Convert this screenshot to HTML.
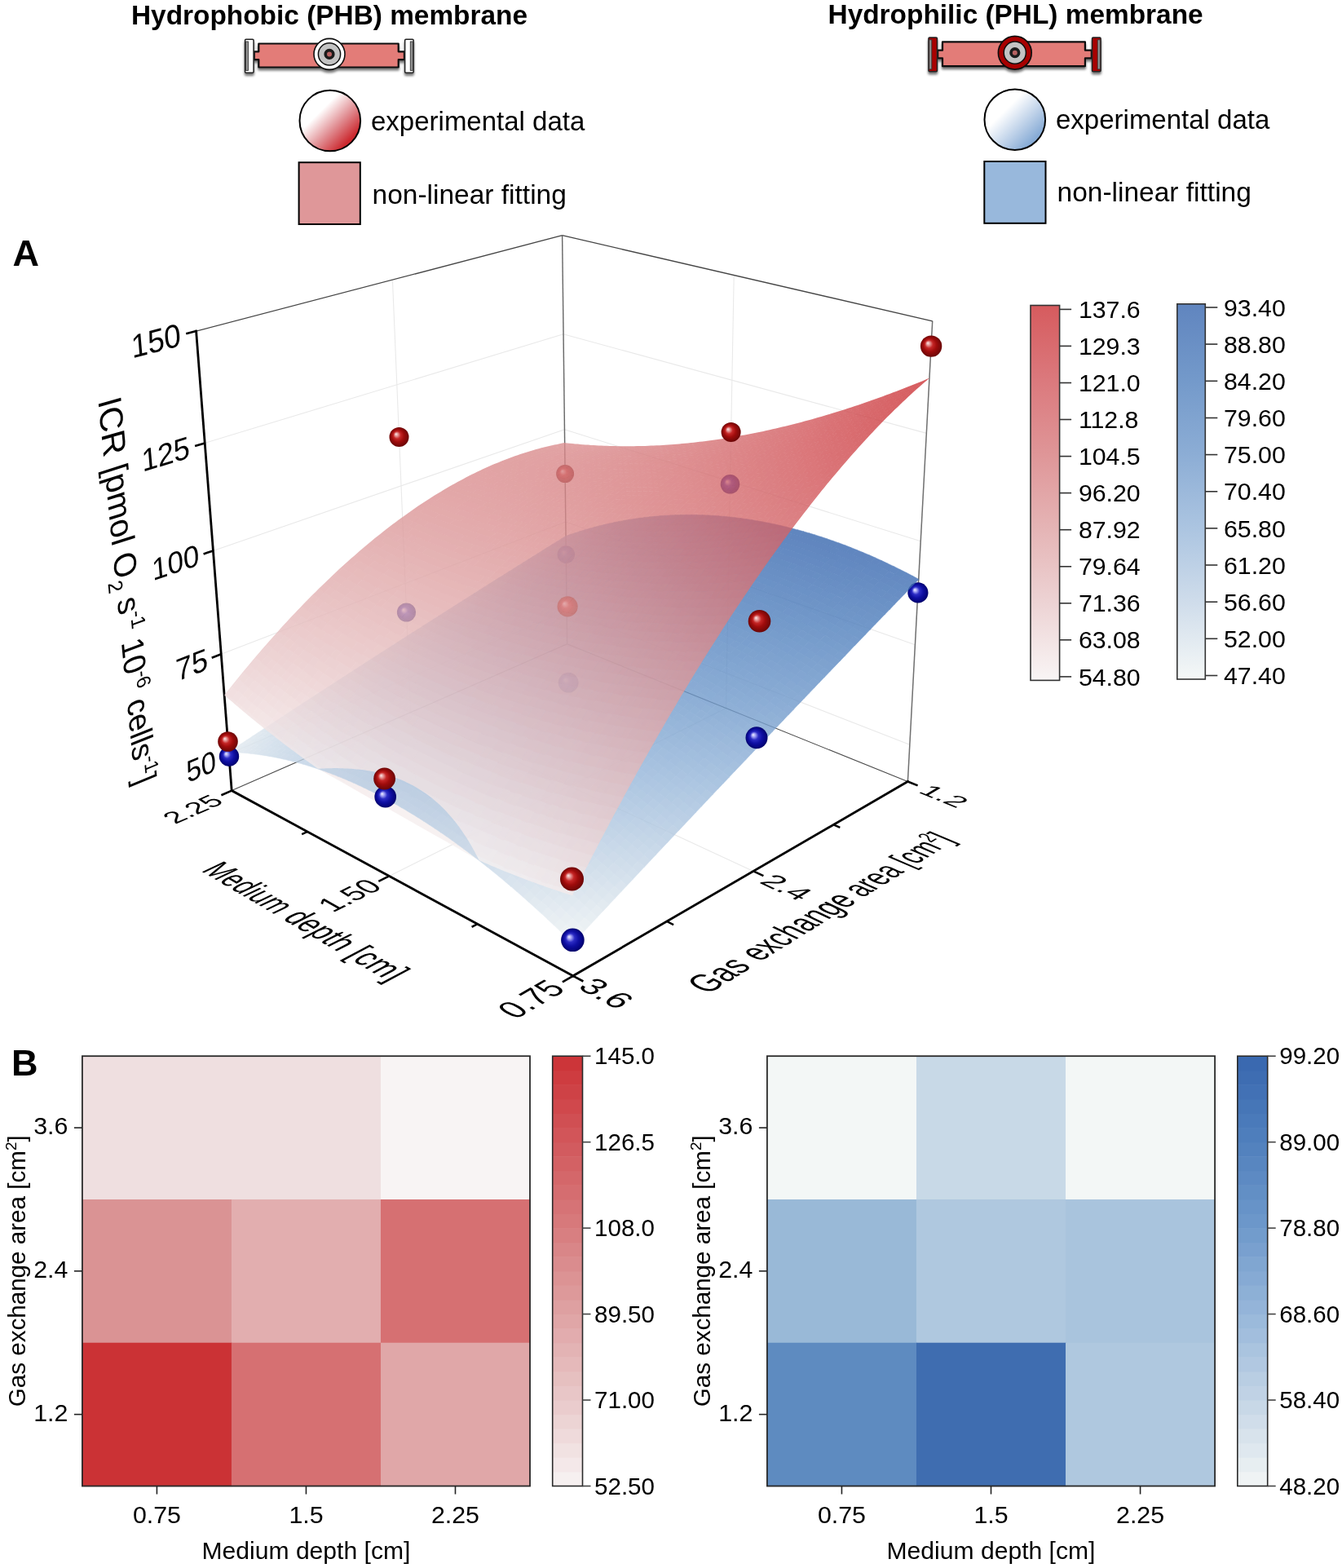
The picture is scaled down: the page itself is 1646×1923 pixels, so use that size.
<!DOCTYPE html>
<html><head><meta charset="utf-8"><title>ICR response surfaces</title>
<style>html,body{margin:0;padding:0;background:#fff;width:1646px;height:1923px;overflow:hidden} body{position:relative}</style>
</head><body>
<svg width="1646" height="1923" viewBox="0 0 1646 1923" style="position:absolute;left:0;top:0">
<defs>
<filter id="shadow" x="-10%" y="-20%" width="120%" height="160%"><feGaussianBlur in="SourceAlpha" stdDeviation="1.6"/><feOffset dx="0" dy="3" result="b"/><feComponentTransfer><feFuncA type="linear" slope="0.55"/></feComponentTransfer><feMerge><feMergeNode/><feMergeNode in="SourceGraphic"/></feMerge></filter>
<linearGradient id="lgR" x1="0.2" y1="0.2" x2="0.85" y2="0.85"><stop offset="0.22" stop-color="#ffffff"/><stop offset="0.6" stop-color="#e18f94"/><stop offset="0.95" stop-color="#cc2a30"/></linearGradient>
<linearGradient id="lgB" x1="0.2" y1="0.2" x2="0.85" y2="0.85"><stop offset="0.22" stop-color="#ffffff"/><stop offset="0.6" stop-color="#c2d4ea"/><stop offset="0.95" stop-color="#88acd6"/></linearGradient>
<radialGradient id="sphR" cx="0.5" cy="0.5" r="0.52" fx="0.34" fy="0.35"><stop offset="0" stop-color="#fbeaea"/><stop offset="0.16" stop-color="#e69696"/><stop offset="0.36" stop-color="#c42626"/><stop offset="0.6" stop-color="#a00c0c"/><stop offset="0.85" stop-color="#7c0808"/><stop offset="1" stop-color="#660606"/></radialGradient>
<radialGradient id="sphB" cx="0.5" cy="0.5" r="0.52" fx="0.34" fy="0.36"><stop offset="0" stop-color="#f0f0ff"/><stop offset="0.16" stop-color="#a0a0f4"/><stop offset="0.36" stop-color="#2c2cc4"/><stop offset="0.6" stop-color="#1010a4"/><stop offset="0.85" stop-color="#050582"/><stop offset="1" stop-color="#030362"/></radialGradient>
<linearGradient id="cbR" x1="0" y1="0" x2="0" y2="1"><stop offset="0.00" stop-color="#d65b5e"/><stop offset="0.20" stop-color="#db797d"/><stop offset="0.40" stop-color="#df9698"/><stop offset="0.60" stop-color="#e5b5b6"/><stop offset="0.80" stop-color="#edd4d5"/><stop offset="1.00" stop-color="#f9f5f5"/></linearGradient>
<linearGradient id="cbB" x1="0" y1="0" x2="0" y2="1"><stop offset="0.00" stop-color="#6085bf"/><stop offset="0.20" stop-color="#7399ca"/><stop offset="0.40" stop-color="#8cadd5"/><stop offset="0.60" stop-color="#acc5e1"/><stop offset="0.80" stop-color="#d0ddeb"/><stop offset="1.00" stop-color="#f5f8f7"/></linearGradient>
</defs>
<rect width="1646" height="1923" fill="#fff"/>
<text x="404" y="30" text-anchor="middle" font-weight="bold" font-size="33.4" style="font-family:'Liberation Sans',Arial,sans-serif">Hydrophobic (PHB) membrane</text>
<text x="1245.6" y="28.8" text-anchor="middle" font-weight="bold" font-size="33.4" style="font-family:'Liberation Sans',Arial,sans-serif">Hydrophilic (PHL) membrane</text>
<g filter="url(#shadow)">
<path d="M317.3,53.5 H488.7 V63.3 H495.9 V73.2 H488.7 V82.5 H317.3 V73.2 H311.8 V63.3 H317.3 Z" fill="#e37b78" stroke="#111" stroke-width="2.2" stroke-linejoin="round"/>
<rect x="300.55" y="48.25" width="10.5" height="40.900000000000006" rx="1.2" fill="#ffffff" stroke="#222" stroke-width="1.5"/>
<rect x="496.65" y="48.25" width="10.5" height="40.900000000000006" rx="1.2" fill="#ffffff" stroke="#222" stroke-width="1.5"/>
<rect x="301.40000000000003" y="51.0" width="3.0" height="35.400000000000006" fill="#959595" stroke="#333" stroke-width="0.9"/>
<rect x="503.29999999999995" y="51.0" width="3.0" height="35.400000000000006" fill="#959595" stroke="#333" stroke-width="0.9"/>
<circle cx="404" cy="66.4" r="19.0" fill="#ffffff" stroke="#111" stroke-width="1.6"/>
<circle cx="404" cy="66.4" r="13.6" fill="#c3c3c3" stroke="#111" stroke-width="1.5"/>
<circle cx="404" cy="66.4" r="4.8" fill="#b86262" stroke="#1a1a1a" stroke-width="3.6"/>
</g>
<g filter="url(#shadow)">
<path d="M1156.0,51.300000000000004 H1330.9 V61.7 H1338.8 V71.4 H1330.9 V81.2 H1156.0 V71.4 H1150.2 V61.7 H1156.0 Z" fill="#e37b78" stroke="#111" stroke-width="2.2" stroke-linejoin="round"/>
<rect x="1138.95" y="46.05" width="10.5" height="41.60000000000001" rx="1.2" fill="#a80000" stroke="#222" stroke-width="1.5"/>
<rect x="1339.55" y="46.05" width="10.5" height="41.60000000000001" rx="1.2" fill="#a80000" stroke="#222" stroke-width="1.5"/>
<rect x="1139.8" y="48.8" width="3.0" height="36.10000000000001" fill="#959595" stroke="#333" stroke-width="0.9"/>
<rect x="1346.2" y="48.8" width="3.0" height="36.10000000000001" fill="#959595" stroke="#333" stroke-width="0.9"/>
<circle cx="1244.8" cy="64.7" r="20.4" fill="#a80000" stroke="#111" stroke-width="1.7"/>
<circle cx="1244.8" cy="64.7" r="13.6" fill="#c3c3c3" stroke="#111" stroke-width="1.5"/>
<circle cx="1244.8" cy="64.7" r="4.8" fill="#b86262" stroke="#1a1a1a" stroke-width="3.6"/>
</g>
<circle cx="404.8" cy="148" r="37.3" fill="url(#lgR)" stroke="#000" stroke-width="2"/>
<rect x="366.6" y="199.2" width="75.2" height="75.8" fill="#df9799" stroke="#000" stroke-width="2"/>
<text x="455" y="160.3" font-size="33" style="font-family:'Liberation Sans',Arial,sans-serif">experimental data</text>
<text x="456.5" y="249.5" font-size="33.5" style="font-family:'Liberation Sans',Arial,sans-serif">non-linear fitting</text>
<circle cx="1244.8" cy="146.7" r="37.3" fill="url(#lgB)" stroke="#000" stroke-width="2"/>
<rect x="1207.3" y="198.0" width="75.2" height="75.8" fill="#98b8dc" stroke="#000" stroke-width="2"/>
<text x="1295" y="157.6" font-size="33" style="font-family:'Liberation Sans',Arial,sans-serif">experimental data</text>
<text x="1296.5" y="247" font-size="33.5" style="font-family:'Liberation Sans',Arial,sans-serif">non-linear fitting</text>
<text x="15.5" y="326" font-weight="bold" font-size="45" style="font-family:'Liberation Sans',Arial,sans-serif">A</text>
<line x1="280.7" y1="924.4" x2="695.1" y2="749.2" stroke="#e9e9e9" stroke-width="1.1" />
<line x1="695.1" y1="749.2" x2="1115.8" y2="913.2" stroke="#e9e9e9" stroke-width="1.1" />
<line x1="271.2" y1="802.3" x2="693.8" y2="639.9" stroke="#e9e9e9" stroke-width="1.1" />
<line x1="693.8" y1="639.9" x2="1122.4" y2="790.8" stroke="#e9e9e9" stroke-width="1.1" />
<line x1="261.4" y1="675.4" x2="692.4" y2="526.8" stroke="#e9e9e9" stroke-width="1.1" />
<line x1="692.4" y1="526.8" x2="1129.2" y2="663.7" stroke="#e9e9e9" stroke-width="1.1" />
<line x1="251.2" y1="543.4" x2="691.0" y2="409.8" stroke="#e9e9e9" stroke-width="1.1" />
<line x1="691.0" y1="409.8" x2="1136.4" y2="531.4" stroke="#e9e9e9" stroke-width="1.1" />
<line x1="503.7" y1="873.7" x2="481.4" y2="343.1" stroke="#e9e9e9" stroke-width="1.1" />
<line x1="890.5" y1="868.5" x2="900.2" y2="337.4" stroke="#e9e9e9" stroke-width="1.1" />
<line x1="477.3" y1="1074.4" x2="890.5" y2="868.5" stroke="#e9e9e9" stroke-width="1.1" />
<line x1="924.0" y1="1068.4" x2="503.7" y2="873.7" stroke="#e9e9e9" stroke-width="1.1" />
<line x1="284.2" y1="969.6" x2="695.6" y2="789.8" stroke="#4a4a4a" stroke-width="1.1" />
<line x1="695.6" y1="789.8" x2="1113.4" y2="958.5" stroke="#4a4a4a" stroke-width="1.1" />
<line x1="695.6" y1="789.8" x2="689.6" y2="288.7" stroke="#6a6a6a" stroke-width="1.45" />
<line x1="1113.4" y1="958.5" x2="1143.7" y2="393.8" stroke="#707070" stroke-width="1.5" />
<line x1="240.6" y1="406.1" x2="689.6" y2="288.7" stroke="#454545" stroke-width="1.35" />
<line x1="689.6" y1="288.7" x2="1143.7" y2="393.8" stroke="#454545" stroke-width="1.35" />
<line x1="284.2" y1="969.6" x2="240.6" y2="406.1" stroke="#000" stroke-width="2.8" stroke-linecap="square"/>
<line x1="284.2" y1="969.6" x2="702.9" y2="1196.8" stroke="#000" stroke-width="2.8" stroke-linecap="square"/>
<line x1="702.9" y1="1196.8" x2="1113.4" y2="958.5" stroke="#000" stroke-width="2.8" stroke-linecap="square"/>
<line x1="280.7" y1="924.4" x2="269.4" y2="929.2" stroke="#000" stroke-width="2.6" />
<line x1="271.2" y1="802.3" x2="259.7" y2="806.7" stroke="#000" stroke-width="2.6" />
<line x1="261.4" y1="675.4" x2="249.6" y2="679.4" stroke="#000" stroke-width="2.6" />
<line x1="251.2" y1="543.4" x2="239.1" y2="547.1" stroke="#000" stroke-width="2.6" />
<line x1="240.6" y1="406.1" x2="228.2" y2="409.3" stroke="#000" stroke-width="2.6" />
<line x1="284.2" y1="969.6" x2="271.4" y2="975.2" stroke="#000" stroke-width="2.6" />
<line x1="477.3" y1="1074.4" x2="464.3" y2="1080.8" stroke="#000" stroke-width="2.6" />
<line x1="702.9" y1="1196.8" x2="689.9" y2="1204.3" stroke="#000" stroke-width="2.6" />
<line x1="377.1" y1="1020.0" x2="370.2" y2="1023.2" stroke="#000" stroke-width="2.4" />
<line x1="585.6" y1="1133.1" x2="578.6" y2="1136.9" stroke="#000" stroke-width="2.4" />
<line x1="702.9" y1="1196.8" x2="715.4" y2="1203.5" stroke="#000" stroke-width="2.6" />
<line x1="924.0" y1="1068.4" x2="936.4" y2="1074.1" stroke="#000" stroke-width="2.6" />
<line x1="1113.4" y1="958.5" x2="1125.6" y2="963.4" stroke="#000" stroke-width="2.6" />
<line x1="817.9" y1="1130.0" x2="826.1" y2="1134.1" stroke="#000" stroke-width="2.4" />
<line x1="1022.3" y1="1011.4" x2="1030.3" y2="1014.9" stroke="#000" stroke-width="2.4" />
<defs><g id="rm" stroke-width="0.5"><path fill=#cc3236 stroke=#cc3236 d="M1151.3 456.9l-9.1 3.7l-6.1 5.4l9 -3.7z"/><path fill=#cc3337 stroke=#cc3337 d="M1145.1 462.1l-9 3.6l-6.2 5.5l9.1 -3.5z"/><path fill=#cc3438 stroke=#cc3438 d="M1139 467.4l-9.1 3.6l-6.2 5.7l9 -3.4zM1142.7 460.6l-9 3.6l-6.2 5.3l9 -3.5z"/><path fill=#cd3539 stroke=#cd3539 d="M1132.8 473l-9.1 3.4l-6.2 5.9l9 -3.4z"/><path fill=#cd373b stroke=#cd373b d="M1126.5 478.6l-9 3.4l-6.3 6l9 -3.2zM1127.9 469.2l-8.9 3.4l-6.2 5.4l9 -3.3z"/><path fill=#cd383c stroke=#cd383c d="M1120.2 484.4l-9 3.3l-6.3 6.2l9 -3.2zM1124.1 476.4l-8.9 3.3l-6.3 5.8l9 -3.2z"/><path fill=#cd3a3e stroke=#cd3a3e d="M1113.9 490.4l-9 3.2l-6.3 6.3l8.9 -3zM1111.6 487.7l-8.9 3.2l-6.3 6.1l8.9 -3zM1115.6 479.8l-8.9 3.2l-6.3 5.7l8.9 -3.1zM1119.4 472.6l-8.8 3.4l-6.2 5.3l8.9 -3.2z"/><path fill=#cd3b3f stroke=#cd3b3f d="M1107.6 496.5l-9 3.1l-6.4 6.5l8.9 -2.9zM1109.3 485.3l-8.8 3.1l-6.3 5.9l8.8 -3zM1113.3 477.8l-8.9 3.2l-6.2 5.5l8.8 -3.1zM1117.1 471.1l-8.8 3.3l-6.1 5.1l8.8 -3.2z"/><path fill=#ce3d41 stroke=#ce3d41 d="M1101.2 502.8l-8.9 3l-6.5 6.7l8.9 -2.9zM1099 499.7l-8.9 3l-6.4 6.4l8.8 -2.9zM1103.1 491l-8.9 3l-6.3 6.1l8.8 -3zM1100.8 488.5l-8.8 3l-6.3 5.9l8.8 -3zM1104.8 481l-8.8 3.2l-6.2 5.4l8.8 -3.1zM1108.7 474.4l-8.8 3.2l-6.1 5.1l8.8 -3.2z"/><path fill=#ce3e42 stroke=#ce3e42 d="M1094.8 509.3l-8.9 2.9l-6.5 6.8l8.9 -2.8zM1096.8 496.8l-8.9 2.9l-6.3 6.3l8.8 -2.9zM1098.6 486.3l-8.7 3l-6.3 5.6l8.8 -3zM1102.6 479.2l-8.8 3.2l-6.1 5.2l8.7 -3.1z"/><path fill=#ce4044 stroke=#ce4044 d="M1088.4 515.9l-8.9 2.8l-6.6 7l8.9 -2.7zM1090.5 502.7l-8.9 2.9l-6.4 6.4l8.8 -2.8zM1088.3 499.8l-8.8 2.9l-6.4 6.1l8.8 -2.8zM1092.4 491.6l-8.7 3l-6.3 5.7l8.7 -2.9zM1094.3 482.4l-8.7 3.1l-6.2 5.1l8.7 -3z"/><path fill=#cf4246 stroke=#cf4246 d="M1081.9 522.6l-8.9 2.7l-6.6 7.2l8.9 -2.6zM1079.8 518.7l-8.8 2.8l-6.6 6.9l8.8 -2.6zM1079.9 502.8l-8.7 2.8l-6.4 6l8.7 -2.7z"/><path fill=#cf4448 stroke=#cf4448 d="M1075.4 529.5l-8.9 2.6l-6.6 7.4l8.9 -2.6zM1073.3 525.4l-8.8 2.6l-6.6 7.1l8.8 -2.5zM1071.3 521.6l-8.8 2.6l-6.5 6.8l8.7 -2.5zM1073.6 508.6l-8.7 2.7l-6.5 6.2l8.7 -2.6zM1071.5 505.6l-8.6 2.7l-6.4 6l8.6 -2.6zM1075.7 497.6l-8.6 2.8l-6.3 5.5l8.6 -2.7zM1079.8 490.3l-8.6 2.9l-6.2 5.2l8.6 -2.8zM1083.9 483.9l-8.6 2.9l-6.2 4.8l8.6 -2.8z"/><path fill=#cf464a stroke=#cf464a d="M1068.9 536.6l-8.9 2.5l-6.6 7.5l8.8 -2.4zM1066.8 532.2l-8.8 2.6l-6.6 7.2l8.8 -2.4zM1064.8 528.1l-8.7 2.6l-6.6 7l8.7 -2.5zM1062.8 524.3l-8.7 2.5l-6.5 6.8l8.7 -2.5zM1065.2 511.4l-8.6 2.6l-6.5 6.1l8.7 -2.5zM1067.5 500.4l-8.6 2.7l-6.3 5.5l8.6 -2.6zM1071.6 493.2l-8.5 2.8l-6.3 5.2l8.6 -2.7zM1075.7 486.9l-8.6 2.8l-6.1 4.8l8.5 -2.8z"/><path fill=#cf484c stroke=#cf484c d="M1062.3 543.8l-8.8 2.4l-6.7 7.7l8.8 -2.4zM1060.3 539.2l-8.8 2.5l-6.6 7.4l8.8 -2.4zM1058.4 534.9l-8.8 2.4l-6.6 7.2l8.7 -2.4zM1056.4 530.8l-8.7 2.4l-6.6 7l8.7 -2.4zM1056.9 514.1l-8.6 2.5l-6.4 6.1l8.6 -2.5zM1059.2 503.2l-8.5 2.6l-6.3 5.5l8.6 -2.6zM1063.4 496.1l-8.5 2.7l-6.2 5l8.5 -2.6zM1067.6 489.8l-8.5 2.7l-6.1 4.7l8.4 -2.7z"/><path fill=#d04a4e stroke=#d04a4e d="M1055.7 551.2l-8.8 2.3l-6.7 7.9l8.8 -2.3zM1053.8 546.3l-8.8 2.4l-6.7 7.6l8.8 -2.3zM1051.8 541.8l-8.7 2.3l-6.6 7.4l8.7 -2.3zM1049.9 537.4l-8.7 2.4l-6.6 7.1l8.7 -2.3zM1048 533.3l-8.6 2.4l-6.6 6.8l8.6 -2.3zM1046.1 529.5l-8.6 2.3l-6.5 6.6l8.6 -2.3zM1048.7 516.7l-8.6 2.4l-6.4 6l8.6 -2.3zM1051.1 505.9l-8.5 2.5l-6.3 5.4l8.5 -2.5zM1055.3 498.8l-8.4 2.7l-6.2 4.9l8.4 -2.5zM1059.5 492.6l-8.4 2.7l-6.2 4.6l8.5 -2.6z"/><path fill=#d04c50 stroke=#d04c50 d="M1049.1 558.7l-8.8 2.3l-6.8 8l8.8 -2.2zM1047.2 553.6l-8.8 2.3l-6.7 7.7l8.8 -2.1zM1045.3 548.8l-8.7 2.3l-6.7 7.5l8.7 -2.2zM1043.4 544.2l-8.7 2.3l-6.6 7.3l8.7 -2.2zM1041.5 539.9l-8.6 2.3l-6.6 7l8.6 -2.2zM1039.7 535.8l-8.6 2.3l-6.6 6.7l8.6 -2.2zM1037.8 531.9l-8.5 2.3l-6.5 6.5l8.5 -2.2zM1040.5 519.2l-8.5 2.4l-6.4 5.9l8.5 -2.3zM1043 508.5l-8.4 2.4l-6.3 5.3l8.4 -2.3zM1047.3 501.5l-8.4 2.5l-6.2 4.9l8.4 -2.4zM1051.5 495.3l-8.4 2.6l-6.1 4.6l8.4 -2.6z"/><path fill=#d04e52 stroke=#d04e52 d="M1042.5 566.4l-8.8 2.2l-6.8 8.1l8.8 -2.1zM1040.6 561.1l-8.8 2.2l-6.7 7.9l8.7 -2.1zM1035 546.6l-8.6 2.2l-6.6 7.2l8.6 -2.1zM1033.2 542.3l-8.6 2.2l-6.5 6.9l8.5 -2.1zM1031.4 538.2l-8.5 2.2l-6.6 6.7l8.5 -2.2zM1029.6 534.3l-8.5 2.2l-6.5 6.5l8.5 -2.2zM1032.3 521.7l-8.4 2.3l-6.4 5.8l8.4 -2.2zM1035 511l-8.4 2.4l-6.3 5.2l8.4 -2.3zM1039.3 504.1l-8.4 2.5l-6.2 4.8l8.4 -2.4zM1043.5 498l-8.3 2.5l-6.1 4.5l8.3 -2.5z"/><path fill=#d15054 stroke=#d15054 d="M1035.8 574.3l-8.8 2.1l-6.8 8.3l8.7 -2zM1034 568.7l-8.8 2.1l-6.8 8l8.8 -2zM1025 544.6l-8.6 2.1l-6.6 6.8l8.6 -2zM1023.2 540.5l-8.5 2.1l-6.5 6.6l8.4 -2zM1021.4 536.6l-8.4 2.1l-6.5 6.4l8.4 -2zM1024.3 524.1l-8.4 2.2l-6.4 5.7l8.4 -2.1zM1022.5 521.1l-8.3 2.2l-6.4 5.5l8.3 -2.1zM1027 513.5l-8.4 2.3l-6.2 5.1l8.3 -2.2zM1031.3 506.6l-8.3 2.4l-6.2 4.7l8.3 -2.2zM1035.6 500.6l-8.3 2.4l-6.1 4.4l8.3 -2.4z"/><path fill=#d15256 stroke=#d15256 d="M1029.1 582.3l-8.8 2l-6.8 8.4l8.7 -1.9zM1027.3 576.5l-8.7 2l-6.9 8.2l8.8 -1.9zM1016.7 546.8l-8.4 2l-6.6 6.8l8.5 -2zM1015 542.7l-8.4 2l-6.5 6.6l8.4 -2zM1013.3 538.8l-8.4 2.1l-6.5 6.3l8.4 -2zM1011.6 535.2l-8.3 2l-6.5 6.1l8.3 -2zM1016.2 526.4l-8.3 2.1l-6.4 5.7l8.3 -2.1zM1014.5 523.4l-8.3 2.1l-6.3 5.5l8.3 -2.1zM1019 515.8l-8.2 2.2l-6.3 5.1l8.2 -2.1zM1023.4 509.1l-8.2 2.2l-6.2 4.7l8.2 -2.2zM1027.7 503.1l-8.2 2.3l-6.1 4.3l8.2 -2.3z"/><path fill=#d15458 stroke=#d15458 d="M1022.4 590.5l-8.8 1.9l-6.9 8.6l8.7 -1.8zM1020.6 584.4l-8.7 1.9l-6.9 8.4l8.7 -1.9zM1018.8 578.6l-8.6 1.9l-6.8 8.1l8.6 -1.8zM1006.9 544.9l-8.3 1.9l-6.6 6.4l8.4 -1.8zM1005.3 541l-8.4 1.9l-6.5 6.2l8.3 -1.8zM1003.6 537.3l-8.3 2l-6.5 6l8.3 -1.9zM1008.3 528.6l-8.3 2l-6.4 5.6l8.3 -1.9zM1006.6 525.6l-8.2 2.1l-6.4 5.3l8.2 -1.9zM1011.1 518.1l-8.2 2.1l-6.3 5l8.2 -2zM1015.6 511.4l-8.2 2.2l-6.2 4.6l8.2 -2.1zM1019.9 505.5l-8.1 2.2l-6.1 4.3l8.1 -2.2z"/><path fill=#d2575b stroke=#d2575b d="M1015.6 598.8l-8.8 1.8l-6.9 8.8l8.8 -1.7zM1003.8 588.4l-8.6 1.7l-6.8 8.2l8.5 -1.7zM1002.1 582.6l-8.5 1.7l-6.8 8l8.5 -1.7zM1000.5 577l-8.5 1.8l-6.8 7.7l8.5 -1.7zM998.9 571.7l-8.5 1.8l-6.7 7.5l8.4 -1.7zM997.2 566.7l-8.4 1.8l-6.7 7.2l8.4 -1.7zM995.6 561.9l-8.3 1.8l-6.7 7l8.4 -1.7zM994 557.3l-8.3 1.8l-6.6 6.8l8.3 -1.7zM992.4 553l-8.3 1.8l-6.5 6.5l8.3 -1.7zM990.9 548.9l-8.3 1.8l-6.5 6.3l8.2 -1.7zM994 536l-8.2 1.9l-6.4 5.6l8.2 -1.7zM992.5 532.8l-8.2 1.9l-6.4 5.4l8.2 -1.8zM997.1 525l-8.1 2l-6.4 5l8.2 -1.8zM1001.6 518l-8.1 2l-6.2 4.7l8.1 -1.9zM1006.1 511.8l-8.1 2.1l-6.1 4.3l8.1 -2z"/><path fill=#d2595d stroke=#d2595d d="M1008.8 607.3l-8.7 1.7l-7 9l8.7 -1.7zM995.5 590.2l-8.6 1.7l-6.8 8.1l8.5 -1.6zM993.9 584.4l-8.5 1.7l-6.8 7.9l8.5 -1.6zM992.3 578.9l-8.5 1.7l-6.7 7.6l8.4 -1.6zM986 559.2l-8.3 1.7l-6.6 6.7l8.3 -1.6zM984.4 554.9l-8.2 1.7l-6.6 6.5l8.3 -1.7zM982.9 550.8l-8.2 1.7l-6.5 6.2l8.2 -1.6zM981.4 547l-8.2 1.7l-6.5 5.9l8.2 -1.6zM984.6 534.8l-8.1 1.8l-6.4 5.4l8.1 -1.8zM989.3 527.1l-8.1 1.9l-6.3 5l8.1 -1.8zM987.7 524.5l-8 1.9l-6.3 4.8l8.1 -1.8zM998.4 514l-8 2l-6.2 4.3l8 -2zM992.3 518l-8 2l-6.2 4.4l8 -1.9z"/><path fill=#d25b5f stroke=#d25b5f d="M1002 615.9l-8.7 1.7l-7 9.1l8.7 -1.5zM988.8 598l-8.6 1.6l-6.8 8.3l8.5 -1.5zM987.2 592l-8.5 1.6l-6.8 8l8.5 -1.5zM973.5 548.8l-8.1 1.6l-6.5 5.9l8.1 -1.5zM972 545.2l-8 1.6l-6.5 5.7l8.1 -1.6zM976.8 536.7l-8 1.7l-6.4 5.3l8.1 -1.6zM975.4 533.7l-8.1 1.8l-6.3 5l8 -1.6zM980.1 526.5l-8 1.8l-6.3 4.7l8 -1.7zM984.7 520.1l-8 1.8l-6.2 4.4l8 -1.8z"/><path fill=#d35e61 stroke=#d35e61 d="M995.1 624.8l-8.7 1.5l-7 9.3l8.7 -1.5zM969.4 589.6l-8.4 1.5l-6.7 7.6l8.3 -1.4zM967.9 584.1l-8.3 1.5l-6.7 7.3l8.3 -1.4zM960.8 560.2l-8.1 1.5l-6.6 6.1l8.1 -1.4zM959.3 556.1l-8 1.5l-6.5 5.9l8 -1.4zM966.2 532.8l-7.9 1.6l-6.3 4.8l7.9 -1.5zM970.9 526.1l-7.9 1.7l-6.2 4.4l7.9 -1.6z"/><path fill=#d36063 stroke=#d36063 d="M988.3 633.7l-8.7 1.5l-7.1 9.4l8.7 -1.3zM962.7 596.9l-8.3 1.4l-6.8 7.7l8.3 -1.2zM950.2 553.8l-7.9 1.5l-6.5 5.6l7.9 -1.3zM953.8 542l-7.9 1.5l-6.4 5.1l7.9 -1.5zM968 522l-7.8 1.7l-6.2 4l7.9 -1.6z"/><path fill=#d36266 stroke=#d36266 d="M981.4 642.9l-8.7 1.3l-7.1 9.6l8.7 -1.2zM970 629.5l-8.5 1.3l-7 9l8.5 -1.2zM945.4 594.1l-8.2 1.2l-6.8 7.3l8.2 -1.1zM944 588.6l-8.1 1.2l-6.7 7.1l8.1 -1.1zM937.5 564.8l-7.9 1.2l-6.6 6l7.9 -1.2zM936.2 560.7l-7.9 1.3l-6.5 5.7l7.9 -1.2zM940 548.4l-7.9 1.3l-6.4 5.1l7.8 -1.2zM943.6 537.9l-7.8 1.4l-6.3 4.6l7.8 -1.4zM948.4 531.4l-7.8 1.4l-6.2 4.2l7.8 -1.4zM959.2 522.1l-7.8 1.6l-6.1 3.7l7.8 -1.5z"/><path fill=#d46568 stroke=#d46568 d="M974.4 652.2l-8.6 1.3l-7.1 9.7l8.6 -1.1zM963.1 638.2l-8.5 1.2l-7 9.2l8.5 -1.2zM952.1 625.2l-8.4 1.2l-6.9 8.6l8.4 -1.1zM941.4 613.3l-8.3 1.1l-6.9 8l8.3 -1zM940 607.1l-8.2 1.1l-6.8 7.8l8.2 -1.1zM928.3 591.2l-8 1.1l-6.7 6.9l8 -1zM927.1 586l-8 1.1l-6.7 6.7l8 -1zM925.9 581l-8 1.1l-6.6 6.5l7.9 -1zM924.7 576.3l-8 1.1l-6.6 6.2l7.9 -1zM923.4 571.8l-7.8 1.1l-6.6 6l7.9 -1zM922.2 567.5l-7.8 1.1l-6.6 5.8l7.9 -1.1zM926.2 554.6l-7.8 1.2l-6.5 5.2l7.8 -1.1zM924.9 551.2l-7.7 1.2l-6.4 5l7.7 -1.1zM929.9 543.7l-7.7 1.2l-6.3 4.7l7.7 -1.2zM934.9 536.9l-7.8 1.3l-6.2 4.3l7.7 -1.3zM939.7 530.8l-7.7 1.4l-6.2 4l7.7 -1.4z"/><path fill=#d4676b stroke=#d4676b d="M967.5 661.7l-8.7 1.1l-7.1 10l8.6 -1.1zM924.2 609.5l-8.1 1l-6.8 7.6l8.1 -.9zM931.1 530.4l-7.6 1.3l-6.2 3.7l7.7 -1.3z"/><path fill=#d46a6d stroke=#d46a6d d="M960.5 671.3l-8.6 1.1l-7.2 10.1l8.6 -1zM939.8 649.4l-8.4 1l-7 9.1l8.4 -.8zM929.2 635.8l-8.3 .9l-7 8.6l8.3 -.9zM918.7 623.2l-8.1 .9l-6.9 8l8.2 -.8zM907.4 605.7l-7.9 .9l-6.8 7.1l8 -.7zM906.3 600.1l-7.9 .8l-6.8 6.9l8 -.7zM898.6 566.9l-7.7 .9l-6.5 5.4l7.7 -.8zM897.5 563.1l-7.6 .9l-6.5 5.1l7.7 -.8zM901.6 551.8l-7.5 1l-6.4 4.6l7.6 -1zM906.7 544.9l-7.5 1l-6.3 4.2l7.5 -.9z"/><path fill=#d56d6f stroke=#d56d6f d="M953.5 681.1l-8.6 1l-7.2 10.2l8.6 -.9zM913.2 637.8l-8.2 .8l-6.9 8.4l8.1 -.7zM903 625.2l-8 .7l-6.9 7.8l8.1 -.7zM892.1 607.6l-7.9 .7l-6.8 7l7.9 -.6zM882.9 565.1l-7.6 .8l-6.5 5l7.6 -.7zM892.3 547.2l-7.5 .9l-6.3 4.1l7.5 -.9z"/><path fill=#d56f72 stroke=#d56f72 d="M946.5 691.1l-8.6 .8l-7.3 10.4l8.6 -.7zM916.7 660.2l-8.3 .7l-7 9.1l8.3 -.6zM897.4 639.5l-8 .7l-7 8.2l8.1 -.6zM887.5 626.8l-7.9 .6l-6.9 7.6l8 -.5zM876.9 609.2l-7.8 .5l-6.8 6.9l7.8 -.5zM875.9 603.6l-7.7 .5l-6.8 6.6l7.8 -.5zM869.3 570.7l-7.5 .6l-6.5 5l7.5 -.5zM868.4 566.9l-7.5 .6l-6.5 4.8l7.5 -.5zM872.8 555.9l-7.4 .7l-6.4 4.3l7.4 -.7zM878 549.3l-7.4 .7l-6.3 4l7.4 -.7zM895.3 537l-7.5 1l-6.1 3.3l7.4 -.9zM889.2 540.1l-7.4 .9l-6.2 3.5l7.4 -.8z"/><path fill=#d67275 stroke=#d67275 d="M939.4 701.2l-8.6 .8l-7.2 10.5l8.6 -.6zM929.8 692.9l-8.5 .8l-7.2 10.2l8.5 -.6zM920.3 685l-8.4 .6l-7.1 9.9l8.4 -.6zM891.7 654.8l-8.1 .6l-7 8.5l8.1 -.4zM873.2 634.8l-7.9 .4l-6.9 7.7l7.9 -.4zM863.7 622.4l-7.8 .4l-6.8 7.1l7.8 -.3zM862.8 616.3l-7.7 .4l-6.8 6.9l7.7 -.3zM852.8 600.1l-7.6 .4l-6.7 6.1l7.6 -.3zM851.9 595l-7.5 .4l-6.7 5.9l7.5 -.3zM851.1 590.1l-7.5 .4l-6.7 5.7l7.5 -.3zM850.2 585.4l-7.4 .4l-6.6 5.5l7.4 -.3zM849.4 581l-7.4 .4l-6.6 5.3l7.4 -.4zM848.6 576.8l-7.4 .4l-6.6 5l7.4 -.3zM853.2 564.8l-7.3 .5l-6.5 4.4l7.4 -.4zM852.4 561.4l-7.3 .5l-6.4 4.3l7.3 -.4zM857.7 554.6l-7.3 .6l-6.3 3.9l7.3 -.5zM869.1 545.3l-7.3 .7l-6.2 3.4l7.2 -.6z"/><path fill=#d67577 stroke=#d67577 d="M932.3 711.5l-8.6 .6l-7.2 10.8l8.5 -.6zM922.8 702.9l-8.5 .6l-7.3 10.4l8.5 -.6zM913.3 694.5l-8.4 .6l-7.1 10l8.3 -.5zM904.1 686.4l-8.3 .6l-7.2 9.6l8.3 -.4zM876.1 656.1l-8 .4l-7 8.4l8 -.3zM867.4 649.2l-7.9 .4l-7 8l7.9 -.2zM857.9 635.8l-7.8 .3l-6.8 7.5l7.8 -.2zM848.7 623.4l-7.7 .3l-6.8 6.9l7.7 -.2zM838.9 606.4l-7.5 .2l-6.7 6.2l7.5 -.1zM838.2 601.1l-7.5 .2l-6.7 6l7.5 -.2zM834.4 577.8l-7.4 .3l-6.5 4.9l7.3 -.2zM833.6 573.9l-7.3 .2l-6.5 4.7l7.3 -.2zM838.4 562.7l-7.3 .3l-6.4 4.2l7.2 -.3zM843.8 556l-7.3 .4l-6.3 3.8l7.2 -.4zM855.2 546.9l-7.2 .6l-6.3 3.3l7.2 -.5zM849.1 550l-7.2 .5l-6.3 3.5l7.2 -.4z"/><path fill=#d6787a stroke=#d6787a d="M925.2 721.9l-8.5 .6l-7.3 10.9l8.5 -.5zM915.7 713l-8.5 .5l-7.2 10.5l8.4 -.4zM906.3 704.3l-8.4 .4l-7.2 10.2l8.4 -.4zM897.1 695.8l-8.3 .5l-7.2 9.8l8.3 -.3zM888 687.6l-8.2 .4l-7.1 9.5l8.2 -.3zM879 679.7l-8.1 .4l-7.1 9.1l8.1 -.2zM870.2 672l-8 .3l-7.1 8.8l8.1 -.2zM861.5 664.6l-7.9 .2l-7 8.5l7.9 -.1zM843.7 643.4l-7.7 .1l-6.9 7.6l7.7 -.1zM835.4 636.9l-7.6 .1l-6.9 7.3l7.7 -.1zM834.7 630.4l-7.6 .1l-6.9 7l7.6 0zM826.6 624.4l-7.6 .1l-6.8 6.7l7.6 0zM825.9 618.4l-7.6 .1l-6.7 6.4l7.5 .1zM817.2 607.3l-7.4 0l-6.7 6l7.4 .1zM816.6 602l-7.4 .1l-6.7 5.7l7.4 0zM815.9 597l-7.3 0l-6.7 5.5l7.4 .1zM815.2 592.1l-7.3 .1l-6.6 5.3l7.3 0zM814.6 587.5l-7.3 .1l-6.6 5.1l7.3 0zM813.9 583.1l-7.2 .1l-6.6 4.9l7.3 0zM813.3 579l-7.2 0l-6.6 4.7l7.3 0zM812.7 575l-7.2 .1l-6.5 4.4l7.2 0zM818.3 567.4l-7.2 .1l-6.4 4.2l7.1 -.1zM823.8 560.5l-7.1 .3l-6.4 3.7l7.1 -.1zM817.6 564.1l-7.1 .1l-6.4 3.9l7.1 -.1zM829.3 554.4l-7.2 .3l-6.3 3.4l7.1 -.2zM823.1 557.6l-7.1 .2l-6.3 3.6l7.1 -.2zM852.7 541.1l-7.1 .5l-6.2 2.8l7.2 -.5zM846.7 543.6l-7.1 .5l-6.2 2.8l7.1 -.4zM840.7 546.2l-7.1 .4l-6.2 3l7.1 -.3z"/><path fill=#d77b7d stroke=#d77b7d d="M918.1 732.5l-8.6 .5l-7.3 11.1l8.6 -.4zM882.1 705.8l-8.3 .3l-7.2 9.9l8.3 -.2zM873.1 697.2l-8.1 .3l-7.2 9.5l8.1 -.1zM864.3 688.9l-8.1 .2l-7.1 9.2l8.1 -.1zM855.6 680.9l-8 .1l-7.1 8.9l8 -.1zM847 673l-7.9 .1l-7 8.6l7.9 0zM837.8 657.9l-7.8 .1l-6.9 8l7.7 0zM829.5 650.9l-7.7 0l-6.9 7.6l7.7 .1zM821.4 644l-7.6 0l-6.9 7.3l7.6 .1zM813.3 637.4l-7.5 -.1l-6.8 7l7.5 .2zM812.7 631l-7.5 -.1l-6.8 6.7l7.5 .2zM804.8 624.8l-7.4 -.1l-6.8 6.4l7.4 .2zM804.2 618.8l-7.4 -.1l-6.8 6.3l7.4 .2zM796.5 613.1l-7.3 -.1l-6.8 5.9l7.3 .3zM795.9 607.7l-7.3 -.2l-6.7 5.7l7.3 .3zM795.3 602.4l-7.2 -.1l-6.7 5.5l7.3 .2zM794.8 597.4l-7.2 -.2l-6.7 5.3l7.2 .3zM794.2 592.6l-7.2 -.1l-6.6 5l7.2 .2zM793.7 588l-7.2 -.1l-6.6 4.9l7.2 .2zM793.1 583.7l-7.1 -.2l-6.6 4.7l7.2 .2zM792.6 579.5l-7.1 -.1l-6.6 4.4l7.1 .2zM792 575.6l-7 -.1l-6.5 4.2l7 .2zM797.7 568.2l-7 0l-6.4 3.9l7 .1zM791.5 571.9l-7 -.1l-6.5 4l7 .2zM803.4 561.6l-7.1 0l-6.3 3.6l7 0zM797.2 564.9l-7 0l-6.4 3.7l7 .1zM821.1 550l-7 .2l-6.3 3l7 -.1zM815 552.7l-7 .2l-6.3 3.1l7 -.1zM808.9 555.6l-7 .1l-6.3 3.3l7 -.1zM802.8 558.6l-7 .1l-6.4 3.4l7 0zM832.4 543.1l-7 .4l-6.1 2.5l7 -.3zM826.5 545.4l-7.1 .3l-6.1 2.7l7 -.3z"/><path fill=#d77e80 stroke=#d77e80 d="M910.9 743.3l-8.5 .4l-7.4 11.2l8.6 -.3zM884.1 724.6l-8.3 .2l-7.2 10.4l8.2 -.1zM875 715.4l-8.2 .2l-7.2 10l8.2 0zM866.1 706.5l-8.1 .1l-7.2 9.7l8.2 0zM857.3 697.8l-8 .1l-7.1 9.4l8 0zM848.7 689.4l-8 .1l-7 9l7.9 .1zM840.2 681.3l-7.9 0l-7 8.7l7.8 .1zM831.8 673.4l-7.8 -.1l-7 8.4l7.8 .1zM823.5 665.7l-7.7 -.1l-7 8l7.7 .2zM815.4 658.3l-7.7 -.2l-6.9 7.7l7.6 .3zM807.3 651.1l-7.5 -.2l-6.9 7.4l7.5 .2zM799.4 644.1l-7.5 -.3l-6.9 7.1l7.5 .3zM798.8 637.4l-7.4 -.2l-6.9 6.8l7.5 .3zM791.1 630.9l-7.4 -.3l-6.8 6.6l7.3 .3zM783.4 624.6l-7.3 -.3l-6.8 6.2l7.3 .4zM782.9 618.7l-7.3 -.3l-6.7 6l7.2 .4zM774.9 607.5l-7.2 -.4l-6.7 5.5l7.2 .4zM774.5 602.2l-7.2 -.3l-6.7 5.3l7.2 .4zM774 597.3l-7.1 -.4l-6.7 5.1l7.1 .4zM773.5 592.5l-7.1 -.3l-6.6 4.8l7.1 .4zM773.1 588l-7.1 -.4l-6.6 4.7l7.1 .4zM772.6 583.6l-7 -.3l-6.5 4.5l7 .3zM772.2 579.5l-7 -.3l-6.5 4.2l7 .4zM771.7 575.6l-6.9 -.3l-6.5 4l6.9 .4zM777.5 568.5l-6.9 -.3l-6.4 3.7l6.9 .3zM771.3 571.9l-6.9 -.3l-6.5 3.9l6.9 .3zM789.4 559l-6.9 0l-6.4 3.2l7 .1zM783.3 562l-7 -.1l-6.3 3.4l6.9 .2zM777.1 565.2l-6.9 -.2l-6.4 3.5l6.9 .2zM819.1 544.1l-6.9 .3l-6.2 2.4l7 -.2zM813.1 546.3l-6.9 .2l-6.2 2.5l6.9 -.1zM807.1 548.6l-6.9 .2l-6.2 2.6l6.9 0zM801.1 551.1l-6.9 0l-6.3 2.8l6.9 0zM795 553.6l-6.9 0l-6.3 3l6.9 0zM788.9 556.3l-6.9 0l-6.3 3l6.9 .1z"/><path fill=#d88183 stroke=#d88183 d="M903.7 754.2l-8.5 .3l-7.3 11.4l8.5 -.1zM877 734.7l-8.3 .1l-7.2 10.6l8.2 0zM868 725.2l-8.2 .1l-7.2 10.2l8.2 0zM859.1 715.9l-8.1 .1l-7.2 9.8l8.1 .1zM834.1 698.2l-7.9 -.1l-7.1 9.1l7.9 .2zM825.7 689.7l-7.8 -.2l-7.1 8.8l7.8 .2zM817.4 681.4l-7.7 -.2l-7.1 8.4l7.8 .3zM809.3 673.4l-7.7 -.3l-7 8.1l7.6 .4zM801.2 665.6l-7.6 -.3l-6.9 7.8l7.5 .3zM793.3 658l-7.5 -.3l-6.9 7.4l7.5 .5zM785.5 650.7l-7.4 -.4l-6.9 7.1l7.4 .5zM777.8 643.6l-7.4 -.5l-6.8 6.9l7.3 .5zM777.3 637l-7.3 -.5l-6.9 6.6l7.4 .5zM769.8 630.3l-7.3 -.4l-6.8 6.3l7.3 .5zM762.3 623.9l-7.2 -.5l-6.7 6l7.2 .6zM761.9 618.1l-7.1 -.6l-6.8 5.8l7.2 .6zM754.6 612.1l-7.1 -.6l-6.7 5.5l7.1 .6zM754.3 606.7l-7.1 -.5l-6.7 5.2l7.1 .6zM753.9 601.5l-7 -.5l-6.7 5.1l7 .6zM746.8 596.2l-7 -.5l-6.6 4.7l6.9 .7zM746.4 591.5l-6.9 -.5l-6.6 4.5l6.9 .7zM746.1 587l-6.9 -.5l-6.6 4.3l6.9 .7zM752.1 579l-6.9 -.5l-6.5 4l6.9 .6zM745.8 582.7l-6.9 -.5l-6.5 4.1l6.8 .7zM751.8 575.1l-6.9 -.5l-6.5 3.8l6.9 .6zM745.5 578.7l-6.9 -.6l-6.5 4l6.8 .6zM757.6 568.2l-6.8 -.4l-6.4 3.5l6.8 .4zM751.4 571.4l-6.8 -.4l-6.5 3.6l6.8 .5zM763.4 562l-6.8 -.3l-6.4 3.1l6.9 .4zM757.3 564.9l-6.8 -.4l-6.4 3.3l6.8 .5zM799.4 545.2l-6.8 .1l-6.2 2.2l6.8 0zM793.4 547.3l-6.8 -.1l-6.2 2.4l6.8 .1zM787.4 549.4l-6.8 -.1l-6.3 2.5l6.8 .1zM781.3 551.6l-6.8 -.1l-6.2 2.6l6.8 .2zM775.3 554l-6.8 -.2l-6.3 2.7l6.8 .3zM769.2 556.5l-6.8 -.3l-6.3 2.9l6.7 .3z"/><path fill=#d98486 stroke=#d98486 d="M896.5 765.4l-8.5 .1l-7.4 11.6l8.5 -.1zM869.9 745l-8.3 0l-7.2 10.8l8.2 0zM861 735.1l-8.2 0l-7.3 10.4l8.2 .1zM835.6 716.2l-7.9 -.2l-7.2 9.6l8 .2zM827.2 707l-7.9 -.2l-7.2 9.3l7.9 .3zM818.8 698.2l-7.8 -.3l-7.1 8.9l7.8 .4zM795 681l-7.6 -.4l-7 8.1l7.6 .5zM787.1 672.8l-7.5 -.4l-7 7.8l7.5 .5zM779.3 664.9l-7.5 -.5l-6.9 7.5l7.5 .6zM771.6 657.2l-7.4 -.5l-6.9 7.2l7.4 .6zM764 649.8l-7.3 -.6l-6.9 6.9l7.3 .6zM756.6 642.5l-7.3 -.6l-6.8 6.6l7.2 .7zM749.2 635.5l-7.2 -.7l-6.8 6.3l7.2 .8zM741.9 628.7l-7.1 -.7l-6.8 6l7.1 .8zM741.6 622.7l-7.1 -.7l-6.7 5.7l7 .8zM734.5 616.3l-7 -.7l-6.8 5.4l7 .9zM734.2 610.8l-7 -.8l-6.7 5.3l7 .8zM727.2 604.9l-6.9 -.8l-6.7 4.9l6.9 .9zM727 599.7l-6.9 -.7l-6.7 4.7l6.9 .9zM726.7 594.9l-6.8 -.8l-6.7 4.5l6.9 .9zM719.9 589.6l-6.8 -.8l-6.6 4.3l6.8 .9zM726 581.5l-6.8 -.7l-6.5 3.9l6.8 .8zM719.7 585.2l-6.8 -.8l-6.6 4l6.8 .9zM725.8 577.4l-6.8 -.7l-6.5 3.8l6.8 .8zM731.8 570.4l-6.7 -.6l-6.5 3.4l6.7 .7zM725.6 573.6l-6.8 -.7l-6.5 3.5l6.8 .8zM737.8 564.2l-6.7 -.6l-6.5 3.1l6.7 .6zM731.6 567l-6.7 -.6l-6.5 3.2l6.7 .7zM725.3 570l-6.6 -.7l-6.5 3.3l6.7 .8zM779.9 545.8l-6.7 -.1l-6.1 2l6.7 .2zM774 547.6l-6.8 -.1l-6.2 2.1l6.8 .3zM767.9 549.6l-6.7 -.3l-6.2 2.3l6.7 .3zM761.9 551.6l-6.7 -.3l-6.3 2.4l6.7 .4zM755.8 553.8l-6.6 -.3l-6.4 2.5l6.7 .4zM749.8 556.1l-6.7 -.4l-6.4 2.6l6.7 .6zM743.6 558.6l-6.6 -.5l-6.4 2.7l6.7 .6zM737.5 561.1l-6.7 -.6l-6.4 2.9l6.7 .7z"/><path fill=#d98889 stroke=#d98889 d="M889.3 776.6l-8.5 .1l-7.4 11.7l8.5 .1zM862.8 755.4l-8.3 0l-7.3 10.9l8.3 .1zM837.2 735.2l-8 -.2l-7.2 10l8 .4zM812.6 715.8l-7.9 -.4l-7.1 9.3l7.8 .5zM780.9 688.5l-7.6 -.6l-7 8.3l7.5 .6zM750.7 663.1l-7.4 -.7l-6.9 7.2l7.3 .8zM743.2 655.3l-7.2 -.8l-6.9 6.9l7.2 .8zM735.9 647.7l-7.1 -.9l-6.9 6.6l7.2 .9zM714.7 626.1l-7 -.9l-6.8 5.7l7 1zM707.8 619.4l-7 -1l-6.7 5.4l6.9 1zM701 612.9l-6.9 -1.1l-6.7 5.1l6.8 1.1zM694.1 601.3l-6.7 -1.1l-6.7 4.6l6.8 1.1zM687.4 586l-6.6 -1.1l-6.6 3.9l6.6 1.2zM687.4 581.6l-6.6 -1.1l-6.6 3.7l6.6 1.2zM693.5 570.5l-6.5 -1l-6.5 3.2l6.5 1.1zM742.5 549.1l-6.6 -.5l-6.2 2l6.5 .6zM736.4 550.9l-6.5 -.6l-6.3 2.2l6.6 .6zM705.9 561.7l-6.6 -.8l-6.4 2.7l6.5 1zM699.7 564.3l-6.6 -1l-6.4 2.9l6.5 1z"/><path fill=#da8b8d stroke=#da8b8d d="M882.1 788.1l-8.5 -.1l-7.5 11.9l8.5 .2zM864.7 776.9l-8.4 -.1l-7.4 11.4l8.4 .3zM838.8 755.3l-8.1 -.2l-7.3 10.5l8.1 .4zM813.9 734.7l-7.9 -.5l-7.2 9.8l7.9 .6zM798 724.5l-7.8 -.5l-7.1 9.3l7.8 .6zM789.9 714.9l-7.7 -.6l-7.1 9l7.7 .7zM774.5 705.1l-7.6 -.7l-7.1 8.6l7.6 .7zM751.8 686.4l-7.4 -.8l-7 7.9l7.4 .9zM744.3 677.8l-7.4 -.9l-6.9 7.6l7.3 .9zM729.8 668.6l-7.2 -.9l-6.9 7.1l7.2 1.1zM722.6 660.4l-7.2 -1l-6.9 6.9l7.2 1zM708.6 651.5l-7 -1l-6.9 6.4l7 1.2zM701.7 643.7l-7 -1.1l-6.9 6.2l7 1.2zM694.8 636.2l-7 -1.2l-6.8 5.9l6.9 1.2zM681.4 627.8l-6.9 -1.3l-6.8 5.5l6.9 1.3zM674.8 620.6l-6.8 -1.3l-6.8 5.2l6.8 1.4zM668.2 613.6l-6.7 -1.3l-6.8 4.9l6.8 1.4zM661.8 606.8l-6.7 -1.3l-6.7 4.6l6.7 1.5zM655.4 600.3l-6.6 -1.4l-6.7 4.3l6.6 1.5zM655.5 595.1l-6.6 -1.4l-6.7 4.2l6.6 1.5zM649.2 593.9l-6.6 -1.4l-6.7 4l6.6 1.6zM649.3 589l-6.5 -1.5l-6.7 3.9l6.5 1.6zM649.4 584.3l-6.5 -1.5l-6.7 3.7l6.5 1.5zM643 587.8l-6.5 -1.6l-6.7 3.9l6.5 1.5zM643.1 583.1l-6.4 -1.5l-6.7 3.6l6.5 1.5zM643.3 578.6l-6.5 -1.5l-6.6 3.4l6.4 1.6zM723.5 546.2l-6.4 -.7l-6.3 1.7l6.5 .7zM649.7 571.4l-6.4 -1.4l-6.6 3.1l6.4 1.5zM643.4 574.3l-6.4 -1.5l-6.6 3.3l6.4 1.5zM705.3 548.7l-6.4 -.9l-6.3 1.9l6.4 .9zM699.2 550.3l-6.4 -.9l-6.3 1.9l6.4 1zM649.8 567.5l-6.4 -1.4l-6.5 2.9l6.4 1.5zM643.5 570.2l-6.4 -1.4l-6.5 3l6.4 1.5zM687 551.3l-6.4 -1l-6.4 2l6.4 1.1zM680.9 553.1l-6.4 -1.1l-6.4 2.1l6.4 1.2zM674.7 555l-6.3 -1.1l-6.5 2.2l6.4 1.2zM668.6 557l-6.4 -1.2l-6.4 2.4l6.3 1.3zM662.4 559.2l-6.4 -1.3l-6.4 2.5l6.3 1.3zM656.2 561.5l-6.4 -1.4l-6.5 2.6l6.4 1.4zM649.9 563.8l-6.3 -1.3l-6.5 2.7l6.3 1.4zM643.7 566.4l-6.4 -1.5l-6.5 2.8l6.3 1.6z"/><path fill=#db8e90 stroke=#db8e90 d="M874.8 799.7l-8.5 -.2l-7.4 12.1l8.4 .2zM831.7 765.6l-8.1 -.3l-7.3 10.7l8.1 .5zM791.1 733.6l-7.8 -.7l-7.2 9.6l7.8 .7zM775.5 723.1l-7.6 -.7l-7.2 9.1l7.7 .8zM752.6 703.3l-7.5 -.9l-7.1 8.4l7.5 .9zM737.8 693.3l-7.3 -1l-7.1 8l7.4 1zM716.1 674.6l-7.2 -1.1l-6.9 7.3l7.1 1.1zM702.1 665.1l-7.1 -1.2l-6.9 6.8l7.1 1.3zM688.4 655.7l-7 -1.3l-6.9 6.4l6.9 1.4zM674.9 646.4l-6.9 -1.4l-6.9 6l6.9 1.5zM668.2 638.4l-6.8 -1.4l-6.9 5.7l6.8 1.5zM655.1 629.4l-6.7 -1.5l-6.9 5.4l6.8 1.5zM642.3 620.4l-6.7 -1.6l-6.8 5.1l6.6 1.7zM636 613.1l-6.6 -1.7l-6.8 4.8l6.6 1.7zM629.6 611.6l-6.5 -1.7l-6.8 4.7l6.5 1.8zM623.5 604.4l-6.5 -1.7l-6.8 4.4l6.5 1.8zM617.2 602.9l-6.5 -1.8l-6.7 4.3l6.5 1.9zM611.2 595.8l-6.4 -1.8l-6.7 4.1l6.4 1.9zM605 594.2l-6.4 -1.9l-6.7 4l6.4 2zM599.2 587.4l-6.4 -2l-6.7 3.8l6.4 1.9zM593.1 585.7l-6.4 -2l-6.7 3.6l6.3 2.1zM699 544.1l-6.4 -.9l-6.2 1.5l6.3 .9zM593.4 580.7l-6.3 -2l-6.7 3.5l6.3 2zM587 583.9l-6.3 -2l-6.7 3.6l6.3 2.1zM686.9 544.6l-6.3 -1l-6.3 1.5l6.3 1.1zM587.3 579l-6.2 -2l-6.7 3.3l6.2 2.1z"/><path fill=#dc9293 stroke=#dc9293 d="M867.5 811.4l-8.5 -.2l-7.4 12.2l8.4 .3zM761.1 731.2l-7.6 -.9l-7.1 9.2l7.6 1zM746.1 720.4l-7.5 -1l-7.1 8.7l7.4 1.1zM731.3 709.7l-7.4 -1.1l-7.1 8.3l7.4 1.2zM716.8 699.1l-7.3 -1.2l-7 8l7.3 1.2zM702.6 688.7l-7.2 -1.3l-7 7.5l7.2 1.4zM654.9 656.8l-6.9 -1.6l-6.9 6.2l6.9 1.7zM597.4 621.9l-6.6 -2l-6.8 4.9l6.5 2.1z"/><path fill=#dc9697 stroke=#dc9697 d="M860.2 823.3l-8.5 -.3l-7.5 12.4l8.5 .4zM843 810.8l-8.3 -.4l-7.5 11.9l8.3 .5zM826.1 798.4l-8.2 -.5l-7.4 11.4l8.2 .7zM809.6 786.3l-8.1 -.7l-7.3 11l8 .7zM793.4 774.3l-7.9 -.8l-7.3 10.6l7.9 .8zM777.6 762.4l-7.8 -.8l-7.3 10.1l7.8 .9zM762 750.8l-7.6 -1l-7.2 9.7l7.6 1zM724.7 726.9l-7.4 -1.1l-7.1 8.7l7.4 1.2zM710.2 715.6l-7.3 -1.2l-7.1 8.3l7.3 1.3zM695.9 704.5l-7.2 -1.4l-7 7.9l7.2 1.5zM689 703.3l-7.2 -1.4l-7 7.8l7.1 1.5zM675.1 692.2l-7.1 -1.5l-7 7.4l7.1 1.6zM654.8 679.8l-7 -1.6l-7 6.9l7 1.7zM634.9 667.3l-6.8 -1.7l-7 6.4l6.8 1.9zM628.3 665.7l-6.8 -1.8l-6.9 6.4l6.7 1.9zM609 653l-6.7 -1.9l-6.9 5.9l6.7 2zM602.6 651.2l-6.7 -2l-6.9 5.8l6.6 2.2zM596.2 649.4l-6.6 -2.1l-7 5.8l6.6 2.1zM571.2 634.3l-6.4 -2.3l-6.9 5.3l6.4 2.3zM565 632.2l-6.4 -2.3l-6.9 5.2l6.4 2.4zM558.8 630.1l-6.4 -2.4l-6.9 5.1l6.4 2.5zM552.6 627.9l-6.4 -2.4l-6.9 5l6.4 2.5zM546.5 625.7l-6.4 -2.5l-6.9 5l6.3 2.5zM540.3 623.4l-6.3 -2.5l-6.9 4.9l6.3 2.6zM534.2 621.1l-6.3 -2.6l-6.9 4.8l6.3 2.7z"/><path fill=#dd999a stroke=#dd999a d="M852.8 835.4l-8.4 -.4l-7.5 12.5l8.4 .6zM835.7 822.4l-8.3 -.5l-7.5 12l8.3 .7zM818.9 809.6l-8.2 -.7l-7.4 11.6l8.1 .8zM802.4 796.9l-8 -.7l-7.4 11.2l8 .8zM786.3 784.5l-7.9 -.8l-7.3 10.6l7.8 1zM770.5 772.2l-7.8 -.9l-7.3 10.2l7.8 1.1zM747.6 759.2l-7.6 -1l-7.3 9.7l7.6 1.1zM732.5 747.2l-7.5 -1.2l-7.2 9.3l7.5 1.3zM717.8 735.4l-7.4 -1.3l-7.2 8.8l7.4 1.4zM710.6 734.2l-7.4 -1.3l-7.1 8.8l7.3 1.4zM696.2 722.4l-7.2 -1.4l-7.1 8.4l7.2 1.5zM675.2 709.5l-7.1 -1.6l-7.1 7.9l7.1 1.6zM654.7 696.4l-7 -1.7l-7 7.4l6.9 1.8zM647.9 694.9l-6.9 -1.8l-7.1 7.3l7 1.9zM628 681.6l-6.8 -1.9l-7 6.9l6.8 1.9zM621.4 679.9l-6.8 -1.9l-7 6.7l6.8 2zM602 666.4l-6.6 -2l-7 6.2l6.7 2.2zM595.6 664.5l-6.7 -2.1l-6.9 6.2l6.6 2.2zM589.2 662.6l-6.7 -2.2l-6.9 6.1l6.6 2.3zM582.8 660.6l-6.6 -2.3l-7 6.1l6.6 2.3zM576.4 658.5l-6.6 -2.3l-6.9 6l6.5 2.4zM526.4 640.3l-6.3 -2.7l-7 5.3l6.4 2.8zM520.3 637.8l-6.3 -2.8l-7 5.3l6.3 2.8zM514.2 635.2l-6.3 -2.8l-7 5.2l6.3 2.9zM508.1 632.6l-6.3 -2.8l-6.9 5.1l6.3 2.9zM502.1 630l-6.3 -2.9l-7 5l6.3 3z"/><path fill=#de9d9e stroke=#de9d9e d="M845.5 847.7l-8.4 -.6l-7.6 12.8l8.4 .6zM828.4 834.2l-8.3 -.7l-7.5 12.3l8.3 .7zM787.4 807.1l-7.9 -.9l-7.4 11.2l7.9 1zM771.5 794.1l-7.9 -1l-7.3 10.7l7.8 1.1zM748.4 780.3l-7.7 -1.1l-7.3 10.2l7.7 1.2zM733.2 767.6l-7.6 -1.2l-7.2 9.7l7.5 1.4zM711 753.9l-7.4 -1.4l-7.2 9.3l7.4 1.4zM689.5 740.1l-7.3 -1.5l-7.2 8.7l7.3 1.6zM668.4 726.3l-7.2 -1.7l-7.1 8.3l7.2 1.7zM661.5 724.8l-7.1 -1.7l-7.2 8.1l7.1 1.8zM641 710.8l-6.9 -1.9l-7.1 7.7l6.9 1.9zM634.3 709.1l-7 -1.9l-7 7.5l6.9 2zM614.4 694.9l-6.8 -2.1l-7 7.1l6.8 2.2zM607.8 693l-6.7 -2.1l-7.1 7l6.8 2.2zM601.3 691.1l-6.8 -2.2l-7 7l6.7 2.2zM594.7 689.1l-6.7 -2.2l-7 6.8l6.7 2.3zM506.2 656l-6.3 -2.9l-7 5.7l6.3 3zM500.1 653.3l-6.3 -3l-7 5.7l6.3 3zM494 650.5l-6.3 -3l-7 5.6l6.3 3.1zM487.9 647.7l-6.2 -3.1l-7.1 5.6l6.3 3.1z"/><path fill=#dfa1a2 stroke=#dfa1a2 d="M838.1 860.1l-8.4 -.6l-7.6 12.8l8.4 .8zM813 845.5l-8.2 -.8l-7.5 12.2l8.2 1zM796.4 831.6l-8 -.9l-7.5 11.8l8.1 1zM772.5 817.1l-7.9 -1.1l-7.4 11.3l7.9 1.1zM756.7 803.6l-7.8 -1.2l-7.3 10.8l7.8 1.3zM733.8 789.1l-7.6 -1.3l-7.3 10.3l7.6 1.4zM711.5 774.6l-7.5 -1.4l-7.2 9.7l7.4 1.6zM689.7 760.1l-7.3 -1.5l-7.2 9.2l7.3 1.6zM668.5 745.6l-7.2 -1.7l-7.2 8.7l7.2 1.8zM661.5 744l-7.2 -1.8l-7.1 8.7l7.1 1.8zM634.1 727.5l-7 -1.9l-7.2 8l7 2.1zM627.3 725.7l-7 -2l-7.1 8l7 2.1zM594.2 706.7l-6.8 -2.3l-7.1 7.3l6.8 2.4zM587.6 704.6l-6.7 -2.3l-7.1 7.2l6.7 2.4zM581.1 702.4l-6.7 -2.3l-7.1 7.1l6.7 2.5zM574.6 700.2l-6.7 -2.4l-7.1 7.1l6.7 2.5zM568.2 698l-6.7 -2.5l-7.1 7l6.7 2.6zM561.7 695.7l-6.6 -2.5l-7.1 6.9l6.6 2.6zM555.3 693.4l-6.6 -2.6l-7.1 6.8l6.6 2.6zM548.9 691l-6.6 -2.7l-7 6.8l6.5 2.7zM542.6 688.5l-6.6 -2.7l-7.1 6.7l6.6 2.7zM536.2 686l-6.5 -2.7l-7.1 6.6l6.6 2.8zM529.9 683.5l-6.5 -2.8l-7 6.5l6.5 2.8zM523.7 680.9l-6.5 -2.8l-7.1 6.4l6.5 2.9zM517.4 678.2l-6.4 -2.8l-7.1 6.3l6.4 2.9zM511.2 675.5l-6.4 -2.9l-7.1 6.3l6.4 3zM505 672.8l-6.4 -3l-7.1 6.2l6.4 3.1zM473.7 667l-6.3 -3.2l-7.1 6l6.3 3.3zM467.6 664l-6.3 -3.3l-7.1 5.9l6.3 3.4z"/><path fill=#dfa4a5 stroke=#dfa4a5 d="M830.7 872.7l-8.4 -.8l-7.6 13.1l8.4 .8zM813.7 858.2l-8.2 -.8l-7.6 12.5l8.3 1zM789.2 843.1l-8.1 -1l-7.5 12l8.1 1.1zM773 829l-7.9 -1.1l-7.5 11.6l8 1.2zM749.6 814.1l-7.8 -1.3l-7.4 11l7.8 1.3zM726.7 799.1l-7.6 -1.4l-7.3 10.4l7.6 1.5zM704.4 784.1l-7.4 -1.5l-7.3 9.9l7.5 1.6zM682.7 769.1l-7.3 -1.7l-7.2 9.4l7.3 1.7zM675.6 767.5l-7.3 -1.7l-7.2 9.3l7.3 1.8zM654.5 752.4l-7.1 -1.9l-7.2 8.8l7.1 1.9zM647.6 750.6l-7.1 -1.9l-7.2 8.7l7.1 2zM640.7 748.9l-7.1 -2l-7.2 8.6l7.1 2.1zM613.7 731.5l-7 -2.2l-7.1 8l6.9 2.3zM607 729.5l-6.9 -2.2l-7.2 7.9l6.9 2.3zM600.3 727.4l-6.9 -2.3l-7.1 7.9l6.8 2.3zM593.7 725.3l-6.9 -2.3l-7.1 7.7l6.8 2.4zM503.8 690.6l-6.5 -3.1l-7.1 6.6l6.4 3.2zM497.5 687.7l-6.4 -3.1l-7.1 6.6l6.4 3.1zM491.4 684.8l-6.4 -3.1l-7.2 6.5l6.4 3.2zM485.2 681.9l-6.4 -3.2l-7.1 6.4l6.4 3.2zM460 678.7l-6.3 -3.4l-7.1 6.3l6.2 3.5zM453.9 675.5l-6.3 -3.4l-7.1 6.2l6.3 3.5zM447.9 672.3l-6.3 -3.5l-7.1 6.1l6.2 3.6z"/><path fill=#e0a8a9 stroke=#e0a8a9 d="M823.3 885.4l-8.4 -.8l-7.6 13.2l8.4 1zM806.4 870.5l-8.3 -1l-7.5 12.7l8.2 1.1zM781.9 854.8l-8.1 -1.1l-7.5 12.2l8.1 1.2zM758.1 839.2l-7.9 -1.3l-7.5 11.6l7.9 1.3zM734.8 823.5l-7.7 -1.4l-7.4 11l7.7 1.5zM712.2 807.9l-7.6 -1.6l-7.3 10.5l7.6 1.6zM704.9 806.5l-7.6 -1.6l-7.3 10.3l7.5 1.7zM682.9 790.7l-7.4 -1.8l-7.2 9.9l7.3 1.8zM675.8 789.1l-7.4 -1.8l-7.3 9.7l7.4 1.9zM654.5 773.1l-7.2 -1.9l-7.2 9.2l7.2 2.1zM647.5 771.3l-7.1 -1.9l-7.3 9.1l7.2 2.1zM613.3 751.3l-7 -2.2l-7.2 8.5l7 2.3zM606.5 749.2l-6.9 -2.2l-7.2 8.4l6.9 2.3zM599.8 747.1l-6.9 -2.3l-7.2 8.3l6.9 2.4zM593.1 744.9l-6.9 -2.3l-7.1 8.2l6.8 2.4zM502.5 709.3l-6.5 -3.1l-7.1 7.1l6.5 3.1zM496.3 706.4l-6.5 -3.1l-7.1 6.9l6.4 3.3zM490 703.5l-6.4 -3.2l-7.2 6.9l6.5 3.2zM483.8 700.5l-6.4 -3.3l-7.1 6.8l6.4 3.3zM452.3 694.2l-6.3 -3.5l-7.2 6.7l6.4 3.5zM446.2 690.9l-6.3 -3.5l-7.1 6.5l6.3 3.7zM427.2 690.3l-6.2 -3.7l-7.2 6.5l6.2 3.8z"/><path fill=#e1acad stroke=#e1acad d="M815.8 898.4l-8.3 -1l-7.6 13.3l8.3 1.1zM791 882l-8.2 -1.2l-7.6 12.8l8.2 1.2zM766.7 865.6l-8 -1.3l-7.5 12.2l8 1.4zM743.1 849.2l-7.8 -1.4l-7.4 11.6l7.8 1.5zM720.1 832.9l-7.6 -1.6l-7.4 11.1l7.6 1.6zM690.4 815l-7.5 -1.8l-7.3 10.5l7.5 1.8zM661.6 796.8l-7.3 -1.9l-7.3 9.8l7.3 2zM654.5 795l-7.3 -2l-7.3 9.7l7.3 2.1zM619.8 774.3l-7.1 -2.2l-7.2 9l7 2.3zM612.9 772.2l-7 -2.3l-7.2 9l7 2.3zM606.1 770.1l-7 -2.4l-7.2 8.9l7 2.4zM488.7 723.1l-6.5 -3.3l-7.2 7.3l6.5 3.4zM482.5 720l-6.5 -3.3l-7.2 7.2l6.5 3.4zM476.2 716.9l-6.4 -3.4l-7.2 7.2l6.4 3.4zM444.6 710.6l-6.3 -3.6l-7.2 6.9l6.3 3.7zM438.5 707.2l-6.3 -3.7l-7.2 6.9l6.3 3.7zM413.4 703.1l-6.3 -3.9l-7.2 6.8l6.2 3.9z"/><path fill=#e2b0b1 stroke=#e2b0b1 d="M808.4 911.4l-8.3 -1.1l-7.7 13.6l8.3 1.2zM783.6 894.4l-8.2 -1.2l-7.6 12.9l8.2 1.4zM759.4 877.5l-8 -1.4l-7.5 12.4l8 1.4zM728.3 859.2l-7.8 -1.6l-7.5 11.7l7.8 1.6zM705.5 842.1l-7.6 -1.7l-7.4 11.2l7.6 1.8zM676 823.4l-7.4 -1.9l-7.4 10.5l7.5 2zM668.8 821.7l-7.4 -2l-7.3 10.4l7.4 2.1zM633.4 800.5l-7.2 -2.2l-7.3 9.7l7.2 2.3zM626.4 798.4l-7.1 -2.2l-7.3 9.6l7.1 2.3zM572.2 769.2l-6.8 -2.6l-7.3 8.7l6.9 2.7zM565.6 766.8l-6.9 -2.7l-7.2 8.6l6.8 2.7zM559 764.2l-6.9 -2.7l-7.2 8.5l6.8 2.8zM552.4 761.7l-6.8 -2.8l-7.2 8.4l6.7 2.8zM545.8 759l-6.7 -2.8l-7.3 8.3l6.8 2.9zM539.3 756.4l-6.7 -2.9l-7.3 8.2l6.8 3zM532.8 753.6l-6.7 -2.9l-7.2 8.1l6.7 3.1zM526.3 750.9l-6.6 -3l-7.3 8l6.7 3.1zM519.9 748.1l-6.7 -3.1l-7.2 8l6.7 3.1zM468.6 734.1l-6.5 -3.4l-7.2 7.5l6.5 3.6zM462.3 730.9l-6.4 -3.5l-7.2 7.4l6.4 3.6zM430.7 724.2l-6.3 -3.8l-7.3 7.3l6.4 3.8zM424.6 720.6l-6.3 -3.8l-7.2 7.2l6.3 3.9zM399.4 716.3l-6.2 -4l-7.2 7.1l6.2 4.1z"/><path fill=#e3b4b5 stroke=#e3b4b5 d="M800.9 924.7l-8.3 -1.2l-7.7 13.7l8.3 1.3zM776.2 907.1l-8.2 -1.4l-7.6 13.1l8.2 1.5zM721 870.6l-7.8 -1.7l-7.4 11.8l7.7 1.8zM690.9 851.3l-7.6 -1.9l-7.4 11.2l7.6 2zM683.5 849.6l-7.5 -2l-7.4 11.1l7.5 2zM654.5 829.9l-7.3 -2.1l-7.4 10.4l7.3 2.2zM647.4 827.9l-7.3 -2.2l-7.4 10.4l7.3 2.2zM598.7 801l-7.1 -2.5l-7.3 9.5l7.1 2.6zM591.8 798.7l-7 -2.6l-7.3 9.4l7 2.7zM585.1 796.3l-7 -2.6l-7.3 9.3l7 2.7zM505.9 763.6l-6.6 -3.2l-7.3 8.3l6.7 3.3zM499.5 760.6l-6.6 -3.2l-7.2 8.1l6.6 3.3zM493.1 757.5l-6.6 -3.3l-7.2 8.1l6.6 3.4zM448.4 745.4l-6.4 -3.6l-7.3 7.7l6.4 3.7zM442.2 741.9l-6.4 -3.7l-7.3 7.7l6.4 3.8zM410.6 734.6l-6.3 -3.9l-7.2 7.4l6.3 4.1zM385.5 730.1l-6.3 -4.2l-7.3 7.4l6.3 4.3z"/><path fill=#e4b8b9 stroke=#e4b8b9 d="M793.4 938.1l-8.3 -1.4l-7.7 13.9l8.3 1.4zM737 900.3l-7.9 -1.7l-7.6 12.6l7.9 1.8zM706.2 880.4l-7.7 -1.8l-7.5 11.9l7.7 1.9zM669 858.5l-7.5 -2.1l-7.4 11.2l7.5 2.1zM626.1 833.7l-7.2 -2.4l-7.4 10.4l7.2 2.4zM466.4 766.7l-6.5 -3.6l-7.3 8.2l6.6 3.7zM396.6 749.2l-6.3 -4.1l-7.3 7.7l6.3 4.2z"/><path fill=#e6bcbd stroke=#e6bcbd d="M785.9 951.6l-8.3 -1.4l-7.7 14l8.3 1.6zM753.4 931.4l-8.1 -1.6l-7.6 13.3l8.1 1.7zM721.9 910.9l-7.8 -1.8l-7.6 12.7l7.8 1.9zM691.4 890.2l-7.7 -1.9l-7.5 11.9l7.7 2.1zM684 888.4l-7.7 -2.1l-7.5 11.9l7.7 2.1zM647.3 865.2l-7.4 -2.3l-7.4 11.1l7.4 2.4zM640.1 863.1l-7.3 -2.4l-7.4 11l7.3 2.5zM591.1 834.2l-7.1 -2.7l-7.3 10.1l7 2.8zM584.2 831.7l-7 -2.7l-7.4 10l7.1 2.8zM577.4 829.1l-7 -2.8l-7.4 10l7 2.8zM570.6 826.5l-7 -2.8l-7.3 9.8l6.9 2.9zM563.8 823.8l-6.9 -2.8l-7.4 9.7l7 2.9zM557.1 821.1l-7 -2.9l-7.3 9.6l6.9 3zM550.4 818.3l-6.9 -2.9l-7.4 9.5l6.9 3.1zM543.7 815.5l-6.9 -3l-7.3 9.5l6.8 3.1zM537 812.7l-6.8 -3.1l-7.3 9.4l6.8 3.1zM530.4 809.7l-6.8 -3.1l-7.3 9.3l6.8 3.2zM523.8 806.8l-6.8 -3.2l-7.3 9.2l6.8 3.3zM517.2 803.8l-6.7 -3.2l-7.3 9.1l6.7 3.3zM510.7 800.7l-6.7 -3.2l-7.3 9l6.7 3.4zM504.2 797.6l-6.7 -3.3l-7.3 9l6.7 3.4zM497.7 794.5l-6.7 -3.4l-7.3 8.9l6.7 3.4zM452.4 782.7l-6.5 -3.7l-7.4 8.5l6.6 3.8zM446.1 779.2l-6.5 -3.8l-7.3 8.4l6.5 3.9zM414.1 772.4l-6.4 -4.1l-7.3 8.2l6.4 4.2zM407.9 768.5l-6.3 -4.1l-7.3 8.2l6.3 4.1zM382.5 764.3l-6.3 -4.3l-7.3 8l6.3 4.4zM357.3 759.4l-6.2 -4.5l-7.4 7.9l6.3 4.6z"/><path fill=#e7c0c1 stroke=#e7c0c1 d="M778.4 965.3l-8.3 -1.5l-7.7 14.2l8.2 1.6zM745.9 944.4l-8 -1.7l-7.7 13.5l8.1 1.8zM714.5 923.3l-7.8 -1.9l-7.6 12.7l7.9 2zM676.7 899.9l-7.6 -2.1l-7.5 12l7.5 2.3zM669.3 897.9l-7.6 -2.2l-7.5 11.9l7.6 2.3zM632.9 873.8l-7.3 -2.4l-7.5 11.1l7.4 2.6zM625.8 871.5l-7.3 -2.5l-7.5 11.1l7.4 2.6zM618.7 869.1l-7.3 -2.5l-7.4 11l7.3 2.6zM470.7 805.1l-6.6 -3.6l-7.3 8.9l6.6 3.7zM464.3 801.6l-6.6 -3.6l-7.3 8.8l6.6 3.8zM458 798.1l-6.6 -3.7l-7.3 8.8l6.5 3.8zM425.7 791.9l-6.5 -4l-7.3 8.6l6.4 4.1zM419.4 788.1l-6.4 -4l-7.3 8.5l6.4 4.1zM387.7 780.4l-6.4 -4.3l-7.3 8.3l6.3 4.4zM362.3 775.7l-6.3 -4.5l-7.3 8.2l6.2 4.6z"/><path fill=#e8c4c5 stroke=#e8c4c5 d="M770.8 979.2l-8.2 -1.6l-7.8 14.3l8.3 1.8zM738.5 957.6l-8.1 -1.8l-7.6 13.6l8 1.9zM707.2 935.8l-7.9 -2.1l-7.6 13l7.8 2.1zM699.5 933.9l-7.8 -2.1l-7.5 12.8l7.7 2.2zM662 909.5l-7.6 -2.2l-7.5 12l7.5 2.4zM654.6 907.4l-7.5 -2.4l-7.5 12l7.5 2.4zM611.5 879.8l-7.3 -2.6l-7.4 11.2l7.2 2.7zM604.4 877.3l-7.2 -2.6l-7.4 11l7.2 2.8zM597.4 874.8l-7.2 -2.7l-7.4 10.9l7.2 2.8zM590.4 872.2l-7.2 -2.8l-7.4 10.9l7.2 2.8zM583.5 869.6l-7.2 -2.9l-7.4 10.8l7.1 2.9zM502.5 834.1l-6.8 -3.4l-7.3 9.6l6.7 3.5zM496 830.8l-6.8 -3.5l-7.3 9.6l6.7 3.5zM489.4 827.5l-6.7 -3.5l-7.3 9.4l6.7 3.6zM482.9 824.1l-6.6 -3.5l-7.4 9.4l6.7 3.6zM476.5 820.7l-6.7 -3.6l-7.3 9.3l6.6 3.7zM437.4 811.6l-6.5 -3.9l-7.3 9l6.5 4zM431.1 807.9l-6.5 -4l-7.3 8.9l6.5 4.1zM424.9 804.1l-6.5 -4l-7.4 8.8l6.5 4.1zM399.1 800.7l-6.4 -4.2l-7.4 8.7l6.4 4.3zM392.9 796.7l-6.4 -4.3l-7.4 8.6l6.4 4.4zM367.4 792.4l-6.3 -4.5l-7.4 8.5l6.3 4.6zM342 787.3l-6.2 -4.7l-7.4 8.4l6.3 4.8z"/><path fill=#e9c8c9 stroke=#e9c8c9 d="M763.3 993.3l-8.3 -1.8l-7.8 14.5l8.3 1.9zM731 970.9l-8 -1.9l-7.7 13.8l8 2zM692.1 946.4l-7.7 -2.2l-7.6 13l7.7 2.3zM647.3 919.1l-7.5 -2.5l-7.5 12.1l7.5 2.6zM640 916.7l-7.5 -2.5l-7.5 12.1l7.5 2.5zM576.3 880l-7.2 -2.9l-7.4 10.9l7.1 3zM569.3 877.3l-7 -3l-7.5 10.8l7.1 3.1zM562.5 874.4l-7.1 -3l-7.4 10.7l7 3.1zM555.6 871.5l-7 -3l-7.4 10.6l7 3.1zM548.8 868.6l-7 -3.1l-7.4 10.5l7 3.2zM542 865.6l-7 -3.1l-7.4 10.4l7 3.3zM535.3 862.6l-7 -3.2l-7.4 10.3l7 3.3zM528.5 859.5l-6.9 -3.2l-7.4 10.2l6.9 3.4zM521.9 856.4l-6.9 -3.3l-7.4 10.1l6.9 3.5zM515.2 853.2l-6.9 -3.3l-7.4 10l6.9 3.5zM508.6 850l-6.9 -3.4l-7.3 10l6.8 3.5zM449.4 831.7l-6.6 -3.9l-7.4 9.4l6.6 3.9zM443 827.9l-6.6 -3.9l-7.3 9.3l6.5 4zM436.7 824.2l-6.6 -4l-7.4 9.3l6.6 4zM404.4 817.4l-6.5 -4.3l-7.3 9.1l6.4 4.3zM398.2 813.3l-6.5 -4.3l-7.3 9l6.4 4.3zM372.5 809.3l-6.4 -4.5l-7.3 8.9l6.3 4.5zM347 804.6l-6.3 -4.7l-7.4 8.7l6.3 4.8zM341 800.1l-6.3 -4.8l-7.4 8.6l6.3 4.9zM321.8 799.1l-6.3 -4.9l-7.4 8.6l6.2 5z"/><path fill=#eacdce stroke=#eacdce d="M755.7 1007.5l-8.3 -1.9l-7.7 14.7l8.2 2zM715.7 982.5l-8 -2.1l-7.7 13.8l8 2.2zM677.2 956.9l-7.8 -2.3l-7.6 13.1l7.7 2.4zM669.6 954.7l-7.6 -2.3l-7.6 12.9l7.6 2.5zM618.2 923.5l-7.4 -2.7l-7.5 11.9l7.4 2.8zM611.1 920.9l-7.4 -2.8l-7.5 11.9l7.3 2.9zM474.5 859.1l-6.7 -3.7l-7.4 10l6.7 3.8zM468 855.6l-6.7 -3.8l-7.4 9.9l6.7 3.8zM461.5 851.9l-6.6 -3.8l-7.4 9.8l6.6 3.9zM422.4 842.3l-6.5 -4.1l-7.4 9.5l6.5 4.2zM416.1 838.3l-6.5 -4.2l-7.4 9.5l6.5 4.2zM383.9 830.8l-6.4 -4.4l-7.4 9.2l6.4 4.5zM352.1 822.1l-6.3 -4.7l-7.5 9.1l6.4 4.7zM326.7 817l-6.3 -4.9l-7.4 8.9l6.2 5z"/><path fill=#ecd1d2 stroke=#ecd1d2 d="M748.1 1021.9l-8.2 -2l-7.8 14.8l8.2 2.1zM716 998.1l-8 -2.2l-7.7 14.1l8 2.3zM669.7 969.7l-7.7 -2.4l-7.6 13.2l7.7 2.5zM610.9 935.1l-7.4 -2.7l-7.5 12.1l7.4 2.9zM603.8 932.5l-7.4 -2.9l-7.5 12.1l7.3 2.9zM596.6 929.7l-7.3 -2.9l-7.5 12l7.3 3zM487 879.6l-6.8 -3.7l-7.4 10.4l6.8 3.8zM480.5 876.1l-6.8 -3.8l-7.4 10.4l6.7 3.8zM473.9 872.5l-6.7 -3.8l-7.5 10.2l6.8 3.9zM421.6 855.6l-6.6 -4.2l-7.4 9.7l6.6 4.3zM383 844.1l-6.5 -4.5l-7.4 9.5l6.4 4.6zM351.1 835.5l-6.4 -4.8l-7.4 9.3l6.3 4.8zM325.6 830.4l-6.3 -4.9l-7.4 9.1l6.2 5zM300.3 824.6l-6.2 -5.1l-7.5 9l6.2 5.2z"/><path fill=#edd6d7 stroke=#edd6d7 d="M740.5 1036.4l-8.2 -2.1l-7.8 15l8.1 2.2zM700.7 1009.7l-8 -2.3l-7.7 14.2l7.9 2.4zM654.8 980.2l-7.6 -2.6l-7.7 13.3l7.7 2.6zM647.4 977.7l-7.7 -2.6l-7.6 13.1l7.6 2.8zM568.2 932.6l-7.2 -3.1l-7.6 11.8l7.2 3.2zM561.2 929.6l-7.2 -3.2l-7.5 11.7l7.2 3.3zM554.2 926.5l-7.1 -3.2l-7.5 11.6l7.1 3.3zM547.3 923.4l-7.1 -3.3l-7.5 11.5l7.1 3.4zM540.4 920.3l-7.1 -3.4l-7.4 11.4l7 3.5zM533.6 917.1l-7.1 -3.4l-7.5 11.3l7.1 3.5zM526.7 913.8l-7 -3.4l-7.4 11.2l7 3.5zM520 910.5l-7 -3.5l-7.5 11.1l7 3.6zM513.2 907.2l-7 -3.6l-7.4 11.1l6.9 3.6zM440 881l-6.6 -4l-7.5 10.2l6.7 4.2zM433.6 877.1l-6.6 -4.1l-7.5 10.1l6.6 4.3zM394.6 866.3l-6.5 -4.5l-7.5 9.9l6.5 4.5zM330.6 848.9l-6.3 -4.9l-7.5 9.4l6.3 5zM305.1 843.4l-6.2 -5.2l-7.5 9.4l6.3 5.2z"/><path fill=#efdbdc stroke=#efdbdc d="M732.8 1051.1l-8.2 -2.2l-7.8 15.1l8.2 2.3zM685.4 1021.3l-7.9 -2.5l-7.7 14.2l7.9 2.6zM632.5 988l-7.5 -2.8l-7.7 13.2l7.6 2.9zM625.2 985.3l-7.6 -2.9l-7.6 13.1l7.5 3zM452.3 902.8l-6.7 -4l-7.5 10.7l6.7 4.1zM400 884.5l-6.5 -4.5l-7.5 10.2l6.6 4.6zM367.6 876.7l-6.4 -4.7l-7.5 10l6.5 4.8zM335.6 867.7l-6.3 -4.9l-7.5 9.7l6.4 5.1zM310.1 862.5l-6.3 -5.2l-7.5 9.7l6.3 5.2zM284.7 856.6l-6.2 -5.4l-7.5 9.5l6.2 5.5z"/><path fill=#f1e0e1 stroke=#f1e0e1 d="M725.2 1065.9l-8.2 -2.3l-7.8 15.3l8.1 2.4zM677.9 1035.2l-7.9 -2.6l-7.7 14.4l7.8 2.7zM610.4 995.3l-7.5 -3l-7.6 13.1l7.5 3.1zM603.1 992.4l-7.4 -3.1l-7.6 13.1l7.4 3.1zM471.4 928.7l-6.9 -3.9l-7.4 11.2l6.8 4zM411.9 907.3l-6.6 -4.4l-7.4 10.6l6.6 4.4zM373 895.5l-6.5 -4.7l-7.5 10.3l6.5 4.8zM340.8 886.8l-6.4 -4.9l-7.5 10.1l6.4 5z"/><path fill=#f2e5e5 stroke=#f2e5e5 d="M717.5 1080.9l-8.1 -2.4l-7.9 15.5l8.2 2.5zM670.3 1049.3l-7.8 -2.7l-7.8 14.5l7.9 2.8zM595.7 1005.1l-7.4 -3.1l-7.6 13.2l7.4 3.2zM588.5 1002.1l-7.4 -3.2l-7.6 13.1l7.4 3.3zM490.9 954.8l-7 -3.9l-7.5 11.8l6.9 3.9zM484.1 951.1l-6.9 -3.9l-7.5 11.6l6.9 4zM477.4 947.3l-6.9 -3.9l-7.5 11.5l6.9 4zM417.6 926.1l-6.7 -4.4l-7.5 11l6.7 4.5zM372 910.2l-6.5 -4.8l-7.5 10.6l6.5 4.8zM339.7 901.5l-6.4 -5l-7.5 10.3l6.5 5.1z"/><path fill=#f4eaea stroke=#f4eaea d="M709.9 1096.1l-8.2 -2.5l-7.8 15.6l8.1 2.6zM662.8 1063.5l-7.9 -2.8l-7.7 14.7l7.8 2.9zM655.1 1060.8l-7.8 -2.8l-7.7 14.5l7.8 3zM566.7 1008.5l-7.3 -3.4l-7.6 13.1l7.3 3.5zM559.6 1005.2l-7.3 -3.4l-7.6 13l7.3 3.5zM552.6 1001.9l-7.3 -3.5l-7.6 12.9l7.2 3.6zM545.5 998.6l-7.2 -3.6l-7.6 12.8l7.2 3.6zM538.5 995.2l-7.2 -3.6l-7.6 12.6l7.2 3.7zM531.5 991.7l-7.1 -3.6l-7.6 12.5l7.1 3.7zM524.6 988.2l-7.1 -3.7l-7.6 12.5l7.1 3.7zM517.7 984.6l-7.1 -3.7l-7.6 12.4l7.1 3.8zM510.8 981.1l-7.1 -3.8l-7.5 12.2l7 3.9zM503.9 977.4l-7 -3.8l-7.6 12.2l7.1 3.9zM429.8 949.5l-6.7 -4.3l-7.5 11.4l6.7 4.4zM423.3 945.3l-6.7 -4.4l-7.5 11.3l6.7 4.5zM377.4 929.7l-6.5 -4.8l-7.5 10.9l6.5 4.8z"/><path fill=#cc3539 stroke=#cc3539 d="M1136.5 465.7l-9 3.5l-6.2 5.5l9 -3.4z"/><path fill=#cd363a stroke=#cd363a d="M1130.3 471l-8.9 3.4l-6.3 5.6l9 -3.3zM1134.1 464.2l-9 3.5l-6.1 5.2l8.9 -3.4z"/><path fill=#cd393d stroke=#cd393d d="M1117.9 482l-8.9 3.2l-6.4 6l9 -3.1zM1121.8 474.4l-8.9 3.3l-6.3 5.6l8.9 -3.2zM1125.6 467.7l-8.9 3.4l-6.2 5.1l8.9 -3.3z"/><path fill=#ce3c40 stroke=#ce3c40 d="M1105.3 493.6l-8.9 3.1l-6.4 6.3l8.9 -3zM1107.1 483.1l-8.9 3.1l-6.2 5.7l8.8 -3.1zM1111 476l-8.8 3.2l-6.2 5.3l8.8 -3.2z"/><path fill=#ce3f43 stroke=#ce3f43 d="M1092.6 505.9l-8.9 2.9l-6.4 6.6l8.8 -2.8zM1094.6 494.1l-8.8 2.9l-6.3 6l8.7 -2.9zM1096.4 484.2l-8.7 3.1l-6.2 5.3l8.7 -2.9zM1100.4 477.7l-8.7 3.1l-6.2 4.9l8.7 -3z"/><path fill=#ce4145 stroke=#ce4145 d="M1086.2 512.2l-8.8 2.8l-6.5 6.8l8.8 -2.7zM1084.1 508.9l-8.8 2.8l-6.5 6.5l8.8 -2.7zM1086.2 497.1l-8.8 2.9l-6.3 5.9l8.7 -2.8zM1090.3 489.4l-8.8 2.9l-6.2 5.5l8.7 -2.9zM1088.1 487.3l-8.7 3l-6.2 5.2l8.7 -2.8z"/><path fill=#d2565a stroke=#d2565a d="M1013.9 592.5l-8.7 1.8l-6.9 8.5l8.7 -1.7zM1012.2 586.4l-8.7 1.9l-6.8 8.2l8.6 -1.7zM997.2 543.1l-8.2 1.8l-6.5 6.2l8.2 -1.8zM995.6 539.4l-8.2 1.9l-6.5 5.9l8.3 -1.8zM998.7 527.8l-8.2 1.9l-6.3 5.3l8.1 -1.9zM1003.3 520.3l-8.2 2.1l-6.2 4.9l8.1 -2zM1007.8 513.7l-8.2 2.1l-6.2 4.6l8.2 -2.1zM1012.2 507.8l-8.1 2.2l-6.2 4.2l8.2 -2.1z"/><path fill=#d2585c stroke=#d2585c d="M1007.1 600.7l-8.7 1.8l-6.9 8.7l8.7 -1.7zM1005.4 594.4l-8.6 1.8l-6.9 8.4l8.7 -1.7zM989.1 568.6l-8.4 1.7l-6.6 7.1l8.3 -1.6zM987.5 563.8l-8.3 1.7l-6.6 6.9l8.3 -1.6zM989.3 545l-8.2 1.8l-6.5 6.1l8.2 -1.7zM987.7 541.4l-8.2 1.8l-6.4 5.8l8.2 -1.7zM986.2 538l-8.2 1.8l-6.4 5.6l8.1 -1.7zM990.9 529.8l-8.1 1.9l-6.4 5.2l8.1 -1.8zM995.5 522.5l-8.1 1.9l-6.3 4.9l8.1 -1.9zM1000 515.9l-8.1 2l-6.2 4.5l8.1 -1.9zM1004.5 510.1l-8.1 2.1l-6.1 4.1l8 -2z"/><path fill=#d25b5e stroke=#d25b5e d="M1000.3 609.1l-8.6 1.7l-7 8.8l8.7 -1.5zM985.6 586.2l-8.4 1.7l-6.8 7.7l8.4 -1.5zM975 552.7l-8.2 1.6l-6.5 6.1l8.2 -1.6z"/><path fill=#d35d61 stroke=#d35d61 d="M993.5 617.7l-8.6 1.5l-7 9.1l8.6 -1.5zM982 606l-8.5 1.5l-6.9 8.4l8.5 -1.4zM980.5 599.7l-8.5 1.6l-6.8 8.1l8.5 -1.4zM966.5 578.8l-8.3 1.5l-6.7 7.1l8.2 -1.4zM965 573.8l-8.2 1.5l-6.7 6.9l8.2 -1.4zM963.6 569l-8.2 1.5l-6.6 6.7l8.1 -1.4zM962.2 564.5l-8.2 1.5l-6.6 6.4l8.2 -1.4zM964.3 546.9l-8.1 1.6l-6.4 5.6l8 -1.5zM962.9 543.5l-8 1.6l-6.5 5.3l8 -1.5zM967.7 535.6l-8 1.6l-6.3 5l7.9 -1.6zM977.1 522l-8 1.8l-6.2 4.3l8 -1.7zM981.6 516.4l-7.9 1.9l-6.1 3.9l7.9 -1.8z"/><path fill=#d35f63 stroke=#d35f63 d="M986.7 626.4l-8.6 1.5l-7.1 9.2l8.7 -1.4zM975.3 614.2l-8.5 1.4l-6.9 8.5l8.5 -1.3zM973.8 607.6l-8.5 1.5l-6.8 8.3l8.4 -1.3zM961.3 591.2l-8.3 1.3l-6.7 7.6l8.2 -1.3zM959.9 585.7l-8.2 1.4l-6.8 7.2l8.3 -1.3zM958.5 580.4l-8.2 1.4l-6.7 7l8.2 -1.3zM957.1 575.4l-8.2 1.4l-6.6 6.8l8.1 -1.3zM955.7 570.6l-8.1 1.4l-6.6 6.6l8.1 -1.3zM954.3 566.1l-8.1 1.4l-6.6 6.3l8.1 -1.3zM953 561.8l-8.1 1.4l-6.6 6.1l8.1 -1.3zM951.6 557.7l-8 1.4l-6.5 5.9l8 -1.3zM955.2 545.2l-8 1.5l-6.4 5.3l8 -1.4zM958.6 534.6l-7.9 1.5l-6.3 4.7l7.9 -1.4zM963.4 527.9l-7.9 1.6l-6.2 4.4l7.8 -1.6zM974.1 518.4l-7.9 1.8l-6.1 3.8l7.9 -1.7z"/><path fill=#d36165 stroke=#d36165 d="M979.8 635.3l-8.6 1.4l-7 9.3l8.6 -1.3zM967.1 615.7l-8.5 1.3l-6.9 8.5l8.4 -1.2zM954.7 598.4l-8.3 1.3l-6.8 7.7l8.3 -1.2zM942.6 555.4l-8 1.3l-6.4 5.6l7.9 -1.3zM946.2 543.6l-7.8 1.4l-6.4 5l7.8 -1.3zM960.6 523.8l-7.8 1.7l-6.2 3.9l7.8 -1.6z"/><path fill=#d46467 stroke=#d46467 d="M972.9 644.4l-8.6 1.2l-7 9.5l8.6 -1.1zM961.7 630.9l-8.5 1.2l-6.9 8.9l8.4 -1.1zM950.7 618.5l-8.3 1.2l-6.9 8.3l8.3 -1.1zM949.4 612l-8.3 1.2l-6.9 8.1l8.3 -1.1zM937.4 595.4l-8.1 1.2l-6.7 7.2l8.1 -1zM936.2 589.9l-8.1 1.2l-6.8 7l8.1 -1.1zM934.9 584.7l-8.1 1.2l-6.7 6.8l8.1 -1.1zM931.1 570.4l-7.9 1.2l-6.6 6.1l7.9 -1.1zM929.8 566.2l-7.9 1.1l-6.5 5.9l7.9 -1.1zM928.6 562.1l-7.9 1.2l-6.5 5.6l7.9 -1.1zM932.4 549.8l-7.8 1.3l-6.4 5.1l7.8 -1.2zM931.2 546.6l-7.8 1.3l-6.4 4.8l7.8 -1.1zM936.1 539.4l-7.7 1.4l-6.3 4.4l7.7 -1.2zM941 533l-7.7 1.4l-6.3 4.1l7.7 -1.3zM951.8 523.8l-7.7 1.6l-6.2 3.6l7.8 -1.5z"/><path fill=#d4666a stroke=#d4666a d="M966 653.6l-8.6 1.1l-7.1 9.7l8.6 -1.1zM933.4 614.5l-8.2 1.1l-6.9 7.9l8.2 -1zM919.4 587.2l-8 1l-6.7 6.7l8 -1zM918.2 582.2l-7.9 1.1l-6.7 6.4l7.9 -1zM917 577.5l-7.9 1l-6.6 6.2l7.9 -1zM915.8 573l-7.8 1l-6.6 6l7.9 -1zM932.4 532.4l-7.7 1.3l-6.2 3.9l7.7 -1.3z"/><path fill=#d4696c stroke=#d4696c d="M959.1 662.9l-8.6 1.1l-7.1 9.9l8.6 -1zM949.4 656.1l-8.5 1l-7.1 9.5l8.5 -1zM938.5 641.9l-8.3 1l-7 8.9l8.3 -.9zM927.9 628.9l-8.2 .9l-6.9 8.3l8.2 -.9zM917.6 616.8l-8.1 .9l-6.9 7.7l8.1 -.8zM916.4 610.6l-8.1 .9l-6.8 7.5l8 -.8zM905.2 594.6l-7.9 .9l-6.7 6.7l7.9 -.8zM904.1 589.4l-7.9 .9l-6.7 6.5l7.9 -.8zM903 584.5l-7.9 .8l-6.6 6.3l7.8 -.8zM901.9 579.7l-7.8 .9l-6.6 6l7.8 -.8zM900.8 575.2l-7.8 .9l-6.6 5.8l7.8 -.8zM899.7 571l-7.7 .9l-6.6 5.5l7.7 -.8zM904.9 562l-7.7 1l-6.4 5.2l7.6 -.9zM903.8 558.4l-7.6 1l-6.5 4.9l7.7 -.8zM909 550.6l-7.7 1.1l-6.3 4.6l7.6 -1zM902.7 555l-7.6 1l-6.4 4.7l7.6 -.9zM907.8 547.7l-7.6 1l-6.3 4.4l7.6 -1zM919 537.4l-7.6 1.2l-6.2 3.9l7.5 -1.1zM912.9 541.1l-7.6 1.1l-6.3 4.1l7.6 -1.1zM929.9 528.6l-7.6 1.4l-6.1 3.4l7.6 -1.2zM923.9 531.9l-7.6 1.2l-6.2 3.6l7.6 -1.2z"/><path fill=#d56b6e stroke=#d56b6e d="M952.1 672.5l-8.6 1l-7.1 10l8.6 -.9zM941.1 657.2l-8.4 1l-7.1 9.3l8.5 -.8zM931.7 650.5l-8.4 .9l-7 9l8.3 -.8zM921.1 636.9l-8.2 .8l-6.9 8.5l8.2 -.8zM910.9 624.2l-8.1 .8l-6.9 7.9l8.1 -.7zM909.7 617.8l-8 .8l-6.9 7.7l8.1 -.8zM899.7 606.7l-7.9 .8l-6.8 7l8 -.6zM898.6 601l-7.8 .8l-6.8 6.9l7.9 -.7zM897.6 595.6l-7.9 .8l-6.7 6.6l7.9 -.7zM896.5 590.4l-7.8 .8l-6.7 6.4l7.8 -.7zM893.3 576.3l-7.7 .8l-6.6 5.7l7.7 -.7zM892.3 572l-7.7 .8l-6.6 5.5l7.7 -.7zM891.2 568l-7.6 .8l-6.5 5.3l7.6 -.8zM890.2 564.2l-7.6 .8l-6.5 5l7.6 -.7zM895.4 556.1l-7.6 .9l-6.4 4.7l7.6 -.8zM900.6 548.8l-7.6 1l-6.3 4.4l7.5 -.9zM894.4 552.9l-7.6 .9l-6.4 4.5l7.6 -.8zM905.6 542.3l-7.5 1.1l-6.3 4l7.5 -1zM899.5 546.1l-7.5 1l-6.3 4.1l7.5 -.9zM910.6 536.6l-7.5 1.1l-6.2 3.6l7.5 -1zM904.5 540l-7.5 1l-6.2 3.8l7.5 -1z"/><path fill=#d56e71 stroke=#d56e71 d="M945.1 682.2l-8.5 .9l-7.2 10.1l8.5 -.8zM935.5 674.6l-8.5 .8l-7.1 9.8l8.5 -.7zM915.5 652.5l-8.2 .7l-7 8.9l8.2 -.7zM905.3 638.7l-8.1 .7l-7 8.3l8.1 -.6zM895.3 626l-8 .7l-6.9 7.7l8 -.6zM885.5 614.3l-7.9 .6l-6.8 7.2l7.9 -.6zM884.5 608.4l-7.9 .6l-6.7 7l7.8 -.6zM874 593l-7.7 .6l-6.6 6.1l7.6 -.5zM873.1 588.1l-7.7 .6l-6.6 5.9l7.6 -.5zM872.1 583.4l-7.6 .6l-6.6 5.7l7.6 -.5zM871.2 578.9l-7.6 .6l-6.6 5.5l7.6 -.5zM875.6 566l-7.5 .7l-6.5 4.9l7.5 -.6zM874.7 562.4l-7.5 .7l-6.5 4.7l7.5 -.6zM879.9 555l-7.4 .7l-6.4 4.4l7.5 -.7zM885.1 548.3l-7.4 .8l-6.3 4l7.4 -.8zM896.3 539l-7.4 1l-6.2 3.5l7.4 -.9zM890.2 542.3l-7.4 .9l-6.2 3.7l7.4 -.9zM901.3 534.1l-7.5 1l-6.1 3.2l7.4 -1z"/><path fill=#d57173 stroke=#d57173 d="M938.1 692l-8.6 .8l-7.2 10.4l8.6 -.7zM899.6 654.1l-8.1 .6l-7 8.7l8.1 -.5zM889.6 640.3l-8 .6l-6.9 8.1l8 -.5zM879.8 627.5l-7.9 .5l-6.8 7.6l7.9 -.5zM870.3 615.7l-7.8 .5l-6.8 7l7.8 -.4zM858.4 589.5l-7.6 .5l-6.6 5.7l7.5 -.4zM857.5 584.8l-7.5 .5l-6.6 5.5l7.5 -.4zM860.3 564.1l-7.4 .5l-6.4 4.6l7.4 -.5zM865.7 556.8l-7.4 .6l-6.4 4.2l7.4 -.6zM870.9 550.2l-7.3 .7l-6.3 3.8l7.3 -.6zM882.2 541.2l-7.4 .8l-6.2 3.4l7.4 -.7z"/><path fill=#d67376 stroke=#d67376 d="M931.1 702.1l-8.6 .7l-7.2 10.4l8.5 -.6zM892.8 662.5l-8.2 .5l-7 8.8l8.1 -.4zM883.9 655.5l-8.1 .4l-7 8.5l8.1 -.3zM874.1 641.6l-7.9 .4l-6.9 7.9l7.9 -.3zM864.6 628.7l-7.8 .4l-6.8 7.4l7.8 -.3zM855.3 616.9l-7.7 .3l-6.8 6.8l7.7 -.2zM845.4 600.6l-7.5 .3l-6.7 6.1l7.5 -.2zM844.6 595.5l-7.5 .3l-6.6 5.9l7.5 -.3zM843.8 590.6l-7.5 .4l-6.6 5.6l7.5 -.3zM843 586l-7.4 .3l-6.6 5.4l7.4 -.3zM842.2 581.6l-7.4 .3l-6.5 5.2l7.4 -.3zM841.4 577.3l-7.3 .4l-6.6 4.9l7.4 -.2zM846.2 565.4l-7.4 .5l-6.4 4.4l7.3 -.4zM851.6 558.3l-7.3 .5l-6.4 4l7.3 -.4zM856.9 551.8l-7.3 .6l-6.3 3.7l7.3 -.5zM868.2 543.1l-7.3 .7l-6.2 3.3l7.3 -.7zM862.1 546.1l-7.2 .7l-6.3 3.4l7.3 -.6z"/><path fill=#d67679 stroke=#d67679 d="M924 712.2l-8.5 .6l-7.3 10.7l8.5 -.5zM914.5 703.6l-8.4 .6l-7.2 10.2l8.4 -.4zM905.2 695.2l-8.4 .5l-7.1 9.9l8.3 -.4zM896 687.1l-8.3 .4l-7.1 9.6l8.3 -.3zM886.9 679.2l-8.1 .4l-7.1 9.2l8.2 -.3zM859.7 649.7l-7.8 .3l-7 7.9l7.9 -.1zM832.4 612.3l-7.5 .2l-6.8 6.3l7.6 -.1zM825.9 570.5l-7.3 .3l-6.4 4.4l7.2 -.2zM842.2 550.7l-7.2 .4l-6.2 3.4l7.1 -.3zM859.5 540.3l-7.1 .6l-6.2 2.8l7.2 -.6z"/><path fill=#d7797b stroke=#d7797b d="M916.9 722.6l-8.5 .5l-7.3 10.8l8.5 -.4zM907.5 713.6l-8.5 .4l-7.2 10.5l8.4 -.4zM898.2 704.8l-8.3 .5l-7.2 10l8.3 -.3zM889 696.4l-8.2 .3l-7.2 9.8l8.3 -.3zM880 688.1l-8.1 .4l-7.1 9.3l8.1 -.2zM871.2 680.2l-8.1 .2l-7.1 9.1l8.1 -.2zM862.4 672.4l-7.9 .3l-7.1 8.7l8 -.2zM853.8 665l-7.9 .1l-7 8.4l7.9 -.1zM844.5 650.4l-7.7 .2l-7 7.8l7.8 -.1zM836.2 643.7l-7.7 .1l-6.9 7.4l7.7 0zM827.3 630.6l-7.6 .1l-6.8 6.9l7.6 .1zM819.3 624.6l-7.5 0l-6.8 6.6l7.5 .1zM818.6 618.6l-7.5 0l-6.7 6.4l7.4 .1zM810.1 607.5l-7.4 0l-6.7 5.8l7.4 .2zM809.5 602.2l-7.4 0l-6.7 5.7l7.4 .1zM808.8 597.2l-7.3 0l-6.6 5.4l7.3 .1zM808.2 592.3l-7.3 0l-6.6 5.3l7.3 .1zM807.6 587.7l-7.3 0l-6.5 5.1l7.2 0zM807 583.4l-7.2 0l-6.6 4.8l7.2 0zM806.4 579.2l-7.2 0l-6.6 4.6l7.2 .1zM805.7 575.3l-7.1 0l-6.5 4.4l7.1 0zM811.4 567.7l-7.1 .1l-6.5 4.1l7.1 -.1zM817 560.9l-7.1 .2l-6.4 3.7l7.1 -.1zM810.8 564.4l-7.1 .1l-6.4 3.8l7.1 0zM828.5 551.8l-7 .4l-6.3 3.2l7.1 -.2zM822.4 554.9l-7 .2l-6.4 3.4l7.1 -.2zM845.9 541.8l-7.1 .5l-6.1 2.7l7.1 -.5zM839.9 544.2l-7.1 .5l-6.1 2.8l7 -.4zM833.9 546.8l-7.1 .4l-6.2 2.9l7.1 -.3z"/><path fill=#d77c7e stroke=#d77c7e d="M909.8 733.1l-8.5 .4l-7.3 11l8.4 -.3zM900.4 723.7l-8.4 .4l-7.3 10.6l8.4 -.3zM891.1 714.6l-8.3 .4l-7.2 10.2l8.3 -.2zM856.5 689.2l-8 .1l-7.1 9.1l8 0zM847.9 681.1l-8 .1l-7 8.7l7.9 .1zM830.3 658.1l-7.8 0l-6.9 7.9l7.7 .1zM822.1 651l-7.7 -.1l-6.9 7.6l7.7 .1zM814 644.1l-7.6 -.1l-6.8 7.2l7.5 .2zM805.4 631l-7.4 -.1l-6.8 6.6l7.4 .3zM797.6 624.8l-7.4 -.2l-6.7 6.4l7.3 .3zM797.1 618.9l-7.4 -.2l-6.8 6.1l7.4 .3zM789.4 613.1l-7.3 -.2l-6.7 5.8l7.3 .4zM788.9 607.7l-7.3 -.3l-6.7 5.7l7.3 .3zM788.3 602.4l-7.2 -.2l-6.7 5.4l7.3 .3zM787.8 597.4l-7.2 -.2l-6.6 5.2l7.2 .3zM787.3 592.6l-7.2 -.2l-6.6 5l7.2 .3zM786.8 588.1l-7.2 -.2l-6.5 4.8l7.1 .2zM786.3 583.7l-7.1 -.2l-6.6 4.6l7.1 .3zM785.7 579.6l-7 -.2l-6.5 4.4l7 .2zM785.2 575.6l-7 -.1l-6.5 4.2l7 .2zM791 568.3l-7 0l-6.5 3.8l7 .2zM784.7 571.9l-7 -.1l-6.4 3.9l7 .3zM796.6 561.8l-7 0l-6.3 3.5l6.9 .1zM790.4 565l-6.9 0l-6.4 3.6l6.9 .1zM820.4 547.8l-7 .3l-6.2 2.8l7 -.2zM814.4 550.4l-7 .2l-6.3 2.9l7 -.1zM808.3 553.1l-7 .1l-6.3 3.1l7 -.1zM802.2 555.9l-7 .1l-6.3 3.2l7 0z"/><path fill=#d87f81 stroke=#d87f81 d="M902.6 743.8l-8.5 .3l-7.3 11.1l8.5 -.2zM893.3 734.1l-8.4 .2l-7.3 10.8l8.4 -.2zM867.1 715.7l-8.2 .1l-7.2 10l8.2 0zM858.2 706.7l-8 .1l-7.2 9.6l8.1 0zM849.5 698l-7.9 .1l-7.2 9.2l8 .1zM841 689.6l-7.9 0l-7.1 8.9l7.9 .1zM832.5 681.4l-7.8 -.1l-7 8.6l7.8 .2zM824.2 673.5l-7.7 -.2l-7 8.3l7.7 .2zM816 665.7l-7.6 -.1l-7 7.9l7.7 .3zM808 658.3l-7.6 -.3l-7 7.7l7.6 .3zM800 651l-7.5 -.3l-6.9 7.3l7.5 .4zM792.2 644l-7.5 -.3l-6.9 7l7.5 .4zM791.6 637.3l-7.4 -.3l-6.8 6.8l7.4 .4zM783.9 630.8l-7.3 -.4l-6.8 6.5l7.3 .4zM776.3 624.5l-7.2 -.4l-6.8 6.1l7.3 .5zM775.9 618.6l-7.3 -.4l-6.7 5.9l7.2 .5zM768.4 612.7l-7.1 -.4l-6.8 5.6l7.2 .5zM768 607.3l-7.1 -.5l-6.7 5.5l7.1 .5zM767.6 602.1l-7.1 -.4l-6.7 5.2l7.1 .4zM767.1 597.1l-7 -.4l-6.7 5l7.1 .5zM766.7 592.3l-7 -.3l-6.7 4.7l7.1 .5zM759.9 592.1l-7 -.4l-6.6 4.7l7 .5zM765.9 583.5l-7 -.4l-6.6 4.4l7 .4zM759.5 587.6l-7 -.4l-6.5 4.5l6.9 .5zM765.5 579.4l-7 -.4l-6.5 4.2l6.9 .4zM765 575.5l-6.9 -.4l-6.5 4l6.9 .4zM770.9 568.4l-6.9 -.3l-6.5 3.7l6.9 .3zM764.6 571.8l-6.9 -.3l-6.4 3.7l6.9 .4zM782.8 559.1l-6.9 -.1l-6.4 3.2l6.9 .2zM776.6 562.1l-6.9 -.2l-6.3 3.3l6.8 .3zM770.4 565.1l-6.8 -.2l-6.4 3.4l6.8 .3zM812.5 544.6l-6.9 .1l-6.1 2.4l6.9 -.1zM806.5 546.7l-6.9 .1l-6.2 2.5l6.9 -.1zM800.5 548.9l-6.9 .1l-6.2 2.6l6.9 0zM794.5 551.3l-6.9 0l-6.3 2.7l6.9 .1zM788.4 553.8l-6.9 -.1l-6.3 2.9l6.9 .1zM782.3 556.4l-6.9 -.1l-6.3 3l6.9 .2z"/><path fill=#d88284 stroke=#d88284 d="M895.5 754.6l-8.5 .2l-7.4 11.3l8.5 -.1zM886.2 744.5l-8.4 .2l-7.3 10.9l8.3 0zM860 725.4l-8.1 0l-7.2 10.1l8.1 .1zM851.3 716.1l-8.1 -.1l-7.2 9.8l8.1 .1zM842.6 707l-8 -.1l-7.1 9.5l8 .1zM818.1 689.7l-7.8 -.3l-7 8.7l7.7 .3zM809.9 681.3l-7.7 -.2l-7 8.3l7.7 .4zM801.8 673.3l-7.6 -.4l-7 8l7.6 .5zM793.9 665.4l-7.6 -.3l-6.9 7.6l7.5 .5zM786 657.8l-7.4 -.4l-7 7.4l7.5 .5zM778.3 650.4l-7.4 -.4l-6.9 7l7.4 .6zM770.7 643.3l-7.3 -.5l-6.9 6.7l7.3 .6zM762.8 630l-7.3 -.5l-6.8 6.2l7.2 .6zM755.4 623.6l-7.2 -.6l-6.7 5.9l7.1 .7zM755 617.7l-7.1 -.6l-6.8 5.7l7.2 .7zM747.8 611.7l-7.1 -.6l-6.7 5.4l7.1 .7zM747.4 606.3l-7 -.6l-6.7 5.2l7.1 .7zM740.4 600.8l-7 -.7l-6.7 4.9l7 .7zM740.1 595.8l-7 -.6l-6.6 4.7l6.9 .7zM739.8 591.1l-6.9 -.6l-6.7 4.5l6.9 .7zM739.5 586.7l-6.9 -.7l-6.6 4.3l6.9 .7zM739.2 582.4l-6.9 -.6l-6.5 4.1l6.8 .6zM745.2 574.8l-6.9 -.5l-6.5 3.7l6.9 .6zM738.9 578.3l-6.8 -.6l-6.6 3.9l6.9 .7zM744.8 571.2l-6.7 -.6l-6.5 3.6l6.8 .6zM756.9 561.9l-6.8 -.4l-6.4 3.1l6.8 .4zM750.7 564.7l-6.7 -.4l-6.5 3.2l6.8 .5zM744.5 567.7l-6.7 -.5l-6.5 3.3l6.8 .6zM792.9 545.5l-6.8 0l-6.2 2.2l6.8 0zM786.9 547.4l-6.8 0l-6.2 2.3l6.8 .1zM780.9 549.5l-6.8 -.1l-6.2 2.4l6.7 .2zM774.8 551.7l-6.7 -.2l-6.3 2.5l6.8 .3zM768.8 554l-6.8 -.3l-6.3 2.7l6.8 .3zM762.7 556.4l-6.8 -.3l-6.3 2.8l6.7 .4zM756.6 559l-6.8 -.4l-6.4 2.9l6.8 .5z"/><path fill=#d98687 stroke=#d98687 d="M888.3 765.6l-8.5 .1l-7.4 11.5l8.5 0zM861.9 745.1l-8.2 0l-7.3 10.6l8.2 .2zM827.9 716.1l-7.9 -.2l-7.2 9.5l7.9 .3zM795.6 689.2l-7.6 -.5l-7.1 8.4l7.7 .5zM721 615.1l-7 -.9l-6.7 5.4l6.9 .9zM713.9 603.6l-6.9 -.9l-6.7 4.8l6.9 1zM712.7 572.5l-6.7 -.8l-6.5 3.4l6.7 .9zM718.7 566.1l-6.6 -.8l-6.5 3.1l6.7 .8z"/><path fill=#da898b stroke=#da898b d="M881 776.8l-8.4 0l-7.4 11.6l8.4 .1zM863.7 766l-8.3 -.1l-7.3 11.2l8.3 .2zM838 745.1l-8 -.2l-7.3 10.3l8.1 .3zM813.3 725.1l-7.9 -.4l-7.2 9.5l7.9 .5zM805 715.6l-7.8 -.5l-7.2 9.2l7.8 .6zM789.3 705.9l-7.6 -.5l-7.1 8.8l7.6 .6zM781.4 696.9l-7.6 -.6l-7.1 8.5l7.6 .6zM758.6 679l-7.4 -.7l-7 7.7l7.4 .8zM751 670.7l-7.3 -.8l-7 7.4l7.4 .8zM736.6 661.9l-7.3 -.9l-6.9 7l7.2 1zM729.3 654l-7.2 -.9l-6.9 6.7l7.2 .9zM722.1 646.3l-7.1 -1l-6.8 6.4l7 1zM715.1 638.8l-7.1 -1l-6.8 6.1l7 1.1zM708.1 631.6l-7 -1.1l-6.8 5.8l7 1.1zM701.2 624.5l-6.9 -1.1l-6.8 5.6l6.9 1.1zM694.5 617.7l-6.9 -1.1l-6.8 5.2l6.9 1.2zM687.8 611.1l-6.8 -1.2l-6.7 5l6.7 1.2zM681.2 604.7l-6.7 -1.2l-6.7 4.6l6.7 1.3zM681.1 599.4l-6.7 -1.1l-6.6 4.4l6.7 1.3zM674.7 598.4l-6.7 -1.2l-6.7 4.4l6.7 1.3zM674.7 593.5l-6.7 -1.3l-6.6 4.2l6.6 1.3zM674.7 588.7l-6.6 -1.2l-6.7 3.9l6.6 1.3zM674.7 584.1l-6.6 -1.2l-6.6 3.8l6.6 1.3zM674.7 579.8l-6.6 -1.2l-6.6 3.6l6.6 1.2zM668.3 583.1l-6.5 -1.2l-6.6 3.7l6.5 1.3zM674.7 575.6l-6.6 -1.2l-6.5 3.4l6.5 1.3zM668.4 578.8l-6.6 -1.3l-6.6 3.5l6.6 1.4zM748.2 545.6l-6.6 -.4l-6.2 1.7l6.6 .5zM674.7 571.7l-6.5 -1.2l-6.6 3.2l6.5 1.2zM668.4 574.7l-6.5 -1.3l-6.6 3.3l6.5 1.3zM729.9 548.5l-6.5 -.6l-6.2 1.9l6.5 .6zM723.9 550.2l-6.5 -.7l-6.3 2l6.5 .7zM717.8 552l-6.5 -.8l-6.3 2.2l6.5 .8zM711.7 553.9l-6.5 -.8l-6.3 2.3l6.5 .8zM693.3 560.4l-6.5 -1l-6.4 2.6l6.5 1.1zM687.1 562.8l-6.4 -1.1l-6.5 2.8l6.5 1.1zM680.9 565.3l-6.5 -1.1l-6.4 2.9l6.4 1.1zM674.7 568l-6.5 -1.2l-6.5 3l6.5 1.2zM699.4 555.3l-6.5 -.9l-6.3 2.3l6.4 1zM693.3 557.4l-6.5 -1l-6.4 2.5l6.4 1zM687.1 559.6l-6.5 -1l-6.4 2.6l6.5 1z"/><path fill=#da8c8e stroke=#da8c8e d="M873.8 788.1l-8.4 -.1l-7.4 11.8l8.4 .2zM847.6 766l-8.2 -.3l-7.3 11l8.2 .3zM831 755.2l-8.1 -.4l-7.3 10.5l8.1 .5zM806.3 734.4l-7.9 -.5l-7.2 9.7l7.9 .6zM790.5 724.1l-7.8 -.6l-7.1 9.3l7.7 .6zM767.2 704.5l-7.6 -.7l-7.1 8.5l7.6 .8zM744.6 685.8l-7.3 -.9l-7 7.8l7.3 .9zM730.1 676.3l-7.2 -.9l-7 7.3l7.2 1.1zM722.9 667.8l-7.2 -1l-7 7.1l7.2 1.1zM708.8 658.7l-7.1 -1.1l-6.9 6.7l7.1 1.1zM701.8 650.6l-7 -1.1l-6.9 6.4l7 1.2zM688.2 641.8l-7 -1.3l-6.8 6l6.9 1.3zM681.4 634.1l-6.8 -1.3l-6.9 5.7l6.9 1.4zM674.8 626.7l-6.8 -1.3l-6.8 5.4l6.8 1.4zM668.2 625.5l-6.8 -1.3l-6.8 5.3l6.8 1.5zM661.7 618.3l-6.7 -1.4l-6.8 5l6.7 1.5zM655.3 611.2l-6.7 -1.4l-6.7 4.8l6.6 1.5zM649 604.4l-6.6 -1.5l-6.8 4.5l6.6 1.6zM642.7 597.8l-6.5 -1.6l-6.7 4.3l6.5 1.6zM636.4 596.4l-6.5 -1.5l-6.7 4.1l6.5 1.7zM636.6 591.3l-6.5 -1.5l-6.7 3.9l6.5 1.7zM630.3 590l-6.4 -1.7l-6.7 3.9l6.4 1.7zM630.5 585.1l-6.4 -1.6l-6.7 3.7l6.5 1.6zM630.7 580.4l-6.4 -1.6l-6.6 3.5l6.4 1.7zM723.3 544.5l-6.4 -.7l-6.2 1.5l6.4 .7zM717.3 545.8l-6.4 -.8l-6.2 1.6l6.4 .8zM630.9 576l-6.4 -1.6l-6.6 3.3l6.4 1.6zM624.5 579.1l-6.3 -1.7l-6.7 3.4l6.4 1.7zM705.2 546.6l-6.4 -.8l-6.3 1.6l6.4 .9zM699.1 548l-6.3 -.8l-6.4 1.7l6.4 1zM631.1 571.7l-6.4 -1.5l-6.6 3l6.4 1.7zM624.7 574.6l-6.3 -1.6l-6.6 3.2l6.3 1.7zM686.9 548.9l-6.3 -1l-6.3 1.8l6.3 1.1zM680.9 550.5l-6.4 -1.1l-6.3 2l6.3 1.1zM631.3 567.7l-6.4 -1.6l-6.5 2.9l6.3 1.7zM625 570.4l-6.4 -1.7l-6.6 3.1l6.4 1.7zM668.7 551.3l-6.4 -1.1l-6.3 2l6.3 1.2zM662.5 553.1l-6.3 -1.2l-6.4 2.1l6.3 1.3zM656.4 555l-6.4 -1.3l-6.4 2.3l6.3 1.3zM650.2 557.1l-6.3 -1.4l-6.5 2.3l6.3 1.5zM644 559.2l-6.3 -1.4l-6.5 2.4l6.3 1.5zM637.7 561.5l-6.3 -1.5l-6.5 2.6l6.3 1.5zM631.5 563.8l-6.3 -1.5l-6.6 2.7l6.3 1.6zM625.2 566.3l-6.3 -1.6l-6.6 2.9l6.3 1.6zM644.1 555.9l-6.3 -1.4l-6.4 2.3l6.2 1.5zM637.9 558l-6.3 -1.5l-6.5 2.4l6.3 1.6zM631.7 560.2l-6.3 -1.5l-6.5 2.5l6.2 1.6z"/><path fill=#db9091 stroke=#db9091 d="M866.5 799.6l-8.4 -.2l-7.4 12l8.4 .3zM807.6 754.3l-8 -.6l-7.2 10.2l7.9 .7zM791.6 743.3l-7.8 -.6l-7.2 9.7l7.8 .8zM753 712.1l-7.5 -.9l-7.1 8.6l7.5 .9zM738.2 701.8l-7.4 -1l-7.1 8.2l7.4 1zM723.6 691.6l-7.3 -1.1l-7 7.8l7.3 1.2zM709.4 681.6l-7.2 -1.2l-7 7.4l7.2 1.2zM695.4 671.7l-7.1 -1.3l-6.9 7l7 1.3zM681.7 661.9l-7 -1.4l-6.9 6.6l6.9 1.4zM668.2 652.2l-6.9 -1.5l-6.9 6.2l6.9 1.5zM655 642.6l-6.8 -1.5l-6.9 5.8l6.8 1.6zM642 633.1l-6.7 -1.6l-6.8 5.4l6.7 1.8zM629.3 623.8l-6.6 -1.8l-6.9 5.1l6.7 1.8zM616.8 614.5l-6.6 -1.8l-6.8 4.7l6.6 1.9zM610.5 612.9l-6.5 -1.9l-6.8 4.7l6.5 1.9zM598.3 603.6l-6.5 -1.9l-6.7 4.3l6.4 2zM592.1 601.9l-6.4 -2l-6.8 4.2l6.4 2.1zM580.1 592.6l-6.3 -2.1l-6.7 3.9l6.3 2.2zM574.1 590.8l-6.3 -2.2l-6.8 3.8l6.3 2.3zM568 588.8l-6.3 -2.2l-6.7 3.8l6.2 2.3z"/><path fill=#dc9395 stroke=#dc9395 d="M859.3 811.3l-8.4 -.3l-7.5 12.1l8.4 .4zM842.1 799.1l-8.2 -.4l-7.5 11.6l8.3 .6zM717 707.8l-7.3 -1.2l-7 8.1l7.3 1.3zM702.8 697l-7.2 -1.2l-7.1 7.7l7.2 1.3zM688.8 686.4l-7.1 -1.3l-7.1 7.3l7.1 1.4zM654.8 664.2l-6.8 -1.6l-7 6.5l6.9 1.7zM635.1 652.4l-6.7 -1.8l-6.9 6l6.7 1.9zM615.9 640.4l-6.7 -1.9l-6.8 5.6l6.6 2zM609.5 638.7l-6.6 -1.9l-6.9 5.5l6.6 2zM584.5 624.7l-6.5 -2.2l-6.8 5l6.4 2.2zM578.3 622.7l-6.5 -2.1l-6.9 4.9l6.5 2.2zM572 620.8l-6.4 -2.3l-6.8 4.9l6.4 2.3zM541.4 610.1l-6.3 -2.5l-6.9 4.5l6.3 2.5zM535.3 607.8l-6.3 -2.5l-6.8 4.3l6.2 2.7z"/><path fill=#dc9798 stroke=#dc9798 d="M852 823.1l-8.4 -.4l-7.5 12.3l8.4 .5zM834.9 810.5l-8.3 -.5l-7.4 11.8l8.2 .6zM818.1 798l-8.1 -.6l-7.4 11.3l8.1 .7zM801.8 785.7l-8 -.7l-7.4 10.9l8 .8zM785.7 773.6l-7.8 -.8l-7.3 10.5l7.8 .9zM770 761.7l-7.7 -.9l-7.3 10l7.7 1zM717.5 725.9l-7.3 -1.2l-7.2 8.6l7.4 1.3zM682 702l-7.1 -1.4l-7 7.7l7.1 1.5zM661.5 689.4l-7 -1.6l-7 7.3l7 1.7zM641.4 676.8l-6.9 -1.8l-7 6.8l6.9 1.8zM615.3 662.3l-6.8 -1.9l-6.9 6.2l6.7 2zM583.5 645.5l-6.6 -2.2l-6.9 5.6l6.5 2.3zM577.1 643.5l-6.5 -2.2l-6.9 5.5l6.5 2.3zM570.9 641.5l-6.5 -2.4l-7 5.5l6.5 2.4zM564.6 639.3l-6.5 -2.3l-6.9 5.4l6.5 2.4zM539.8 630.4l-6.4 -2.5l-6.9 5l6.4 2.7zM533.7 628.1l-6.4 -2.6l-6.9 5l6.3 2.6zM527.6 625.7l-6.3 -2.7l-7 4.9l6.3 2.8z"/><path fill=#dd9a9c stroke=#dd9a9c d="M844.6 835.1l-8.3 -.5l-7.6 12.4l8.4 .6zM755.4 770.6l-7.7 -1.1l-7.2 10.1l7.7 1.1zM718 745.1l-7.4 -1.3l-7.2 9.1l7.4 1.4zM654.7 705.1l-7.1 -1.7l-7 7.6l7 1.8zM627.9 689.9l-6.9 -1.9l-7 7.1l6.8 2zM588.9 670.5l-6.7 -2.2l-7 6.3l6.7 2.3zM513.6 642.8l-6.3 -2.8l-7 5.4l6.3 2.9z"/><path fill=#de9e9f stroke=#de9e9f d="M837.3 847.2l-8.4 -.6l-7.5 12.6l8.3 .8zM820.3 833.6l-8.2 -.7l-7.5 12.2l8.2 .8zM779.7 806.3l-7.9 -1l-7.4 11.1l7.9 1.1zM763.9 793.2l-7.8 -1l-7.4 10.6l7.8 1.1zM740.9 779.3l-7.6 -1.2l-7.3 10.1l7.6 1.3zM725.8 766.5l-7.5 -1.3l-7.2 9.7l7.5 1.4zM718.5 765.3l-7.5 -1.3l-7.2 9.6l7.5 1.4zM703.9 752.7l-7.4 -1.5l-7.2 9.2l7.3 1.5zM696.7 751.4l-7.3 -1.5l-7.2 9l7.3 1.6zM682.4 738.7l-7.2 -1.5l-7.2 8.6l7.2 1.7zM675.4 737.3l-7.2 -1.6l-7.2 8.5l7.2 1.8zM654.6 723.2l-7.1 -1.8l-7.1 8.1l7.1 1.9zM647.8 721.6l-7.1 -1.8l-7.1 7.9l7 2zM627.6 707.3l-6.9 -1.9l-7.1 7.5l6.9 2zM620.9 705.5l-6.9 -2l-7.1 7.4l6.9 2.1zM614.2 703.7l-6.8 -2.1l-7.1 7.3l6.9 2.2zM581.8 685l-6.7 -2.4l-7 6.7l6.6 2.4zM575.3 682.8l-6.6 -2.3l-7.1 6.6l6.7 2.4zM568.9 680.6l-6.6 -2.4l-7 6.5l6.6 2.5zM562.5 678.4l-6.6 -2.5l-7 6.5l6.6 2.5zM556.2 676.1l-6.6 -2.5l-7 6.4l6.5 2.6zM549.8 673.8l-6.5 -2.6l-7 6.3l6.5 2.6zM543.5 671.4l-6.5 -2.7l-7 6.3l6.5 2.7zM537.3 668.9l-6.5 -2.6l-7.1 6.1l6.5 2.8zM531 666.4l-6.5 -2.7l-7 6.1l6.5 2.8zM524.8 663.9l-6.5 -2.8l-7 6l6.4 2.9zM518.6 661.3l-6.4 -2.8l-7.1 5.9l6.4 2.9zM487.3 655.9l-6.4 -3.1l-7 5.7l6.3 3.2zM481.2 653l-6.3 -3.1l-7.1 5.6l6.3 3.2zM475.1 650.1l-6.2 -3.2l-7.1 5.5l6.3 3.3z"/><path fill=#dfa2a3 stroke=#dfa2a3 d="M829.9 859.5l-8.3 -.7l-7.6 12.8l8.4 .8zM805 844.8l-8.1 -.9l-7.5 12.2l8.1 1zM788.6 830.8l-8 -.9l-7.5 11.7l8 1zM764.8 816.1l-7.9 -1.1l-7.3 11.2l7.8 1.2zM749.2 802.5l-7.8 -1.2l-7.3 10.7l7.7 1.3zM726.4 788l-7.6 -1.4l-7.3 10.2l7.6 1.4zM704.2 773.3l-7.4 -1.5l-7.2 9.7l7.4 1.6zM697 772l-7.4 -1.6l-7.2 9.6l7.4 1.6zM675.5 757.2l-7.2 -1.7l-7.2 9l7.2 1.8zM654.6 742.4l-7.2 -1.8l-7.1 8.5l7.1 1.9zM647.7 740.7l-7.1 -1.9l-7.2 8.5l7.1 1.9zM640.8 739l-7.1 -2l-7.1 8.4l7 2zM620.6 723.9l-7 -2.1l-7.1 7.9l6.9 2.1zM613.9 721.9l-6.9 -2.1l-7.2 7.8l6.9 2.2zM607.2 720l-6.9 -2.2l-7.1 7.7l6.9 2.3zM600.5 717.9l-6.8 -2.2l-7.1 7.6l6.8 2.3zM498.2 678.8l-6.4 -3.1l-7.1 6.3l6.4 3.1zM492 675.9l-6.4 -3.1l-7 6.2l6.3 3.2zM485.9 673l-6.4 -3.2l-7.1 6.2l6.4 3.2zM479.7 670l-6.3 -3.2l-7.1 6.1l6.4 3.3zM460.8 669.7l-6.3 -3.4l-7.1 6.1l6.2 3.4zM454.7 666.5l-6.2 -3.4l-7.2 6l6.3 3.5z"/><path fill=#e0a5a6 stroke=#e0a5a6 d="M822.5 872l-8.3 -.8l-7.6 12.9l8.3 1zM805.7 857.5l-8.2 -.9l-7.5 12.4l8.1 1zM781.3 842.2l-8 -1l-7.5 11.9l8 1.1zM712 796.5l-7.6 -1.5l-7.3 10.2l7.5 1.6zM690 781.2l-7.4 -1.6l-7.3 9.7l7.4 1.7zM661.5 764.3l-7.2 -1.8l-7.2 9.1l7.2 1.9zM627 745.2l-7 -2.1l-7.2 8.4l7.1 2.2zM620.2 743.2l-6.9 -2.1l-7.2 8.3l7 2.3zM573.9 718.7l-6.7 -2.5l-7.2 7.5l6.8 2.6zM567.4 716.4l-6.7 -2.6l-7.1 7.5l6.7 2.6zM560.9 714l-6.7 -2.6l-7.1 7.4l6.7 2.6zM554.5 711.6l-6.7 -2.6l-7.1 7.2l6.6 2.7zM548 709.1l-6.6 -2.6l-7.1 7.1l6.6 2.8zM541.6 706.6l-6.6 -2.7l-7.1 7.1l6.6 2.8zM535.2 704.1l-6.5 -2.8l-7.2 7l6.6 2.9zM528.9 701.5l-6.6 -2.9l-7.1 7l6.6 2.9zM522.6 698.8l-6.5 -2.9l-7.2 6.9l6.6 2.9zM478.3 688l-6.3 -3.2l-7.2 6.5l6.4 3.3zM472.2 685l-6.4 -3.3l-7.1 6.4l6.4 3.4zM441 678.2l-6.3 -3.6l-7.1 6.2l6.2 3.7z"/><path fill=#e1a9aa stroke=#e1a9aa d="M815.1 884.7l-8.3 -1l-7.6 13.1l8.3 1.1zM774 853.8l-8 -1.1l-7.5 12l8 1.3zM750.4 838l-7.9 -1.3l-7.4 11.5l7.8 1.4zM719.9 820.9l-7.7 -1.5l-7.3 10.8l7.6 1.6zM697.5 805l-7.4 -1.7l-7.4 10.3l7.5 1.8zM668.6 787.4l-7.3 -1.8l-7.2 9.6l7.3 2zM661.6 785.7l-7.3 -1.9l-7.3 9.6l7.3 2zM633.7 767.6l-7.1 -2.1l-7.3 9l7.1 2.2zM626.8 765.7l-7.1 -2.2l-7.2 8.9l7 2.2zM579.8 740.4l-6.8 -2.4l-7.2 8l6.9 2.6zM573.2 738.1l-6.8 -2.5l-7.1 7.9l6.8 2.7zM566.7 735.7l-6.8 -2.5l-7.2 7.8l6.8 2.7zM560.1 733.3l-6.7 -2.6l-7.2 7.8l6.8 2.7zM553.6 730.8l-6.7 -2.6l-7.2 7.7l6.7 2.7zM547.1 728.3l-6.6 -2.7l-7.2 7.6l6.7 2.8zM540.7 725.8l-6.7 -2.8l-7.1 7.5l6.6 2.9zM534.3 723.1l-6.7 -2.8l-7.1 7.5l6.6 2.9zM527.9 720.5l-6.6 -2.9l-7.2 7.4l6.6 2.9zM521.5 717.7l-6.6 -2.9l-7.1 7.3l6.5 3zM515.1 715l-6.5 -3l-7.2 7.2l6.6 3.1zM470.7 703.9l-6.3 -3.4l-7.2 6.9l6.4 3.4zM464.6 700.7l-6.4 -3.4l-7.2 6.8l6.4 3.5zM439.3 697.2l-6.3 -3.6l-7.1 6.7l6.2 3.7zM433.3 693.8l-6.3 -3.7l-7.2 6.6l6.3 3.8z"/><path fill=#e2adae stroke=#e2adae d="M807.7 897.5l-8.3 -1.1l-7.6 13.3l8.3 1.1zM783 880.9l-8.1 -1.2l-7.6 12.7l8.1 1.3zM759 864.4l-8 -1.3l-7.5 12.1l8 1.4zM735.5 847.9l-7.8 -1.5l-7.4 11.6l7.8 1.5zM712.7 831.4l-7.6 -1.6l-7.4 11l7.6 1.7zM705.3 830l-7.6 -1.7l-7.4 10.9l7.6 1.7zM683.2 813.4l-7.5 -1.8l-7.3 10.3l7.4 1.9zM675.9 811.7l-7.4 -1.9l-7.3 10.3l7.4 1.9zM647.5 793.1l-7.3 -2l-7.3 9.6l7.3 2.2zM640.4 791.2l-7.1 -2.1l-7.3 9.6l7.2 2.2zM633.5 789.3l-7.2 -2.2l-7.3 9.5l7.2 2.2zM599.3 767.9l-6.9 -2.4l-7.2 8.8l6.9 2.4zM592.6 765.6l-6.9 -2.4l-7.3 8.7l7 2.5zM585.9 763.3l-6.9 -2.5l-7.2 8.6l6.9 2.6zM579.2 761l-6.9 -2.5l-7.2 8.5l6.9 2.6zM572.6 758.6l-6.9 -2.6l-7.2 8.4l6.8 2.7zM565.9 756.2l-6.8 -2.7l-7.2 8.4l6.8 2.7zM559.3 753.7l-6.7 -2.7l-7.3 8.2l6.8 2.8zM552.8 751.1l-6.8 -2.7l-7.2 8.1l6.8 2.9zM546.3 748.5l-6.8 -2.8l-7.2 8.1l6.7 2.9zM539.7 745.9l-6.6 -2.8l-7.3 7.9l6.7 3zM533.3 743.2l-6.7 -2.9l-7.2 7.9l6.7 3zM526.8 740.5l-6.6 -3l-7.2 7.9l6.6 3zM520.4 737.7l-6.6 -3l-7.2 7.7l6.6 3.1zM514 734.9l-6.6 -3.1l-7.2 7.7l6.6 3.1zM507.7 732l-6.6 -3.1l-7.2 7.6l6.6 3.1zM501.3 729.1l-6.5 -3.2l-7.2 7.5l6.5 3.2zM495 726.1l-6.5 -3.2l-7.2 7.4l6.5 3.3zM463.1 720.6l-6.4 -3.5l-7.2 7.2l6.4 3.6zM456.9 717.3l-6.4 -3.5l-7.2 7.1l6.4 3.6zM450.7 714l-6.3 -3.6l-7.2 7l6.3 3.7zM425.5 710.3l-6.3 -3.8l-7.2 6.9l6.3 3.9zM419.4 706.7l-6.3 -3.8l-7.2 6.8l6.3 3.9z"/><path fill=#e3b1b2 stroke=#e3b1b2 d="M800.3 910.4l-8.3 -1.1l-7.7 13.4l8.3 1.3zM775.6 893.3l-8.1 -1.3l-7.6 12.8l8.1 1.4zM751.6 876.2l-7.9 -1.4l-7.5 12.2l7.9 1.6zM743.9 874.9l-7.9 -1.5l-7.5 12.1l7.9 1.6zM720.7 857.7l-7.7 -1.6l-7.5 11.6l7.8 1.7zM690.7 838.9l-7.5 -1.8l-7.4 10.9l7.5 1.9zM683.4 837.2l-7.5 -1.9l-7.4 10.9l7.5 1.9zM661.6 819.8l-7.3 -2l-7.4 10.3l7.4 2.1zM654.5 818l-7.3 -2.1l-7.4 10.2l7.4 2.2zM647.4 816l-7.3 -2.1l-7.3 10.1l7.3 2.2zM612.6 794.2l-7.1 -2.4l-7.3 9.4l7.1 2.5zM605.7 792l-7 -2.4l-7.3 9.3l7 2.5zM598.9 789.7l-7 -2.5l-7.3 9.3l7 2.5zM592.1 787.4l-7 -2.5l-7.3 9.1l7 2.6zM500.1 749.8l-6.6 -3.2l-7.2 8l6.6 3.2zM493.7 746.8l-6.5 -3.3l-7.2 7.9l6.5 3.3zM487.4 743.7l-6.5 -3.3l-7.2 7.8l6.5 3.3zM481.1 740.6l-6.5 -3.4l-7.2 7.7l6.5 3.4zM449.2 734.7l-6.4 -3.7l-7.3 7.5l6.4 3.8zM443 731.2l-6.4 -3.6l-7.2 7.4l6.4 3.7zM436.8 727.7l-6.3 -3.7l-7.2 7.4l6.3 3.8zM411.5 723.9l-6.2 -4l-7.3 7.2l6.3 4.1z"/><path fill=#e4b5b6 stroke=#e4b5b6 d="M792.8 923.6l-8.3 -1.3l-7.6 13.6l8.2 1.3zM768.2 905.8l-8.1 -1.4l-7.6 13l8.1 1.5zM760.4 904.5l-8.1 -1.4l-7.6 12.9l8.1 1.5zM736.6 886.7l-7.9 -1.6l-7.5 12.4l7.9 1.6zM706 867.4l-7.7 -1.8l-7.5 11.6l7.7 1.9zM676.2 847.8l-7.5 -2l-7.4 11l7.5 2.1zM669 845.9l-7.5 -2l-7.4 10.9l7.4 2.1zM633.2 823.8l-7.2 -2.3l-7.4 10.2l7.3 2.4zM626.2 821.7l-7.2 -2.4l-7.3 10.1l7.2 2.4zM619.2 819.5l-7.2 -2.4l-7.3 10l7.2 2.5zM558.2 786.2l-6.9 -2.8l-7.2 8.9l6.8 2.9zM551.6 783.5l-6.9 -2.8l-7.2 8.8l6.8 3zM544.9 780.8l-6.7 -2.9l-7.3 8.8l6.8 3zM538.4 778.1l-6.8 -3l-7.3 8.7l6.8 3zM531.8 775.3l-6.7 -3l-7.3 8.6l6.8 3.1zM473.4 758.9l-6.5 -3.5l-7.2 8.1l6.5 3.5zM467.1 755.6l-6.4 -3.5l-7.3 7.9l6.5 3.6zM460.9 752.2l-6.5 -3.5l-7.3 7.9l6.5 3.6zM429 745.7l-6.3 -3.8l-7.3 7.7l6.4 3.9zM422.9 742.1l-6.4 -3.9l-7.2 7.6l6.3 4zM397.6 738l-6.3 -4.1l-7.3 7.5l6.3 4.2z"/><path fill=#e5b9ba stroke=#e5b9ba d="M785.3 936.8l-8.2 -1.3l-7.7 13.7l8.2 1.5zM753 917.1l-8.1 -1.5l-7.6 13l8 1.7zM729.3 898.8l-7.9 -1.7l-7.5 12.4l7.8 1.8zM721.6 897.2l-7.8 -1.8l-7.5 12.4l7.8 1.8zM691.2 877l-7.6 -2l-7.5 11.7l7.7 2.1zM654.5 854.5l-7.4 -2.1l-7.4 10.9l7.4 2.3zM647.3 852.5l-7.3 -2.3l-7.4 10.9l7.3 2.3zM605.1 826.9l-7.1 -2.5l-7.3 10l7.1 2.6zM598.2 824.5l-7.1 -2.6l-7.3 10l7.1 2.6zM591.4 822.1l-7.1 -2.7l-7.3 9.9l7 2.7zM584.5 819.6l-7 -2.7l-7.4 9.8l7.1 2.8zM577.7 817.1l-7 -2.8l-7.3 9.7l7 2.8zM570.9 814.5l-7 -2.8l-7.3 9.6l7 2.9zM517.8 792.1l-6.8 -3.2l-7.3 8.9l6.8 3.3zM511.3 789.1l-6.8 -3.2l-7.2 8.8l6.7 3.3zM504.8 786l-6.7 -3.2l-7.3 8.7l6.7 3.3zM498.3 782.9l-6.6 -3.3l-7.3 8.6l6.6 3.4zM491.9 779.8l-6.6 -3.4l-7.3 8.6l6.6 3.4zM485.5 776.6l-6.6 -3.4l-7.3 8.4l6.6 3.5zM446.8 767.7l-6.4 -3.8l-7.3 8.2l6.5 3.8zM440.6 764.1l-6.4 -3.8l-7.3 8.1l6.4 3.9zM408.8 757l-6.3 -4.1l-7.3 7.9l6.3 4.1zM383.5 752.7l-6.3 -4.3l-7.3 7.8l6.3 4.3zM377.4 748.6l-6.2 -4.3l-7.3 7.7l6.2 4.4z"/><path fill=#e6bdbe stroke=#e6bdbe d="M777.8 950.3l-8.2 -1.5l-7.7 13.9l8.2 1.6zM745.5 929.9l-8 -1.7l-7.6 13.2l8 1.8zM714.3 909.2l-7.8 -1.8l-7.6 12.5l7.8 2zM676.6 886.5l-7.6 -2.1l-7.5 11.7l7.6 2.2zM669.2 884.5l-7.6 -2.2l-7.4 11.7l7.5 2.2zM633 860.9l-7.3 -2.4l-7.4 10.9l7.3 2.5zM625.9 858.6l-7.3 -2.4l-7.4 10.8l7.3 2.5zM618.8 856.3l-7.2 -2.5l-7.4 10.7l7.2 2.6zM465 789.7l-6.5 -3.6l-7.4 8.6l6.6 3.8zM458.7 786.3l-6.6 -3.7l-7.3 8.5l6.6 3.8zM420.3 776.2l-6.4 -4l-7.3 8.3l6.4 4.1zM388.6 768.4l-6.3 -4.2l-7.3 8l6.3 4.4zM363.3 763.7l-6.2 -4.5l-7.4 8l6.3 4.5z"/><path fill=#e7c1c2 stroke=#e7c1c2 d="M770.3 963.9l-8.2 -1.6l-7.7 14.1l8.2 1.7zM738.1 942.8l-8 -1.8l-7.6 13.4l7.9 1.9zM706.9 921.5l-7.8 -2l-7.6 12.7l7.8 2zM699.3 919.6l-7.7 -2l-7.6 12.6l7.7 2.1zM661.9 895.8l-7.5 -2.2l-7.5 11.8l7.5 2.4zM654.6 893.7l-7.5 -2.3l-7.5 11.7l7.5 2.4zM611.6 866.7l-7.2 -2.5l-7.4 10.9l7.2 2.6zM604.6 864.3l-7.2 -2.6l-7.4 10.8l7.2 2.7zM597.6 861.8l-7.2 -2.7l-7.4 10.7l7.2 2.8zM590.6 859.2l-7.1 -2.7l-7.4 10.6l7.1 2.8zM496.5 818.4l-6.7 -3.4l-7.3 9.3l6.7 3.5zM490 815.2l-6.6 -3.5l-7.4 9.2l6.7 3.6zM483.6 811.8l-6.7 -3.5l-7.3 9.2l6.6 3.6zM477.1 808.5l-6.6 -3.6l-7.3 9.1l6.6 3.6zM438.2 799.4l-6.5 -3.9l-7.3 8.7l6.5 4zM431.9 795.6l-6.4 -3.9l-7.4 8.7l6.5 4zM400 788.4l-6.4 -4.2l-7.4 8.5l6.4 4.3zM393.8 784.4l-6.4 -4.2l-7.3 8.4l6.4 4.3zM368.4 780l-6.3 -4.4l-7.4 8.2l6.3 4.6zM343.1 774.9l-6.2 -4.7l-7.4 8.2l6.2 4.7z"/><path fill=#e8c5c6 stroke=#e8c5c6 d="M762.8 977.7l-8.3 -1.7l-7.7 14.2l8.2 1.8zM730.6 955.9l-8 -1.9l-7.6 13.5l8 2zM722.9 954.1l-8 -2l-7.6 13.5l7.9 2zM691.9 931.9l-7.7 -2.1l-7.6 12.7l7.8 2.2zM684.4 929.9l-7.7 -2.2l-7.6 12.7l7.7 2.2zM647.3 905.1l-7.5 -2.4l-7.5 11.9l7.5 2.5zM640 902.9l-7.4 -2.5l-7.5 11.8l7.4 2.5zM576.5 866.9l-7.1 -2.9l-7.4 10.7l7.1 2.9zM569.7 864.1l-7.1 -2.9l-7.4 10.6l7 3zM562.8 861.3l-7 -2.9l-7.4 10.4l7 3.1zM556 858.5l-7 -3l-7.4 10.4l7 3.1zM549.2 855.6l-7 -3.1l-7.4 10.3l7 3.2zM542.4 852.7l-6.9 -3.1l-7.4 10.1l6.9 3.3zM535.7 849.7l-6.9 -3.2l-7.4 10.1l6.9 3.3zM529 846.7l-6.9 -3.3l-7.4 10.1l6.9 3.3zM522.3 843.6l-6.8 -3.3l-7.4 9.9l6.9 3.4zM515.7 840.5l-6.8 -3.4l-7.4 9.9l6.8 3.4zM509.1 837.3l-6.8 -3.4l-7.4 9.8l6.8 3.4zM450.1 819l-6.5 -3.8l-7.4 9.2l6.6 3.9zM443.8 815.4l-6.6 -3.9l-7.3 9.1l6.5 3.9zM405.3 804.8l-6.5 -4.2l-7.3 8.8l6.4 4.2zM373.5 796.6l-6.4 -4.4l-7.3 8.6l6.3 4.5zM348.1 791.8l-6.3 -4.6l-7.4 8.4l6.3 4.8z"/><path fill=#e9c9ca stroke=#e9c9ca d="M755.2 991.6l-8.2 -1.8l-7.7 14.4l8.2 1.9zM723.2 969.1l-8 -2l-7.7 13.7l8 2.1zM715.4 967.2l-7.9 -2l-7.7 13.5l7.9 2.2zM684.6 944.3l-7.8 -2.2l-7.6 12.9l7.8 2.3zM677 942.2l-7.7 -2.2l-7.5 12.7l7.6 2.4zM632.8 914.3l-7.5 -2.5l-7.5 11.9l7.4 2.7zM625.5 911.9l-7.4 -2.6l-7.5 11.8l7.4 2.7zM618.3 909.4l-7.3 -2.6l-7.5 11.7l7.3 2.8zM468.7 842.5l-6.7 -3.7l-7.4 9.7l6.7 3.8zM462.2 838.9l-6.6 -3.7l-7.4 9.5l6.7 3.9zM455.8 835.3l-6.6 -3.8l-7.4 9.5l6.6 3.9zM416.9 825.3l-6.5 -4.1l-7.4 9.2l6.5 4.2zM410.6 821.4l-6.4 -4.2l-7.4 9.1l6.5 4.3zM378.7 813.6l-6.4 -4.5l-7.4 9l6.4 4.5zM353.1 809.1l-6.3 -4.7l-7.4 8.8l6.3 4.7zM327.8 803.8l-6.3 -4.9l-7.4 8.7l6.3 5z"/><path fill=#ebcecf stroke=#ebcecf d="M747.6 1005.7l-8.1 -1.9l-7.8 14.5l8.2 2.1zM739.7 1003.9l-8.2 -2l-7.7 14.5l8.1 2zM707.9 980.5l-7.9 -2.2l-7.7 13.8l7.9 2.2zM662.2 952.5l-7.7 -2.5l-7.6 12.9l7.7 2.5zM654.7 950.1l-7.6 -2.4l-7.6 12.7l7.6 2.6zM596.8 915.6l-7.3 -2.9l-7.5 11.7l7.3 2.9zM589.7 912.8l-7.2 -2.9l-7.5 11.6l7.2 3zM582.7 910.1l-7.2 -3l-7.5 11.5l7.2 3zM575.7 907.2l-7.2 -3l-7.4 11.4l7.1 3.1zM507.5 876.3l-6.9 -3.5l-7.4 10.5l6.9 3.6zM500.9 873l-6.9 -3.6l-7.4 10.4l6.8 3.6zM494.2 869.6l-6.8 -3.6l-7.4 10.3l6.8 3.6zM487.6 866.1l-6.7 -3.6l-7.5 10.2l6.8 3.7zM428.7 846.2l-6.5 -4.1l-7.4 9.6l6.5 4.2zM390.1 835.1l-6.4 -4.4l-7.4 9.3l6.4 4.5zM358.2 826.6l-6.3 -4.6l-7.4 9.1l6.3 4.7zM332.7 821.7l-6.2 -4.9l-7.5 9l6.3 4.9zM307.4 816l-6.2 -5.1l-7.4 8.9l6.2 5.1z"/><path fill=#ecd2d3 stroke=#ecd2d3 d="M740.1 1020l-8.2 -2.1l-7.8 14.8l8.2 2.1zM700.4 993.9l-7.9 -2.2l-7.7 13.9l7.9 2.3zM654.8 965l-7.7 -2.5l-7.6 13l7.7 2.6zM582.5 924.1l-7.3 -3l-7.5 11.8l7.3 3.1zM575.4 921.3l-7.2 -3.1l-7.5 11.7l7.2 3.1zM568.4 918.3l-7.1 -3l-7.5 11.5l7.1 3.2zM561.5 915.4l-7.1 -3.2l-7.5 11.5l7.1 3.2zM554.6 912.4l-7.1 -3.2l-7.5 11.3l7.1 3.3zM547.7 909.3l-7.1 -3.3l-7.5 11.3l7.1 3.3zM540.8 906.2l-7 -3.3l-7.5 11.1l7 3.4zM534 903l-7 -3.3l-7.5 11l7 3.5zM527.2 899.8l-7 -3.4l-7.5 11l7 3.5zM520.4 896.6l-6.9 -3.5l-7.5 10.9l7 3.5zM513.7 893.3l-6.9 -3.5l-7.5 10.8l6.9 3.5zM507 889.9l-6.9 -3.5l-7.5 10.7l6.9 3.6zM500.3 886.5l-6.9 -3.6l-7.4 10.6l6.9 3.7zM434.3 863.5l-6.6 -4.1l-7.4 9.9l6.6 4.2zM428 859.5l-6.6 -4.1l-7.5 9.8l6.6 4.3zM389.2 848.4l-6.5 -4.4l-7.4 9.5l6.5 4.5zM357.2 840l-6.4 -4.7l-7.4 9.3l6.4 4.8zM331.7 835.2l-6.3 -5l-7.5 9.3l6.3 5zM306.3 829.6l-6.2 -5.2l-7.5 9.1l6.2 5.2z"/><path fill=#eed7d8 stroke=#eed7d8 d="M732.5 1034.4l-8.2 -2.2l-7.8 14.9l8.2 2.3zM692.9 1007.5l-7.9 -2.3l-7.7 14l7.9 2.5zM685.2 1005.3l-7.8 -2.5l-7.7 14l7.8 2.5zM632.6 972.6l-7.6 -2.7l-7.6 12.9l7.6 2.9zM453 888.8l-6.7 -4l-7.5 10.4l6.7 4.1zM446.5 884.9l-6.7 -4l-7.4 10.3l6.6 4.2zM400.9 870.5l-6.5 -4.4l-7.5 10l6.5 4.4zM368.6 862.7l-6.4 -4.7l-7.5 9.8l6.5 4.7zM336.7 853.6l-6.3 -4.9l-7.5 9.6l6.3 5zM311.2 848.3l-6.3 -5.1l-7.4 9.4l6.2 5.2zM285.9 842.3l-6.2 -5.3l-7.5 9.3l6.2 5.4z"/><path fill=#efdcdd stroke=#efdcdd d="M724.8 1049l-8.1 -2.3l-7.8 15l8.1 2.4zM677.7 1018.9l-7.8 -2.5l-7.7 14.1l7.8 2.6zM610.5 979.8l-7.4 -3l-7.6 12.9l7.4 3.1zM603.3 976.9l-7.4 -2.9l-7.6 12.7l7.4 3.1zM472 914.2l-6.8 -3.9l-7.5 11l6.8 4zM412.8 892.9l-6.6 -4.3l-7.5 10.3l6.6 4.5zM373.9 881.2l-6.5 -4.7l-7.4 10.1l6.4 4.7zM341.8 872.4l-6.4 -4.9l-7.4 9.9l6.3 5zM290.7 861.7l-6.2 -5.3l-7.5 9.6l6.2 5.4z"/><path fill=#f1e1e1 stroke=#f1e1e1 d="M717.2 1063.7l-8.1 -2.4l-7.8 15.2l8.1 2.5zM670.2 1032.7l-7.8 -2.6l-7.8 14.2l7.9 2.8zM595.9 989.5l-7.4 -3.1l-7.6 12.9l7.4 3.2zM588.7 986.5l-7.4 -3.2l-7.6 12.9l7.4 3.2zM491.4 939.9l-6.9 -3.8l-7.5 11.4l6.9 3.9zM484.7 936.2l-6.9 -3.9l-7.5 11.4l6.9 4zM478 932.5l-6.8 -3.9l-7.5 11.3l6.8 4zM418.4 911.5l-6.7 -4.4l-7.4 10.7l6.6 4.4zM315.1 881.9l-6.4 -5.1l-7.5 9.9l6.4 5.3z"/><path fill=#f3e6e6 stroke=#f3e6e6 d="M709.6 1078.6l-8.1 -2.5l-7.9 15.4l8.1 2.6zM655 1044l-7.7 -2.7l-7.8 14.3l7.8 2.9zM567 992.7l-7.3 -3.3l-7.6 12.8l7.3 3.4zM559.9 989.5l-7.2 -3.4l-7.6 12.7l7.2 3.5zM552.9 986.3l-7.2 -3.5l-7.6 12.6l7.2 3.5zM545.9 982.9l-7.2 -3.4l-7.6 12.5l7.2 3.5zM538.9 979.6l-7.2 -3.5l-7.6 12.4l7.2 3.6zM531.9 976.2l-7.1 -3.6l-7.6 12.3l7.1 3.7zM525 972.7l-7.1 -3.6l-7.6 12.2l7.1 3.7zM518.1 969.2l-7.1 -3.6l-7.5 12.1l7.1 3.7zM511.3 965.7l-7.1 -3.7l-7.5 12l7 3.8zM430.6 934.5l-6.8 -4.3l-7.5 11.1l6.8 4.4zM424.1 930.3l-6.7 -4.3l-7.5 11l6.7 4.4zM384.7 919.2l-6.6 -4.7l-7.5 10.8l6.6 4.7zM346 906.3l-6.5 -5l-7.5 10.4l6.5 5.1z"/><path fill=#f4ebeb stroke=#f4ebeb d="M701.9 1093.7l-8.1 -2.6l-7.8 15.5l8.1 2.7zM647.5 1058.1l-7.8 -2.9l-7.7 14.4l7.8 3zM639.9 1055.3l-7.7 -3l-7.7 14.4l7.7 3zM442.9 957.8l-6.8 -4.2l-7.5 11.5l6.8 4.4zM436.4 953.7l-6.8 -4.3l-7.5 11.5l6.7 4.4zM390.2 938.7l-6.6 -4.6l-7.5 11l6.6 4.7z"/><path fill=#cf4347 stroke=#cf4347 d="M1077.7 515.1l-8.8 2.7l-6.5 6.7l8.8 -2.6zM1075.6 511.7l-8.7 2.7l-6.5 6.5l8.8 -2.6zM1077.8 500.1l-8.7 2.7l-6.3 5.9l8.7 -2.7zM1081.9 492.4l-8.6 2.8l-6.3 5.5l8.7 -2.8zM1086 485.5l-8.7 2.9l-6.1 5.1l8.6 -2.9z"/><path fill=#d04d51 stroke=#d04d51 d="M1038.7 556l-8.7 2.2l-6.7 7.7l8.7 -2.2zM1036.9 551.2l-8.7 2.2l-6.7 7.4l8.7 -2.1zM1036 528.3l-8.5 2.3l-6.5 6.3l8.5 -2.2zM1034.2 524.9l-8.5 2.3l-6.4 6l8.4 -2.2zM1038.6 516.3l-8.4 2.3l-6.4 5.7l8.5 -2.3zM1036.8 513.5l-8.4 2.4l-6.3 5.5l8.4 -2.3zM1041.1 506.2l-8.3 2.4l-6.3 5.1l8.4 -2.4zM1045.4 499.6l-8.4 2.6l-6.1 4.6l8.3 -2.4z"/><path fill=#d14f53 stroke=#d14f53 d="M1032.1 563.4l-8.7 2.1l-6.7 7.8l8.7 -2zM1030.3 558.3l-8.6 2.1l-6.7 7.6l8.6 -2zM1028.5 553.5l-8.6 2.1l-6.7 7.3l8.6 -2zM1026.7 548.9l-8.5 2.1l-6.7 7.1l8.6 -2zM1027.8 530.7l-8.4 2.2l-6.5 6.2l8.4 -2.1zM1026 527.3l-8.4 2.2l-6.4 5.9l8.4 -2.1zM1030.5 518.7l-8.3 2.3l-6.4 5.6l8.4 -2.2zM1028.7 516l-8.3 2.3l-6.3 5.3l8.3 -2.2zM1033.1 508.7l-8.3 2.4l-6.2 5l8.3 -2.3zM1037.4 502.2l-8.3 2.5l-6.1 4.6l8.3 -2.4z"/><path fill=#d15155 stroke=#d15155 d="M1025.5 570.9l-8.7 2l-6.8 8l8.7 -1.9zM1023.7 565.6l-8.6 2l-6.7 7.7l8.6 -1.9zM1022 560.5l-8.6 2.1l-6.7 7.4l8.6 -1.9zM1020.2 555.7l-8.5 2l-6.7 7.3l8.5 -2zM1018.5 551.1l-8.5 2.1l-6.7 7l8.5 -2zM1019.7 533l-8.4 2.1l-6.5 6.1l8.4 -2zM1018 529.6l-8.4 2.1l-6.4 5.9l8.3 -2.1zM1020.8 518.4l-8.3 2.2l-6.4 5.3l8.3 -2.2zM1025.2 511.2l-8.3 2.2l-6.2 5l8.2 -2.2zM1029.5 504.7l-8.2 2.4l-6.2 4.5l8.3 -2.2z"/><path fill=#d25a5e stroke=#d25a5e d="M998.7 602.6l-8.6 1.6l-6.9 8.6l8.6 -1.5zM984.1 580.7l-8.4 1.6l-6.8 7.6l8.4 -1.6zM982.6 575.4l-8.4 1.7l-6.7 7.3l8.3 -1.6zM981 570.4l-8.3 1.6l-6.7 7.1l8.3 -1.6zM979.5 565.6l-8.3 1.6l-6.6 6.9l8.3 -1.6zM978 561.1l-8.2 1.6l-6.6 6.6l8.2 -1.6zM976.5 556.7l-8.2 1.7l-6.6 6.3l8.2 -1.5zM979.9 543.3l-8.2 1.7l-6.4 5.8l8.1 -1.7zM978.3 539.9l-8 1.7l-6.5 5.5l8.1 -1.6zM983.1 531.8l-8.1 1.8l-6.3 5.2l8 -1.8zM981.6 529.1l-8.1 1.8l-6.3 4.9l8 -1.7zM986.2 522.2l-8 1.9l-6.3 4.5l8.1 -1.8zM996.8 512.3l-8 2l-6.1 4l8 -1.9zM990.7 516.1l-8 1.9l-6.1 4.2l8 -1.8z"/><path fill=#d35c60 stroke=#d35c60 d="M991.9 610.9l-8.6 1.5l-6.9 8.8l8.6 -1.5zM979 593.7l-8.4 1.5l-6.9 8l8.5 -1.5zM977.5 588l-8.4 1.5l-6.8 7.7l8.4 -1.5zM976 582.4l-8.4 1.6l-6.7 7.4l8.3 -1.4zM974.5 577.2l-8.3 1.5l-6.7 7.2l8.3 -1.4zM973 572.1l-8.3 1.6l-6.6 7l8.2 -1.5zM971.5 567.4l-8.2 1.5l-6.6 6.7l8.2 -1.4zM970.1 562.8l-8.2 1.6l-6.6 6.5l8.1 -1.5zM968.6 558.5l-8.1 1.6l-6.6 6.2l8.1 -1.5zM967.1 554.4l-8.1 1.6l-6.5 6l8.1 -1.5zM970.6 541.7l-8.1 1.7l-6.4 5.4l8 -1.5zM969.1 538.6l-8 1.6l-6.4 5.2l8 -1.6zM973.9 531l-8 1.7l-6.3 4.8l8 -1.6zM978.5 524.2l-7.9 1.8l-6.3 4.5l8 -1.8zM983.1 518.1l-7.9 1.9l-6.2 4.1l8 -1.8z"/><path fill=#d35e62 stroke=#d35e62 d="M985.1 619.4l-8.6 1.4l-6.9 9l8.6 -1.4zM983.6 612.6l-8.6 1.4l-6.9 8.7l8.5 -1.4zM972.3 601.4l-8.4 1.4l-6.9 8.1l8.5 -1.4zM970.8 595.4l-8.3 1.4l-6.9 7.8l8.4 -1.3zM957.9 552.2l-8 1.5l-6.5 5.8l8 -1.4zM956.6 548.6l-8 1.5l-6.5 5.5l8 -1.4zM961.4 540.3l-7.9 1.6l-6.4 5.1l7.9 -1.5zM964.8 530.3l-7.9 1.6l-6.3 4.6l7.9 -1.6zM975.6 520.1l-7.9 1.8l-6.2 4.1l7.9 -1.8z"/><path fill=#d36164 stroke=#d36164 d="M978.3 628l-8.6 1.4l-7 9.1l8.6 -1.3zM953.3 592.7l-8.2 1.3l-6.8 7.4l8.2 -1.2zM951.9 587.2l-8.2 1.3l-6.7 7.2l8.2 -1.3zM946.5 567.6l-8 1.3l-6.6 6.3l8 -1.2zM945.2 563.3l-8 1.3l-6.6 6.1l8 -1.3zM943.9 559.2l-8 1.4l-6.5 5.8l8 -1.3zM947.5 546.8l-7.8 1.4l-6.5 5.2l7.9 -1.3zM951.1 536.3l-7.9 1.4l-6.3 4.7l7.9 -1.4zM955.9 529.7l-7.8 1.5l-6.3 4.3l7.8 -1.5zM966.6 520.3l-7.8 1.7l-6.1 3.8l7.8 -1.7z"/><path fill=#d46366 stroke=#d46366 d="M971.5 636.8l-8.6 1.3l-7 9.2l8.5 -1.2zM948 605.8l-8.2 1.2l-6.9 7.8l8.3 -1.1z"/><path fill=#d46569 stroke=#d46569 d="M964.6 645.7l-8.6 1.2l-7 9.4l8.5 -1.1zM953.5 632.2l-8.4 1.2l-7 8.8l8.4 -1.1zM929.6 596.7l-8.1 1.1l-6.7 7.1l8 -1zM921 563.4l-7.8 1.1l-6.5 5.6l7.8 -1zM928.7 540.9l-7.7 1.3l-6.3 4.4l7.7 -1.2zM944.4 525.5l-7.6 1.5l-6.2 3.6l7.7 -1.4z"/><path fill=#d4686b stroke=#d4686b d="M957.7 654.9l-8.6 1.1l-7.1 9.5l8.6 -1zM946.7 640.8l-8.4 1l-7 9l8.4 -1zM937.2 634.7l-8.3 1l-7 8.6l8.3 -.9zM935.9 627.7l-8.3 1l-6.9 8.4l8.3 -.9zM925.4 615.7l-8.1 1l-6.9 7.8l8.2 -.9zM914 599l-8 .9l-6.7 7l8 -.8zM912.9 593.6l-8 .9l-6.7 6.8l7.9 -.9zM911.7 588.4l-7.9 .9l-6.7 6.5l7.9 -.8zM910.6 583.4l-7.9 .9l-6.7 6.4l7.9 -.9zM909.4 578.7l-7.8 .9l-6.6 6.1l7.8 -.9zM908.3 574.2l-7.8 .9l-6.6 5.9l7.8 -.9zM907.2 569.9l-7.8 .9l-6.5 5.7l7.7 -.9zM906 565.8l-7.7 1l-6.5 5.4l7.7 -.9zM911.2 557.2l-7.7 1.1l-6.4 5l7.7 -1zM910.1 553.8l-7.7 1.1l-6.4 4.8l7.7 -1zM915.2 546.4l-7.7 1.1l-6.3 4.5l7.6 -1zM920.2 539.7l-7.7 1.2l-6.2 4.2l7.6 -1.2zM914 543.6l-7.6 1.1l-6.3 4.3l7.6 -1zM925.1 533.8l-7.6 1.3l-6.2 3.8l7.6 -1.2z"/><path fill=#d56a6d stroke=#d56a6d d="M950.7 664.1l-8.5 1l-7.1 9.8l8.5 -.9zM919.9 629.9l-8.1 .9l-7 8.2l8.2 -.8zM908.6 611.6l-8 .9l-6.8 7.4l8 -.8zM895.4 585.5l-7.8 .8l-6.6 6.1l7.8 -.7zM894.4 580.8l-7.8 .8l-6.6 5.9l7.7 -.7zM896.5 559.5l-7.6 .9l-6.5 4.9l7.6 -.8zM911.7 538.7l-7.5 1.1l-6.3 3.9l7.6 -1.1zM922.7 530.1l-7.6 1.3l-6.1 3.4l7.5 -1.2zM916.6 533.3l-7.5 1.2l-6.1 3.5l7.5 -1.1z"/><path fill=#d56d70 stroke=#d56d70 d="M943.8 673.6l-8.5 .9l-7.2 9.9l8.5 -.8zM934.2 666.3l-8.4 .9l-7.1 9.5l8.4 -.8zM923.6 651.5l-8.3 .8l-7 9l8.2 -.7zM914.4 645l-8.2 .8l-7 8.6l8.2 -.7zM904.2 631.8l-8.1 .7l-6.9 8.1l8 -.7zM894.2 619.6l-8 .7l-6.8 7.5l7.9 -.6zM893.1 613.5l-7.9 .7l-6.8 7.2l7.9 -.6zM882.4 597.4l-7.7 .6l-6.7 6.5l7.7 -.6zM881.5 592.2l-7.8 .7l-6.6 6.2l7.7 -.6zM880.5 587.3l-7.7 .7l-6.7 5.9l7.7 -.5zM879.5 582.6l-7.7 .7l-6.6 5.7l7.7 -.6zM878.5 578.1l-7.6 .7l-6.6 5.5l7.6 -.6zM877.5 573.9l-7.6 .7l-6.5 5.3l7.6 -.6zM881.9 561.5l-7.5 .8l-6.5 4.8l7.5 -.7zM887.1 554l-7.5 .8l-6.4 4.4l7.5 -.7zM880.9 558.2l-7.5 .7l-6.4 4.6l7.5 -.7zM886.1 551l-7.4 .9l-6.4 4.2l7.5 -.8zM897.4 541.2l-7.5 .9l-6.2 3.8l7.4 -.9zM891.3 544.7l-7.5 .9l-6.3 3.8l7.5 -.8zM908.4 532.8l-7.5 1.2l-6.1 3.2l7.4 -1.1zM902.3 535.9l-7.4 1l-6.2 3.4l7.5 -1z"/><path fill=#d57072 stroke=#d57072 d="M936.8 683.2l-8.5 .8l-7.2 10.1l8.5 -.8zM927.3 675.5l-8.4 .8l-7.2 9.7l8.4 -.7zM907.5 653.3l-8.1 .7l-7.1 8.8l8.2 -.6zM877.9 615l-7.9 .6l-6.7 7.1l7.8 -.5zM866.6 593.7l-7.6 .6l-6.7 6l7.6 -.4zM865.7 588.8l-7.6 .6l-6.7 5.8l7.6 -.5zM864.8 584.1l-7.6 .6l-6.6 5.6l7.6 -.5zM863.9 579.7l-7.6 .5l-6.5 5.4l7.5 -.4zM867.5 563.3l-7.5 .6l-6.4 4.6l7.4 -.5zM883.1 543.4l-7.3 .8l-6.3 3.6l7.4 -.8z"/><path fill=#d77a7c stroke=#d77a7c d="M908.6 723.2l-8.4 .4l-7.3 10.7l8.4 -.3zM899.3 714.2l-8.4 .3l-7.2 10.4l8.3 -.3zM890.1 705.4l-8.3 .3l-7.2 10l8.3 -.2zM881 696.8l-8.1 .3l-7.2 9.7l8.2 -.2zM872.1 688.6l-8.1 .2l-7.1 9.3l8.1 -.1zM863.3 680.6l-8 .1l-7 9l8 -.1zM854.7 672.8l-7.9 .1l-7.1 8.6l8 0zM846.2 665.2l-7.9 .1l-7 8.3l7.9 0zM837 650.7l-7.7 0l-7 7.8l7.8 0zM828.8 643.9l-7.7 0l-6.9 7.4l7.7 .1zM820 630.8l-7.6 0l-6.8 6.9l7.5 .1zM812 624.7l-7.4 0l-6.8 6.5l7.4 .2zM811.4 618.8l-7.5 -.1l-6.7 6.3l7.4 .2zM803 607.6l-7.4 -.1l-6.7 5.8l7.4 .2zM802.4 602.4l-7.3 -.1l-6.7 5.5l7.3 .2zM801.8 597.3l-7.3 -.1l-6.6 5.4l7.2 .2zM801.2 592.5l-7.2 -.1l-6.7 5.2l7.3 .1zM800.6 587.9l-7.2 -.1l-6.6 5l7.2 .1zM800 583.5l-7.1 0l-6.6 4.7l7.2 .1zM799.4 579.4l-7.1 -.1l-6.5 4.6l7.1 .1zM798.9 575.4l-7.1 0l-6.5 4.3l7.1 .1zM804.5 568l-7 0l-6.5 4l7.1 0zM810.1 561.3l-7 .1l-6.4 3.6l7.1 0zM804 564.7l-7.1 0l-6.4 3.8l7 0zM821.8 552.3l-7.1 .3l-6.3 3.2l7.1 -.2zM815.7 555.3l-7.1 .2l-6.3 3.3l7 -.1zM839.2 542.5l-7.1 .4l-6.1 2.6l7 -.4zM833.2 544.9l-7.1 .3l-6.2 2.8l7.1 -.3zM827.1 547.4l-7 .3l-6.2 2.8l7 -.2z"/><path fill=#d77d7f stroke=#d77d7f d="M901.5 733.6l-8.4 .4l-7.3 10.8l8.4 -.2zM892.2 724.2l-8.3 .3l-7.3 10.5l8.3 -.2zM883.1 715.1l-8.3 .2l-7.2 10.2l8.2 -.2zM874.1 706.2l-8.2 .2l-7.2 9.8l8.2 -.1zM865.2 697.6l-8.1 .1l-7.1 9.5l8.1 -.1zM839.4 673.2l-7.9 .1l-7 8.4l7.8 .1zM831 665.6l-7.7 0l-7 8.1l7.7 .1zM822.8 658.2l-7.7 -.1l-6.9 7.8l7.6 .2zM814.7 651.1l-7.6 -.2l-6.9 7.5l7.6 .2zM806.7 644.1l-7.5 -.1l-6.9 7.1l7.5 .3zM806.1 637.5l-7.5 -.2l-6.9 6.9l7.5 .3zM798.2 631l-7.4 -.2l-6.8 6.6l7.4 .3zM790.5 624.8l-7.3 -.3l-6.8 6.3l7.3 .3zM790 618.8l-7.4 -.2l-6.7 6.1l7.3 .3zM782.4 613l-7.3 -.3l-6.7 5.8l7.3 .4zM781.9 607.6l-7.2 -.3l-6.7 5.6l7.2 .3zM781.4 602.4l-7.2 -.3l-6.7 5.3l7.2 .4zM780.9 597.4l-7.2 -.3l-6.6 5.1l7.1 .4zM780.4 592.6l-7.1 -.3l-6.6 5l7.1 .3zM779.9 588l-7.1 -.2l-6.6 4.7l7.1 .3zM779.4 583.7l-7 -.3l-6.6 4.6l7.1 .3zM778.9 579.6l-7 -.3l-6.5 4.3l7 .3zM778.5 575.7l-7 -.3l-6.5 4.1l7 .3zM784.2 568.4l-6.9 -.1l-6.5 3.7l7 .3zM778 572l-7 -.3l-6.4 3.9l6.9 .3zM789.9 561.9l-6.9 0l-6.4 3.4l6.9 .1zM783.7 565.1l-6.9 -.1l-6.4 3.6l6.9 .2zM819.8 545.9l-7 .2l-6.2 2.6l7 -.1zM813.8 548.3l-7 .2l-6.2 2.7l6.9 -.1zM807.7 550.8l-6.9 .1l-6.3 2.9l6.9 -.1zM801.6 553.4l-6.9 .1l-6.3 2.9l6.9 .1zM795.5 556.2l-6.9 -.1l-6.3 3.2l6.9 0z"/><path fill=#d88082 stroke=#d88082 d="M894.4 744.2l-8.5 .2l-7.3 11.1l8.4 -.2zM885.1 734.4l-8.3 .2l-7.3 10.7l8.3 -.1zM876 724.9l-8.2 .2l-7.3 10.3l8.3 -.1zM850.4 706.9l-8 0l-7.2 9.5l8 .1zM841.8 698.2l-8 -.1l-7.1 9.2l8 .1zM833.3 689.7l-7.9 -.1l-7 8.8l7.8 .2zM825 681.4l-7.8 -.1l-7.1 8.5l7.8 .2zM816.7 673.5l-7.7 -.2l-7 8.1l7.7 .3zM808.6 665.7l-7.6 -.2l-7 7.8l7.6 .3zM800.6 658.2l-7.5 -.3l-7 7.5l7.6 .4zM792.7 650.9l-7.4 -.3l-6.9 7.2l7.4 .4zM785 643.8l-7.4 -.4l-6.9 6.9l7.4 .5zM784.4 637.2l-7.3 -.4l-6.9 6.7l7.4 .4zM776.8 630.6l-7.3 -.4l-6.8 6.4l7.3 .4zM769.3 624.2l-7.2 -.4l-6.8 6l7.2 .6zM768.9 618.3l-7.2 -.4l-6.8 5.8l7.2 .6zM761.5 612.4l-7.1 -.5l-6.7 5.6l7.1 .5zM761.1 607l-7.1 -.5l-6.7 5.4l7.1 .5zM760.7 601.8l-7.1 -.4l-6.6 5.1l7 .5zM753.5 596.6l-7 -.5l-6.6 4.8l7 .6zM753.2 591.9l-7 -.6l-6.6 4.7l7 .6zM752.8 587.3l-6.9 -.4l-6.6 4.4l6.9 .5zM758.8 579.2l-7 -.4l-6.5 4.1l6.9 .5zM752.5 583.1l-7 -.5l-6.5 4.2l6.9 .5zM758.4 575.3l-6.9 -.4l-6.5 3.9l6.9 .5zM764.2 568.3l-6.8 -.3l-6.5 3.6l6.9 .4zM758 571.7l-6.9 -.5l-6.4 3.7l6.8 .5zM776.2 559.2l-6.9 -.2l-6.3 3.1l6.8 .3zM770 562.1l-6.8 -.3l-6.4 3.2l6.8 .4zM763.8 565.1l-6.8 -.4l-6.4 3.4l6.8 .4zM805.9 544.9l-6.8 .1l-6.2 2.3l6.9 0zM799.9 547l-6.8 .1l-6.2 2.4l6.8 0zM793.9 549.2l-6.8 0l-6.3 2.5l6.9 .1zM787.9 551.5l-6.9 -.1l-6.2 2.7l6.8 .1zM781.8 553.9l-6.8 -.1l-6.3 2.8l6.8 .2zM775.7 556.5l-6.8 -.2l-6.3 2.9l6.8 .3z"/><path fill=#d98485 stroke=#d98485 d="M887.2 754.9l-8.4 .2l-7.4 11.2l8.5 -.1zM852.1 725.5l-8.1 -.1l-7.2 10.1l8.1 .1zM810.6 689.6l-7.8 -.3l-7 8.5l7.7 .4zM748.8 629.2l-7.1 -.6l-6.8 6l7.1 .7zM726.5 590.2l-6.9 -.8l-6.6 4.4l6.9 .8zM726.3 585.7l-6.9 -.7l-6.5 4.1l6.8 .8zM743.9 561.4l-6.7 -.5l-6.4 3l6.7 .5z"/><path fill=#d98789 stroke=#d98789 d="M880 765.8l-8.4 .1l-7.3 11.3l8.3 .1zM853.9 745.2l-8.2 -.1l-7.3 10.5l8.2 .2zM828.7 725.4l-8 -.2l-7.2 9.7l8 .4zM804.3 706.6l-7.7 -.4l-7.1 8.9l7.7 .5zM796.2 697.6l-7.7 -.5l-7 8.7l7.6 .5zM773 680l-7.4 -.6l-7 7.9l7.4 .7zM765.3 671.7l-7.4 -.6l-6.9 7.5l7.4 .8zM757.8 663.7l-7.4 -.7l-6.9 7.2l7.3 .8zM750.3 655.9l-7.3 -.8l-6.9 7l7.3 .8zM728.7 640.3l-7.1 -.9l-6.8 6.3l7.1 .9zM721.7 633.1l-7.1 -.9l-6.8 5.9l7 1zM721.4 626.9l-7 -.9l-6.8 5.7l7 1zM714.5 620.2l-7 -1l-6.8 5.5l7 1zM707.6 613.7l-6.9 -1l-6.7 5.1l6.9 1.1zM700.8 607.4l-6.8 -1.1l-6.7 4.9l6.8 1.1zM700.7 602.1l-6.8 -1l-6.7 4.6l6.8 1.1zM700.6 597l-6.8 -1l-6.7 4.5l6.8 1.1zM694.1 596.2l-6.8 -1l-6.6 4.4l6.7 1.1zM694 591.4l-6.7 -1l-6.7 4.2l6.7 1.1zM693.9 586.8l-6.7 -1l-6.6 4l6.7 1.1zM693.8 582.4l-6.7 -1l-6.5 3.8l6.6 1.1zM693.7 578.2l-6.6 -1l-6.6 3.6l6.6 1.1zM699.9 571.2l-6.6 -.9l-6.5 3.3l6.6 1zM693.6 574.3l-6.6 -1l-6.5 3.3l6.6 1.1zM760.8 545.9l-6.6 -.3l-6.2 1.8l6.6 .4zM754.8 547.5l-6.6 -.4l-6.2 2l6.6 .5zM748.8 549.3l-6.6 -.5l-6.3 2.1l6.6 .5zM712.2 562.3l-6.6 -.8l-6.4 2.8l6.6 .9zM706 564.9l-6.6 -.8l-6.4 2.9l6.5 .9zM699.8 567.7l-6.6 -1l-6.5 3.1l6.6 1zM730.4 552.8l-6.6 -.6l-6.3 2.3l6.6 .6zM724.3 554.9l-6.6 -.7l-6.3 2.4l6.5 .7zM718.2 557l-6.6 -.7l-6.3 2.5l6.5 .8zM712 559.3l-6.5 -.8l-6.4 2.7l6.5 .8z"/><path fill=#da8a8c stroke=#da8a8c d="M872.8 776.9l-8.4 -.1l-7.4 11.6l8.4 .1zM846.8 755.4l-8.2 -.2l-7.3 10.7l8.2 .3zM821.7 734.9l-8 -.4l-7.2 9.9l7.9 .5zM805.6 724.8l-7.8 -.4l-7.2 9.4l7.8 .6zM797.4 715.2l-7.7 -.5l-7.2 9.2l7.8 .6zM781.9 705.5l-7.6 -.6l-7.1 8.7l7.6 .7zM774 696.4l-7.5 -.6l-7.1 8.4l7.5 .7zM759 687.1l-7.4 -.8l-7.1 8l7.5 .8zM751.4 678.4l-7.4 -.8l-6.9 7.7l7.3 .8zM729.6 661.2l-7.2 -1l-7 7l7.2 1zM722.4 653.2l-7.2 -1l-6.9 6.7l7.2 1zM708.4 644.6l-7 -1l-6.9 6.2l7.1 1.2zM701.5 637.1l-7 -1.1l-6.8 5.9l7 1.2zM694.7 629.8l-6.9 -1.2l-6.8 5.7l6.9 1.2zM687.9 622.7l-6.8 -1.2l-6.8 5.3l6.8 1.3zM681.3 615.8l-6.8 -1.3l-6.8 5.1l6.8 1.3zM674.7 609.1l-6.7 -1.3l-6.7 4.8l6.7 1.3zM668.3 602.6l-6.7 -1.3l-6.7 4.5l6.6 1.4zM668.3 597.4l-6.7 -1.3l-6.7 4.3l6.7 1.4zM661.9 596.3l-6.6 -1.4l-6.7 4.3l6.6 1.4zM661.9 591.3l-6.6 -1.3l-6.6 4l6.6 1.4zM662 586.6l-6.6 -1.3l-6.6 3.8l6.5 1.4zM662 582.1l-6.5 -1.4l-6.6 3.7l6.5 1.4zM655.7 585.5l-6.6 -1.4l-6.6 3.7l6.5 1.5zM662.1 577.7l-6.5 -1.3l-6.6 3.5l6.5 1.3zM655.7 581l-6.5 -1.4l-6.6 3.5l6.5 1.5zM741.9 545.4l-6.5 -.5l-6.2 1.7l6.5 .6zM662.1 573.6l-6.4 -1.3l-6.6 3.3l6.5 1.3zM655.8 576.6l-6.4 -1.3l-6.6 3.3l6.4 1.5zM729.7 546.6l-6.5 -.6l-6.2 1.7l6.5 .6zM723.7 548.1l-6.5 -.7l-6.2 1.9l6.4 .7zM717.7 549.7l-6.5 -.7l-6.3 1.9l6.5 .8zM668.5 567l-6.5 -1.2l-6.5 2.9l6.4 1.3zM662.2 569.7l-6.5 -1.3l-6.5 3.1l6.5 1.3zM655.9 572.5l-6.4 -1.3l-6.6 3.2l6.4 1.4zM705.4 550.9l-6.4 -.8l-6.4 2l6.5 .9zM699.3 552.7l-6.4 -.9l-6.4 2.1l6.4 1zM693.2 554.6l-6.4 -.9l-6.4 2.2l6.4 1zM687.1 556.7l-6.5 -1.1l-6.4 2.4l6.4 1.1zM680.9 558.8l-6.4 -1.1l-6.5 2.5l6.5 1.2zM674.7 561.1l-6.4 -1.2l-6.5 2.7l6.4 1.2zM668.5 563.5l-6.4 -1.2l-6.5 2.7l6.4 1.3zM662.3 566l-6.5 -1.3l-6.5 2.9l6.4 1.3z"/><path fill=#db8e8f stroke=#db8e8f d="M865.6 788.1l-8.4 -.1l-7.4 11.6l8.4 .3zM848.5 776.8l-8.3 -.3l-7.3 11.2l8.2 .4zM823.1 754.9l-8 -.4l-7.3 10.4l8 .5zM806.9 744.2l-7.9 -.5l-7.2 9.9l7.9 .6zM767.6 713.4l-7.6 -.8l-7.1 8.8l7.6 .8zM730.4 684.3l-7.3 -1l-7 7.6l7.3 1.1zM709 666.1l-7.1 -1.2l-7 6.9l7.1 1.3zM695.1 656.7l-7 -1.2l-6.9 6.5l7 1.3zM681.5 647.5l-6.9 -1.3l-6.9 6.1l7 1.4zM674.8 639.6l-6.8 -1.4l-6.9 5.9l6.9 1.4zM661.6 630.6l-6.7 -1.4l-6.9 5.5l6.8 1.5zM648.7 621.8l-6.7 -1.5l-6.8 5.1l6.7 1.6zM642.4 614.4l-6.7 -1.5l-6.7 4.8l6.6 1.6zM629.8 605.9l-6.5 -1.7l-6.8 4.5l6.5 1.7zM623.7 598.9l-6.5 -1.7l-6.7 4.2l6.5 1.8zM617.5 597.4l-6.5 -1.8l-6.7 4.2l6.4 1.8zM611.5 590.6l-6.4 -1.8l-6.7 3.8l6.4 1.9zM605.3 589l-6.4 -1.9l-6.7 3.8l6.4 1.9zM605.6 584l-6.3 -1.9l-6.7 3.6l6.3 1.9zM711 543.6l-6.3 -.8l-6.2 1.4l6.3 .8zM599.5 582.4l-6.3 -1.9l-6.7 3.5l6.3 1.9zM693 545.3l-6.4 -.9l-6.2 1.5l6.3 1zM599.8 577.6l-6.3 -1.9l-6.7 3.3l6.3 2zM680.9 545.9l-6.3 -1.1l-6.3 1.6l6.2 1.2zM593.7 575.9l-6.2 -1.9l-6.7 3.2l6.3 2z"/><path fill=#db9192 stroke=#db9192 d="M858.4 799.5l-8.4 -.3l-7.4 11.9l8.3 .4zM816 765l-8 -.5l-7.3 10.6l8 .6zM799.9 753.8l-7.9 -.6l-7.3 10.1l7.9 .7zM784.1 742.8l-7.8 -.7l-7.2 9.7l7.7 .8zM731 700.9l-7.3 -1l-7.1 8.1l7.3 1.1zM716.6 690.7l-7.3 -1.1l-7 7.6l7.2 1.2zM702.4 680.6l-7.1 -1.3l-7 7.3l7.1 1.3zM688.5 670.6l-7 -1.4l-7 6.9l7.1 1.4zM674.9 660.7l-6.9 -1.4l-6.9 6.5l6.9 1.4zM661.6 650.9l-6.9 -1.5l-6.9 6.1l6.9 1.6zM654.9 649.6l-6.8 -1.6l-6.9 6l6.8 1.7zM641.9 639.8l-6.7 -1.6l-6.9 5.6l6.7 1.8zM629.1 630.2l-6.6 -1.8l-6.9 5.3l6.7 1.8zM622.7 628.6l-6.6 -1.8l-6.9 5.2l6.7 1.9zM610.2 619l-6.5 -1.9l-6.8 4.9l6.5 1.9zM603.9 617.3l-6.5 -1.9l-6.8 4.8l6.5 2zM591.7 607.7l-6.4 -2l-6.8 4.4l6.4 2.1zM585.5 605.9l-6.4 -2.1l-6.8 4.4l6.4 2.1zM579.4 604l-6.4 -2.1l-6.8 4.3l6.4 2.2zM573.2 602.1l-6.3 -2.2l-6.8 4.2l6.3 2.3zM567.1 600.1l-6.3 -2.2l-6.8 4.1l6.3 2.3zM561 598.1l-6.2 -2.3l-6.9 4.1l6.3 2.4zM555 596l-6.3 -2.3l-6.8 4l6.3 2.4z"/><path fill=#dc9496 stroke=#dc9496 d="M851.1 811.1l-8.4 -.4l-7.4 12l8.3 .5zM739.2 728.8l-7.5 -1l-7.2 8.9l7.5 1.1zM724.4 717.7l-7.4 -1.1l-7.1 8.4l7.4 1.3zM710 706.7l-7.3 -1.2l-7.1 8.1l7.3 1.3zM675.1 683.9l-7.1 -1.4l-7 7.1l7 1.6zM654.8 671.9l-6.9 -1.6l-7 6.7l6.9 1.7zM635 659.7l-6.8 -1.7l-6.9 6.2l6.8 1.9zM615.7 647.5l-6.7 -1.9l-6.9 5.8l6.7 2zM584.1 631.4l-6.5 -2.2l-6.8 5.2l6.5 2.3zM577.9 629.4l-6.5 -2.2l-6.9 5.1l6.5 2.3zM571.6 627.4l-6.4 -2.2l-6.9 5l6.4 2.3zM534.8 614.3l-6.3 -2.5l-6.9 4.6l6.3 2.6zM528.7 612l-6.3 -2.6l-6.9 4.5l6.3 2.7z"/><path fill=#dd9899 stroke=#dd9899 d="M843.8 822.8l-8.3 -.5l-7.5 12.2l8.3 .6zM826.8 810.1l-8.2 -.6l-7.4 11.7l8.2 .7zM810.3 797.5l-8.1 -.7l-7.4 11.3l8.1 .7zM794 785.1l-7.9 -.7l-7.4 10.8l8 .8zM778.1 773l-7.8 -.9l-7.3 10.3l7.8 1zM739.8 748.2l-7.5 -1.1l-7.2 9.3l7.5 1.2zM725 736.4l-7.5 -1.2l-7.1 9l7.4 1.2zM703.3 723.7l-7.3 -1.4l-7.1 8.4l7.3 1.5zM689.1 712.1l-7.2 -1.4l-7.1 8l7.2 1.5zM668.3 699.3l-7.1 -1.6l-7 7.6l7 1.7zM648 686.5l-6.9 -1.8l-7 7.1l6.9 1.8zM641.3 684.9l-6.9 -1.8l-7 7l6.9 1.9zM621.6 671.9l-6.8 -2l-7 6.5l6.8 2.1zM615 670.1l-6.7 -2l-7 6.5l6.8 2zM589.5 654.9l-6.6 -2.2l-7 5.9l6.6 2.3zM583.1 652.9l-6.6 -2.2l-6.9 5.8l6.6 2.3zM576.8 650.9l-6.6 -2.3l-6.9 5.8l6.5 2.3zM570.5 648.8l-6.6 -2.3l-6.9 5.7l6.5 2.4zM564.2 646.7l-6.5 -2.4l-7 5.6l6.5 2.4zM557.9 644.5l-6.4 -2.4l-7 5.5l6.5 2.5zM551.7 642.3l-6.5 -2.5l-6.9 5.4l6.4 2.6zM545.5 640l-6.4 -2.5l-7 5.3l6.4 2.6zM539.3 637.7l-6.4 -2.6l-6.9 5.3l6.3 2.6zM533.1 635.3l-6.3 -2.7l-7 5.3l6.4 2.7zM527 632.8l-6.3 -2.6l-7 5.1l6.3 2.8zM520.9 630.4l-6.3 -2.8l-7 5.1l6.3 2.8zM514.8 627.9l-6.3 -2.8l-6.9 5l6.3 2.8z"/><path fill=#dd9c9d stroke=#dd9c9d d="M836.5 834.7l-8.3 -.6l-7.5 12.3l8.3 .7zM763.4 782.2l-7.8 -1l-7.3 10.3l7.8 1.2zM725.5 756.2l-7.5 -1.3l-7.2 9.5l7.5 1.3zM661.5 715.6l-7.1 -1.7l-7.1 7.9l7.1 1.8zM634.4 700.2l-6.9 -1.9l-7.1 7.4l6.9 2zM506.9 648l-6.4 -2.9l-7 5.5l6.4 3z"/><path fill=#de9fa0 stroke=#de9fa0 d="M829.1 846.7l-8.3 -.7l-7.5 12.5l8.3 .8zM812.3 833l-8.2 -.7l-7.4 12l8.1 .9zM795.8 819.6l-8 -.9l-7.4 11.5l8 1zM772 805.4l-7.9 -1l-7.4 11l7.9 1.1zM756.3 792.3l-7.8 -1.1l-7.3 10.5l7.8 1.2zM733.5 778.2l-7.6 -1.2l-7.3 10l7.6 1.3zM711.3 764.1l-7.5 -1.4l-7.2 9.5l7.4 1.5zM689.6 750l-7.3 -1.6l-7.2 9l7.3 1.7zM668.4 735.8l-7.1 -1.7l-7.2 8.5l7.2 1.8zM661.5 734.3l-7.2 -1.8l-7.1 8.4l7.1 1.8zM640.9 719.9l-7 -1.9l-7.1 7.9l7 2zM634.2 718.2l-7 -2l-7.1 7.9l7 2zM627.4 716.4l-6.9 -2l-7.1 7.7l6.9 2.1zM607.6 701.7l-6.8 -2.1l-7.1 7.3l6.8 2.2zM601 699.8l-6.8 -2.2l-7 7.2l6.8 2.2zM594.5 697.8l-6.8 -2.3l-7.1 7.1l6.8 2.3zM587.9 695.7l-6.7 -2.3l-7.1 7l6.8 2.4zM581.4 693.6l-6.7 -2.4l-7 7l6.7 2.4zM518 669.7l-6.4 -2.9l-7.1 6.1l6.4 3zM511.8 667l-6.4 -2.9l-7.1 6l6.4 3zM505.6 664.3l-6.4 -2.9l-7 5.9l6.4 3zM499.5 661.5l-6.4 -3l-7 5.9l6.3 3.1zM474.4 658.4l-6.3 -3.2l-7.1 5.8l6.3 3.3zM468.3 655.4l-6.2 -3.2l-7.1 5.7l6.3 3.3z"/><path fill=#dfa3a4 stroke=#dfa3a4 d="M821.8 858.9l-8.3 -.8l-7.5 12.7l8.2 .9zM797.1 844l-8.1 -1l-7.5 12.1l8.1 1.1zM780.8 830l-8 -1.1l-7.4 11.6l7.9 1.2zM757.2 815.1l-7.9 -1.1l-7.3 11l7.8 1.3zM741.6 801.4l-7.7 -1.2l-7.3 10.6l7.7 1.4zM734.2 800.3l-7.7 -1.3l-7.3 10.5l7.6 1.4zM719.1 786.7l-7.6 -1.4l-7.3 10.1l7.6 1.5zM711.7 785.4l-7.5 -1.4l-7.3 9.9l7.5 1.6zM689.9 770.6l-7.4 -1.7l-7.3 9.5l7.4 1.7zM668.5 755.6l-7.2 -1.7l-7.2 8.9l7.2 1.9zM661.5 754l-7.2 -1.8l-7.2 8.9l7.2 1.9zM634 737.2l-7.1 -2l-7.1 8.2l7 2.1zM627.2 735.3l-7 -2l-7.2 8.2l7 2.1zM620.4 733.4l-7 -2.1l-7.1 8.1l6.9 2.2zM593.9 715.9l-6.8 -2.3l-7.1 7.5l6.8 2.4zM587.3 713.7l-6.7 -2.3l-7.1 7.4l6.7 2.5zM580.8 711.6l-6.8 -2.4l-7.1 7.3l6.8 2.5zM574.3 709.3l-6.7 -2.4l-7.2 7.3l6.8 2.5zM567.8 707.1l-6.7 -2.5l-7.1 7.2l6.7 2.5zM561.3 704.7l-6.6 -2.5l-7.2 7.1l6.7 2.6zM554.9 702.3l-6.7 -2.6l-7.1 7.1l6.7 2.7zM548.5 699.9l-6.6 -2.6l-7.1 6.9l6.6 2.8zM542.1 697.4l-6.6 -2.7l-7.1 6.9l6.6 2.8zM535.7 694.9l-6.5 -2.7l-7.1 6.8l6.5 2.8zM529.4 692.3l-6.5 -2.8l-7.1 6.8l6.5 2.8zM523.1 689.7l-6.5 -2.8l-7.1 6.6l6.5 2.9zM516.8 687.1l-6.4 -3l-7.1 6.6l6.4 3zM510.6 684.3l-6.4 -2.9l-7.1 6.5l6.4 3zM504.4 681.6l-6.4 -3l-7.1 6.4l6.4 3zM479 678.9l-6.3 -3.2l-7.1 6.3l6.3 3.3zM472.9 675.9l-6.3 -3.3l-7.1 6.2l6.3 3.4zM466.8 672.8l-6.3 -3.3l-7.1 6.1l6.3 3.4z"/><path fill=#e0a7a8 stroke=#e0a7a8 d="M814.4 871.3l-8.3 -.9l-7.5 12.8l8.2 1zM789.8 855.8l-8.1 -1.1l-7.5 12.3l8 1.1zM765.8 840.3l-8 -1.2l-7.4 11.6l7.9 1.3zM742.4 824.7l-7.8 -1.3l-7.4 11.1l7.8 1.5zM719.6 809.2l-7.6 -1.5l-7.4 10.6l7.6 1.6zM697.4 793.7l-7.5 -1.6l-7.3 10l7.5 1.7zM690.1 792.2l-7.4 -1.7l-7.3 10l7.4 1.7zM668.6 776.5l-7.3 -1.8l-7.2 9.5l7.2 1.9zM661.5 774.9l-7.2 -1.9l-7.3 9.3l7.3 2zM633.8 757.2l-7.1 -2.1l-7.2 8.8l7 2.1zM626.9 755.3l-7 -2.1l-7.2 8.6l7 2.2zM620.1 753.3l-7 -2.1l-7.2 8.5l7 2.3zM586.8 732.8l-6.9 -2.4l-7.1 7.9l6.8 2.5zM580.1 730.6l-6.7 -2.5l-7.2 7.8l6.8 2.6zM573.6 728.3l-6.8 -2.5l-7.1 7.7l6.7 2.6zM567 725.9l-6.7 -2.5l-7.2 7.6l6.8 2.7zM560.5 723.5l-6.7 -2.6l-7.1 7.6l6.7 2.7zM554 721.1l-6.6 -2.7l-7.2 7.5l6.7 2.8zM547.6 718.6l-6.7 -2.7l-7.1 7.4l6.6 2.8zM541.1 716.1l-6.6 -2.8l-7.1 7.3l6.6 2.9zM534.7 713.5l-6.6 -2.8l-7.1 7.2l6.6 2.9zM528.4 710.8l-6.6 -2.8l-7.1 7.1l6.5 3zM522 708.2l-6.5 -3l-7.2 7.1l6.6 3zM515.7 705.4l-6.5 -2.9l-7.1 7l6.5 3zM509.4 702.6l-6.5 -3l-7.1 6.9l6.5 3.1zM477.6 697.4l-6.4 -3.3l-7.1 6.7l6.4 3.4zM471.5 694.3l-6.4 -3.3l-7.2 6.6l6.4 3.4zM465.3 691.2l-6.3 -3.4l-7.2 6.6l6.4 3.4zM440.2 687.6l-6.3 -3.6l-7.2 6.4l6.3 3.7zM434.1 684.2l-6.2 -3.7l-7.2 6.4l6.2 3.7z"/><path fill=#e1aaab stroke=#e1aaab d="M807 883.8l-8.2 -1l-7.6 13l8.2 1.1zM790.4 868.7l-8.2 -1.1l-7.5 12.5l8.1 1.2zM782.4 867.7l-8 -1.1l-7.6 12.4l8.1 1.2zM766.2 852.8l-7.9 -1.3l-7.5 12l8 1.3zM758.5 851.6l-7.9 -1.2l-7.5 11.8l7.9 1.4zM742.8 836.8l-7.8 -1.3l-7.5 11.3l7.8 1.5zM735.2 835.6l-7.8 -1.5l-7.4 11.3l7.8 1.5zM712.4 819.5l-7.6 -1.6l-7.3 10.8l7.6 1.6zM690.3 803.5l-7.5 -1.8l-7.3 10.2l7.5 1.8zM683 801.9l-7.4 -1.8l-7.3 10.1l7.4 1.9zM654.5 783.9l-7.2 -1.9l-7.3 9.4l7.2 2.1zM647.5 782.1l-7.2 -2l-7.3 9.4l7.2 2.1zM619.9 763.7l-7 -2.2l-7.2 8.8l7 2.3zM613.1 761.6l-7 -2.2l-7.2 8.7l7 2.3zM606.3 759.5l-6.9 -2.3l-7.3 8.6l7 2.4zM599.6 757.4l-7 -2.4l-7.2 8.5l7 2.5zM495.6 716.1l-6.5 -3.1l-7.1 7.1l6.5 3.3zM489.4 713.1l-6.5 -3.2l-7.2 7.1l6.5 3.3zM483.1 710.1l-6.4 -3.3l-7.2 7.1l6.5 3.3zM476.9 707l-6.4 -3.3l-7.2 6.9l6.5 3.4zM451.5 704l-6.3 -3.6l-7.2 6.9l6.3 3.6zM445.4 700.6l-6.3 -3.5l-7.2 6.7l6.3 3.7zM420.3 696.6l-6.2 -3.8l-7.2 6.7l6.2 3.9z"/><path fill=#e2aeaf stroke=#e2aeaf d="M799.6 896.5l-8.2 -1.1l-7.6 13.2l8.2 1.2zM775.1 879.8l-8.1 -1.2l-7.5 12.5l8 1.4zM751.2 863.2l-7.9 -1.4l-7.5 12l7.9 1.5zM728 846.6l-7.8 -1.6l-7.4 11.5l7.7 1.6zM720.4 845.1l-7.7 -1.6l-7.4 11.4l7.7 1.7zM697.9 828.4l-7.5 -1.7l-7.4 10.8l7.5 1.8zM690.6 826.8l-7.5 -1.8l-7.4 10.7l7.5 1.9zM668.8 810l-7.4 -2l-7.3 10.2l7.3 2zM661.6 808.2l-7.3 -2l-7.3 10.1l7.3 2zM626.5 787.2l-7.1 -2.2l-7.3 9.4l7.2 2.3zM619.6 785.2l-7.1 -2.3l-7.2 9.3l7.1 2.3zM612.8 783l-7.1 -2.3l-7.3 9.2l7.1 2.4zM481.8 730.1l-6.5 -3.3l-7.2 7.5l6.5 3.4zM475.5 727l-6.4 -3.4l-7.2 7.4l6.4 3.5zM469.3 723.8l-6.4 -3.4l-7.2 7.3l6.4 3.5zM437.7 717.3l-6.4 -3.7l-7.2 7.1l6.3 3.8zM431.6 713.8l-6.4 -3.7l-7.2 7l6.3 3.8zM412.5 713.3l-6.3 -3.9l-7.2 7l6.2 4zM406.4 709.6l-6.2 -3.9l-7.3 6.9l6.3 4z"/><path fill=#e3b2b3 stroke=#e3b2b3 d="M792.2 909.4l-8.3 -1.2l-7.6 13.3l8.2 1.3zM767.7 892.1l-8 -1.4l-7.6 12.8l8.1 1.4zM736.2 873.5l-7.8 -1.6l-7.5 12.1l7.8 1.6zM713.2 856.2l-7.7 -1.7l-7.4 11.5l7.7 1.8zM705.7 854.6l-7.6 -1.7l-7.5 11.4l7.7 1.8zM676.1 835.4l-7.4 -1.9l-7.4 10.8l7.4 2zM640.3 814l-7.2 -2.1l-7.3 10l7.2 2.3zM633.3 812l-7.2 -2.2l-7.3 9.9l7.2 2.3zM585.3 785l-6.9 -2.5l-7.3 9l7 2.7zM578.6 782.6l-6.9 -2.6l-7.3 9l6.9 2.7zM571.9 780.1l-6.9 -2.6l-7.3 8.9l6.9 2.7zM565.2 777.6l-6.8 -2.7l-7.3 8.8l6.9 2.8zM558.6 775.1l-6.9 -2.8l-7.2 8.7l6.8 2.9zM552 772.5l-6.8 -2.9l-7.3 8.7l6.8 2.9zM545.4 769.8l-6.8 -2.9l-7.2 8.6l6.7 2.9zM538.8 767.1l-6.7 -2.9l-7.3 8.4l6.8 3zM532.3 764.3l-6.7 -2.9l-7.3 8.3l6.8 3.1zM525.8 761.5l-6.7 -3l-7.2 8.3l6.7 3.1zM519.3 758.7l-6.6 -3.1l-7.3 8.2l6.7 3.2zM512.9 755.8l-6.6 -3.1l-7.3 8.1l6.7 3.2zM506.5 752.8l-6.6 -3.1l-7.2 8l6.6 3.2zM461.6 741.4l-6.4 -3.5l-7.3 7.7l6.5 3.6zM455.4 738.1l-6.4 -3.6l-7.3 7.6l6.4 3.6zM423.7 731.2l-6.3 -3.8l-7.2 7.4l6.3 3.9zM417.6 727.6l-6.3 -3.9l-7.2 7.3l6.3 4zM398.5 727l-6.3 -4l-7.2 7.2l6.2 4.2zM392.5 723.2l-6.3 -4.1l-7.2 7.2l6.2 4.1z"/><path fill=#e4b6b7 stroke=#e4b6b7 d="M784.7 922.4l-8.2 -1.3l-7.6 13.4l8.2 1.5zM752.5 903.2l-8 -1.5l-7.6 12.7l8 1.7zM728.9 885.3l-7.8 -1.7l-7.5 12.2l7.8 1.8zM721.3 883.7l-7.8 -1.7l-7.5 12.1l7.8 1.8zM698.5 865.7l-7.7 -1.8l-7.4 11.5l7.6 2zM691.1 864l-7.6 -1.9l-7.5 11.4l7.6 2zM661.7 844l-7.4 -2.1l-7.4 10.8l7.4 2.2zM654.5 842l-7.4 -2.1l-7.3 10.7l7.3 2.3zM612.3 817.2l-7.2 -2.4l-7.3 9.9l7.1 2.5zM605.3 815l-7.1 -2.5l-7.3 9.8l7.1 2.6zM598.5 812.6l-7.1 -2.5l-7.3 9.7l7 2.6zM591.6 810.2l-7 -2.5l-7.4 9.6l7.1 2.6zM498.9 771.6l-6.6 -3.2l-7.3 8.3l6.6 3.4zM492.5 768.5l-6.6 -3.3l-7.3 8.3l6.6 3.4zM486.1 765.4l-6.5 -3.4l-7.3 8.2l6.6 3.5zM479.8 762.1l-6.6 -3.4l-7.2 8.2l6.5 3.5zM441.4 752.9l-6.4 -3.7l-7.3 7.8l6.4 3.8zM435.2 749.3l-6.4 -3.8l-7.3 7.8l6.4 3.9zM409.7 745.7l-6.3 -4l-7.3 7.6l6.4 4.1zM403.6 741.9l-6.3 -4.1l-7.3 7.6l6.4 4.1zM384.5 741.3l-6.3 -4.2l-7.3 7.5l6.3 4.3zM378.4 737.2l-6.2 -4.2l-7.3 7.5l6.2 4.3z"/><path fill=#e5babb stroke=#e5babb d="M777.3 935.6l-8.3 -1.5l-7.6 13.7l8.2 1.5zM769.3 934.2l-8.2 -1.5l-7.7 13.6l8.2 1.6zM745.1 915.7l-8 -1.7l-7.6 13l8 1.7zM714 895.5l-7.8 -1.8l-7.5 12.3l7.8 1.9zM683.8 875.1l-7.6 -2l-7.4 11.6l7.5 2.1zM676.4 873.3l-7.5 -2.1l-7.5 11.5l7.6 2.2zM640.2 850.4l-7.3 -2.3l-7.4 10.8l7.3 2.3zM633.1 848.2l-7.3 -2.3l-7.4 10.6l7.3 2.5zM626 846l-7.3 -2.4l-7.4 10.6l7.3 2.5zM564.2 811.9l-7 -2.9l-7.3 9.5l6.9 3zM557.4 809.2l-6.9 -2.9l-7.3 9.4l6.9 3zM550.8 806.5l-6.9 -3l-7.3 9.4l6.8 3zM544.1 803.7l-6.9 -3l-7.3 9.2l6.9 3.1zM537.5 800.9l-6.8 -3.1l-7.4 9.2l6.9 3.1zM530.9 798l-6.8 -3.1l-7.3 9.1l6.8 3.1zM524.3 795.1l-6.8 -3.1l-7.3 8.9l6.8 3.2zM465.7 778.1l-6.5 -3.6l-7.3 8.4l6.5 3.7zM459.4 774.7l-6.5 -3.7l-7.3 8.4l6.5 3.7zM453.1 771.2l-6.5 -3.7l-7.3 8.3l6.5 3.7zM421.2 764.6l-6.4 -4l-7.3 8.1l6.4 4zM415 760.8l-6.4 -4l-7.3 8l6.4 4zM389.6 756.7l-6.3 -4.2l-7.3 7.9l6.3 4.2zM364.4 751.9l-6.3 -4.4l-7.3 7.7l6.2 4.5z"/><path fill=#e6bebf stroke=#e6bebf d="M769.8 948.9l-8.2 -1.5l-7.7 13.8l8.2 1.6zM761.8 947.5l-8.2 -1.6l-7.6 13.7l8.1 1.7zM737.7 928.3l-8 -1.7l-7.6 13.1l8 1.8zM729.9 926.7l-7.9 -1.8l-7.6 13l7.9 1.9zM706.7 907.5l-7.8 -1.9l-7.6 12.4l7.8 2zM699.1 905.7l-7.7 -2l-7.6 12.3l7.8 2.1zM661.9 882.4l-7.5 -2.2l-7.5 11.6l7.5 2.3zM654.6 880.4l-7.5 -2.3l-7.5 11.5l7.5 2.3zM611.8 853.9l-7.2 -2.5l-7.4 10.6l7.2 2.7zM604.8 851.5l-7.2 -2.6l-7.4 10.6l7.2 2.7zM597.8 849.1l-7.1 -2.7l-7.4 10.5l7.1 2.7zM590.9 846.6l-7.1 -2.7l-7.4 10.3l7.1 2.8zM490.7 803.1l-6.7 -3.4l-7.3 9l6.6 3.5zM484.2 799.8l-6.6 -3.5l-7.4 8.9l6.7 3.6zM477.8 796.5l-6.6 -3.5l-7.3 8.8l6.6 3.6zM471.4 793.1l-6.6 -3.6l-7.3 8.8l6.6 3.7zM439 787.3l-6.5 -3.8l-7.3 8.5l6.5 4zM432.8 783.7l-6.5 -3.9l-7.3 8.4l6.4 4zM426.5 779.9l-6.4 -3.9l-7.3 8.4l6.4 4zM400.9 776.4l-6.4 -4.2l-7.3 8.3l6.3 4.2zM394.7 772.4l-6.3 -4.2l-7.3 8.2l6.3 4.3zM369.4 767.9l-6.3 -4.4l-7.3 8.1l6.2 4.5z"/><path fill=#e7c2c3 stroke=#e7c2c3 d="M762.3 962.4l-8.2 -1.6l-7.7 13.9l8.2 1.8zM754.3 960.9l-8.1 -1.7l-7.7 13.8l8.1 1.8zM730.3 941.1l-8 -1.8l-7.6 13.2l8 2zM722.5 939.4l-7.9 -1.9l-7.6 13.1l7.9 2zM691.8 917.7l-7.8 -2.1l-7.5 12.5l7.7 2.2zM684.3 915.8l-7.7 -2.2l-7.6 12.4l7.7 2.2zM647.3 891.5l-7.4 -2.3l-7.5 11.6l7.4 2.4zM640.1 889.3l-7.4 -2.4l-7.5 11.5l7.4 2.5zM583.7 856.6l-7.1 -2.7l-7.4 10.5l7.1 2.8zM576.8 854l-7.1 -2.8l-7.3 10.4l7 2.9zM570 851.3l-7.1 -2.9l-7.4 10.3l7.1 3zM563.1 848.6l-7 -3l-7.4 10.2l7 3.1zM556.3 845.8l-6.9 -3l-7.4 10.1l7 3.1zM549.6 842.9l-7 -3l-7.4 10l7 3.1zM542.8 840l-6.9 -3.1l-7.3 10l6.9 3.2zM536.1 837.1l-6.9 -3.2l-7.3 9.9l6.9 3.2zM529.5 834.1l-6.9 -3.2l-7.4 9.8l6.9 3.2zM522.8 831l-6.8 -3.2l-7.4 9.7l6.9 3.3zM516.2 828l-6.8 -3.3l-7.3 9.6l6.8 3.3zM509.6 824.8l-6.7 -3.3l-7.4 9.5l6.8 3.4zM503.1 821.7l-6.8 -3.4l-7.3 9.4l6.7 3.5zM450.9 806.7l-6.6 -3.8l-7.3 8.9l6.5 3.9zM444.5 803l-6.5 -3.8l-7.3 8.8l6.5 4zM412.4 796.3l-6.5 -4.1l-7.3 8.7l6.4 4.2zM406.2 792.4l-6.4 -4.1l-7.4 8.5l6.4 4.3zM380.6 788.4l-6.4 -4.3l-7.3 8.4l6.3 4.5zM374.5 784.2l-6.4 -4.4l-7.3 8.4l6.3 4.5zM349.2 779.3l-6.3 -4.6l-7.4 8.2l6.3 4.8z"/><path fill=#e8c6c7 stroke=#e8c6c7 d="M754.7 976.1l-8.1 -1.8l-7.7 14.1l8.1 1.9zM746.8 974.4l-8.1 -1.8l-7.7 14l8.1 1.9zM715.1 952.2l-7.9 -2l-7.6 13.4l7.9 2.1zM676.9 927.8l-7.7 -2.2l-7.5 12.5l7.6 2.4zM669.4 925.7l-7.6 -2.3l-7.5 12.5l7.6 2.3zM632.8 900.5l-7.4 -2.5l-7.5 11.7l7.4 2.6zM625.6 898.1l-7.4 -2.5l-7.4 11.6l7.3 2.6zM618.5 895.7l-7.4 -2.6l-7.4 11.5l7.3 2.7zM469.4 829.8l-6.7 -3.7l-7.4 9.4l6.7 3.8zM462.9 826.2l-6.6 -3.7l-7.4 9.3l6.7 3.9zM456.5 822.6l-6.6 -3.7l-7.3 9.2l6.6 3.9zM417.8 812.7l-6.5 -4.1l-7.4 8.9l6.5 4.2zM411.5 808.7l-6.4 -4.1l-7.4 8.9l6.4 4.2zM385.8 805.1l-6.4 -4.4l-7.4 8.8l6.4 4.4zM379.6 800.9l-6.3 -4.4l-7.4 8.7l6.3 4.4zM354.2 796.3l-6.3 -4.7l-7.4 8.6l6.3 4.7zM328.9 790.9l-6.2 -4.8l-7.4 8.4l6.2 4.9z"/><path fill=#e9cacb stroke=#e9cacb d="M747.2 989.9l-8.1 -1.9l-7.8 14.3l8.2 2zM707.7 965.3l-7.9 -2.1l-7.7 13.4l7.9 2.2zM669.5 940.1l-7.6 -2.4l-7.6 12.7l7.7 2.5zM662.1 937.9l-7.6 -2.4l-7.6 12.6l7.6 2.4zM611.2 906.9l-7.3 -2.7l-7.5 11.6l7.3 2.8zM604.1 904.3l-7.3 -2.7l-7.5 11.5l7.3 2.8zM597 901.7l-7.2 -2.8l-7.5 11.4l7.2 2.9zM488.2 853l-6.7 -3.6l-7.4 9.9l6.7 3.7zM481.7 849.5l-6.7 -3.6l-7.4 9.9l6.7 3.7zM475.2 846.1l-6.7 -3.7l-7.4 9.7l6.7 3.8zM429.5 833.2l-6.5 -4.1l-7.4 9.4l6.6 4.1zM423.2 829.3l-6.5 -4.1l-7.4 9.3l6.5 4.2zM391 822l-6.4 -4.4l-7.4 9.1l6.4 4.5zM384.8 817.8l-6.4 -4.4l-7.4 9l6.4 4.5zM359.2 813.5l-6.3 -4.6l-7.4 8.9l6.3 4.7zM333.8 808.5l-6.2 -4.9l-7.5 8.8l6.3 4.9z"/><path fill=#ecd3d4 stroke=#ecd3d4 d="M732.1 1018l-8.1 -2.1l-7.8 14.6l8.1 2.2zM692.7 991.8l-7.8 -2.3l-7.7 13.7l7.8 2.5zM640 960.1l-7.6 -2.6l-7.6 12.8l7.6 2.7zM632.6 957.6l-7.5 -2.7l-7.6 12.7l7.5 2.8zM447.2 871.2l-6.6 -4l-7.5 10.1l6.7 4.1zM401.8 856.8l-6.5 -4.3l-7.5 9.7l6.5 4.4zM369.6 848.9l-6.4 -4.6l-7.5 9.5l6.4 4.7zM337.8 839.8l-6.4 -4.8l-7.4 9.3l6.3 4.9zM312.3 834.5l-6.2 -5.1l-7.5 9.2l6.3 5.1z"/><path fill=#eed8d9 stroke=#eed8d9 d="M724.5 1032.3l-8.1 -2.2l-7.8 14.8l8.1 2.3zM677.6 1002.9l-7.8 -2.4l-7.7 13.8l7.8 2.6zM617.9 967.3l-7.4 -2.8l-7.6 12.7l7.4 3zM610.7 964.6l-7.5 -2.9l-7.5 12.6l7.4 3zM472.6 900l-6.8 -3.8l-7.4 10.7l6.8 3.9zM466.1 896.3l-6.8 -3.9l-7.5 10.6l6.8 4zM413.6 878.8l-6.6 -4.3l-7.4 10.2l6.5 4.4zM374.8 867.1l-6.4 -4.6l-7.5 9.8l6.5 4.7zM342.8 858.3l-6.3 -4.8l-7.5 9.6l6.4 4.9zM317.3 853.2l-6.3 -5l-7.5 9.5l6.3 5.1zM291.9 847.4l-6.2 -5.2l-7.5 9.3l6.2 5.4z"/><path fill=#f0dddd stroke=#f0dddd d="M716.9 1046.8l-8.1 -2.3l-7.8 14.9l8.1 2.4zM670.1 1016.5l-7.8 -2.6l-7.7 14l7.8 2.7zM596.1 974.1l-7.4 -3.1l-7.6 12.7l7.4 3.2zM588.9 971.1l-7.3 -3l-7.6 12.5l7.3 3.2zM485.3 921.6l-6.9 -3.8l-7.5 11.1l6.9 3.9zM478.6 917.9l-6.8 -3.8l-7.5 11l6.8 4zM419.2 897.1l-6.7 -4.3l-7.4 10.4l6.6 4.4zM316.2 867.5l-6.3 -5.2l-7.5 9.8l6.3 5.2z"/><path fill=#f1e2e2 stroke=#f1e2e2 d="M709.3 1061.4l-8.1 -2.4l-7.8 15.1l8.1 2.5zM655 1027.6l-7.8 -2.7l-7.7 14l7.8 2.9zM560.2 974.1l-7.2 -3.3l-7.6 12.4l7.3 3.4zM553.2 970.9l-7.2 -3.4l-7.6 12.3l7.2 3.5zM546.2 967.6l-7.2 -3.4l-7.5 12.2l7.2 3.6zM539.3 964.3l-7.2 -3.5l-7.5 12.2l7.1 3.6zM532.3 961l-7.1 -3.6l-7.5 12.1l7.1 3.6zM525.4 957.6l-7 -3.6l-7.6 11.9l7.1 3.7zM518.6 954.1l-7.1 -3.6l-7.5 11.8l7 3.8zM431.3 919.7l-6.7 -4.2l-7.5 10.8l6.7 4.4zM385.6 904.5l-6.6 -4.6l-7.4 10.5l6.5 4.6zM321.2 886.9l-6.3 -5.1l-7.5 10l6.3 5.2z"/><path fill=#f3e7e7 stroke=#f3e7e7 d="M701.7 1076.2l-8.1 -2.5l-7.8 15.2l8 2.7zM693.8 1073.8l-8 -2.6l-7.8 15.1l8 2.7zM639.9 1038.6l-7.7 -2.9l-7.7 14.1l7.7 3zM443.6 942.7l-6.7 -4.2l-7.5 11.3l6.7 4.3zM437.1 938.6l-6.8 -4.2l-7.5 11.2l6.8 4.3zM391.1 923.7l-6.6 -4.6l-7.5 10.8l6.6 4.7zM352.2 911l-6.4 -4.9l-7.5 10.5l6.4 5z"/><path fill=#f5ecec stroke=#f5ecec d="M694 1091.2l-8 -2.7l-7.9 15.4l8.1 2.8zM686.2 1088.6l-8.1 -2.7l-7.8 15.3l8 2.8zM624.9 1049.5l-7.6 -3l-7.7 14.1l7.6 3.2zM617.5 1046.6l-7.6 -3.1l-7.7 14l7.6 3.2zM456.2 966l-6.9 -4.2l-7.5 11.7l6.8 4.3zM449.5 961.9l-6.8 -4.2l-7.5 11.6l6.8 4.4zM396.6 943.2l-6.6 -4.6l-7.5 11.1l6.6 4.7z"/><path fill=#ce4246 stroke=#ce4246 d="M1082 505.7l-8.8 2.8l-6.4 6.3l8.8 -2.7zM1084 494.6l-8.7 2.9l-6.3 5.7l8.7 -2.8zM1092.1 480.8l-8.7 3l-6.1 4.9l8.6 -2.9z"/><path fill=#cf4549 stroke=#cf4549 d="M1069.2 517.9l-8.7 2.7l-6.5 6.6l8.7 -2.6zM1067.2 514.5l-8.7 2.7l-6.4 6.3l8.7 -2.5zM1069.5 502.9l-8.6 2.7l-6.4 5.8l8.6 -2.6zM1073.7 495.3l-8.6 2.8l-6.3 5.3l8.6 -2.7zM1077.7 488.5l-8.5 2.9l-6.2 4.9l8.6 -2.8z"/><path fill=#d15357 stroke=#d15357 d="M1017.1 573l-8.6 2l-6.8 7.8l8.6 -1.8zM1015.4 567.7l-8.6 2l-6.7 7.6l8.5 -1.9zM1013.7 562.7l-8.6 1.9l-6.7 7.4l8.6 -1.9zM1012 557.9l-8.5 1.9l-6.7 7.1l8.5 -1.8zM1010.3 553.3l-8.5 1.9l-6.6 6.9l8.4 -1.8zM1008.6 549l-8.4 1.9l-6.6 6.7l8.4 -1.9zM1009.9 531.8l-8.3 2l-6.4 5.9l8.3 -2zM1012.8 520.7l-8.2 2.1l-6.3 5.2l8.2 -2zM1017.3 513.5l-8.2 2.2l-6.3 4.9l8.2 -2.2zM1021.7 507.2l-8.2 2.2l-6.2 4.5l8.2 -2.2z"/><path fill=#d25559 stroke=#d25559 d="M1010.5 580.6l-8.6 1.9l-6.9 8l8.6 -1.8zM1008.8 575.1l-8.6 1.8l-6.8 7.8l8.6 -1.8zM1007.1 569.8l-8.5 1.8l-6.8 7.6l8.6 -1.8zM1005.4 564.7l-8.4 1.9l-6.7 7.3l8.4 -1.8zM1003.8 559.9l-8.5 1.9l-6.6 7l8.4 -1.7zM1002.1 555.3l-8.4 1.9l-6.6 6.8l8.4 -1.7zM1000.5 551l-8.4 1.9l-6.5 6.6l8.3 -1.8zM998.9 546.9l-8.4 1.9l-6.5 6.4l8.3 -1.8zM1002 533.9l-8.3 2l-6.4 5.7l8.2 -1.8zM1000.3 530.7l-8.2 2l-6.4 5.5l8.2 -1.9zM1004.9 522.9l-8.2 2l-6.3 5.2l8.2 -2zM1013.9 509.5l-8.2 2.2l-6.1 4.4l8.1 -2.1z"/><path fill=#d25a5d stroke=#d25a5d d="M997.1 596.3l-8.6 1.6l-6.9 8.4l8.6 -1.6z"/><path fill=#d35c5f stroke=#d35c5f d="M990.4 604.3l-8.6 1.6l-6.9 8.5l8.5 -1.5z"/><path fill=#d36064 stroke=#d36064 d="M976.8 620.9l-8.5 1.4l-7 8.9l8.5 -1.3zM965.6 609.2l-8.4 1.3l-6.9 8.3l8.4 -1.3zM964.2 602.9l-8.4 1.4l-6.8 8l8.3 -1.3zM950.6 581.9l-8.2 1.3l-6.7 7l8.2 -1.2zM949.2 576.9l-8.1 1.3l-6.7 6.8l8.1 -1.3zM947.9 572.1l-8.1 1.4l-6.6 6.5l8 -1.3zM948.9 550.2l-7.9 1.4l-6.5 5.5l7.9 -1.4zM952.4 539l-7.8 1.5l-6.4 4.9l7.9 -1.4zM957.3 532l-7.9 1.6l-6.3 4.5l7.9 -1.5zM962 525.8l-7.9 1.6l-6.2 4.1l7.9 -1.5z"/><path fill=#d4676a stroke=#d4676a d="M956.3 647l-8.5 1.2l-7.1 9.3l8.5 -1zM945.3 633.5l-8.3 1.1l-7 8.7l8.3 -1zM934.6 621l-8.2 1l-6.9 8.2l8.2 -1zM923 603.6l-8.1 1l-6.8 7.3l8.1 -.9zM921.8 597.9l-8 1l-6.8 7.1l8 -.9zM920.6 592.4l-8 1l-6.7 6.9l8 -.9zM914.7 568.7l-7.8 1l-6.6 5.8l7.8 -1zM913.5 564.7l-7.8 1l-6.5 5.5l7.8 -1zM912.4 560.8l-7.8 1.1l-6.4 5.2l7.7 -.9zM917.5 552.6l-7.7 1.1l-6.4 4.9l7.7 -1.1zM916.3 549.4l-7.7 1.1l-6.3 4.7l7.6 -1.1zM921.3 542.3l-7.6 1.2l-6.3 4.3l7.6 -1.1zM926.3 536l-7.7 1.2l-6.2 4l7.6 -1.2zM937.1 527.1l-7.6 1.4l-6.1 3.5l7.6 -1.3z"/><path fill=#d56c6f stroke=#d56c6f d="M942.5 665.3l-8.5 .9l-7.1 9.6l8.4 -.8zM932.9 658.3l-8.3 .8l-7.1 9.3l8.4 -.7zM922.4 644.1l-8.3 .8l-7 8.7l8.3 -.8zM912 630.9l-8.1 .8l-6.9 8.1l8.1 -.7zM901.9 618.8l-8 .7l-6.8 7.5l8 -.6zM900.8 612.6l-7.9 .8l-6.8 7.3l7.9 -.7zM891 601.9l-7.8 .7l-6.8 6.8l7.9 -.6zM890 596.5l-7.8 .7l-6.7 6.6l7.8 -.7zM888.9 591.4l-7.7 .7l-6.7 6.3l7.8 -.7zM887.9 586.4l-7.7 .8l-6.7 6l7.8 -.6zM886.9 581.7l-7.7 .7l-6.6 5.9l7.7 -.7zM885.9 577.2l-7.7 .8l-6.6 5.6l7.7 -.7zM884.9 573l-7.7 .7l-6.5 5.4l7.6 -.6zM883.9 568.9l-7.6 .8l-6.5 5.2l7.6 -.7zM889.2 560.6l-7.6 .8l-6.5 4.8l7.6 -.7zM888.1 557.2l-7.5 .8l-6.4 4.6l7.5 -.7zM893.3 550l-7.5 .9l-6.3 4.3l7.5 -.9zM898.4 543.5l-7.5 1l-6.2 3.9l7.4 -.9zM909.5 534.6l-7.5 1.1l-6.2 3.5l7.5 -1.1zM903.4 537.8l-7.4 1.1l-6.2 3.6l7.4 -1z"/><path fill=#d57174 stroke=#d57174 d="M928.5 684.1l-8.4 .7l-7.2 10l8.5 -.6zM919.1 676.4l-8.3 .7l-7.2 9.6l8.4 -.6zM880.8 634.1l-7.9 .5l-6.9 7.8l7.9 -.4zM860.1 599.5l-7.6 .5l-6.7 6.2l7.6 -.4zM859.2 594.4l-7.6 .4l-6.6 6l7.6 -.3zM856.6 580.4l-7.5 .4l-6.5 5.4l7.4 -.4zM855.8 576.2l-7.5 .4l-6.5 5.1l7.4 -.4zM864.8 553.8l-7.4 .6l-6.3 4l7.3 -.5zM876.1 544.4l-7.3 .7l-6.3 3.5l7.4 -.7z"/><path fill=#d67476 stroke=#d67476 d="M921.5 693.8l-8.4 .6l-7.2 10.1l8.4 -.5zM912.2 685.7l-8.4 .6l-7.1 9.8l8.3 -.5zM902.9 678l-8.2 .5l-7.1 9.4l8.2 -.4zM875.1 648.7l-8 .4l-6.9 8.2l7.9 -.3zM865.5 635.3l-7.8 .4l-6.9 7.6l7.8 -.3zM856.2 622.9l-7.7 .4l-6.8 7l7.7 -.2zM847.1 611.5l-7.6 .3l-6.8 6.5l7.6 -.2zM846.2 606l-7.5 .3l-6.7 6.2l7.5 -.2zM840.7 573.4l-7.4 .3l-6.5 4.8l7.4 -.3zM839.9 569.6l-7.3 .3l-6.5 4.6l7.3 -.3zM845.4 562.1l-7.3 .4l-6.4 4.2l7.2 -.4zM850.7 555.3l-7.2 .5l-6.4 3.9l7.3 -.5zM856 549.3l-7.2 .6l-6.3 3.5l7.3 -.5zM873.3 538.5l-7.3 .7l-6.1 3l7.3 -.7z"/><path fill=#d98587 stroke=#d98587 d="M879 755.2l-8.3 0l-7.4 11.1l8.4 .1zM853 735.2l-8.1 -.1l-7.3 10.3l8.1 .2zM844.3 725.5l-8.1 -.1l-7.2 9.9l8 .3zM819.5 706.9l-7.8 -.2l-7.2 9.1l7.9 .4zM811.2 698l-7.7 -.3l-7.1 8.8l7.7 .4zM787.7 680.7l-7.6 -.5l-7 8.1l7.5 .6zM779.8 672.5l-7.5 -.5l-7 7.7l7.5 .6zM772.1 664.6l-7.4 -.6l-7 7.4l7.4 .7zM764.5 656.8l-7.4 -.6l-6.9 7.1l7.3 .7zM757 649.3l-7.3 -.6l-6.9 6.8l7.3 .7zM749.6 642.1l-7.3 -.7l-6.8 6.5l7.2 .7zM742.3 635l-7.2 -.7l-6.8 6.2l7.1 .8zM735.1 628.2l-7.1 -.8l-6.8 5.9l7.1 .8zM728 621.5l-7.1 -.8l-6.7 5.6l7 .9zM727.7 615.7l-7 -.8l-6.7 5.4l7 .9zM720.7 609.6l-6.9 -.9l-6.7 5.1l6.9 .9zM720.5 604.3l-6.9 -.9l-6.6 4.9l6.8 .9zM713.7 598.5l-6.8 -.9l-6.7 4.6l6.8 1zM713.5 593.7l-6.8 -.9l-6.6 4.4l6.8 .9zM713.3 589l-6.7 -.9l-6.6 4.2l6.7 1zM713.2 584.6l-6.8 -.9l-6.6 4l6.8 .9zM713 580.4l-6.7 -.9l-6.6 3.8l6.7 .9zM719.1 573.1l-6.7 -.8l-6.5 3.5l6.7 .8zM712.8 576.3l-6.7 -.8l-6.5 3.6l6.7 .9zM725.1 566.6l-6.6 -.7l-6.5 3.1l6.7 .8zM718.9 569.5l-6.7 -.8l-6.4 3.3l6.6 .8zM773.5 545.9l-6.7 -.2l-6.1 2l6.7 .2zM767.5 547.7l-6.6 -.3l-6.2 2.1l6.6 .3zM761.5 549.5l-6.6 -.3l-6.3 2.2l6.7 .4zM755.5 551.5l-6.7 -.3l-6.2 2.3l6.6 .4zM749.4 553.7l-6.6 -.5l-6.3 2.5l6.6 .5zM743.3 555.9l-6.6 -.5l-6.3 2.6l6.6 .6zM737.2 558.3l-6.6 -.6l-6.4 2.7l6.7 .6zM731.1 560.7l-6.7 -.6l-6.4 2.9l6.7 .6zM724.9 563.4l-6.6 -.7l-6.4 2.9l6.6 .8z"/><path fill=#da888a stroke=#da888a d="M871.9 766l-8.4 -.1l-7.4 11.3l8.4 .1zM845.9 745.2l-8.1 -.2l-7.3 10.4l8.2 .3zM820.9 725.3l-7.9 -.3l-7.2 9.6l7.9 .4zM796.8 706.3l-7.7 -.5l-7.1 8.9l7.7 .5zM765.8 679.5l-7.5 -.6l-7 7.8l7.5 .7zM736.2 654.7l-7.2 -.9l-6.9 6.8l7.2 .9zM729 647l-7.1 -.9l-6.9 6.5l7.1 1zM721.9 639.6l-7.1 -1l-6.8 6.2l7 1zM714.9 632.4l-7.1 -1l-6.8 5.9l7 1zM707.9 625.4l-6.9 -1.1l-6.8 5.6l6.9 1.1zM701.1 618.6l-6.9 -1.1l-6.8 5.3l6.9 1.1zM694.3 612l-6.8 -1.1l-6.7 5l6.8 1.2zM687.6 600.4l-6.7 -1.1l-6.7 4.5l6.7 1.2zM681.1 589.7l-6.7 -1.2l-6.6 4l6.6 1.3zM681 585.1l-6.6 -1.2l-6.6 3.9l6.6 1.2zM681 580.7l-6.6 -1.1l-6.6 3.6l6.6 1.2zM681 576.6l-6.6 -1.2l-6.5 3.5l6.5 1.2zM754.5 545.8l-6.6 -.4l-6.2 1.8l6.6 .4zM687.2 569.7l-6.5 -1.1l-6.5 3.2l6.5 1.1zM730.1 550.5l-6.5 -.6l-6.3 2.1l6.6 .7zM724.1 552.4l-6.5 -.7l-6.4 2.2l6.6 .8zM699.6 561.1l-6.5 -.9l-6.5 2.7l6.6 .9zM693.4 563.6l-6.5 -1l-6.5 2.8l6.5 1z"/><path fill=#db8f90 stroke=#db8f90 d="M857.4 788.1l-8.3 -.3l-7.4 11.6l8.3 .3zM815.3 754.6l-8 -.4l-7.2 10.3l7.9 .5zM799.3 743.8l-7.9 -.6l-7.2 9.9l7.8 .6zM760.3 712.8l-7.6 -.9l-7.1 8.7l7.6 .9zM745.3 702.6l-7.4 -1l-7 8.3l7.4 1zM723.4 683.4l-7.3 -1l-7 7.5l7.3 1.1zM709.2 673.7l-7.2 -1.1l-6.9 7.1l7.1 1.2zM695.3 664.1l-7.1 -1.3l-6.9 6.8l7 1.3zM681.6 654.6l-6.9 -1.4l-7 6.4l7 1.4zM661.6 637.2l-6.8 -1.5l-6.8 5.7l6.8 1.5zM648.6 628l-6.7 -1.5l-6.8 5.3l6.7 1.6zM635.8 619l-6.6 -1.6l-6.8 4.9l6.6 1.8zM623.3 610.1l-6.5 -1.7l-6.8 4.6l6.5 1.8zM617 608.6l-6.5 -1.8l-6.8 4.5l6.5 1.9zM611 601.3l-6.5 -1.8l-6.7 4.2l6.4 1.9zM604.8 599.7l-6.5 -1.9l-6.7 4.2l6.4 1.9zM598.9 592.6l-6.4 -2l-6.7 3.9l6.3 2zM592.7 590.8l-6.3 -1.9l-6.8 3.8l6.4 2.1zM586.6 589.1l-6.3 -2l-6.7 3.7l6.3 2.1zM704.9 543l-6.3 -.8l-6.2 1.3l6.3 .9zM692.9 543.5l-6.3 -1l-6.2 1.4l6.2 1zM580.9 582.1l-6.3 -2l-6.7 3.5l6.3 2.1z"/><path fill=#dc9294 stroke=#dc9294 d="M850.2 799.3l-8.3 -.3l-7.4 11.8l8.3 .4zM833.3 787.5l-8.2 -.5l-7.4 11.3l8.2 .5zM681.8 677.2l-7 -1.4l-7 7l7 1.5zM668.2 666.9l-6.9 -1.5l-7 6.7l7 1.5zM635.3 645.2l-6.7 -1.7l-6.9 5.8l6.7 1.8zM616.1 633.6l-6.6 -1.9l-6.9 5.4l6.6 1.9zM609.7 631.9l-6.6 -1.9l-6.8 5.3l6.6 2zM591.1 620.1l-6.5 -2.1l-6.8 4.8l6.4 2.2zM584.8 618.2l-6.4 -2.1l-6.9 4.8l6.5 2.1zM578.6 616.3l-6.4 -2.2l-6.8 4.7l6.4 2.3z"/><path fill=#dea0a1 stroke=#dea0a1 d="M821.1 846.1l-8.3 -.7l-7.5 12.4l8.2 .8zM804.4 832.4l-8.2 -.9l-7.4 11.9l8.1 1zM788 818.8l-8 -.9l-7.4 11.4l8 1.1zM764.3 804.5l-7.8 -1.1l-7.4 10.9l7.9 1.2zM741.3 790.2l-7.7 -1.2l-7.3 10.4l7.7 1.3zM726.1 777.1l-7.5 -1.3l-7.3 9.9l7.5 1.4zM718.8 775.9l-7.5 -1.4l-7.3 9.8l7.5 1.5zM704 762.9l-7.4 -1.5l-7.2 9.4l7.4 1.5zM696.9 761.5l-7.4 -1.5l-7.2 9.3l7.3 1.6zM675.5 747.1l-7.3 -1.6l-7.1 8.7l7.2 1.8zM654.6 732.7l-7.1 -1.8l-7.2 8.3l7.1 1.9zM647.7 731l-7.1 -1.8l-7.1 8.2l7.1 1.9zM620.7 714.6l-6.9 -2.1l-7.1 7.7l6.9 2.1zM614 712.7l-6.8 -2.1l-7.1 7.5l6.8 2.2zM607.4 710.7l-6.8 -2.1l-7.1 7.4l6.8 2.3zM568.5 689.2l-6.6 -2.5l-7.1 6.8l6.7 2.5zM562.1 686.9l-6.6 -2.5l-7.1 6.7l6.7 2.6zM555.7 684.6l-6.5 -2.5l-7.1 6.5l6.6 2.7zM549.4 682.2l-6.6 -2.6l-7 6.6l6.5 2.6zM543 679.8l-6.5 -2.6l-7 6.4l6.5 2.7zM536.7 677.4l-6.5 -2.7l-7 6.3l6.5 2.8zM530.5 674.8l-6.5 -2.7l-7.1 6.3l6.5 2.8zM492.7 667.2l-6.4 -3.1l-7 6l6.3 3.2zM486.6 664.3l-6.4 -3.1l-7 5.9l6.3 3.2zM480.5 661.4l-6.3 -3.2l-7.1 5.9l6.3 3.2z"/><path fill=#e1abac stroke=#e1abac d="M799 882.9l-8.2 -1.1l-7.6 12.9l8.2 1.2zM774.6 866.7l-8.1 -1.2l-7.5 12.3l8 1.3zM750.8 850.5l-7.9 -1.4l-7.4 11.7l7.8 1.5zM727.6 834.3l-7.7 -1.5l-7.4 11.1l7.7 1.6zM705.1 818.1l-7.6 -1.7l-7.3 10.7l7.5 1.7zM697.7 816.5l-7.5 -1.6l-7.3 10.5l7.5 1.8zM675.9 800.2l-7.4 -1.8l-7.3 10l7.3 1.9zM668.7 798.5l-7.3 -1.8l-7.3 9.9l7.3 1.9zM640.5 780.2l-7.2 -2l-7.2 9.3l7.2 2.1zM633.6 778.3l-7.2 -2.1l-7.2 9.2l7.1 2.2zM626.7 776.3l-7.1 -2.2l-7.3 9.2l7.1 2.2zM592.9 755.2l-6.9 -2.5l-7.3 8.5l7 2.5zM586.2 752.9l-6.9 -2.5l-7.2 8.4l6.9 2.5zM579.5 750.6l-6.8 -2.5l-7.2 8.3l6.8 2.6zM572.9 748.2l-6.8 -2.5l-7.2 8.2l6.8 2.6zM566.3 745.8l-6.8 -2.6l-7.2 8.1l6.8 2.7zM559.7 743.4l-6.7 -2.7l-7.2 8l6.7 2.8zM553.2 740.9l-6.7 -2.8l-7.2 8l6.7 2.8zM546.7 738.3l-6.7 -2.8l-7.2 7.9l6.7 2.8zM540.2 735.7l-6.7 -2.8l-7.1 7.7l6.6 2.9zM533.8 733l-6.7 -2.8l-7.2 7.7l6.7 2.9zM527.3 730.3l-6.6 -2.9l-7.2 7.6l6.7 3zM520.9 727.6l-6.5 -3l-7.2 7.5l6.6 3.1zM514.6 724.8l-6.6 -3l-7.2 7.4l6.6 3.1zM508.2 722l-6.5 -3.1l-7.2 7.3l6.6 3.2zM501.9 719.1l-6.5 -3.2l-7.2 7.3l6.5 3.2zM470 713.7l-6.4 -3.4l-7.2 7.1l6.4 3.5zM463.8 710.5l-6.4 -3.4l-7.1 7l6.3 3.5zM457.7 707.3l-6.4 -3.5l-7.2 6.9l6.4 3.6zM432.4 703.7l-6.3 -3.7l-7.2 6.8l6.3 3.8zM426.3 700.2l-6.2 -3.8l-7.2 6.8l6.2 3.8z"/><path fill=#e2afb0 stroke=#e2afb0 d="M791.6 895.5l-8.2 -1.2l-7.6 13.1l8.2 1.3zM767.2 878.7l-8 -1.3l-7.5 12.4l8 1.4zM743.5 861.9l-7.8 -1.5l-7.5 11.9l7.8 1.6zM735.9 860.6l-7.8 -1.6l-7.5 11.8l7.8 1.6zM712.9 843.7l-7.6 -1.7l-7.4 11.2l7.6 1.8zM683.3 825.1l-7.5 -1.8l-7.3 10.6l7.4 1.9zM654.5 806.3l-7.3 -2l-7.3 10l7.3 2.1zM647.4 804.4l-7.2 -2l-7.3 9.8l7.2 2.2zM640.4 802.5l-7.2 -2.1l-7.3 9.7l7.2 2.3zM605.9 780.9l-7 -2.4l-7.3 9.1l7.1 2.5zM599.1 778.6l-7 -2.4l-7.2 9l7 2.5zM592.3 776.4l-6.9 -2.5l-7.3 8.9l7 2.6zM585.6 774l-6.9 -2.5l-7.3 8.8l7 2.7zM578.9 771.7l-6.9 -2.6l-7.2 8.7l6.9 2.7zM513.5 745.2l-6.7 -3.1l-7.2 7.9l6.6 3.2zM507.1 742.3l-6.6 -3.2l-7.2 7.8l6.6 3.3zM500.7 739.3l-6.5 -3.2l-7.3 7.7l6.6 3.3zM494.4 736.3l-6.6 -3.2l-7.2 7.6l6.6 3.3zM488.1 733.3l-6.5 -3.3l-7.2 7.5l6.5 3.4zM456.1 727.6l-6.4 -3.6l-7.2 7.4l6.4 3.6zM450 724.2l-6.4 -3.6l-7.2 7.3l6.3 3.6zM443.8 720.8l-6.4 -3.7l-7.2 7.2l6.4 3.8zM418.5 717l-6.3 -3.9l-7.2 7.1l6.3 4z"/><path fill=#e3b3b4 stroke=#e3b3b4 d="M784.2 908.3l-8.2 -1.3l-7.7 13.2l8.2 1.4zM759.9 890.9l-8 -1.5l-7.6 12.7l8 1.5zM752.1 889.5l-8 -1.4l-7.5 12.5l7.9 1.6zM728.6 872.1l-7.8 -1.7l-7.5 12l7.8 1.7zM698.3 853l-7.6 -1.8l-7.4 11.3l7.6 1.9zM668.9 833.6l-7.4 -1.9l-7.4 10.6l7.4 2.1zM661.7 831.8l-7.4 -2.1l-7.4 10.6l7.4 2.1zM626.3 809.9l-7.2 -2.3l-7.3 9.9l7.2 2.3zM619.3 807.8l-7.1 -2.4l-7.3 9.8l7.1 2.4zM612.4 805.6l-7.1 -2.4l-7.3 9.6l7.1 2.5zM605.5 803.3l-7 -2.4l-7.4 9.6l7.1 2.5zM486.8 754.4l-6.6 -3.4l-7.2 8l6.5 3.5zM480.4 751.2l-6.5 -3.4l-7.2 7.9l6.5 3.5zM474.1 748l-6.5 -3.4l-7.2 7.8l6.5 3.5zM467.9 744.7l-6.5 -3.4l-7.3 7.7l6.5 3.6zM436 738.4l-6.4 -3.7l-7.2 7.5l6.4 3.8zM429.9 734.8l-6.4 -3.8l-7.2 7.5l6.3 3.9zM404.6 730.9l-6.3 -4.1l-7.3 7.4l6.3 4.1z"/><path fill=#e4b7b8 stroke=#e4b7b8 d="M776.7 921.2l-8.2 -1.4l-7.6 13.3l8.2 1.5zM768.7 919.9l-8.1 -1.5l-7.6 13.3l8.1 1.5zM744.7 901.8l-7.9 -1.6l-7.6 12.7l7.9 1.6zM713.7 882.1l-7.7 -1.8l-7.5 12l7.7 1.9zM683.7 862.2l-7.6 -2l-7.4 11.4l7.5 2zM676.3 860.4l-7.5 -2l-7.4 11.2l7.5 2.1zM647.4 840l-7.4 -2.2l-7.4 10.7l7.4 2.2zM640.2 838l-7.3 -2.3l-7.3 10.5l7.3 2.4zM633.1 835.9l-7.2 -2.3l-7.4 10.4l7.3 2.4zM584.8 807.8l-7 -2.6l-7.3 9.5l7 2.7zM578 805.3l-7 -2.7l-7.3 9.5l7 2.7zM571.2 802.8l-6.9 -2.8l-7.3 9.4l6.9 2.8zM564.5 800.2l-6.9 -2.8l-7.3 9.3l6.9 2.8zM557.8 797.5l-6.9 -2.8l-7.3 9.2l6.9 2.9zM551.2 794.9l-6.9 -2.9l-7.3 9.1l6.9 2.9zM544.5 792.1l-6.8 -2.9l-7.3 9l6.8 3zM537.9 789.3l-6.8 -3l-7.3 9l6.8 3zM531.3 786.5l-6.7 -3l-7.3 8.8l6.8 3.1zM524.8 783.6l-6.7 -3.1l-7.3 8.8l6.7 3.2zM518.3 780.7l-6.7 -3.1l-7.3 8.6l6.7 3.2zM511.8 777.7l-6.7 -3.2l-7.3 8.6l6.7 3.3zM505.3 774.7l-6.6 -3.2l-7.3 8.5l6.7 3.3zM460.1 763.3l-6.5 -3.6l-7.2 8.1l6.5 3.7zM453.9 759.9l-6.5 -3.7l-7.3 8.1l6.5 3.7zM447.6 756.4l-6.4 -3.7l-7.3 8l6.4 3.7zM422 753.2l-6.4 -3.9l-7.2 7.8l6.3 4zM415.9 749.5l-6.4 -4l-7.3 7.7l6.4 4.1zM390.5 745.3l-6.2 -4.2l-7.3 7.6l6.2 4.3z"/><path fill=#eacbcc stroke=#eacbcc d="M739.3 988.1l-8.1 -1.9l-7.8 14.2l8.1 2zM700 963.3l-7.9 -2.2l-7.6 13.4l7.8 2.2zM654.7 935.6l-7.6 -2.5l-7.5 12.5l7.5 2.6zM647.3 933.3l-7.5 -2.5l-7.6 12.3l7.6 2.6zM583 896.3l-7.2 -2.9l-7.5 11.2l7.2 3zM576 893.5l-7.2 -3l-7.4 11.2l7.1 3zM569 890.7l-7.1 -3l-7.4 11l7.1 3.1zM562.1 887.8l-7.1 -3.1l-7.4 11l7.1 3.1zM555.3 884.9l-7.1 -3.2l-7.4 10.9l7 3.2zM548.4 881.9l-7 -3.2l-7.4 10.8l7 3.2zM541.6 878.9l-7 -3.2l-7.4 10.6l7 3.3zM534.8 875.8l-6.9 -3.3l-7.5 10.6l7 3.4zM528.1 872.7l-6.9 -3.3l-7.5 10.5l7 3.3zM521.4 869.5l-6.9 -3.3l-7.4 10.3l6.9 3.5zM514.7 866.3l-6.9 -3.4l-7.4 10.3l6.9 3.5zM508 863l-6.8 -3.4l-7.4 10.2l6.8 3.5zM501.4 859.7l-6.8 -3.5l-7.4 10.2l6.8 3.5zM494.8 856.4l-6.8 -3.6l-7.4 10.1l6.8 3.6zM442.3 840.8l-6.6 -4l-7.4 9.6l6.6 4zM435.9 837l-6.6 -4l-7.4 9.5l6.6 4.1zM397.3 826.1l-6.5 -4.3l-7.4 9.2l6.5 4.4zM365.4 817.9l-6.4 -4.6l-7.4 9l6.4 4.6zM339.9 813.1l-6.3 -4.8l-7.4 8.8l6.3 4.9zM314.6 807.5l-6.2 -5l-7.4 8.7l6.2 5.1z"/><path fill=#ebcfd0 stroke=#ebcfd0 d="M731.7 1002l-8.1 -2l-7.7 14.3l8.1 2.1zM692.5 976.3l-7.8 -2.2l-7.7 13.5l7.9 2.4zM647.3 947.8l-7.5 -2.6l-7.6 12.7l7.5 2.6zM640 945.3l-7.6 -2.5l-7.5 12.5l7.5 2.7zM561.8 901.4l-7.1 -3.1l-7.5 11.2l7.1 3.2zM554.9 898.5l-7.1 -3.2l-7.4 11.1l7 3.3zM548 895.4l-7 -3.2l-7.5 11.1l7.1 3.2zM541.2 892.4l-7 -3.3l-7.5 10.9l7.1 3.4zM534.4 889.3l-7 -3.3l-7.4 10.8l7 3.4zM527.6 886.1l-6.9 -3.4l-7.5 10.8l7 3.4zM520.9 882.9l-6.9 -3.4l-7.5 10.6l7 3.5zM447.9 857.7l-6.6 -3.9l-7.4 9.9l6.6 4zM441.5 853.9l-6.6 -4l-7.4 9.8l6.6 4.1zM402.6 843.4l-6.5 -4.3l-7.4 9.5l6.5 4.4zM396.4 839.2l-6.5 -4.3l-7.4 9.4l6.5 4.4zM364.4 831.1l-6.4 -4.7l-7.4 9.2l6.4 4.7zM338.8 826.3l-6.3 -4.8l-7.4 9.1l6.3 4.9zM313.5 820.8l-6.3 -5l-7.4 9l6.2 5.1z"/><path fill=#edd4d5 stroke=#edd4d5 d="M724.2 1016l-8.1 -2.1l-7.8 14.5l8.1 2.2zM677.4 987.3l-7.8 -2.4l-7.6 13.5l7.8 2.6zM625.3 955l-7.5 -2.7l-7.6 12.6l7.5 2.8zM618 952.4l-7.4 -2.8l-7.6 12.5l7.5 2.9zM466.7 882.4l-6.7 -3.8l-7.5 10.4l6.8 3.9zM460.2 878.7l-6.7 -3.9l-7.5 10.3l6.7 4zM414.4 865.1l-6.5 -4.3l-7.5 9.9l6.6 4.3zM408.1 861l-6.6 -4.3l-7.4 9.8l6.5 4.4zM375.8 853.3l-6.4 -4.5l-7.5 9.6l6.5 4.6zM343.9 844.5l-6.4 -4.8l-7.4 9.4l6.3 4.9zM318.4 839.3l-6.3 -5l-7.4 9.3l6.2 5.1zM293.1 833.4l-6.2 -5.2l-7.5 9.1l6.2 5.3z"/><path fill=#eed9d9 stroke=#eed9d9 d="M716.6 1030.2l-8.1 -2.2l-7.7 14.6l8 2.4zM670 1000.6l-7.8 -2.6l-7.7 13.8l7.8 2.6zM603.4 961.8l-7.4 -2.9l-7.5 12.5l7.4 3.1zM596.3 959l-7.4 -3l-7.6 12.4l7.4 3.1zM479.2 903.7l-6.8 -3.8l-7.4 10.8l6.8 3.9zM420 882.9l-6.6 -4.2l-7.5 10.2l6.6 4.4z"/><path fill=#f0ddde stroke=#f0ddde d="M709 1044.6l-8 -2.4l-7.8 14.8l8 2.5zM662.5 1014l-7.8 -2.6l-7.7 13.9l7.8 2.7zM581.8 968.2l-7.4 -3.2l-7.5 12.5l7.3 3.3zM574.7 965.2l-7.3 -3.2l-7.6 12.4l7.3 3.2zM567.6 962.1l-7.3 -3.3l-7.5 12.3l7.2 3.4zM505.4 932.3l-6.9 -3.6l-7.5 11.4l6.9 3.8zM498.7 928.8l-6.9 -3.7l-7.5 11.3l6.9 3.8zM492 925.2l-6.9 -3.7l-7.5 11.2l6.9 3.9zM425.6 901.2l-6.6 -4.3l-7.5 10.6l6.6 4.3zM380.2 885.6l-6.5 -4.6l-7.5 10.2l6.5 4.7zM348 877.1l-6.4 -4.8l-7.5 9.9l6.4 5z"/><path fill=#f1e2e3 stroke=#f1e2e3 d="M701.4 1059.1l-8 -2.5l-7.8 15l8 2.6zM647.4 1025l-7.7 -2.8l-7.7 13.9l7.7 2.9zM437.8 923.8l-6.7 -4.2l-7.5 10.9l6.7 4.4zM353.2 896.3l-6.4 -4.9l-7.5 10.3l6.4 4.9z"/><path fill=#cf474b stroke=#cf474b d="M1060.8 520.6l-8.6 2.6l-6.5 6.5l8.6 -2.4zM1058.9 517.2l-8.7 2.6l-6.4 6.3l8.6 -2.5zM1063.2 508.4l-8.6 2.6l-6.4 5.9l8.6 -2.5zM1061.2 505.7l-8.5 2.6l-6.4 5.7l8.6 -2.5zM1065.4 498.2l-8.5 2.6l-6.2 5.3l8.5 -2.6zM1069.6 491.4l-8.5 2.8l-6.2 4.9l8.5 -2.7z"/><path fill=#d0484c stroke=#d0484c d="M1054.4 526.9l-8.6 2.5l-6.5 6.6l8.6 -2.3z"/><path fill=#d36265 stroke=#d36265 d="M968.5 622.4l-8.5 1.4l-6.9 8.7l8.5 -1.2zM957.5 610.6l-8.4 1.3l-6.9 8.1l8.4 -1.1zM956.1 604.4l-8.3 1.3l-6.9 7.9l8.3 -1.2zM942.7 583.4l-8.1 1.2l-6.7 6.9l8.1 -1.2zM941.4 578.4l-8.1 1.2l-6.6 6.6l8 -1.1zM940.1 573.6l-8 1.2l-6.7 6.4l8.1 -1.1zM938.8 569.1l-8 1.2l-6.6 6.2l8 -1.2zM941.3 551.8l-7.9 1.3l-6.5 5.4l7.9 -1.3zM944.9 540.6l-7.8 1.5l-6.4 4.7l7.8 -1.3zM949.7 533.7l-7.8 1.5l-6.2 4.4l7.8 -1.4zM954.5 527.5l-7.8 1.6l-6.2 4l7.8 -1.4z"/><path fill=#d46669 stroke=#d46669 d="M954.9 639.5l-8.5 1.1l-7 9.1l8.5 -1zM944 626.5l-8.3 1.1l-7 8.5l8.3 -1zM942.7 619.8l-8.3 1.1l-6.9 8.2l8.3 -1zM932.1 608.3l-8.2 1.1l-6.8 7.6l8.2 -.9zM930.8 602.4l-8.1 1.1l-6.8 7.4l8.1 -1zM919.9 559.6l-7.8 1.1l-6.5 5.3l7.8 -1zM918.7 556l-7.8 1.1l-6.4 5.1l7.7 -1zM923.7 548l-7.7 1.2l-6.4 4.8l7.7 -1.1zM922.5 545.1l-7.7 1.2l-6.3 4.5l7.7 -1.1zM933.6 534.5l-7.7 1.3l-6.2 4.1l7.7 -1.3zM927.5 538.3l-7.7 1.3l-6.3 4.2l7.7 -1.2zM938.4 528.9l-7.7 1.4l-6.1 3.7l7.7 -1.3z"/><path fill=#d4686c stroke=#d4686c d="M948 648.3l-8.4 1l-7.1 9.2l8.5 -.9zM926.7 622.2l-8.2 .9l-6.9 8.1l8.2 -.9zM915.2 604.7l-8 .9l-6.8 7.2l8 -.8z"/><path fill=#d88385 stroke=#d88385 d="M878 744.8l-8.3 .1l-7.3 10.8l8.3 0zM869 734.9l-8.3 .1l-7.2 10.5l8.2 0zM843.4 716.1l-8 -.1l-7.2 9.7l8 .2zM834.9 707.1l-8 -.2l-7.1 9.3l7.9 .3zM794.5 673.1l-7.6 -.4l-7 7.9l7.6 .5zM786.6 665.2l-7.5 -.4l-7 7.6l7.5 .5zM778.8 657.6l-7.4 -.5l-6.9 7.3l7.4 .5zM771.1 650.1l-7.3 -.5l-6.9 7l7.4 .6zM763.6 642.9l-7.3 -.5l-6.8 6.6l7.2 .7zM755.8 629.6l-7.2 -.5l-6.8 6.1l7.2 .7zM748.5 623.1l-7.1 -.6l-6.8 5.8l7.1 .8zM741 611.3l-7.1 -.7l-6.7 5.3l7.1 .8zM733.6 600.3l-6.9 -.7l-6.6 4.8l6.9 .8zM733.4 595.4l-6.9 -.7l-6.7 4.6l6.9 .8zM733.1 590.7l-6.9 -.7l-6.6 4.4l6.9 .8zM732.8 586.2l-6.8 -.7l-6.6 4.3l6.9 .7zM732.6 582l-6.8 -.7l-6.6 4l6.8 .7zM732.3 577.9l-6.8 -.6l-6.5 3.8l6.8 .7zM738.3 570.8l-6.7 -.6l-6.5 3.5l6.7 .7zM750.4 561.7l-6.7 -.5l-6.4 3l6.7 .6zM744.2 564.5l-6.7 -.6l-6.4 3.2l6.7 .6zM780.4 547.6l-6.7 -.2l-6.2 2.3l6.7 .2zM774.4 549.6l-6.7 -.2l-6.3 2.3l6.8 .3zM768.4 551.7l-6.8 -.3l-6.2 2.5l6.7 .3zM762.3 553.9l-6.7 -.3l-6.3 2.6l6.7 .4zM756.2 556.3l-6.7 -.4l-6.4 2.7l6.8 .5z"/><path fill=#d98688 stroke=#d98688 d="M870.9 755.3l-8.3 0l-7.4 11l8.3 .1zM845.1 735.2l-8.1 -.1l-7.2 10.1l8 .3zM836.4 725.5l-8 -.2l-7.2 9.9l8 .3zM811.9 706.8l-7.8 -.4l-7.1 9.1l7.8 .4zM803.7 697.8l-7.7 -.3l-7.1 8.7l7.7 .5zM780.3 680.4l-7.5 -.6l-7 8l7.5 .6zM772.6 672.1l-7.5 -.5l-7 7.6l7.5 .7zM764.9 664.1l-7.4 -.6l-6.9 7.4l7.4 .7zM757.4 656.4l-7.4 -.7l-6.9 7l7.3 .8zM749.9 648.8l-7.2 -.7l-6.9 6.8l7.2 .7zM742.6 641.5l-7.2 -.7l-6.8 6.4l7.1 .8zM735.3 634.4l-7.1 -.8l-6.8 6.1l7.1 .9zM728.2 627.5l-7 -.8l-6.8 5.8l7 .9zM721.2 620.9l-7 -.9l-6.8 5.5l7 1zM714.3 614.4l-7 -.9l-6.7 5.2l6.9 1zM714.1 608.9l-6.9 -.9l-6.7 5l6.9 1zM707.3 602.9l-6.9 -1l-6.6 4.8l6.8 1zM707.1 597.8l-6.8 -.9l-6.6 4.5l6.8 1zM707 593l-6.8 -1l-6.6 4.4l6.7 1zM706.8 588.3l-6.7 -.9l-6.6 4.1l6.7 1zM706.7 583.9l-6.7 -.9l-6.6 3.9l6.7 1zM706.5 579.7l-6.6 -.9l-6.6 3.7l6.7 1zM706.4 575.7l-6.7 -.9l-6.5 3.5l6.7 1zM712.5 568.9l-6.6 -.8l-6.5 3.2l6.6 .9zM706.3 571.9l-6.7 -.9l-6.5 3.4l6.7 .9zM767.1 545.9l-6.6 -.2l-6.2 1.9l6.7 .3zM761.2 547.6l-6.7 -.3l-6.2 2l6.6 .4zM755.2 549.4l-6.7 -.3l-6.2 2.1l6.6 .5zM749.1 551.4l-6.6 -.5l-6.3 2.3l6.6 .5zM743.1 553.4l-6.7 -.5l-6.3 2.4l6.6 .6zM737 555.6l-6.7 -.6l-6.3 2.6l6.6 .6zM730.8 557.9l-6.6 -.6l-6.3 2.6l6.6 .7zM724.7 560.3l-6.6 -.7l-6.4 2.8l6.6 .8zM718.5 562.9l-6.6 -.8l-6.4 2.9l6.6 .8zM712.3 565.5l-6.6 -.8l-6.4 3l6.6 .9z"/><path fill=#da8d8e stroke=#da8d8e d="M856.5 776.9l-8.2 -.2l-7.4 11.3l8.3 .3zM814.6 744.5l-7.9 -.4l-7.2 10l7.9 .5zM775 713.9l-7.6 -.7l-7.1 8.9l7.6 .8zM752.2 694.7l-7.4 -.8l-7.1 8.1l7.4 .9zM715.9 667l-7.1 -1.1l-7 7l7.2 1.1zM695 649.6l-7 -1.2l-6.9 6.3l7 1.3zM674.8 633l-6.8 -1.3l-6.9 5.6l6.9 1.4zM655.2 617.1l-6.7 -1.5l-6.7 5l6.7 1.5zM648.9 610l-6.6 -1.5l-6.8 4.7l6.6 1.6zM642.6 603.1l-6.6 -1.5l-6.7 4.4l6.6 1.6zM636.3 601.8l-6.6 -1.6l-6.7 4.3l6.5 1.7zM630.2 595.1l-6.5 -1.7l-6.7 4.1l6.4 1.7zM624.1 588.6l-6.4 -1.7l-6.7 3.8l6.4 1.7zM624.3 583.7l-6.4 -1.7l-6.6 3.6l6.4 1.8zM618.2 582.2l-6.4 -1.7l-6.7 3.5l6.4 1.8zM711.2 545.3l-6.4 -.8l-6.3 1.5l6.4 .9zM618.4 577.6l-6.4 -1.7l-6.6 3.3l6.3 1.8zM693 547.4l-6.3 -1l-6.3 1.7l6.3 1.1zM618.6 573.2l-6.3 -1.7l-6.6 3.1l6.3 1.8zM612.3 576.1l-6.4 -1.7l-6.6 3.2l6.3 1.9zM680.9 548.1l-6.4 -1l-6.3 1.7l6.3 1.1zM674.8 549.7l-6.3 -1.2l-6.4 1.9l6.3 1.2zM618.9 569l-6.3 -1.7l-6.6 2.9l6.3 1.8zM612.5 571.7l-6.3 -1.7l-6.6 3l6.3 1.9zM662.6 550.4l-6.3 -1.2l-6.4 1.9l6.3 1.3zM656.5 552.1l-6.3 -1.3l-6.5 2.1l6.3 1.3zM650.3 554l-6.3 -1.4l-6.4 2.2l6.2 1.4zM625.4 562.5l-6.3 -1.6l-6.5 2.6l6.2 1.7zM619.1 565l-6.3 -1.7l-6.5 2.7l6.2 1.8zM612.8 567.5l-6.3 -1.7l-6.6 2.9l6.3 1.8z"/><path fill=#db9092 stroke=#db9092 d="M849.3 787.9l-8.2 -.3l-7.4 11.5l8.2 .4zM832.5 776.4l-8.1 -.4l-7.4 11l8.1 .5zM776 732.5l-7.7 -.7l-7.1 9.3l7.6 .8zM760.7 721.9l-7.6 -.9l-7.1 8.9l7.6 .9zM745.7 711.3l-7.4 -.9l-7.1 8.5l7.4 1zM648.4 641.2l-6.7 -1.6l-6.9 5.8l6.8 1.7zM635.6 631.7l-6.7 -1.7l-6.9 5.4l6.7 1.7zM622.9 622.2l-6.6 -1.8l-6.8 5.1l6.6 1.8zM616.5 620.6l-6.5 -1.8l-6.8 4.9l6.5 2zM604.2 611.2l-6.5 -1.9l-6.8 4.6l6.5 2zM598 609.5l-6.5 -2l-6.8 4.5l6.4 2.1zM585.9 600.1l-6.4 -2.1l-6.8 4.2l6.4 2.1zM579.8 598.2l-6.4 -2.1l-6.8 4.1l6.4 2.2zM573.6 596.3l-6.3 -2.1l-6.8 4l6.4 2.2zM567.6 594.4l-6.3 -2.2l-6.8 3.9l6.3 2.3zM561.5 592.4l-6.3 -2.3l-6.8 3.9l6.3 2.3z"/><path fill=#dd9a9b stroke=#dd9a9b d="M827.6 822l-8.2 -.6l-7.5 11.9l8.2 .7zM810.9 809.1l-8.1 -.8l-7.4 11.5l8.1 .9zM794.6 796.3l-8 -.8l-7.3 11.1l7.9 .9zM778.6 783.8l-7.8 -.9l-7.4 10.6l7.9 1zM740.2 758.3l-7.6 -1.2l-7.2 9.7l7.6 1.2zM725.3 746.2l-7.5 -1.3l-7.2 9.2l7.5 1.3zM703.5 733l-7.3 -1.3l-7.2 8.6l7.3 1.5zM682.2 719.9l-7.2 -1.6l-7.1 8.2l7.2 1.6zM661.5 706.6l-7.1 -1.7l-7 7.7l7 1.8zM641.2 693.3l-6.9 -1.8l-7.1 7.2l7 1.9zM634.5 691.6l-6.9 -1.8l-7 7.1l6.9 1.9zM608.3 676.3l-6.7 -2.1l-7 6.6l6.7 2.1zM601.8 674.4l-6.7 -2.1l-7 6.5l6.7 2.2zM595.3 672.5l-6.7 -2.2l-7 6.4l6.7 2.3zM507.5 640.2l-6.3 -2.9l-7 5.3l6.3 3zM501.4 637.5l-6.3 -2.9l-7 5.2l6.3 3zM495.4 634.8l-6.3 -3l-7 5.2l6.3 3z"/><path fill=#e0a9aa stroke=#e0a9aa d="M798.3 869.6l-8.2 -1l-7.5 12.6l8.2 1.1zM727.3 822.2l-7.6 -1.4l-7.4 10.9l7.6 1.6zM640.6 769.5l-7.2 -2l-7.2 9l7.1 2.2zM586.5 742.7l-6.9 -2.4l-7.2 8.1l6.9 2.5zM508.8 712.2l-6.5 -3.1l-7.1 7.2l6.5 3.1zM458.4 697.5l-6.3 -3.5l-7.2 6.7l6.4 3.6z"/><path fill=#e5bbbc stroke=#e5bbbc d="M761.3 932.8l-8.1 -1.5l-7.7 13.4l8.1 1.7zM737.3 914.1l-7.9 -1.6l-7.6 12.8l8 1.8zM729.6 912.6l-7.9 -1.8l-7.6 12.8l7.9 1.8zM706.4 893.8l-7.7 -1.9l-7.5 12.2l7.7 2zM698.9 892.1l-7.7 -2l-7.5 12.1l7.7 2zM669.1 871.3l-7.5 -2.1l-7.5 11.4l7.5 2.2zM661.8 869.3l-7.5 -2.1l-7.4 11.3l7.5 2.2zM618.9 843.7l-7.2 -2.4l-7.4 10.5l7.3 2.5zM611.9 841.4l-7.2 -2.5l-7.3 10.4l7.2 2.6zM605 839.1l-7.2 -2.6l-7.4 10.3l7.2 2.6zM598 836.6l-7.1 -2.6l-7.4 10.2l7.2 2.7zM484.8 788.1l-6.6 -3.5l-7.3 8.7l6.6 3.5zM478.4 784.8l-6.5 -3.5l-7.3 8.6l6.5 3.6zM472.1 781.4l-6.6 -3.5l-7.3 8.5l6.6 3.6zM433.6 772l-6.5 -3.9l-7.3 8.2l6.5 4zM427.3 768.3l-6.4 -3.9l-7.3 8.1l6.4 4zM401.8 764.6l-6.3 -4.1l-7.4 8l6.4 4.2zM395.7 760.7l-6.3 -4.2l-7.4 8l6.4 4.2zM370.4 756.1l-6.3 -4.4l-7.3 7.8l6.3 4.5z"/><path fill=#e6bfc0 stroke=#e6bfc0 d="M753.8 946l-8.1 -1.7l-7.6 13.6l8.1 1.8zM722.2 925l-7.9 -1.8l-7.6 12.8l7.9 2zM691.6 903.8l-7.7 -2l-7.5 12.2l7.6 2.1zM684.1 901.9l-7.6 -2.1l-7.6 12.1l7.7 2.2zM647.3 878.2l-7.4 -2.3l-7.5 11.4l7.5 2.4zM640.1 876l-7.4 -2.3l-7.4 11.2l7.4 2.5zM584 844l-7.1 -2.7l-7.4 10.2l7.1 2.9zM577.1 841.4l-7 -2.8l-7.4 10.2l7 2.9zM570.3 838.7l-7 -2.8l-7.4 10.1l7 2.9zM563.5 836l-7 -2.9l-7.4 10l7 3zM556.7 833.3l-7 -3l-7.3 9.9l6.9 3.1zM550 830.5l-7 -3l-7.3 9.8l6.9 3.1zM543.3 827.6l-6.9 -3l-7.4 9.7l6.9 3.1zM536.6 824.7l-6.9 -3.1l-7.3 9.7l6.8 3.1zM529.9 821.8l-6.8 -3.2l-7.3 9.6l6.8 3.2zM523.3 818.8l-6.8 -3.2l-7.3 9.4l6.8 3.3zM516.7 815.7l-6.8 -3.2l-7.3 9.3l6.8 3.4zM510.2 812.6l-6.8 -3.2l-7.3 9.2l6.7 3.4zM503.6 809.5l-6.7 -3.3l-7.3 9.1l6.7 3.5zM497.1 806.3l-6.7 -3.4l-7.3 9.1l6.7 3.5zM451.6 794.6l-6.5 -3.8l-7.3 8.7l6.5 3.9zM445.3 791l-6.5 -3.8l-7.3 8.6l6.5 3.9zM413.2 784.2l-6.4 -4l-7.3 8.4l6.4 4.1zM407 780.3l-6.3 -4.1l-7.4 8.4l6.4 4.2zM381.5 776.3l-6.3 -4.4l-7.3 8.3l6.3 4.4zM375.5 772.1l-6.3 -4.4l-7.4 8.2l6.3 4.4zM356.2 771.4l-6.2 -4.5l-7.4 8.1l6.3 4.6zM350.2 767.1l-6.2 -4.6l-7.4 8l6.3 4.7z"/><path fill=#e7c3c4 stroke=#e7c3c4 d="M746.4 959.3l-8.1 -1.8l-7.7 13.7l8.1 1.9zM714.8 937.6l-7.9 -2l-7.6 13.1l7.9 2zM676.8 913.7l-7.7 -2.1l-7.5 12.2l7.6 2.3zM632.9 887l-7.4 -2.4l-7.5 11.4l7.4 2.5zM625.7 884.7l-7.3 -2.5l-7.5 11.3l7.3 2.6zM618.6 882.3l-7.3 -2.6l-7.5 11.2l7.3 2.7zM463.6 813.8l-6.6 -3.7l-7.3 9.1l6.6 3.8zM457.2 810.2l-6.5 -3.7l-7.4 9l6.6 3.9zM418.6 800.2l-6.5 -4l-7.3 8.7l6.4 4.2zM386.7 792.6l-6.3 -4.3l-7.4 8.5l6.4 4.4zM355.2 783.7l-6.3 -4.6l-7.3 8.4l6.2 4.6z"/><path fill=#e9c7c8 stroke=#e9c7c8 d="M738.9 972.7l-8.1 -1.9l-7.7 13.9l8.1 2zM699.7 948.4l-7.8 -2.1l-7.6 13.1l7.8 2.2zM654.7 921.3l-7.6 -2.4l-7.5 12.3l7.5 2.4zM590.2 885.5l-7.2 -2.9l-7.5 11.1l7.2 2.9zM583.2 882.8l-7.2 -2.9l-7.4 11l7.2 3zM502 846.8l-6.8 -3.5l-7.4 9.9l6.8 3.5zM495.4 843.5l-6.8 -3.6l-7.4 9.8l6.8 3.6zM488.8 840.1l-6.7 -3.6l-7.4 9.8l6.8 3.6zM366.4 805l-6.4 -4.5l-7.4 8.7l6.4 4.6z"/><path fill=#eacccc stroke=#eacccc d="M731.4 986.3l-8.1 -2l-7.7 14.1l8 2.1zM692.3 961.2l-7.8 -2.2l-7.6 13.3l7.8 2.3z"/><path fill=#ebd0d1 stroke=#ebd0d1 d="M723.8 1000.1l-8 -2.1l-7.7 14.2l8 2.2zM684.9 974.2l-7.8 -2.3l-7.7 13.4l7.8 2.4zM677.3 972l-7.8 -2.4l-7.6 13.3l7.8 2.5zM632.7 942.9l-7.5 -2.7l-7.6 12.5l7.5 2.7zM625.4 940.4l-7.5 -2.7l-7.5 12.3l7.4 2.8zM618.1 937.8l-7.4 -2.8l-7.5 12.3l7.4 2.8zM460.9 865.2l-6.7 -3.9l-7.4 10.1l6.6 3.9zM454.4 861.5l-6.7 -3.9l-7.4 9.9l6.7 4zM408.9 847.5l-6.5 -4.3l-7.4 9.6l6.5 4.4zM376.7 839.8l-6.4 -4.5l-7.4 9.4l6.4 4.6zM344.9 830.9l-6.3 -4.8l-7.4 9.2l6.3 4.9zM319.5 825.6l-6.3 -4.9l-7.4 9l6.3 5.1z"/><path fill=#edd5d5 stroke=#edd5d5 d="M716.3 1014l-8 -2.2l-7.8 14.4l8 2.3zM610.8 949.7l-7.4 -2.8l-7.6 12.4l7.4 2.9zM473.3 886.1l-6.8 -3.8l-7.4 10.5l6.7 3.9z"/><path fill=#eed9da stroke=#eed9da d="M708.7 1028.1l-8 -2.3l-7.7 14.5l8 2.4zM662.4 998.2l-7.7 -2.6l-7.7 13.6l7.7 2.7zM589.1 956.1l-7.3 -3l-7.6 12.3l7.3 3.2zM582 953.2l-7.3 -3.1l-7.5 12.2l7.2 3.2zM574.9 950.2l-7.2 -3.1l-7.6 12.1l7.3 3.3zM499.2 914.4l-6.9 -3.6l-7.5 11l6.9 3.8zM492.5 910.9l-6.8 -3.7l-7.5 11l6.9 3.8zM485.9 907.3l-6.9 -3.7l-7.4 10.9l6.8 3.8zM426.4 887l-6.6 -4.2l-7.5 10.3l6.6 4.3zM381.1 871.5l-6.5 -4.5l-7.4 9.9l6.4 4.6zM349 863l-6.4 -4.8l-7.4 9.7l6.4 4.9zM323.4 858.1l-6.3 -5l-7.5 9.6l6.3 5.1zM297.9 852.5l-6.2 -5.2l-7.5 9.4l6.3 5.4z"/><path fill=#f0dedf stroke=#f0dedf d="M701.2 1042.3l-8.1 -2.4l-7.7 14.7l8 2.5zM647.4 1008.9l-7.7 -2.7l-7.6 13.6l7.6 2.9zM438.5 909.3l-6.7 -4.2l-7.4 10.7l6.7 4.3zM392.8 894.4l-6.5 -4.5l-7.5 10.3l6.5 4.6z"/><path fill=#f2e3e3 stroke=#f2e3e3 d="M693.6 1056.7l-8 -2.5l-7.8 14.8l8 2.7zM639.9 1022.3l-7.6 -2.9l-7.7 13.9l7.6 2.9zM632.5 1019.6l-7.7 -2.9l-7.6 13.7l7.6 3zM444.3 927.8l-6.7 -4.2l-7.5 11.1l6.7 4.3zM391.9 908.9l-6.5 -4.6l-7.5 10.6l6.5 4.7zM359.5 901l-6.5 -4.9l-7.5 10.4l6.5 4.9zM327.4 891.8l-6.4 -5.1l-7.5 10.2l6.4 5.1z"/><path fill=#f3e8e8 stroke=#f3e8e8 d="M686 1071.3l-8 -2.7l-7.8 15.1l8 2.7zM625 1033l-7.6 -3l-7.7 13.9l7.6 3.1zM617.6 1030.1l-7.6 -3.1l-7.7 13.8l7.6 3.2zM463.5 954.7l-6.9 -4.1l-7.5 11.6l6.8 4.1zM456.8 950.7l-6.8 -4.1l-7.5 11.5l6.8 4.2zM403.9 932.5l-6.7 -4.6l-7.5 11l6.7 4.6zM364.8 920.4l-6.5 -4.8l-7.5 10.7l6.5 4.9z"/><path fill=#f5eded stroke=#f5eded d="M678.3 1086l-7.9 -2.7l-7.8 15.1l7.9 2.9zM670.6 1083.3l-7.9 -2.8l-7.8 15.1l7.9 2.9zM610.1 1043.6l-7.6 -3.2l-7.7 14l7.6 3.2zM602.7 1040.5l-7.5 -3.2l-7.7 13.9l7.5 3.3zM595.4 1037.4l-7.5 -3.2l-7.7 13.7l7.5 3.4zM588.1 1034.3l-7.4 -3.3l-7.7 13.6l7.4 3.4zM483 981.7l-7 -4l-7.5 12.1l6.9 4.1zM476.3 977.8l-7 -4l-7.5 12l6.9 4.1zM469.5 973.9l-6.9 -4.1l-7.5 12l6.9 4.1zM409.5 952l-6.7 -4.5l-7.5 11.3l6.7 4.6z"/><path fill=#d0494d stroke=#d0494d d="M1052.5 523.3l-8.6 2.4l-6.5 6.5l8.6 -2.4zM1050.6 519.9l-8.6 2.4l-6.4 6.2l8.5 -2.3zM1055 511.1l-8.6 2.6l-6.4 5.8l8.6 -2.5zM1053 508.4l-8.5 2.5l-6.3 5.6l8.5 -2.4zM1057.3 500.9l-8.5 2.6l-6.2 5.2l8.4 -2.5zM1061.5 494.2l-8.5 2.7l-6.2 4.8l8.5 -2.6z"/><path fill=#d46367 stroke=#d46367 d="M960.3 623.9l-8.4 1.2l-7 8.7l8.4 -1.2zM933.6 579.7l-8 1.2l-6.7 6.5l8 -1zM932.3 575l-7.9 1.1l-6.6 6.4l7.9 -1.1zM933.7 553.2l-7.9 1.3l-6.4 5.3l7.8 -1.2zM937.4 542.2l-7.8 1.3l-6.3 4.7l7.7 -1.2zM942.3 535.3l-7.8 1.4l-6.3 4.4l7.8 -1.4zM947.1 529.2l-7.8 1.5l-6.2 4l7.8 -1.4z"/><path fill=#d56f71 stroke=#d56f71 d="M926 667.3l-8.3 .8l-7.1 9.4l8.3 -.7zM906.4 645.9l-8.1 .7l-7 8.5l8.1 -.6zM896.3 632.7l-8 .6l-6.9 7.9l8 -.5zM886.5 620.4l-7.9 .6l-6.8 7.4l7.9 -.5zM875 598.2l-7.8 .5l-6.7 6.4l7.8 -.5zM870.2 574.7l-7.5 .6l-6.5 5.3l7.5 -.6zM873.7 559.1l-7.4 .7l-6.4 4.4l7.4 -.6zM879 552l-7.5 .8l-6.3 4.1l7.4 -.7zM884.1 545.7l-7.4 .9l-6.3 3.7l7.5 -.7z"/><path fill=#da8b8c stroke=#da8b8c d="M855.7 766l-8.3 -.1l-7.3 11l8.2 .3zM830.2 745l-8 -.3l-7.3 10.2l8 .4zM766.7 695.9l-7.5 -.7l-7.1 8.3l7.5 .8zM736.9 669.4l-7.3 -.9l-6.9 7.2l7.2 1zM715.5 652.4l-7.1 -1l-6.9 6.5l7.1 1.1zM688 628.8l-6.9 -1.2l-6.8 5.6l6.9 1.2zM681.3 621.7l-6.8 -1.3l-6.8 5.3l6.8 1.3zM674.7 614.7l-6.7 -1.3l-6.8 5l6.8 1.4zM668.2 608l-6.7 -1.3l-6.7 4.7l6.7 1.4zM661.8 601.5l-6.6 -1.4l-6.7 4.4l6.6 1.5zM655.6 590.2l-6.6 -1.4l-6.6 4l6.5 1.4zM649.5 579.8l-6.5 -1.4l-6.6 3.5l6.5 1.4zM735.7 545.2l-6.5 -.6l-6.2 1.6l6.5 .6zM649.6 575.5l-6.4 -1.4l-6.6 3.3l6.4 1.5zM717.5 547.6l-6.5 -.7l-6.2 1.8l6.4 .8zM711.5 549.2l-6.5 -.8l-6.3 1.9l6.5 .9zM656 568.6l-6.4 -1.3l-6.6 3l6.4 1.4zM693.1 552l-6.4 -.9l-6.3 2l6.4 1.1zM687 553.9l-6.4 -1l-6.4 2.1l6.4 1.1zM680.9 555.9l-6.4 -1.1l-6.4 2.3l6.4 1.1zM674.7 558l-6.4 -1.2l-6.4 2.4l6.4 1.2zM668.5 560.2l-6.4 -1.2l-6.4 2.5l6.4 1.3zM662.3 562.5l-6.4 -1.3l-6.5 2.7l6.4 1.3zM656.1 565l-6.4 -1.4l-6.5 2.8l6.4 1.4z"/><path fill=#db9193 stroke=#db9193 d="M841.3 787.7l-8.2 -.3l-7.4 11.3l8.2 .5zM824.6 776.1l-8.1 -.5l-7.3 10.9l8 .6zM768.6 731.9l-7.7 -.8l-7.2 9.2l7.7 .9zM753.4 721.1l-7.6 -.9l-7.1 8.9l7.5 .9zM738.5 710.5l-7.4 -1l-7.1 8.4l7.4 1.1zM723.9 700.1l-7.3 -1.1l-7.1 7.9l7.3 1.2zM709.6 689.7l-7.2 -1.2l-7.1 7.6l7.2 1.3zM695.5 679.5l-7.1 -1.3l-7 7.2l7.1 1.4zM681.7 669.4l-7 -1.4l-6.9 6.8l7 1.5zM668.2 659.4l-6.9 -1.5l-6.9 6.5l6.9 1.5zM648.4 648.2l-6.8 -1.6l-6.9 5.9l6.8 1.7zM635.4 638.3l-6.7 -1.7l-6.9 5.6l6.7 1.8zM616.3 627l-6.6 -1.8l-6.8 5.1l6.6 1.9zM597.7 615.6l-6.5 -2l-6.8 4.7l6.4 2.1zM591.4 613.8l-6.4 -2.1l-6.9 4.7l6.5 2.1zM585.2 611.9l-6.4 -2.1l-6.9 4.6l6.5 2.2z"/><path fill=#dc9596 stroke=#dc9596 d="M834.1 798.8l-8.2 -.5l-7.4 11.6l8.2 .6zM817.4 786.7l-8 -.5l-7.4 11l8.1 .7zM801.1 774.8l-7.9 -.7l-7.3 10.7l7.9 .7zM785.2 763.1l-7.9 -.8l-7.2 10.2l7.8 .8zM769.5 751.5l-7.7 -.9l-7.2 9.8l7.7 .9zM754.2 740.1l-7.6 -1l-7.2 9.3l7.6 1.1zM717.3 716.7l-7.4 -1.2l-7.1 8.4l7.4 1.3zM702.9 705.6l-7.2 -1.3l-7.1 8l7.3 1.4zM688.9 694.7l-7.2 -1.4l-7 7.6l7.1 1.5zM668.3 682.6l-7 -1.5l-7 7.1l7 1.6zM648.1 670.4l-6.8 -1.7l-7 6.7l6.9 1.7zM628.5 658.1l-6.8 -1.8l-6.9 6.2l6.7 1.9zM609.2 645.8l-6.6 -2l-6.9 5.7l6.6 2.1zM602.8 644l-6.6 -2l-6.9 5.6l6.6 2.1zM596.5 642.2l-6.6 -2.1l-6.9 5.5l6.5 2.2zM565.4 625.4l-6.4 -2.3l-6.9 4.9l6.4 2.4zM559.2 623.3l-6.3 -2.4l-6.9 4.9l6.4 2.4zM553.1 621.1l-6.4 -2.4l-6.9 4.8l6.4 2.5zM546.9 618.9l-6.3 -2.5l-6.9 4.8l6.4 2.5zM540.8 616.6l-6.3 -2.5l-6.9 4.7l6.3 2.6z"/><path fill=#dd9b9d stroke=#dd9b9d d="M819.6 821.5l-8.2 -.7l-7.4 11.8l8.1 .8zM601.5 682.6l-6.7 -2.1l-7 6.7l6.7 2.2zM500.8 645.3l-6.3 -3l-7 5.5l6.3 3z"/><path fill=#e0a6a7 stroke=#e0a6a7 d="M797.7 856.7l-8.1 -1l-7.6 12.3l8.2 1.1zM773.5 841.3l-8 -1.1l-7.4 11.7l8 1.3zM757.6 827l-7.8 -1.2l-7.5 11.3l7.9 1.3zM750 825.9l-7.8 -1.3l-7.4 11.2l7.8 1.4zM734.5 811.8l-7.7 -1.4l-7.4 10.8l7.7 1.4zM727 810.5l-7.6 -1.4l-7.4 10.7l7.7 1.5zM704.6 795.1l-7.5 -1.5l-7.3 10.1l7.5 1.7zM682.8 779.7l-7.3 -1.7l-7.3 9.6l7.4 1.8zM675.7 778.2l-7.3 -1.8l-7.3 9.5l7.3 1.9zM654.5 762.6l-7.2 -1.9l-7.2 9l7.2 2zM647.6 760.9l-7.2 -2l-7.2 8.9l7.2 2.1zM640.6 759.1l-7.1 -2l-7.2 8.8l7.1 2.1zM613.5 741.3l-7 -2.2l-7.1 8.2l6.9 2.3zM606.7 739.2l-6.9 -2.2l-7.1 8.1l6.9 2.4zM600.1 737.1l-6.9 -2.3l-7.2 8.1l6.9 2.4zM593.4 735l-6.9 -2.4l-7.1 8l6.8 2.5zM503.1 699.8l-6.4 -3l-7.2 6.8l6.5 3.1zM496.9 696.9l-6.4 -3.1l-7.2 6.8l6.5 3.2zM490.7 694l-6.4 -3.1l-7.2 6.6l6.5 3.3zM484.5 691.1l-6.4 -3.3l-7.1 6.6l6.4 3.3zM459.2 688l-6.3 -3.4l-7.2 6.4l6.4 3.5zM453.1 684.8l-6.3 -3.5l-7.1 6.4l6.3 3.5zM447 681.5l-6.2 -3.5l-7.2 6.3l6.3 3.6z"/><path fill=#e5b8b9 stroke=#e5b8b9 d="M760.8 918.5l-8.1 -1.5l-7.6 13.2l8.1 1.6zM698.7 878.7l-7.7 -1.8l-7.5 11.8l7.7 1.9zM661.8 856.5l-7.5 -2.1l-7.4 11.1l7.4 2.2zM619.1 831.5l-7.2 -2.4l-7.4 10.2l7.2 2.5zM612.1 829.2l-7.2 -2.5l-7.3 10.2l7.1 2.5zM479.1 773.3l-6.6 -3.4l-7.2 8.3l6.5 3.6zM472.8 770l-6.6 -3.5l-7.3 8.3l6.6 3.6zM434.4 760.5l-6.4 -3.8l-7.3 8l6.4 3.9zM428.2 756.9l-6.4 -3.9l-7.3 7.9l6.4 4zM402.7 753.1l-6.3 -4.1l-7.3 7.8l6.3 4.2zM371.4 744.5l-6.2 -4.3l-7.3 7.6l6.2 4.4z"/><path fill=#eacccd stroke=#eacccd d="M723.5 984.4l-8 -2l-7.7 13.9l8 2.2zM684.7 959.1l-7.7 -2.3l-7.7 13.2l7.8 2.4zM640 930.9l-7.5 -2.6l-7.5 12.3l7.4 2.7zM632.7 928.5l-7.5 -2.6l-7.5 12.1l7.5 2.7zM455.1 848.3l-6.6 -3.9l-7.4 9.7l6.6 4zM448.7 844.6l-6.7 -4l-7.3 9.7l6.6 4zM409.8 834.3l-6.5 -4.2l-7.4 9.3l6.5 4.3zM403.5 830.2l-6.5 -4.2l-7.4 9.2l6.5 4.4zM371.5 822.3l-6.4 -4.6l-7.4 9.1l6.4 4.6zM346 817.6l-6.3 -4.7l-7.4 8.9l6.3 4.8zM320.6 812.3l-6.2 -5l-7.4 8.8l6.2 5.1z"/><path fill=#edd5d6 stroke=#edd5d6 d="M708.5 1011.9l-8 -2.3l-7.8 14.3l8 2.4zM669.9 985l-7.8 -2.5l-7.6 13.5l7.7 2.5zM662.3 982.6l-7.7 -2.5l-7.6 13.3l7.7 2.7zM603.6 947l-7.4 -2.9l-7.5 12.3l7.3 3zM596.4 944.2l-7.3 -2.9l-7.5 12.2l7.3 3zM589.3 941.4l-7.3 -3l-7.5 12.1l7.3 3.1zM493.1 896.8l-6.9 -3.6l-7.4 10.7l6.8 3.8zM486.5 893.3l-6.9 -3.7l-7.4 10.6l6.8 3.9zM479.8 889.7l-6.8 -3.7l-7.4 10.5l6.8 3.9zM420.8 869.1l-6.6 -4.2l-7.4 10l6.5 4.3zM382 857.7l-6.4 -4.5l-7.5 9.7l6.5 4.6zM350 849.1l-6.3 -4.8l-7.5 9.5l6.4 4.9zM324.5 844.1l-6.3 -5l-7.5 9.4l6.3 5.1zM299.1 838.4l-6.2 -5.2l-7.5 9.3l6.2 5.3z"/><path fill=#efdadb stroke=#efdadb d="M700.9 1025.9l-8 -2.4l-7.7 14.4l8 2.5zM647.4 993.2l-7.7 -2.7l-7.6 13.4l7.6 2.8zM439.3 895l-6.7 -4.1l-7.5 10.5l6.7 4.2zM393.7 880.2l-6.5 -4.5l-7.5 10.1l6.5 4.6zM329.5 862.9l-6.3 -5l-7.5 9.7l6.3 5.1zM304 857.5l-6.3 -5.2l-7.5 9.6l6.3 5.3zM278.7 851.4l-6.2 -5.4l-7.5 9.4l6.2 5.5z"/><path fill=#f0dfdf stroke=#f0dfdf d="M693.3 1040l-7.9 -2.5l-7.8 14.6l8 2.6zM639.9 1006.3l-7.6 -2.8l-7.7 13.6l7.7 2.8zM445.1 913.2l-6.8 -4.1l-7.4 10.8l6.7 4.2zM360.4 886.4l-6.4 -4.8l-7.5 10.2l6.5 4.8zM328.4 877.2l-6.3 -5l-7.5 9.9l6.4 5.1zM302.9 871.9l-6.3 -5.2l-7.5 9.8l6.3 5.3z"/><path fill=#f2e4e4 stroke=#f2e4e4 d="M685.8 1054.3l-8 -2.6l-7.7 14.8l7.9 2.6zM617.7 1013.9l-7.6 -3l-7.6 13.6l7.5 3zM464.1 939.6l-6.8 -4l-7.5 11.3l6.8 4.2zM457.5 935.7l-6.8 -4l-7.5 11.2l6.8 4.2zM404.7 917.6l-6.6 -4.5l-7.5 10.8l6.6 4.5zM365.7 905.6l-6.5 -4.8l-7.4 10.4l6.4 4.9zM333.5 896.7l-6.4 -5.1l-7.4 10.3l6.4 5.1z"/><path fill=#f3e8e9 stroke=#f3e8e9 d="M678.2 1068.7l-7.9 -2.7l-7.8 14.9l7.9 2.9zM610.2 1027.2l-7.5 -3.1l-7.7 13.6l7.5 3.2zM470.1 958.6l-6.8 -4.1l-7.6 11.7l6.9 4.1z"/><path fill=#d04b4f stroke=#d04b4f d="M1044.2 525.8l-8.5 2.4l-6.5 6.4l8.5 -2.3zM1042.3 522.4l-8.5 2.4l-6.4 6.1l8.5 -2.3zM1046.8 513.7l-8.5 2.5l-6.4 5.7l8.5 -2.3zM1044.9 511l-8.5 2.5l-6.3 5.5l8.4 -2.4zM1049.2 503.6l-8.5 2.5l-6.2 5.2l8.4 -2.5zM1053.4 497l-8.4 2.6l-6.2 4.7l8.4 -2.5z"/><path fill=#d36366 stroke=#d36366 d="M958.9 617.1l-8.4 1.3l-6.9 8.4l8.4 -1.2zM946.7 599.8l-8.2 1.2l-6.8 7.6l8.2 -1.1zM935 556.9l-7.9 1.2l-6.5 5.5l7.9 -1.2zM938.7 545.2l-7.8 1.3l-6.4 4.9l7.8 -1.2zM953.1 525.6l-7.7 1.5l-6.2 3.9l7.8 -1.5z"/><path fill=#d56e70 stroke=#d56e70 d="M924.8 659.3l-8.3 .8l-7.1 9.2l8.3 -.8zM883.5 602.8l-7.8 .6l-6.8 6.7l7.8 -.6zM876.6 569.8l-7.6 .7l-6.5 5.1l7.6 -.6z"/><path fill=#d57073 stroke=#d57073 d="M917.9 668.2l-8.3 .7l-7.1 9.3l8.3 -.6zM908.7 661l-8.2 .7l-7.1 9l8.2 -.6zM898.5 646.7l-8.1 .6l-7 8.4l8.1 -.5zM888.6 633.4l-8 .6l-6.9 7.9l8 -.5zM878.9 621.2l-7.9 .5l-6.8 7.3l7.8 -.5zM869.4 609.9l-7.8 .5l-6.7 6.7l7.7 -.4zM868.4 604.3l-7.7 .5l-6.7 6.5l7.7 -.4zM867.5 598.9l-7.7 .5l-6.7 6.3l7.7 -.5zM863 575.5l-7.5 .5l-6.6 5.2l7.5 -.5zM862.1 571.4l-7.5 .6l-6.5 5l7.5 -.5zM861.2 567.7l-7.4 .5l-6.5 4.8l7.4 -.5zM866.6 559.9l-7.4 .6l-6.4 4.5l7.4 -.6zM871.8 552.9l-7.3 .7l-6.4 4.1l7.4 -.6zM877 546.7l-7.3 .8l-6.3 3.7l7.4 -.7zM894.2 535.3l-7.4 1l-6.1 3.1l7.4 -.9zM888.2 538.2l-7.4 .9l-6.1 3.2l7.3 -.8z"/><path fill=#d67375 stroke=#d67375 d="M911 677.2l-8.3 .6l-7.1 9.6l8.3 -.6zM901.8 669.7l-8.2 .6l-7.1 9.2l8.2 -.5zM882.8 648.1l-8 .5l-6.9 8.2l8 -.4zM854.5 611.1l-7.7 .3l-6.7 6.6l7.6 -.3zM853.6 605.5l-7.6 .3l-6.7 6.4l7.6 -.3zM847.8 572.8l-7.4 .4l-6.5 4.8l7.4 -.3zM847 569l-7.4 .4l-6.5 4.6l7.4 -.3zM863 548.5l-7.3 .6l-6.3 3.6l7.3 -.5zM880.2 537.5l-7.3 .8l-6.1 3l7.3 -.8zM874.2 540.2l-7.3 .8l-6.1 3.1l7.2 -.7z"/><path fill=#da898a stroke=#da898a d="M854.8 755.5l-8.2 -.2l-7.4 10.8l8.2 .3zM829.4 735.1l-8 -.3l-7.2 10l8 .4zM773.5 688.1l-7.5 -.6l-7 8.1l7.5 .7zM743.6 662.5l-7.3 -.8l-6.9 7.1l7.3 .9zM687.7 605.6l-6.8 -1.1l-6.7 4.7l6.8 1.2zM681.1 594.4l-6.7 -1.1l-6.6 4.2l6.6 1.3zM681 572.6l-6.6 -1.1l-6.5 3.2l6.5 1.2zM742.2 547.2l-6.5 -.5l-6.3 1.8l6.6 .6zM736.2 548.8l-6.6 -.6l-6.2 2l6.5 .6zM687.2 566.1l-6.5 -1l-6.5 2.9l6.5 1.1zM680.9 568.9l-6.5 -1.2l-6.5 3.1l6.5 1.2zM705.6 555.9l-6.5 -.8l-6.3 2.4l6.4 .9zM699.5 558.1l-6.5 -.9l-6.4 2.5l6.5 1z"/><path fill=#db8f91 stroke=#db8f91 d="M840.5 776.6l-8.2 -.3l-7.4 11.1l8.2 .4zM823.8 765.4l-8 -.5l-7.3 10.7l8 .5zM783.5 733.1l-7.7 -.7l-7.2 9.4l7.7 .8zM768.1 722.5l-7.6 -.8l-7.2 9l7.6 .9zM730.7 692.5l-7.3 -1l-7 7.8l7.3 1.1zM716.3 682.5l-7.2 -1.1l-7 7.5l7.2 1.2zM702.3 672.7l-7.1 -1.2l-7 7l7.1 1.3zM688.5 663l-7.1 -1.3l-6.9 6.7l7 1.3zM674.9 653.4l-6.9 -1.4l-6.9 6.3l6.9 1.5zM668.2 645.2l-6.9 -1.5l-6.8 6l6.8 1.5zM661.6 643.9l-6.8 -1.5l-6.9 5.9l6.8 1.6zM655.1 635.9l-6.8 -1.6l-6.9 5.7l6.8 1.6zM648.5 634.5l-6.7 -1.6l-6.9 5.6l6.8 1.6zM642.1 626.7l-6.6 -1.6l-6.9 5.2l6.7 1.7zM635.7 625.2l-6.7 -1.6l-6.8 5.1l6.7 1.8zM629.5 617.6l-6.6 -1.7l-6.8 4.9l6.5 1.7zM623.1 616.1l-6.6 -1.8l-6.8 4.8l6.6 1.8zM610.7 607l-6.5 -1.9l-6.7 4.5l6.4 1.9zM604.5 605.3l-6.5 -1.9l-6.8 4.4l6.5 2zM598.6 598l-6.4 -2l-6.8 4.2l6.4 2zM592.4 596.3l-6.4 -2l-6.7 4l6.3 2.1zM586.3 594.5l-6.4 -2.1l-6.7 4l6.3 2.1zM580.5 587.3l-6.3 -2.1l-6.7 3.7l6.3 2.1zM698.9 542.4l-6.3 -.8l-6.2 1.2l6.3 .9zM574.5 585.4l-6.3 -2.1l-6.7 3.6l6.2 2.2z"/><path fill=#de9c9e stroke=#de9c9e d="M811.6 820.9l-8.1 -.7l-7.5 11.7l8.2 .9zM755.9 781.3l-7.8 -1.1l-7.3 10.3l7.8 1.2zM696.5 741.4l-7.3 -1.4l-7.1 8.8l7.3 1.6zM647.8 712.4l-7 -1.8l-7.1 7.8l7 1.9zM562.9 670.1l-6.5 -2.4l-7 6.2l6.5 2.5zM556.6 667.8l-6.5 -2.5l-7.1 6.2l6.6 2.6zM550.3 665.5l-6.5 -2.5l-7 6.1l6.5 2.6zM544 663.2l-6.5 -2.6l-7 6l6.5 2.6zM537.8 660.8l-6.5 -2.7l-7 5.9l6.4 2.8z"/><path fill=#ecd2d2 stroke=#ecd2d2 d="M708.2 996l-8 -2.2l-7.7 14l8 2.3zM662.2 967.4l-7.6 -2.5l-7.6 13.1l7.6 2.6zM589.5 927l-7.2 -3l-7.6 11.9l7.3 3zM493.7 883.1l-6.9 -3.7l-7.4 10.6l6.8 3.7z"/><path fill=#efdbdb stroke=#efdbdb d="M693.1 1023.6l-7.9 -2.4l-7.7 14.3l7.9 2.5zM639.9 990.6l-7.6 -2.8l-7.6 13.3l7.6 2.9zM445.8 898.9l-6.7 -4l-7.5 10.5l6.7 4.2zM361.4 872.2l-6.4 -4.8l-7.5 9.9l6.4 4.8z"/><path fill=#f0dfe0 stroke=#f0dfe0 d="M685.6 1037.6l-7.9 -2.5l-7.8 14.5l7.9 2.6zM632.5 1003.6l-7.6 -2.8l-7.7 13.4l7.6 3zM625.1 1000.9l-7.6 -2.9l-7.6 13.3l7.6 3zM451.6 917.2l-6.8 -4.1l-7.4 10.9l6.7 4.2zM399.2 898.7l-6.6 -4.4l-7.5 10.4l6.6 4.5zM334.6 882.1l-6.4 -5l-7.5 10l6.4 5z"/><path fill=#f2e4e5 stroke=#f2e4e5 d="M678 1051.8l-7.9 -2.6l-7.7 14.6l7.9 2.7zM610.3 1011.1l-7.5 -3.1l-7.6 13.4l7.5 3.2zM603 1008.1l-7.5 -3.1l-7.6 13.3l7.5 3.2zM470.8 943.5l-6.9 -4l-7.5 11.4l6.8 4.1zM411.1 921.9l-6.6 -4.5l-7.5 10.9l6.6 4.5z"/><path fill=#f4e9e9 stroke=#f4e9e9 d="M670.5 1066.1l-7.9 -2.7l-7.8 14.8l7.9 2.8zM602.9 1024.2l-7.5 -3.2l-7.7 13.6l7.5 3.2zM595.6 1021.1l-7.5 -3.2l-7.6 13.5l7.4 3.3zM588.3 1018.1l-7.4 -3.3l-7.7 13.4l7.5 3.3zM490.3 970l-6.9 -3.9l-7.6 12l7 4zM483.6 966.2l-7 -3.9l-7.5 11.9l6.9 4zM476.8 962.4l-6.9 -4l-7.5 11.8l6.9 4.1zM416.8 941.1l-6.7 -4.4l-7.5 11.1l6.7 4.5zM410.3 936.8l-6.6 -4.5l-7.5 11.1l6.6 4.6zM371.1 925.1l-6.5 -4.8l-7.5 10.7l6.5 4.9z"/><path fill=#f5eeee stroke=#f5eeee d="M662.9 1080.6l-7.9 -2.8l-7.8 14.9l7.9 3zM580.9 1031.1l-7.4 -3.3l-7.7 13.5l7.4 3.4zM573.7 1027.9l-7.4 -3.4l-7.7 13.4l7.4 3.5zM566.5 1024.6l-7.4 -3.4l-7.6 13.3l7.3 3.5zM559.3 1021.3l-7.3 -3.5l-7.6 13.2l7.3 3.6zM552.2 1017.9l-7.2 -3.5l-7.7 13.1l7.3 3.6zM545.2 1014.5l-7.3 -3.6l-7.6 13l7.2 3.7zM538.1 1011l-7.2 -3.6l-7.6 12.9l7.2 3.7zM531.1 1007.5l-7.2 -3.7l-7.6 12.8l7.2 3.8zM524.1 1004l-7.1 -3.8l-7.6 12.7l7.1 3.9zM517.2 1000.4l-7.1 -3.8l-7.6 12.6l7.1 3.9zM510.3 996.7l-7.1 -3.8l-7.6 12.5l7.1 3.9zM503.4 993l-7 -3.8l-7.6 12.4l7.1 3.9zM496.6 989.3l-7 -3.9l-7.6 12.3l7 4zM422.5 960.6l-6.7 -4.4l-7.5 11.5l6.7 4.5zM416 956.3l-6.7 -4.5l-7.5 11.5l6.7 4.5z"/><path fill=#d2595c stroke=#d2595c d="M990.7 573.6l-8.4 1.7l-6.7 7.4l8.4 -1.6zM993.9 520.1l-8.1 2l-6.2 4.6l8.1 -1.8z"/><path fill=#d56b6d stroke=#d56b6d d="M930.4 643l-8.3 .9l-7 8.8l8.3 -.8z"/><path fill=#d67174 stroke=#d67174 d="M909.8 669l-8.2 .6l-7.1 9.3l8.3 -.6zM890.7 647.4l-8.1 .6l-7 8.3l8.1 -.4zM871.3 621.8l-7.9 .5l-6.8 7.2l7.8 -.4zM861 604.9l-7.7 .4l-6.7 6.5l7.7 -.4zM854.9 572.1l-7.4 .5l-6.5 4.9l7.4 -.4zM859.5 560.7l-7.4 .6l-6.4 4.3l7.3 -.5zM870 547.6l-7.3 .7l-6.3 3.7l7.3 -.6zM887.2 536.4l-7.3 .9l-6.2 3.1l7.4 -.9z"/><path fill=#db8d8f stroke=#db8d8f d="M839.7 765.8l-8.2 -.3l-7.3 10.9l8.1 .4zM798.6 734l-7.8 -.6l-7.2 9.6l7.8 .7zM783 723.6l-7.7 -.6l-7.2 9.1l7.7 .8zM759.8 703.9l-7.5 -.8l-7 8.5l7.5 .8zM745 694l-7.4 -.9l-7 8.1l7.3 .9zM723.1 675.5l-7.2 -1l-7 7.3l7.2 1.1zM702 657.7l-7.1 -1.1l-6.9 6.6l7 1.2zM688.3 648.6l-7 -1.3l-6.9 6.3l7 1.3zM668.2 631.9l-6.8 -1.4l-6.8 5.5l6.8 1.5zM655.2 623.1l-6.7 -1.5l-6.8 5.2l6.7 1.6zM648.8 615.8l-6.7 -1.5l-6.7 4.9l6.6 1.6zM636.1 607.3l-6.5 -1.6l-6.8 4.5l6.6 1.7zM630 600.4l-6.5 -1.7l-6.8 4.3l6.5 1.7zM623.9 593.6l-6.5 -1.7l-6.7 4l6.5 1.8zM617.7 592.1l-6.4 -1.7l-6.8 3.9l6.5 1.8zM617.9 587.1l-6.4 -1.8l-6.7 3.8l6.4 1.8zM611.7 585.6l-6.3 -1.8l-6.7 3.6l6.4 1.9zM717.2 544l-6.4 -.7l-6.2 1.5l6.3 .7zM612 580.7l-6.3 -1.7l-6.7 3.4l6.3 1.9zM705.1 544.7l-6.4 -.8l-6.2 1.5l6.3 .9zM605.9 579.2l-6.3 -1.9l-6.7 3.4l6.3 1.9zM686.9 546.7l-6.3 -1l-6.3 1.6l6.3 1.1zM606.2 574.6l-6.3 -1.8l-6.7 3.2l6.3 1.8zM674.8 547.3l-6.3 -1.1l-6.3 1.7l6.2 1.1zM668.7 548.8l-6.3 -1.2l-6.4 1.8l6.3 1.3zM606.5 570.2l-6.3 -1.8l-6.6 3l6.2 1.9zM600.1 573l-6.3 -1.9l-6.6 3.1l6.3 2z"/><path fill=#dc9495 stroke=#dc9495 d="M825.3 787.1l-8.1 -.5l-7.4 11.2l8.2 .6zM808.9 775.3l-8 -.6l-7.3 10.7l8 .7zM792.8 763.7l-7.9 -.7l-7.2 10.2l7.8 .8zM777 752.2l-7.7 -.8l-7.2 9.8l7.7 .9zM761.6 740.9l-7.6 -.9l-7.2 9.4l7.6 .9zM746.4 729.7l-7.5 -1l-7.1 9l7.5 1zM731.6 718.7l-7.4 -1.1l-7.1 8.5l7.4 1.2zM695.8 695.9l-7.2 -1.3l-7 7.6l7.2 1.4zM681.9 685.2l-7.1 -1.4l-7 7.2l7.1 1.5zM668.2 674.6l-6.9 -1.5l-7 6.9l7 1.6zM661.5 673.3l-6.9 -1.6l-7 6.8l6.9 1.7zM648.2 662.8l-6.8 -1.7l-7 6.4l6.9 1.7zM641.6 661.3l-6.8 -1.7l-7 6.3l6.8 1.8zM628.6 650.8l-6.7 -1.8l-6.9 5.9l6.7 1.9zM622.1 649.2l-6.7 -1.9l-6.9 5.9l6.7 1.9zM603.1 637l-6.6 -2l-6.9 5.4l6.6 2.1zM596.8 635.2l-6.6 -2.1l-6.9 5.4l6.6 2.1zM590.4 633.3l-6.5 -2.1l-6.9 5.3l6.5 2.1zM565.9 618.7l-6.4 -2.3l-6.9 4.8l6.4 2.4zM559.7 616.6l-6.4 -2.3l-6.8 4.7l6.3 2.4zM553.6 614.5l-6.4 -2.4l-6.9 4.6l6.4 2.5zM547.4 612.3l-6.3 -2.4l-6.8 4.5l6.3 2.5z"/><path fill=#de9d9f stroke=#de9d9f d="M803.7 820.3l-8.1 -.8l-7.4 11.6l8.1 .9zM588.2 687l-6.7 -2.2l-7 6.8l6.7 2.3zM512.4 658.7l-6.4 -2.9l-7 5.9l6.4 2.9z"/><path fill=#f5eeef stroke=#f5eeef d="M655.2 1077.9l-7.8 -2.9l-7.8 14.8l7.8 3z"/><path fill=#d67578 stroke=#d67578 d="M894.9 678.6l-8.2 .5l-7.1 9.3l8.2 -.4zM885.9 671l-8.1 .5l-7.1 8.9l8.2 -.3zM849.6 629.7l-7.8 .3l-6.8 7.1l7.7 -.1zM839.7 612l-7.6 .2l-6.7 6.4l7.6 -.1zM829.5 591.5l-7.4 .2l-6.7 5.5l7.4 -.2zM828.7 586.9l-7.3 .2l-6.6 5.2l7.3 -.1zM832.9 570.1l-7.3 .3l-6.5 4.4l7.3 -.2zM837.6 559.5l-7.2 .4l-6.4 3.9l7.2 -.3zM866.4 539.4l-7.2 .7l-6.2 2.9l7.3 -.7zM860.4 542l-7.2 .7l-6.2 3l7.2 -.6z"/><path fill=#dd9b9c stroke=#dd9b9c d="M803.1 808.5l-8.1 -.8l-7.4 11.4l8 .9zM786.9 795.6l-8 -.8l-7.3 10.9l7.9 1zM771 783l-7.8 -.9l-7.3 10.4l7.8 1.1zM748 769.6l-7.7 -1.1l-7.2 10l7.6 1.2zM732.8 757.3l-7.5 -1.2l-7.2 9.5l7.5 1.3zM710.8 743.9l-7.4 -1.3l-7.1 9l7.3 1.4zM696.4 731.8l-7.3 -1.4l-7.1 8.6l7.2 1.5zM689.3 730.5l-7.2 -1.5l-7.2 8.5l7.3 1.6zM675.3 718.5l-7.2 -1.6l-7.1 8.1l7.2 1.7zM668.4 717.1l-7.2 -1.7l-7.1 8l7.1 1.7zM647.9 703.5l-7 -1.7l-7.1 7.5l7 1.8zM641.1 701.9l-6.9 -1.8l-7.1 7.4l7 1.9zM621.2 688.2l-6.8 -2l-7 7l6.8 2zM614.6 686.4l-6.8 -2l-7 6.8l6.8 2.1zM608.1 684.5l-6.8 -2.1l-7 6.8l6.7 2.2zM582.4 668.5l-6.6 -2.3l-7 6.3l6.6 2.3zM576 666.4l-6.5 -2.3l-7 6.1l6.5 2.4zM569.7 664.2l-6.6 -2.3l-7 6.1l6.6 2.4zM563.3 662.1l-6.5 -2.5l-7 6.1l6.5 2.5zM557 659.8l-6.5 -2.5l-7 6l6.5 2.5zM550.8 657.5l-6.5 -2.5l-7 5.9l6.5 2.6zM544.5 655.2l-6.5 -2.6l-7 5.8l6.5 2.7zM538.3 652.8l-6.5 -2.6l-7 5.7l6.5 2.7zM532.1 650.4l-6.4 -2.7l-7 5.6l6.4 2.8zM525.9 647.9l-6.4 -2.7l-7 5.5l6.4 2.8zM519.7 645.4l-6.3 -2.8l-7 5.5l6.3 2.8zM494.7 642.5l-6.3 -2.9l-7 5.3l6.3 3.1zM488.6 639.8l-6.2 -3.1l-7 5.3l6.2 3.1z"/><path fill=#ebcfcf stroke=#ebcfcf d="M700.2 978.4l-7.9 -2.2l-7.6 13.7l7.8 2.3zM568.7 904.4l-7.1 -3.1l-7.5 11.3l7.2 3.1zM514.2 879.6l-6.9 -3.4l-7.4 10.5l6.8 3.6zM435.1 850.1l-6.6 -4l-7.4 9.6l6.6 4.2z"/><path fill=#f2e5e6 stroke=#f2e5e6 d="M662.7 1046.7l-7.9 -2.8l-7.7 14.5l7.8 2.8zM581.3 999l-7.4 -3.2l-7.6 13l7.4 3.3zM574.1 995.9l-7.3 -3.3l-7.6 12.9l7.3 3.4zM504.4 962.1l-7 -3.8l-7.5 11.9l7 3.9zM497.6 958.5l-6.9 -3.8l-7.6 11.8l7 3.9zM378.3 914.7l-6.5 -4.7l-7.5 10.6l6.6 4.8z"/><path fill=#f6efef stroke=#f6efef d="M647.5 1075.1l-7.7 -3l-7.8 14.7l7.8 3.1zM640 1072.2l-7.8 -3l-7.7 14.6l7.7 3.1zM435.6 969.1l-6.7 -4.3l-7.6 11.6l6.8 4.5zM429.1 964.9l-6.8 -4.4l-7.5 11.6l6.7 4.5z"/><path fill=#d67274 stroke=#d67274 d="M900.7 661.8l-8.2 .6l-7 8.9l8.2 -.5zM881.8 641l-7.9 .5l-7 8l8 -.4zM872.2 628.2l-7.8 .4l-6.9 7.5l7.8 -.4zM861.9 610.5l-7.7 .4l-6.8 6.7l7.7 -.4zM854.1 568.4l-7.4 .4l-6.5 4.7l7.4 -.4zM858.6 557.5l-7.3 .6l-6.4 4.1l7.3 -.5zM863.9 551l-7.3 .7l-6.3 3.8l7.3 -.6zM881.2 539.2l-7.3 .9l-6.2 3.2l7.3 -.8zM875.2 542.2l-7.4 .8l-6.2 3.3l7.3 -.7z"/><path fill=#d67477 stroke=#d67477 d="M893.8 670.4l-8.1 .5l-7.1 9.1l8.2 -.4zM884.9 663.1l-8.1 .5l-7 8.7l8.1 -.3zM866.5 642.2l-7.9 .3l-6.9 7.8l7.8 -.2zM857.1 629.3l-7.8 .3l-6.8 7.2l7.7 -.2zM847.9 617.4l-7.7 .2l-6.7 6.8l7.6 -.2zM837.4 596l-7.5 .2l-6.6 5.8l7.4 -.2zM836.6 591.1l-7.4 .3l-6.6 5.5l7.4 -.2zM835.9 586.5l-7.4 .2l-6.6 5.3l7.4 -.1zM835.1 582l-7.4 .3l-6.5 5.1l7.3 -.2zM839.1 566l-7.3 .4l-6.4 4.3l7.3 -.3zM844.6 558.9l-7.3 .5l-6.4 3.9l7.3 -.3zM849.9 552.6l-7.2 .5l-6.3 3.6l7.2 -.4zM867.3 541.2l-7.3 .7l-6.1 3l7.2 -.6zM861.3 544l-7.3 .6l-6.2 3.2l7.2 -.6z"/><path fill=#dc9394 stroke=#dc9394 d="M816.7 775.7l-8 -.5l-7.3 10.8l8 .7zM800.5 764.2l-7.9 -.7l-7.3 10.4l7.9 .7zM784.6 752.8l-7.8 -.7l-7.2 9.9l7.8 .8zM769 741.6l-7.6 -.9l-7.2 9.5l7.6 .9zM753.8 730.5l-7.6 -1l-7.1 9.1l7.5 1zM738.8 719.5l-7.4 -1l-7.1 8.7l7.4 1.1zM724.2 708.7l-7.4 -1.1l-7.1 8.3l7.4 1.2zM709.8 698.1l-7.3 -1.2l-7 7.8l7.2 1.3zM695.7 687.6l-7.2 -1.3l-7 7.4l7.1 1.4zM675 675.9l-7 -1.4l-7 6.9l7 1.6zM661.5 665.6l-6.9 -1.6l-6.9 6.6l6.9 1.6zM648.3 655.3l-6.8 -1.6l-7 6.2l6.9 1.7zM641.7 653.9l-6.8 -1.7l-6.9 6.1l6.8 1.8zM628.8 643.7l-6.7 -1.8l-6.9 5.7l6.7 1.9zM622.3 642.1l-6.6 -1.9l-6.9 5.7l6.6 1.9zM603.4 630.2l-6.6 -2l-6.8 5.2l6.5 2.1zM597.1 628.4l-6.6 -2l-6.8 5.1l6.5 2.1zM590.8 626.6l-6.5 -2.1l-6.9 5l6.5 2.2zM572.4 614.3l-6.4 -2.2l-6.8 4.6l6.4 2.3zM566.3 612.3l-6.4 -2.3l-6.8 4.6l6.3 2.3zM560.1 610.2l-6.3 -2.3l-6.8 4.5l6.3 2.4zM554 608.1l-6.3 -2.3l-6.8 4.4l6.3 2.4zM547.9 606l-6.2 -2.5l-6.9 4.4l6.3 2.5zM541.9 603.8l-6.3 -2.5l-6.8 4.2l6.2 2.6z"/><path fill=#de9c9d stroke=#de9c9d d="M795.2 807.8l-8 -.8l-7.4 11.3l8 .9zM779.1 794.9l-7.8 -.9l-7.4 10.8l7.9 1zM740.5 768.7l-7.6 -1.2l-7.2 9.8l7.6 1.3zM718.3 755.1l-7.5 -1.3l-7.2 9.3l7.5 1.4zM703.7 742.7l-7.4 -1.4l-7.2 8.9l7.4 1.5zM682.3 729.2l-7.2 -1.6l-7.1 8.4l7.2 1.7zM675.3 727.8l-7.1 -1.6l-7.2 8.3l7.2 1.7zM654.6 714l-7 -1.7l-7.1 7.8l7 1.8zM627.7 698.5l-6.9 -1.9l-7 7.2l6.9 2.1zM621.1 696.7l-6.9 -2l-7 7.2l6.8 2.1zM595 680.7l-6.7 -2.2l-7 6.6l6.7 2.3zM588.6 678.6l-6.7 -2.2l-7 6.6l6.6 2.3zM582.1 676.6l-6.6 -2.3l-7.1 6.5l6.7 2.3zM575.7 674.5l-6.6 -2.4l-7.1 6.4l6.7 2.5zM569.3 672.3l-6.6 -2.4l-7 6.3l6.6 2.5zM531.5 658.3l-6.4 -2.7l-7 5.8l6.4 2.8zM525.3 655.8l-6.4 -2.8l-7 5.8l6.4 2.8zM519.2 653.2l-6.4 -2.8l-7 5.7l6.3 2.9zM513 650.6l-6.4 -2.8l-7 5.6l6.4 2.9zM481.9 644.8l-6.3 -3.1l-7 5.5l6.3 3.2z"/><path fill=#e4b4b5 stroke=#e4b4b5 d="M744.3 888.2l-7.9 -1.6l-7.5 12.4l7.9 1.7zM713.5 869l-7.8 -1.7l-7.4 11.7l7.7 1.8zM640.3 825.9l-7.3 -2.2l-7.3 10.2l7.2 2.3zM578.3 793.8l-7 -2.6l-7.2 9.2l6.9 2.7zM571.6 791.3l-7 -2.7l-7.2 9.1l6.9 2.8zM564.9 788.8l-6.9 -2.8l-7.3 9.1l6.9 2.8zM525.3 772.4l-6.7 -3l-7.3 8.5l6.7 3.1zM518.8 769.6l-6.7 -3.1l-7.2 8.4l6.7 3.2zM512.3 766.6l-6.6 -3.1l-7.3 8.3l6.7 3.2zM454.6 748.9l-6.4 -3.7l-7.3 7.8l6.5 3.7zM416.7 738.4l-6.3 -3.9l-7.2 7.5l6.3 4zM391.5 734.1l-6.3 -4.2l-7.2 7.5l6.2 4.2z"/><path fill=#e8c7c8 stroke=#e8c7c8 d="M707.4 950.3l-7.9 -2l-7.6 13.2l7.9 2.2zM662 923.5l-7.6 -2.3l-7.5 12.3l7.6 2.5zM611.3 893.2l-7.3 -2.6l-7.4 11.3l7.3 2.8zM604.3 890.7l-7.3 -2.7l-7.5 11.3l7.3 2.8zM597.2 888.1l-7.2 -2.8l-7.5 11.2l7.2 2.9zM482.3 836.7l-6.7 -3.6l-7.4 9.6l6.7 3.7zM475.8 833.3l-6.7 -3.7l-7.3 9.5l6.7 3.8zM430.3 820.4l-6.5 -4l-7.4 9.1l6.6 4.1zM424 816.5l-6.5 -4l-7.3 9l6.5 4.2zM392 809.2l-6.4 -4.3l-7.4 8.8l6.4 4.4zM360.2 800.7l-6.3 -4.6l-7.3 8.6l6.3 4.7zM334.9 795.5l-6.2 -4.8l-7.4 8.6l6.2 4.8z"/><path fill=#edd4d4 stroke=#edd4d4 d="M685.1 989.6l-7.9 -2.4l-7.6 13.7l7.8 2.4zM453.7 875l-6.7 -4l-7.4 10.2l6.6 4.1z"/><path fill=#f1e1e2 stroke=#f1e1e2 d="M662.6 1030.2l-7.8 -2.7l-7.7 14.1l7.7 2.8zM581.5 983.5l-7.3 -3.2l-7.6 12.7l7.3 3.3zM574.4 980.4l-7.3 -3.3l-7.6 12.7l7.3 3.3zM567.3 977.3l-7.3 -3.3l-7.5 12.5l7.2 3.4zM511.7 950.6l-7 -3.7l-7.5 11.8l7 3.8zM504.9 947.1l-7 -3.7l-7.5 11.6l7 3.8zM498.2 943.5l-7 -3.8l-7.5 11.6l6.9 3.9zM424.8 915.6l-6.6 -4.3l-7.5 10.8l6.6 4.4zM379.3 900l-6.6 -4.6l-7.4 10.4l6.5 4.7zM347 891.6l-6.4 -4.9l-7.5 10.1l6.4 5z"/><path fill=#dea0a2 stroke=#dea0a2 d="M780.2 818l-7.9 -1l-7.4 11.3l7.9 1.1zM640.9 729.3l-7.1 -1.9l-7.1 8.1l7 2zM498.8 670l-6.3 -3l-7.1 6.1l6.4 3.1zM461.5 660.9l-6.2 -3.3l-7.1 5.8l6.2 3.4z"/><path fill=#f3e6e7 stroke=#f3e6e7 d="M647.5 1041.4l-7.8 -2.9l-7.7 14.2l7.7 3z"/><path fill=#f6f0f0 stroke=#f6f0f0 d="M632.4 1069.3l-7.7 -3l-7.7 14.5l7.7 3.1zM624.9 1066.4l-7.7 -3.1l-7.7 14.4l7.7 3.2zM455.5 981.5l-6.8 -4.2l-7.6 12l6.9 4.3zM448.9 977.4l-6.9 -4.2l-7.5 11.8l6.8 4.4zM442.2 973.3l-6.8 -4.3l-7.5 11.8l6.8 4.4z"/><path fill=#d46468 stroke=#d46468 d="M938.7 601.1l-8.1 1.2l-6.8 7.5l8.1 -1.1zM927.4 558.2l-7.9 1.2l-6.4 5.5l7.8 -1.1zM945.8 527.3l-7.8 1.4l-6.1 3.8l7.7 -1.4z"/><path fill=#d67779 stroke=#d67779 d="M878 671.6l-8 .3l-7.1 8.9l8.1 -.2zM869.3 664.2l-8 .3l-7 8.5l7.9 -.2zM860.6 657l-7.9 .3l-7 8.2l7.9 -.2zM851.2 643l-7.7 .3l-6.9 7.6l7.7 -.1zM842.9 636.6l-7.7 .2l-6.9 7.3l7.7 -.1zM842.1 630.1l-7.7 .2l-6.8 7.1l7.7 -.1zM833.9 624.1l-7.6 .2l-6.8 6.7l7.6 0zM833.2 618.1l-7.6 .1l-6.8 6.6l7.6 0zM824.4 607.1l-7.4 .1l-6.7 6l7.4 0zM823.7 601.8l-7.4 .1l-6.7 5.8l7.4 0zM823 596.7l-7.4 .1l-6.6 5.6l7.4 0zM822.3 591.9l-7.3 .1l-6.6 5.4l7.3 -.1zM821.6 587.2l-7.3 .2l-6.6 5.1l7.3 0zM821 582.8l-7.3 .2l-6.6 4.9l7.3 0zM820.3 578.7l-7.3 .1l-6.5 4.7l7.2 0zM819.6 574.7l-7.2 .1l-6.5 4.6l7.2 -.1zM825.2 567l-7.2 .2l-6.5 4.2l7.2 -.1zM830.7 560.1l-7.2 .3l-6.4 3.8l7.2 -.2zM824.5 563.7l-7.2 .2l-6.4 4l7.2 -.2zM836.1 553.8l-7.2 .4l-6.3 3.5l7.2 -.3zM830 557.1l-7.2 .3l-6.3 3.7l7.1 -.3zM853.5 542.8l-7.1 .6l-6.2 2.9l7.2 -.5zM847.5 545.5l-7.1 .5l-6.3 3.1l7.2 -.4zM841.4 548.4l-7.1 .4l-6.2 3.2l7.1 -.4z"/><path fill=#da8c8d stroke=#da8c8d d="M822.4 744.8l-8 -.4l-7.2 10.1l7.9 .5zM782.4 714.4l-7.6 -.6l-7.1 8.9l7.6 .8zM759.4 695.4l-7.5 -.8l-7 8.2l7.5 .8zM737.2 677.1l-7.3 -.9l-7 7.4l7.3 1zM715.7 659.6l-7.1 -1.1l-7 6.8l7.2 1.1zM694.9 642.8l-7 -1.2l-6.8 6.1l6.9 1.2zM688.1 635.2l-6.9 -1.3l-6.8 5.8l6.9 1.3zM668.2 619.5l-6.7 -1.4l-6.8 5.1l6.7 1.5zM661.7 612.5l-6.6 -1.4l-6.8 4.8l6.7 1.5zM655.4 605.7l-6.7 -1.5l-6.7 4.6l6.6 1.5zM649.1 599.1l-6.6 -1.5l-6.7 4.3l6.6 1.5zM642.9 592.7l-6.6 -1.6l-6.6 4l6.5 1.6zM636.7 586.5l-6.4 -1.6l-6.7 3.7l6.5 1.7zM636.9 581.8l-6.4 -1.6l-6.7 3.6l6.5 1.6zM729.5 544.8l-6.5 -.6l-6.2 1.6l6.5 .7zM637.1 577.3l-6.4 -1.5l-6.7 3.3l6.4 1.6zM711.3 547.1l-6.4 -.7l-6.3 1.7l6.4 .8zM637.2 573l-6.4 -1.5l-6.6 3.2l6.4 1.6zM693.1 549.6l-6.4 -.9l-6.3 1.8l6.3 1.1zM637.4 569l-6.4 -1.5l-6.5 2.9l6.3 1.6zM674.7 552.2l-6.3 -1.1l-6.4 2.1l6.4 1.2zM668.6 554.1l-6.3 -1.2l-6.4 2.2l6.3 1.2zM662.4 556.1l-6.3 -1.3l-6.4 2.3l6.3 1.3zM656.3 558.2l-6.4 -1.4l-6.4 2.4l6.3 1.4zM650 560.4l-6.3 -1.4l-6.5 2.5l6.4 1.5zM643.8 562.7l-6.3 -1.5l-6.5 2.7l6.3 1.5zM637.6 565.1l-6.4 -1.5l-6.5 2.8l6.3 1.6z"/><path fill=#db9293 stroke=#db9293 d="M808.2 764.6l-7.9 -.5l-7.3 10.4l7.9 .7zM792.2 753.3l-7.8 -.6l-7.3 10l7.9 .8zM776.5 742.2l-7.7 -.8l-7.2 9.6l7.7 .9zM688.7 678.4l-7.1 -1.4l-7 7.1l7.1 1.5zM675 668.2l-7 -1.5l-7 6.8l7 1.5zM661.5 658.1l-6.8 -1.5l-7 6.3l6.9 1.6zM641.8 646.7l-6.8 -1.6l-6.9 5.8l6.8 1.8zM628.9 636.8l-6.6 -1.8l-6.9 5.6l6.7 1.8zM622.5 635.2l-6.6 -1.8l-6.9 5.5l6.6 1.8zM610 625.3l-6.6 -1.9l-6.8 5.1l6.5 2zM603.6 623.6l-6.5 -1.9l-6.8 5l6.5 2zM579 610l-6.4 -2.1l-6.8 4.5l6.4 2.2zM572.8 608.1l-6.3 -2.2l-6.9 4.4l6.4 2.3zM566.7 606.1l-6.3 -2.2l-6.9 4.3l6.4 2.3zM560.6 604.1l-6.3 -2.3l-6.9 4.2l6.4 2.4zM554.5 602l-6.3 -2.4l-6.8 4.2l6.3 2.4zM548.4 599.8l-6.2 -2.4l-6.9 4.2l6.3 2.4z"/><path fill=#dfa5a6 stroke=#dfa5a6 d="M765.3 828.1l-7.9 -1.2l-7.4 11.4l7.9 1.3zM742 813l-7.7 -1.3l-7.4 10.8l7.7 1.4zM719.3 797.8l-7.6 -1.4l-7.3 10.3l7.6 1.5zM697.2 782.7l-7.4 -1.6l-7.3 9.8l7.4 1.7zM668.5 766l-7.2 -1.8l-7.2 9.2l7.2 1.8zM633.9 747l-7.1 -2l-7.2 8.5l7.1 2.1zM587 723.1l-6.8 -2.3l-7.1 7.6l6.8 2.5zM580.5 720.9l-6.8 -2.4l-7.1 7.6l6.7 2.5zM516.3 696.1l-6.5 -2.9l-7.1 6.8l6.5 3zM510 693.4l-6.5 -3l-7.1 6.7l6.5 3zM466.1 681.9l-6.3 -3.4l-7.2 6.4l6.3 3.4z"/><path fill=#f0dede stroke=#f0dede d="M654.9 1011.5l-7.7 -2.7l-7.7 13.8l7.7 2.8zM560.5 959l-7.2 -3.3l-7.5 12.2l7.2 3.4zM553.5 955.8l-7.1 -3.3l-7.6 12.1l7.2 3.4zM546.6 952.6l-7.2 -3.4l-7.5 12l7.1 3.5zM539.6 949.3l-7.1 -3.4l-7.5 11.9l7.1 3.5zM532.7 946l-7 -3.4l-7.6 11.8l7.1 3.5zM525.9 942.7l-7.1 -3.5l-7.5 11.7l7 3.6zM519 939.3l-7 -3.6l-7.5 11.6l7 3.7zM512.2 935.8l-7 -3.6l-7.5 11.5l7 3.7zM432.1 905.2l-6.7 -4.2l-7.5 10.7l6.7 4.3zM386.5 890l-6.5 -4.5l-7.5 10.2l6.5 4.7zM354.2 881.8l-6.4 -4.8l-7.5 10l6.4 4.9zM322.3 872.4l-6.3 -5.1l-7.5 9.8l6.3 5.2zM296.8 866.8l-6.3 -5.2l-7.5 9.7l6.3 5.3z"/><path fill=#f4ebec stroke=#f4ebec d="M632.4 1052.4l-7.7 -3l-7.7 14.3l7.7 3.1z"/><path fill=#d67678 stroke=#d67678 d="M877 663.7l-8 .4l-7 8.6l8 -.3zM868.3 656.6l-7.9 .3l-7 8.3l7.9 -.2zM858.8 642.6l-7.8 .3l-6.9 7.8l7.8 -.2zM850.4 636.3l-7.7 .2l-6.9 7.4l7.7 -.1zM841.3 623.8l-7.6 .2l-6.8 6.9l7.6 -.1zM840.5 617.8l-7.6 .2l-6.8 6.6l7.6 -.1zM831.7 606.8l-7.5 .1l-6.7 6.1l7.4 0zM830.9 601.5l-7.4 .1l-6.7 5.9l7.4 -.1zM830.2 596.4l-7.4 .1l-6.7 5.7l7.4 -.1zM828 582.5l-7.3 .2l-6.6 5l7.3 -.1zM827.3 578.3l-7.3 .2l-6.5 4.8l7.3 -.1zM826.6 574.3l-7.3 .2l-6.5 4.6l7.3 -.1zM832.1 566.5l-7.2 .3l-6.4 4.3l7.2 -.2zM831.4 563.2l-7.2 .3l-6.4 4l7.2 -.2zM843 553.2l-7.2 .5l-6.3 3.6l7.2 -.4zM836.9 556.6l-7.2 .3l-6.4 3.8l7.2 -.3zM854.4 544.8l-7.2 .6l-6.2 3.1l7.1 -.5zM848.3 547.7l-7.2 .5l-6.2 3.2l7.2 -.4z"/><path fill=#efdada stroke=#efdada d="M654.9 995.7l-7.7 -2.7l-7.7 13.6l7.7 2.7zM567.9 947.2l-7.3 -3.2l-7.5 12.1l7.2 3.2zM560.9 944.1l-7.2 -3.2l-7.6 11.9l7.2 3.4zM553.9 941l-7.2 -3.3l-7.5 11.9l7.1 3.4zM546.9 937.9l-7.1 -3.4l-7.5 11.8l7.1 3.4zM540 934.7l-7.1 -3.4l-7.5 11.6l7.1 3.5zM533.1 931.4l-7 -3.4l-7.5 11.5l7 3.5zM526.3 928.1l-7 -3.5l-7.5 11.5l7 3.6zM519.5 924.7l-7 -3.5l-7.5 11.4l7 3.6zM512.7 921.4l-7 -3.6l-7.5 11.2l7 3.7zM505.9 917.9l-6.9 -3.6l-7.5 11.2l7 3.7zM432.8 891l-6.6 -4.1l-7.5 10.4l6.7 4.2zM387.4 875.9l-6.5 -4.5l-7.5 10l6.5 4.6zM355.2 867.6l-6.4 -4.8l-7.5 9.8l6.4 4.9z"/><path fill=#f3e7e8 stroke=#f3e7e8 d="M632.4 1035.8l-7.6 -2.9l-7.7 14l7.6 3zM450.2 946.7l-6.8 -4.2l-7.5 11.4l6.8 4.3zM397.5 928.1l-6.7 -4.6l-7.5 10.9l6.7 4.7zM358.5 915.8l-6.5 -4.9l-7.5 10.6l6.5 4.9z"/><path fill=#f6f1f1 stroke=#f6f1f1 d="M617.4 1063.4l-7.6 -3.2l-7.7 14.3l7.6 3.3zM610 1060.3l-7.6 -3.2l-7.7 14.2l7.6 3.3zM602.6 1057.2l-7.6 -3.2l-7.7 14l7.6 3.4zM595.3 1054.1l-7.6 -3.3l-7.7 13.9l7.5 3.4zM475.7 993.5l-7 -4.1l-7.6 12.3l7 4.2zM468.9 989.6l-6.9 -4.2l-7.6 12.2l7 4.2zM462.2 985.6l-6.9 -4.2l-7.5 12.1l6.8 4.2z"/><path fill=#d98788 stroke=#d98788 d="M820.2 716l-7.9 -.3l-7.1 9.4l7.9 .4zM788.2 688.9l-7.6 -.5l-7 8.3l7.6 .6zM742.9 648.3l-7.2 -.8l-6.9 6.7l7.2 .8zM735.6 640.9l-7.1 -.8l-6.8 6.4l7.1 .8zM728.5 633.8l-7.1 -.9l-6.8 6.1l7.1 .9zM707.4 608.2l-6.8 -1l-6.7 4.9l6.8 1.1zM700.4 592.2l-6.7 -1l-6.6 4.3l6.7 1zM700.3 587.6l-6.7 -1l-6.6 4.1l6.7 1zM700.2 583.2l-6.7 -1l-6.5 3.9l6.6 1zM700.1 579l-6.6 -1l-6.6 3.7l6.6 1zM700 575l-6.6 -.9l-6.6 3.4l6.7 1zM706.1 568.3l-6.6 -.9l-6.5 3.2l6.6 .9zM742.8 551.2l-6.6 -.5l-6.3 2.2l6.6 .5zM736.7 553.1l-6.6 -.5l-6.3 2.3l6.6 .6zM730.6 555.3l-6.6 -.7l-6.3 2.5l6.6 .7zM724.5 557.5l-6.6 -.7l-6.4 2.6l6.6 .7zM718.4 559.9l-6.6 -.8l-6.4 2.7l6.6 .8z"/><path fill=#f2e3e4 stroke=#f2e3e4 d="M625 1016.8l-7.5 -3l-7.7 13.6l7.6 3.1zM450.9 931.8l-6.8 -4.1l-7.5 11.1l6.8 4.2zM398.3 913.3l-6.6 -4.6l-7.5 10.7l6.6 4.6z"/><path fill=#d15559 stroke=#d15559 d="M1009.4 515.8l-8.1 2.1l-6.3 4.8l8.2 -2z"/><path fill=#d35d60 stroke=#d35d60 d="M965.7 550.6l-8.1 1.5l-6.5 5.8l8.1 -1.5zM972.4 528.4l-7.9 1.7l-6.3 4.7l7.9 -1.7z"/><path fill=#d88384 stroke=#d88384 d="M826.4 698.2l-7.8 -.2l-7.1 9l7.8 .3zM763.2 636.4l-7.3 -.6l-6.8 6.4l7.2 .7zM748.1 617.3l-7.1 -.6l-6.7 5.6l7.1 .7zM740.7 605.9l-7 -.7l-6.7 5.1l7 .8zM738.6 574.5l-6.8 -.6l-6.5 3.7l6.8 .6z"/><path fill=#ecd3d3 stroke=#ecd3d3 d="M647.3 962.6l-7.6 -2.6l-7.5 12.9l7.5 2.7zM440.8 867.3l-6.7 -4l-7.4 10l6.6 4.2zM395.5 852.6l-6.5 -4.4l-7.4 9.7l6.4 4.4zM363.4 844.5l-6.4 -4.7l-7.4 9.5l6.3 4.7z"/><path fill=#eed7d7 stroke=#eed7d7 d="M639.9 975.2l-7.5 -2.7l-7.6 13.1l7.5 2.7zM362.4 858.2l-6.4 -4.7l-7.5 9.7l6.4 4.7z"/><path fill=#d6787b stroke=#d6787b d="M853 657.4l-7.9 .2l-7 8.1l7.9 -.1zM834.6 549l-7.1 .3l-6.2 3.2l7.1 -.3z"/><path fill=#dd999b stroke=#dd999b d="M762.9 771.4l-7.7 -1l-7.3 10.2l7.8 1.1zM689.2 721.2l-7.2 -1.5l-7.1 8.3l7.2 1.5zM668.3 708.1l-7.1 -1.6l-7 7.7l7 1.7zM614.8 678.1l-6.7 -2l-7 6.7l6.7 2.1zM570.1 656.4l-6.6 -2.3l-6.9 5.8l6.5 2.5zM563.8 654.2l-6.6 -2.3l-6.9 5.8l6.5 2.4zM557.5 652l-6.5 -2.4l-7 5.7l6.5 2.5zM551.2 649.8l-6.4 -2.5l-7 5.6l6.4 2.6zM545 647.5l-6.4 -2.6l-7 5.6l6.4 2.6zM538.8 645.1l-6.4 -2.6l-7 5.5l6.4 2.7zM532.6 642.7l-6.4 -2.6l-7 5.4l6.4 2.7z"/><path fill=#de9fa1 stroke=#de9fa1 d="M748.8 791.3l-7.8 -1.2l-7.3 10.5l7.7 1.2zM682.5 748.6l-7.3 -1.6l-7.1 8.9l7.2 1.7zM575 691.4l-6.7 -2.4l-7.1 6.9l6.7 2.4zM524.2 672.3l-6.4 -2.8l-7.1 6.2l6.5 2.8z"/><path fill=#e8c3c4 stroke=#e8c3c4 d="M669.4 911.7l-7.6 -2.3l-7.6 12.2l7.6 2.3zM470 817.3l-6.6 -3.7l-7.3 9.2l6.6 3.8zM361.3 788.1l-6.3 -4.6l-7.4 8.5l6.3 4.6zM336 782.8l-6.2 -4.7l-7.4 8.3l6.2 4.8z"/><path fill=#f1e0e0 stroke=#f1e0e0 d="M617.7 998.1l-7.5 -3l-7.6 13.3l7.5 3zM464.8 924.9l-6.9 -4l-7.4 11.1l6.8 4.1zM458.2 921.1l-6.8 -4.1l-7.5 11l6.8 4.2zM405.5 903l-6.6 -4.4l-7.4 10.5l6.6 4.5zM366.7 891l-6.5 -4.7l-7.5 10.2l6.5 4.8zM309 876.9l-6.4 -5.2l-7.4 9.9l6.3 5.3z"/><path fill=#f7f2f2 stroke=#f7f2f2 d="M587.9 1050.9l-7.4 -3.4l-7.7 13.9l7.4 3.4zM580.7 1047.6l-7.5 -3.4l-7.7 13.8l7.5 3.5zM573.4 1044.3l-7.4 -3.4l-7.7 13.7l7.4 3.5zM566.2 1041l-7.4 -3.5l-7.6 13.6l7.3 3.6zM559 1037.6l-7.3 -3.5l-7.6 13.4l7.3 3.7zM551.9 1034.2l-7.3 -3.6l-7.6 13.4l7.3 3.7zM544.8 1030.7l-7.2 -3.6l-7.7 13.2l7.3 3.8zM537.8 1027.2l-7.3 -3.7l-7.6 13.2l7.2 3.8zM530.7 1023.6l-7.2 -3.7l-7.6 13.1l7.2 3.8zM523.7 1020l-7.1 -3.7l-7.6 12.9l7.1 3.9zM516.8 1016.4l-7.2 -3.8l-7.6 12.8l7.2 3.9zM509.8 1012.7l-7.1 -3.9l-7.6 12.8l7.1 3.9zM502.9 1008.9l-7 -3.9l-7.6 12.7l7 4zM496.1 1005.2l-7.1 -4l-7.5 12.6l7 4zM489.2 1001.3l-7 -4l-7.5 12.5l7 4.1zM482.4 997.4l-6.9 -4l-7.6 12.4l7 4.1z"/><path fill=#d6777a stroke=#d6777a d="M852.1 650.1l-7.8 .2l-7 7.9l7.9 -.1zM825.1 612.6l-7.4 .1l-6.8 6.3l7.5 0zM818.9 570.9l-7.2 .2l-6.4 4.3l7.2 -.1zM835.4 551.3l-7.2 .4l-6.2 3.3l7.1 -.3z"/><path fill=#d7797c stroke=#d7797c d="M845.4 657.7l-7.9 .1l-6.9 8.1l7.8 -.1zM828 637.1l-7.6 .1l-6.8 7.1l7.6 .1zM810.7 613l-7.4 0l-6.7 6.1l7.4 .1zM805.1 571.5l-7.1 0l-6.4 4.2l7.1 .1zM816.3 558l-7.1 .2l-6.3 3.5l7.1 -.1zM827.8 549.5l-7 .3l-6.3 3.1l7.1 -.3z"/><path fill=#d77b7e stroke=#d77b7e d="M838.6 665.5l-7.8 0l-7 8.2l7.8 .1z"/><path fill=#dd9799 stroke=#dd9799 d="M762.5 761l-7.7 -1l-7.3 9.9l7.7 1zM747.2 749.1l-7.6 -1l-7.2 9.4l7.6 1.2zM710.4 724.8l-7.3 -1.3l-7.2 8.5l7.4 1.4zM675.2 700.7l-7.1 -1.5l-7.1 7.6l7.1 1.6zM654.7 688l-6.9 -1.7l-7.1 7.2l7 1.7zM628.2 673.6l-6.8 -1.9l-7 6.6l6.8 1.9zM602.3 658.7l-6.6 -2l-7 6l6.6 2.2zM595.9 656.8l-6.6 -2.1l-7 6l6.6 2.2zM508.8 625.3l-6.3 -2.8l-7 4.9l6.3 2.9z"/><path fill=#eed8d8 stroke=#eed8d8 d="M625.2 970l-7.5 -2.8l-7.6 12.8l7.5 2.9zM459.5 892.6l-6.7 -4l-7.5 10.5l6.7 4.1zM407.2 874.7l-6.5 -4.3l-7.5 10l6.6 4.4z"/><path fill=#efdcdc stroke=#efdcdc d="M617.8 982.5l-7.5 -2.8l-7.6 13l7.5 2.9zM465.4 910.5l-6.8 -4l-7.5 10.9l6.8 4zM458.8 906.7l-6.7 -4l-7.5 10.7l6.8 4.1zM406.4 888.7l-6.6 -4.4l-7.4 10.3l6.5 4.5z"/><path fill=#dd989a stroke=#dd989a d="M755 760.1l-7.6 -1l-7.3 9.8l7.7 1.1zM682.1 710.8l-7.1 -1.5l-7.1 8l7.1 1.5zM661.5 697.9l-7 -1.6l-7.1 7.4l7 1.7zM634.6 683.3l-6.8 -1.8l-7 6.9l6.8 1.9zM608.5 668.3l-6.7 -2l-7 6.3l6.7 2.1z"/><path fill=#e3b0b1 stroke=#e3b0b1 d="M698.1 840.5l-7.6 -1.7l-7.4 11l7.6 1.9zM619.5 796.3l-7.1 -2.3l-7.3 9.5l7.1 2.4zM474.8 737.4l-6.4 -3.4l-7.3 7.6l6.5 3.5zM405.5 720.1l-6.3 -4l-7.2 7.2l6.2 4z"/><path fill=#d35f62 stroke=#d35f62 d="M960 537.3l-7.9 1.6l-6.3 4.9l7.9 -1.5zM969.5 523.9l-7.9 1.8l-6.2 4.2l7.9 -1.7z"/><path fill=#d98586 stroke=#d98586 d="M803.1 689.4l-7.7 -.4l-7.1 8.5l7.7 .5zM734.8 622.1l-7.1 -.7l-6.8 5.6l7.1 .9zM727.5 610.2l-7 -.8l-6.7 5.2l6.9 .8zM720.3 599.2l-6.8 -.9l-6.7 4.7l6.9 .9zM720.1 594.3l-6.8 -.8l-6.7 4.4l6.9 .9zM719.5 580.9l-6.8 -.7l-6.5 3.8l6.7 .9zM719.3 576.9l-6.7 -.8l-6.6 3.7l6.8 .9zM731.3 563.8l-6.6 -.7l-6.5 3.1l6.7 .7z"/><path fill=#dc9698 stroke=#dc9698 d="M754.6 750l-7.6 -1l-7.2 9.5l7.6 1.1zM739.5 738.4l-7.5 -1.1l-7.2 9.1l7.5 1.2zM703.1 714.5l-7.2 -1.3l-7.1 8.2l7.2 1.4zM668.3 690.8l-7 -1.5l-7.1 7.3l7 1.6zM648.1 678.3l-6.9 -1.7l-7 6.9l6.9 1.7zM621.8 664.1l-6.8 -1.9l-6.9 6.3l6.7 1.9zM589.8 647.5l-6.6 -2.2l-6.9 5.7l6.6 2.2zM521.5 623.2l-6.3 -2.7l-6.9 4.9l6.2 2.7zM515.4 620.7l-6.2 -2.7l-7 4.7l6.3 2.9z"/><path fill=#f4e9ea stroke=#f4e9ea d="M581.1 1014.9l-7.4 -3.3l-7.6 13.3l7.3 3.4zM573.9 1011.7l-7.4 -3.3l-7.6 13.2l7.4 3.4zM497.1 973.7l-7 -3.8l-7.5 12l7 4z"/><path fill=#d25c5f stroke=#d25c5f d="M989.2 514.4l-8 1.9l-6.1 4l8 -1.9z"/><path fill=#d98385 stroke=#d98385 d="M802.5 681.2l-7.7 -.3l-7 8.2l7.6 .4zM756.2 636l-7.3 -.6l-6.8 6.3l7.2 .7zM741.3 616.8l-7.1 -.6l-6.7 5.5l7 .8zM733.9 605.4l-6.9 -.7l-6.7 5l6.9 .8zM732.1 574.1l-6.8 -.7l-6.5 3.6l6.8 .8zM738 567.4l-6.7 -.6l-6.4 3.3l6.7 .6zM786.4 545.7l-6.8 -.1l-6.1 2.1l6.7 .2zM750.1 558.8l-6.7 -.4l-6.4 2.8l6.7 .5z"/><path fill=#d9888a stroke=#d9888a d="M788.8 697.3l-7.7 -.5l-7 8.5l7.6 .6zM758.2 671.2l-7.4 -.7l-7 7.5l7.4 .8zM694.2 606.5l-6.7 -1.1l-6.8 4.8l6.8 1.2zM687.6 595.4l-6.7 -1.2l-6.7 4.4l6.7 1.2zM687.5 590.6l-6.7 -1.1l-6.6 4.1l6.7 1.1zM687.3 577.4l-6.6 -1l-6.5 3.5l6.6 1.1zM687.3 573.5l-6.6 -1.1l-6.5 3.3l6.5 1.2zM748.5 547.4l-6.6 -.5l-6.2 1.9l6.6 .5zM693.5 566.9l-6.6 -1l-6.5 3l6.6 1.1zM718 554.4l-6.5 -.7l-6.4 2.3l6.6 .8zM711.9 556.5l-6.5 -.8l-6.4 2.5l6.5 .8zM705.7 558.7l-6.5 -.8l-6.4 2.5l6.5 1z"/><path fill=#eacdcd stroke=#eacdcd d="M625.5 926l-7.5 -2.7l-7.5 12.1l7.4 2.8zM377.7 826.6l-6.4 -4.5l-7.4 9.1l6.4 4.6z"/><path fill=#dc9597 stroke=#dc9597 d="M746.8 739.3l-7.5 -1.1l-7.2 9.3l7.5 1.1zM731.9 727.9l-7.4 -1.1l-7.2 8.8l7.5 1.2zM682 693.5l-7.1 -1.5l-7.1 7.5l7.1 1.6zM661.5 681.2l-7 -1.5l-7 7l7 1.6zM641.5 668.9l-6.8 -1.7l-7 6.5l6.8 1.8zM621.9 656.5l-6.7 -1.9l-6.9 6.1l6.7 2zM615.5 654.8l-6.7 -1.9l-7 6l6.7 2zM590.1 640.3l-6.5 -2.2l-6.9 5.5l6.5 2.2zM583.8 638.3l-6.5 -2.1l-6.9 5.4l6.5 2.2zM577.5 636.4l-6.5 -2.3l-6.9 5.4l6.5 2.3zM528.1 618.7l-6.3 -2.6l-6.9 4.7l6.3 2.7zM522.1 616.3l-6.3 -2.7l-6.9 4.6l6.3 2.8z"/><path fill=#e5bcbd stroke=#e5bcbd d="M654.5 867.3l-7.4 -2.2l-7.4 11.2l7.4 2.3zM491.3 791.3l-6.7 -3.4l-7.3 8.8l6.7 3.5zM439.8 775.6l-6.5 -3.8l-7.3 8.3l6.5 3.9zM376.4 760.2l-6.2 -4.3l-7.4 7.9l6.3 4.4z"/><path fill=#d77a7d stroke=#d77a7d d="M820.7 637.3l-7.6 0l-6.9 7.1l7.6 .1zM803.6 613.1l-7.4 -.1l-6.7 6l7.3 .2zM798.3 571.7l-7.1 0l-6.4 4.1l7 .1zM809.5 558.4l-7 .1l-6.4 3.4l7.1 0z"/><path fill=#dd9798 stroke=#dd9798 d="M732.2 737.4l-7.5 -1.1l-7.1 9l7.4 1.2zM696.1 713.3l-7.2 -1.3l-7.1 8.1l7.2 1.4zM634.8 675.2l-6.9 -1.8l-7 6.7l6.9 1.9zM608.8 660.5l-6.7 -2l-7 6.2l6.7 2.1zM558.4 637.2l-6.5 -2.4l-6.9 5.3l6.4 2.5zM552.1 635l-6.4 -2.5l-6.9 5.3l6.4 2.5zM546 632.7l-6.4 -2.5l-7 5.2l6.4 2.6z"/><path fill=#ebcece stroke=#ebcece d="M603.9 918.2l-7.3 -2.8l-7.5 11.8l7.3 2.9zM481.1 862.7l-6.8 -3.7l-7.4 10.1l6.8 3.7z"/><path fill=#da8a8b stroke=#da8a8b d="M766.2 687.6l-7.4 -.7l-7.1 8.1l7.5 .7zM743.9 670l-7.3 -.8l-6.9 7.3l7.3 .9zM715.3 645.5l-7.1 -1l-6.9 6.3l7.1 1.1zM708.3 638l-7 -1.1l-6.9 6l7 1.2zM701.4 630.7l-7 -1.1l-6.8 5.7l6.9 1.2zM694.6 623.6l-6.9 -1.1l-6.8 5.4l6.9 1.2zM687.8 616.8l-6.8 -1.2l-6.7 5.1l6.8 1.3zM681.2 610.1l-6.7 -1.2l-6.8 4.8l6.8 1.3zM674.7 603.6l-6.7 -1.2l-6.7 4.6l6.7 1.3zM668.3 592.4l-6.6 -1.3l-6.7 4.1l6.6 1.4zM668.3 587.7l-6.6 -1.3l-6.6 3.9l6.6 1.3zM735.9 546.9l-6.5 -.6l-6.2 1.8l6.5 .6zM668.4 570.7l-6.5 -1.2l-6.5 3.1l6.5 1.3zM711.6 551.5l-6.5 -.8l-6.3 2l6.5 .9zM705.5 553.3l-6.5 -.8l-6.3 2.2l6.5 .9zM680.9 562l-6.4 -1.1l-6.5 2.6l6.4 1.2zM674.7 564.4l-6.5 -1.1l-6.4 2.8l6.4 1.2z"/><path fill=#edd6d6 stroke=#edd6d6 d="M582.2 938.5l-7.2 -3l-7.6 12l7.3 3.1zM575.2 935.6l-7.3 -3.1l-7.5 11.9l7.2 3.2zM506.5 903.8l-6.9 -3.6l-7.5 10.9l6.9 3.7zM499.8 900.3l-6.9 -3.6l-7.5 10.8l6.9 3.8zM427.2 873.1l-6.6 -4.1l-7.5 10l6.6 4.3zM388.3 862l-6.5 -4.5l-7.4 9.8l6.5 4.6zM356.2 853.7l-6.4 -4.8l-7.4 9.6l6.4 4.8z"/><path fill=#eacbcb stroke=#eacbcb d="M590 899l-7.3 -2.9l-7.4 11.4l7.2 2.9z"/><path fill=#d7787b stroke=#d7787b d="M817.9 612.8l-7.4 .1l-6.8 6.1l7.5 .1zM812 571.3l-7.1 0l-6.5 4.3l7.1 0z"/><path fill=#dfa1a3 stroke=#dfa1a3 d="M682.6 758.7l-7.3 -1.6l-7.2 9.1l7.3 1.7z"/><path fill=#d4696d stroke=#d4696d d="M917.8 535.2l-7.6 1.2l-6.1 3.7l7.5 -1.1z"/><path fill=#da8d8f stroke=#da8d8f d="M737.5 685.1l-7.3 -1l-7 7.7l7.3 1zM681.5 640.7l-6.9 -1.3l-6.9 5.9l6.9 1.4zM661.7 624.3l-6.8 -1.4l-6.8 5.3l6.8 1.5zM642.5 608.7l-6.6 -1.6l-6.8 4.6l6.6 1.7zM699 546l-6.3 -.9l-6.3 1.6l6.4 1z"/><path fill=#d56c6e stroke=#d56c6e d="M915.5 531.5l-7.5 1.2l-6.1 3.3l7.5 -1.1z"/><path fill=#d88283 stroke=#d88283 d="M770.2 636.7l-7.3 -.5l-6.8 6.5l7.3 .6zM747.1 601.2l-7 -.6l-6.7 5l7 .6zM751.1 568l-6.8 -.5l-6.5 3.4l6.8 .6zM763.1 559.1l-6.8 -.3l-6.4 3l6.8 .4z"/><path fill=#f5edee stroke=#f5edee d="M489.8 985.5l-7 -3.9l-7.6 12.2l7 4z"/><path fill=#d87e80 stroke=#d87e80 d="M775.4 612.9l-7.2 -.4l-6.7 5.7l7.2 .5z"/><path fill=#f5eced stroke=#f5eced d="M462.8 970l-6.8 -4.2l-7.6 11.9l6.9 4.2zM403 947.6l-6.6 -4.6l-7.5 11.3l6.6 4.6z"/><path fill=#d88081 stroke=#d88081 d="M760.3 596.9l-7 -.5l-6.7 4.9l7.1 .6zM759.1 583.3l-6.9 -.4l-6.6 4.3l7 .5z"/><path fill=#d87f80 stroke=#d87f80 d="M766.3 587.8l-7 -.4l-6.6 4.6l7 .5z"/><path fill=#d77d7e stroke=#d77d7e d="M796.1 558.9l-7 -.1l-6.3 3.4l6.9 0zM825.8 543.6l-7 .3l-6.2 2.5l7 -.2z"/><path fill=#dea1a2 stroke=#dea1a2 d="M600.8 708.7l-6.8 -2.2l-7.1 7.4l6.8 2.3z"/><path fill=#ecd1d1 stroke=#ecd1d1 d="M467.4 868.9l-6.8 -3.9l-7.4 10.2l6.7 3.9zM415.2 851.5l-6.5 -4.2l-7.4 9.7l6.5 4.3z"/><path fill=#d88182 stroke=#d88182 d="M769.6 559.2l-6.8 -.3l-6.4 3.1l6.8 .3z"/><path fill=#f4eaeb stroke=#f4eaeb d="M383.8 934.2l-6.6 -4.7l-7.5 11l6.6 4.7z"/><path fill=#ebd0d0 stroke=#ebd0d0 d="M370.5 835.5l-6.4 -4.6l-7.4 9.3l6.4 4.6z"/><path fill=#de9ea0 stroke=#de9ea0 d="M493.4 658.7l-6.4 -3l-7 5.8l6.3 3.1z"/></g><clipPath id="cneg"><path d="M587.7 1055.2L586.6 1053.1L585.6 1051.0L584.5 1049.0L583.4 1046.9L582.4 1044.9L581.3 1042.9L580.2 1040.9L579.1 1039.0L578.0 1037.0L576.8 1035.1L575.7 1033.2L574.6 1031.3L573.4 1029.5L572.3 1027.6L571.1 1025.8L569.9 1024.0L568.7 1022.2L567.6 1020.5L566.4 1018.7L565.1 1017.0L563.9 1015.3L562.7 1013.6L561.5 1012.0L560.2 1010.3L559.0 1008.7L557.7 1007.1L556.4 1005.5L555.2 1004.0L553.9 1002.4L552.6 1000.9L551.3 999.4L549.9 997.9L548.6 996.5L547.3 995.0L545.9 993.6L544.6 992.2L543.2 990.8L541.8 989.5L540.4 988.1L539.0 986.8L537.6 985.5L536.2 984.2L534.7 983.0L533.3 981.7L531.8 980.5L530.4 979.3L528.9 978.1L527.4 976.9L525.9 975.8L524.4 974.7L522.9 973.6L521.3 972.5L519.8 971.4L518.2 970.4L516.7 969.4L515.1 968.4L513.5 967.4L511.9 966.4L510.3 965.5L508.6 964.5L507.0 963.6L505.4 962.7L503.7 961.9L502.0 961.0L500.3 960.2L498.6 959.4L496.9 958.6L495.2 957.8L493.5 957.0L491.7 956.3L489.9 955.6L488.2 954.9L486.4 954.2L484.6 953.6L482.8 952.9L480.9 952.3L479.1 951.7L477.2 951.1L475.4 950.6L473.5 950.0L471.6 949.5L469.7 949.0L467.8 948.5L465.9 948.0L463.9 947.6L462.0 947.1L460.0 946.7L458.0 946.3L456.0 946.0L454.0 945.6L452.0 945.3L450.0 944.9L447.9 944.6L445.8 944.3L443.8 944.1L441.7 943.8L439.6 943.6L437.5 943.4L435.3 943.2L433.2 943.0L431.0 942.8L428.9 942.7L426.7 942.6L424.5 942.4L422.3 942.4L420.1 942.3L417.8 942.2L415.6 942.2L413.3 942.1L411.0 942.1L408.8 942.1L406.5 942.2L404.1 942.2L401.8 942.3L399.5 942.3L397.1 942.4L394.8 942.5L392.4 942.7L390.0 942.8Z"/></clipPath><clipPath id="cpos"><path d="M1140.0 463.6L1135.5 465.5L1131.0 467.4L1126.5 469.2L1122.0 471.0L1117.6 472.8L1113.1 474.5L1108.7 476.3L1104.3 478.0L1099.9 479.7L1095.5 481.3L1091.2 483.0L1086.8 484.6L1082.5 486.2L1078.2 487.7L1073.9 489.3L1069.6 490.8L1065.4 492.3L1061.1 493.8L1056.9 495.2L1052.7 496.7L1048.5 498.1L1044.3 499.5L1040.1 500.8L1035.9 502.2L1031.8 503.5L1027.6 504.8L1023.5 506.1L1019.4 507.3L1015.3 508.6L1011.2 509.8L1007.2 511.0L1003.1 512.1L999.1 513.3L995.0 514.4L991.0 515.5L987.0 516.6L983.0 517.7L979.1 518.7L975.1 519.7L971.1 520.7L967.2 521.7L963.3 522.7L959.4 523.6L955.5 524.5L951.6 525.4L947.7 526.3L943.8 527.2L940.0 528.0L936.1 528.9L932.3 529.7L928.5 530.5L924.7 531.2L920.9 532.0L917.1 532.7L913.3 533.4L909.6 534.1L905.8 534.8L902.1 535.4L898.4 536.1L894.7 536.7L891.0 537.3L887.3 537.9L883.6 538.4L879.9 539.0L876.3 539.5L872.6 540.0L869.0 540.5L865.3 541.0L861.7 541.4L858.1 541.8L854.5 542.3L850.9 542.7L847.4 543.1L843.8 543.4L840.2 543.8L836.7 544.1L833.1 544.4L829.6 544.7L826.1 545.0L822.6 545.3L819.1 545.5L815.6 545.7L812.1 546.0L808.6 546.2L805.2 546.3L801.7 546.5L798.3 546.6L794.9 546.8L791.4 546.9L788.0 547.0L784.6 547.1L781.2 547.1L777.8 547.2L774.4 547.2L771.1 547.2L767.7 547.2L764.4 547.2L761.0 547.2L757.7 547.2L754.3 547.1L751.0 547.0L747.7 546.9L744.4 546.8L741.1 546.7L737.8 546.6L734.5 546.4L731.3 546.2L728.0 546.1L724.8 545.9L721.5 545.6L718.3 545.4L715.0 545.2L711.8 544.9L708.6 544.6L705.4 544.4L702.2 544.1L699.0 543.7L695.8 543.4L692.6 543.1L692.6 543.1L689.5 543.6L686.3 544.2L683.2 544.9L680.0 545.5L676.8 546.2L673.6 546.9L670.4 547.7L667.2 548.5L664.0 549.3L660.8 550.2L657.6 551.1L654.4 552.0L651.1 552.9L647.9 553.9L644.6 554.9L641.4 556.0L638.1 557.0L634.9 558.2L631.6 559.3L628.3 560.5L625.0 561.7L621.7 562.9L618.4 564.2L615.1 565.5L611.8 566.9L608.5 568.2L605.1 569.6L601.8 571.1L598.5 572.6L595.1 574.1L591.8 575.6L588.4 577.2L585.0 578.8L581.7 580.4L578.3 582.1L574.9 583.8L571.5 585.6L568.1 587.4L564.7 589.2L561.3 591.0L557.9 592.9L554.5 594.8L551.0 596.8L547.6 598.8L544.2 600.8L540.7 602.9L537.3 605.0L533.8 607.1L530.3 609.3L526.9 611.5L523.4 613.7L519.9 616.0L516.4 618.3L512.9 620.6L509.4 623.0L505.9 625.4L502.4 627.9L498.9 630.4L495.4 632.9L491.8 635.4L488.3 638.0L484.8 640.7L481.2 643.3L477.7 646.0L474.1 648.8L470.6 651.6L467.0 654.4L463.4 657.2L459.8 660.1L456.3 663.0L452.7 666.0L449.1 669.0L445.5 672.0L441.9 675.1L438.3 678.2L434.7 681.4L431.0 684.5L427.4 687.8L423.8 691.0L420.2 694.3L416.5 697.6L412.9 701.0L409.2 704.4L405.6 707.9L401.9 711.4L398.3 714.9L394.6 718.4L390.9 722.0L387.3 725.7L383.6 729.3L379.9 733.0L376.2 736.8L372.5 740.6L368.8 744.4L365.1 748.3L361.4 752.2L357.7 756.1L354.0 760.1L350.3 764.1L346.5 768.1L342.8 772.2L339.1 776.4L335.4 780.5L331.6 784.7L327.9 789.0L324.1 793.3L320.4 797.6L316.6 801.9L312.9 806.3L309.1 810.8L305.4 815.2L301.6 819.8L297.8 824.3L294.0 828.9L290.3 833.5L286.5 838.2L282.7 842.9L278.9 847.7L275.1 852.4L275.1 852.4L277.0 854.1L278.9 855.7L280.8 857.4L282.7 859.0L284.6 860.6L286.5 862.3L288.4 863.9L290.3 865.5L292.2 867.1L294.1 868.7L296.0 870.3L297.9 871.9L299.8 873.5L301.7 875.1L303.6 876.7L305.5 878.3L307.5 879.9L309.4 881.5L311.3 883.0L313.2 884.6L315.2 886.2L317.1 887.7L319.0 889.3L321.0 890.8L322.9 892.4L324.8 893.9L326.8 895.5L328.7 897.0L330.6 898.6L332.6 900.1L334.5 901.6L336.5 903.1L338.4 904.7L340.4 906.2L342.4 907.7L344.3 909.2L346.3 910.7L348.2 912.2L350.2 913.7L352.2 915.2L354.1 916.7L356.1 918.2L358.1 919.7L360.1 921.1L362.0 922.6L364.0 924.1L366.0 925.5L368.0 927.0L370.0 928.4L372.0 929.9L374.0 931.4L376.0 932.8L378.0 934.2L380.0 935.7L382.0 937.1L384.0 938.5L386.0 940.0L388.0 941.4L390.0 942.8L390.0 942.8L392.4 942.7L394.8 942.5L397.1 942.4L399.5 942.3L401.8 942.3L404.1 942.2L406.5 942.2L408.8 942.1L411.0 942.1L413.3 942.1L415.6 942.2L417.8 942.2L420.1 942.3L422.3 942.4L424.5 942.4L426.7 942.6L428.9 942.7L431.0 942.8L433.2 943.0L435.3 943.2L437.5 943.4L439.6 943.6L441.7 943.8L443.8 944.1L445.8 944.3L447.9 944.6L450.0 944.9L452.0 945.3L454.0 945.6L456.0 946.0L458.0 946.3L460.0 946.7L462.0 947.1L463.9 947.6L465.9 948.0L467.8 948.5L469.7 949.0L471.6 949.5L473.5 950.0L475.4 950.6L477.2 951.1L479.1 951.7L480.9 952.3L482.8 952.9L484.6 953.6L486.4 954.2L488.2 954.9L489.9 955.6L491.7 956.3L493.5 957.0L495.2 957.8L496.9 958.6L498.6 959.4L500.3 960.2L502.0 961.0L503.7 961.9L505.4 962.7L507.0 963.6L508.6 964.5L510.3 965.5L511.9 966.4L513.5 967.4L515.1 968.4L516.7 969.4L518.2 970.4L519.8 971.4L521.3 972.5L522.9 973.6L524.4 974.7L525.9 975.8L527.4 976.9L528.9 978.1L530.4 979.3L531.8 980.5L533.3 981.7L534.7 983.0L536.2 984.2L537.6 985.5L539.0 986.8L540.4 988.1L541.8 989.5L543.2 990.8L544.6 992.2L545.9 993.6L547.3 995.0L548.6 996.5L549.9 997.9L551.3 999.4L552.6 1000.9L553.9 1002.4L555.2 1004.0L556.4 1005.5L557.7 1007.1L559.0 1008.7L560.2 1010.3L561.5 1012.0L562.7 1013.6L563.9 1015.3L565.1 1017.0L566.4 1018.7L567.6 1020.5L568.7 1022.2L569.9 1024.0L571.1 1025.8L572.3 1027.6L573.4 1029.5L574.6 1031.3L575.7 1033.2L576.8 1035.1L578.0 1037.0L579.1 1039.0L580.2 1040.9L581.3 1042.9L582.4 1044.9L583.4 1046.9L584.5 1049.0L585.6 1051.0L586.6 1053.1L587.7 1055.2L587.7 1055.2L589.6 1056.0L591.4 1056.8L593.3 1057.7L595.1 1058.5L597.0 1059.3L598.9 1060.1L600.8 1060.9L602.6 1061.7L604.5 1062.5L606.4 1063.3L608.3 1064.1L610.2 1064.9L612.0 1065.6L613.9 1066.4L615.8 1067.2L617.7 1068.0L619.6 1068.7L621.5 1069.5L623.4 1070.3L625.3 1071.0L627.2 1071.8L629.1 1072.5L631.1 1073.3L633.0 1074.0L634.9 1074.8L636.8 1075.5L638.7 1076.3L640.7 1077.0L642.6 1077.7L644.5 1078.5L646.5 1079.2L648.4 1079.9L650.3 1080.6L652.3 1081.4L654.2 1082.1L656.2 1082.8L658.1 1083.5L660.1 1084.2L662.0 1084.9L664.0 1085.6L666.0 1086.3L667.9 1087.0L669.9 1087.7L671.9 1088.4L673.8 1089.0L675.8 1089.7L677.8 1090.4L679.8 1091.1L681.8 1091.7L683.8 1092.4L685.7 1093.1L687.7 1093.7L689.7 1094.4L691.7 1095.0L693.7 1095.7L695.7 1096.3L697.8 1097.0L699.8 1097.6L701.8 1098.2L701.8 1098.2L705.8 1090.3L709.8 1082.3L713.9 1074.5L717.9 1066.6L721.9 1058.9L725.9 1051.1L729.9 1043.4L733.9 1035.8L737.9 1028.1L741.9 1020.6L745.9 1013.1L749.8 1005.6L753.8 998.1L757.8 990.8L761.8 983.4L765.7 976.1L769.7 968.8L773.6 961.6L777.6 954.5L781.5 947.3L785.5 940.3L789.4 933.2L793.4 926.2L797.3 919.3L801.2 912.4L805.1 905.5L809.0 898.7L812.9 892.0L816.8 885.3L820.7 878.6L824.6 872.0L828.5 865.4L832.4 858.8L836.2 852.3L840.1 845.9L844.0 839.5L847.8 833.1L851.7 826.8L855.5 820.5L859.4 814.3L863.2 808.1L867.0 802.0L870.8 795.9L874.6 789.9L878.5 783.9L882.3 777.9L886.0 772.0L889.8 766.2L893.6 760.3L897.4 754.6L901.2 748.8L904.9 743.2L908.7 737.5L912.4 731.9L916.2 726.4L919.9 720.9L923.6 715.4L927.4 710.0L931.1 704.7L934.8 699.3L938.5 694.1L942.2 688.8L945.9 683.6L949.6 678.5L953.2 673.4L956.9 668.4L960.5 663.3L964.2 658.4L967.8 653.5L971.5 648.6L975.1 643.8L978.7 639.0L982.4 634.3L986.0 629.6L989.6 624.9L993.2 620.3L996.7 615.7L1000.3 611.2L1003.9 606.8L1007.4 602.3L1011.0 597.9L1014.5 593.6L1018.1 589.3L1021.6 585.1L1025.1 580.9L1028.7 576.7L1032.2 572.6L1035.7 568.5L1039.2 564.5L1042.6 560.5L1046.1 556.5L1049.6 552.7L1053.0 548.8L1056.5 545.0L1059.9 541.2L1063.4 537.5L1066.8 533.8L1070.2 530.2L1073.6 526.6L1077.0 523.0L1080.4 519.5L1083.8 516.0L1087.2 512.6L1090.5 509.2L1093.9 505.9L1097.2 502.6L1100.6 499.4L1103.9 496.2L1107.2 493.0L1110.6 489.9L1113.9 486.8L1117.2 483.7L1120.4 480.7L1123.7 477.8L1127.0 474.9L1130.3 472.0L1133.5 469.2L1136.8 466.4L1140.0 463.6Z"/></clipPath></defs>
<circle cx="697.2" cy="837.2" r="12.4" fill="url(#sphB)"/>
<circle cx="694.3" cy="680.1" r="10.8" fill="url(#sphB)"/>
<circle cx="1125.9" cy="726.8" r="12.6" fill="url(#sphB)"/>
<g opacity="0.8" clip-path="url(#cneg)"><use href="#rm"/></g>
<g opacity="0.8" stroke-width="0.5"><path fill=#3f6eb3 stroke=#3f6eb3 d="M1127 710.4l-8 -4.3l-6.1 6.3l8 4.4zM1105.8 708.3l-8 -4.1l-6.1 6.2l8 4.1zM1077 702.7l-7.8 -3.8l-6.1 6.1l7.8 3.9zM1048.5 697.9l-7.7 -3.5l-6.1 6l7.7 3.5zM1012.9 690.8l-7.6 -3.1l-6.2 5.9l7.7 3.1zM1005.6 687.9l-7.7 -3l-6.1 5.8l7.6 3.1zM998.2 685.1l-7.6 -2.9l-6.1 5.8l7.6 2.9zM962 672.7l-7.4 -2.3l-6.1 5.5l7.4 2.4zM954.9 670.5l-7.4 -2.2l-6.2 5.5l7.4 2.3zM947.8 668.5l-7.4 -2.1l-6.1 5.4l7.3 2.2zM940.7 666.6l-7.3 -2.1l-6.2 5.4l7.3 2.1zM925.5 656.4l-7.2 -1.7l-6.1 5.3l7.2 1.7zM910.6 647.4l-7.2 -1.4l-6 5.2l7.1 1.3zM902.7 640.4l-7.1 -1.1l-6 5.1l7.1 1.1zM901.8 634.8l-7.1 -.9l-6 5l7 .9z"/><path fill=#4170b4 stroke=#4170b4 d="M1121.1 716.5l-8 -4.4l-6.1 6.3l8 4.4zM1099.9 714.3l-8 -4.2l-6.1 6.2l8 4.2zM1078.7 712.3l-7.9 -3.9l-6.1 6.1l7.9 4.1zM1050.1 707.1l-7.8 -3.7l-6.1 6.1l7.8 3.7zM1014.3 699.5l-7.6 -3.3l-6.2 5.9l7.7 3.4zM1007 696.4l-7.7 -3.1l-6.2 5.8l7.7 3.2zM927.7 669.8l-7.3 -1.9l-6.2 5.4l7.3 2zM920.7 668l-7.3 -1.8l-6.2 5.3l7.3 1.9zM912.6 659.8l-7.2 -1.6l-6.1 5.3l7.2 1.6zM905.7 658.4l-7.2 -1.5l-6.1 5.2l7.2 1.6zM897.8 651l-7.1 -1.2l-6.1 5.1l7.1 1.3zM890.1 644.2l-7.1 -1l-6.1 5l7.1 1.1zM889.1 638.7l-7 -.9l-6 5l7 .9zM881.5 632.8l-7 -.6l-6 4.9l7 .6z"/><path fill=#4272b5 stroke=#4272b5 d="M1115.2 722.6l-8 -4.5l-6.1 6.4l8 4.4zM1094 720.3l-8 -4.3l-6.1 6.3l7.9 4.3zM1044.2 713l-7.8 -3.8l-6.2 6.1l7.8 3.8zM1008.4 705.2l-7.7 -3.4l-6.2 6l7.7 3.3zM914.7 673.1l-7.3 -1.9l-6.1 5.4l7.2 1.9zM899.8 663.3l-7.2 -1.5l-6.2 5.2l7.2 1.6zM891.9 655.9l-7.1 -1.3l-6.1 5.1l7.1 1.3zM884.2 649l-7.1 -1.1l-6.1 5l7.1 1.1zM875.7 637.4l-7 -.7l-6.1 4.9l7 .7z"/><path fill=#4473b6 stroke=#4473b6 d="M1109.3 728.7l-8 -4.5l-6.1 6.3l8 4.6zM1059.2 720.4l-7.8 -4l-6.2 6.2l7.9 4zM1030.7 715.2l-7.8 -3.6l-6.2 6l7.8 3.7zM1002.4 710.8l-7.7 -3.3l-6.2 5.9l7.6 3.4zM995 707.7l-7.6 -3.3l-6.3 5.9l7.7 3.3zM908.7 678.2l-7.2 -1.9l-6.3 5.4l7.3 2zM893.8 668.3l-7.2 -1.6l-6.1 5.3l7.1 1.6zM870.6 647.3l-6.9 -.8l-6.1 4.9l6.9 .9z"/><path fill=#4675b7 stroke=#4675b7 d="M1103.4 734.8l-8 -4.5l-6.2 6.3l8 4.6zM1082.1 732.4l-7.9 -4.4l-6.2 6.3l7.9 4.4zM1060.9 730.2l-7.9 -4.1l-6.2 6.2l7.8 4.2zM1032.2 724.7l-7.8 -3.9l-6.2 6.2l7.8 3.8zM1003.8 719.9l-7.7 -3.5l-6.3 6l7.7 3.6zM961 709.9l-7.6 -3l-6.2 5.8l7.5 3.1zM953.7 707.1l-7.5 -2.9l-6.3 5.8l7.5 2.9zM946.5 704.4l-7.5 -2.8l-6.3 5.8l7.5 2.8zM939.3 701.8l-7.5 -2.7l-6.2 5.7l7.4 2.7zM932.1 699.3l-7.4 -2.5l-6.3 5.6l7.4 2.6zM925 696.9l-7.4 -2.4l-6.3 5.6l7.4 2.5zM917.8 694.7l-7.3 -2.4l-6.3 5.6l7.4 2.4zM888.8 679.9l-7.2 -1.8l-6.3 5.3l7.2 1.9zM858 651.3l-6.9 -.8l-6.1 4.9l6.9 .8zM857.2 646l-6.9 -.6l-6.1 4.9l6.9 .7z"/><path fill=#4777b8 stroke=#4777b8 d="M1097.4 740.9l-7.9 -4.5l-6.2 6.4l8 4.6zM1076.1 738.4l-7.9 -4.3l-6.2 6.3l7.9 4.4zM1026.2 730.6l-7.8 -3.9l-6.3 6.1l7.8 4zM997.7 725.7l-7.7 -3.6l-6.2 6l7.6 3.7zM990.3 722.3l-7.7 -3.5l-6.2 6l7.6 3.5zM954.9 715.5l-7.5 -3.1l-6.3 5.9l7.5 3.1zM947.6 712.6l-7.5 -2.9l-6.3 5.8l7.5 3zM940.4 709.9l-7.5 -2.8l-6.3 5.7l7.5 2.9zM933.2 707.2l-7.4 -2.7l-6.3 5.7l7.4 2.8zM926 704.7l-7.4 -2.6l-6.3 5.7l7.4 2.6zM918.9 702.3l-7.4 -2.5l-6.3 5.6l7.4 2.6zM911.8 700l-7.4 -2.4l-6.3 5.6l7.4 2.4zM904.7 697.8l-7.3 -2.3l-6.3 5.6l7.3 2.3zM882.7 684.9l-7.2 -1.8l-6.2 5.4l7.2 1.9zM868.1 675.4l-7.1 -1.4l-6.2 5.2l7.1 1.5zM860.4 668.1l-7 -1.2l-6.2 5.1l7 1.3zM852.9 661.4l-7 -1l-6.2 5l7 1.1zM852.1 655.9l-6.9 -.8l-6.2 4.9l7 .9z"/><path fill=#4979b9 stroke=#4979b9 d="M1091.5 747.1l-8 -4.6l-6.2 6.4l8 4.7zM1070.1 744.5l-7.9 -4.4l-6.2 6.4l7.9 4.5zM1048.8 742.3l-7.8 -4.3l-6.3 6.3l7.9 4.3zM1027.7 740.3l-7.9 -4l-6.2 6.2l7.8 4.1zM1020.1 736.5l-7.8 -3.9l-6.2 6.1l7.8 4zM999.1 735l-7.7 -3.7l-6.3 6.1l7.7 3.8zM991.7 731.5l-7.7 -3.7l-6.3 6.1l7.7 3.7zM963.4 727.2l-7.6 -3.3l-6.3 6l7.6 3.3zM956.1 724.1l-7.6 -3.2l-6.3 5.9l7.6 3.3zM948.8 721.1l-7.5 -3.1l-6.3 5.9l7.5 3.1zM891.6 700.9l-7.3 -2.2l-6.3 5.5l7.3 2.3zM884.6 698.9l-7.3 -2.1l-6.3 5.5l7.3 2.1zM877.6 697l-7.2 -2l-6.3 5.4l7.2 2.1zM869.8 688.4l-7.2 -1.8l-6.3 5.4l7.2 1.8zM862.9 686.8l-7.1 -1.6l-6.3 5.3l7.1 1.6zM855.2 679l-7 -1.4l-6.3 5.2l7.1 1.5zM847.7 671.9l-7 -1.2l-6.3 5.1l7.1 1.2zM839.5 659.9l-6.9 -.8l-6.2 5l6.9 .8zM838.8 654.7l-6.9 -.7l-6.2 4.9l6.9 .7zM835.3 631.5l-6.8 0l-6 4.6l6.8 .1z"/><path fill=#4b7bba stroke=#4b7bba d="M1085.5 753.3l-8 -4.6l-6.2 6.4l7.9 4.7zM1042.8 748.3l-7.9 -4.2l-6.3 6.3l7.9 4.3zM1021.6 746.3l-7.8 -4.1l-6.3 6.3l7.8 4.1zM1000.5 744.6l-7.8 -3.9l-6.3 6.2l7.8 3.9zM993 740.9l-7.7 -3.8l-6.3 6.1l7.7 3.9zM964.7 736.2l-7.7 -3.5l-6.3 6.1l7.6 3.5zM957.3 732.9l-7.6 -3.3l-6.3 6l7.6 3.4zM922.1 726.5l-7.5 -3l-6.3 5.8l7.4 3.1zM914.9 723.7l-7.4 -2.8l-6.4 5.7l7.4 2.9zM907.7 721l-7.4 -2.7l-6.3 5.8l7.4 2.7zM900.6 718.5l-7.4 -2.6l-6.3 5.7l7.3 2.6zM893.5 716.1l-7.4 -2.6l-6.3 5.7l7.3 2.6zM871.5 702.2l-7.2 -2.1l-6.4 5.5l7.3 2.1zM864.5 700.3l-7.1 -1.9l-6.4 5.4l7.2 2zM857.6 698.5l-7.1 -1.8l-6.4 5.4l7.2 1.9zM850 690.3l-7.1 -1.6l-6.3 5.3l7.1 1.7zM842.4 682.7l-7 -1.3l-6.3 5.2l7 1.3zM834.9 675.7l-7 -1.1l-6.2 5.1l7 1.1zM826.9 663.9l-6.9 -.7l-6.2 4.9l6.9 .8zM826.2 658.8l-6.8 -.6l-6.2 4.9l6.9 .6zM825.6 653.8l-6.9 -.4l-6.1 4.8l6.8 .5zM824.9 649.1l-6.8 -.3l-6.1 4.7l6.8 .4zM824.3 644.5l-6.8 -.1l-6.1 4.7l6.8 .2zM823.6 640.2l-6.7 -.1l-6.1 4.7l6.8 0zM823 636l-6.7 0l-6.1 4.6l6.8 0z"/><path fill=#4c7cbb stroke=#4c7cbb d="M1079.4 759.6l-7.9 -4.8l-6.3 6.5l8 4.8zM1058 756.8l-7.9 -4.5l-6.3 6.4l8 4.6zM1036.7 754.4l-7.8 -4.3l-6.3 6.4l7.8 4.3zM1008 748.4l-7.8 -4l-6.3 6.2l7.8 4.1zM979.5 743.2l-7.7 -3.8l-6.4 6.2l7.7 3.7zM951.2 738.7l-7.6 -3.4l-6.4 6l7.6 3.5zM943.9 735.5l-7.6 -3.3l-6.4 5.9l7.6 3.4zM936.6 732.4l-7.6 -3.2l-6.3 5.9l7.5 3.2zM872.4 709.4l-7.3 -2.2l-6.3 5.5l7.2 2.3zM865.4 707.4l-7.2 -2.1l-6.4 5.5l7.2 2.1zM858.4 705.5l-7.2 -2l-6.3 5.4l7.2 2.1zM850.7 696.9l-7.1 -1.7l-6.3 5.3l7.1 1.8zM843.9 695.3l-7.1 -1.6l-6.3 5.3l7.1 1.7zM836.3 687.6l-7 -1.4l-6.3 5.2l7 1.5zM828.9 680.5l-7 -1.1l-6.2 5.1l6.9 1.1zM828.2 674.8l-6.9 -1l-6.3 5l7 1.1zM820.9 668.6l-6.9 -.8l-6.2 5l6.9 .7zM820.3 663.4l-6.9 -.7l-6.2 4.9l6.9 .7zM819.6 658.4l-6.8 -.5l-6.1 4.8l6.8 .5zM819 653.6l-6.8 -.4l-6.1 4.8l6.8 .4zM818.4 648.9l-6.8 -.2l-6.1 4.7l6.8 .3zM817.8 644.5l-6.8 -.1l-6.1 4.7l6.8 .1zM817.1 640.3l-6.7 0l-6 4.6l6.7 0z"/><path fill=#4e7ebc stroke=#4e7ebc d="M1073.4 765.8l-8 -4.7l-6.2 6.5l7.9 4.8zM1052 763l-7.9 -4.5l-6.3 6.4l7.9 4.6zM1030.6 760.6l-7.8 -4.4l-6.4 6.4l7.9 4.4zM1009.4 758.4l-7.8 -4.2l-6.4 6.3l7.8 4.2zM1001.9 754.4l-7.8 -4.1l-6.4 6.3l7.8 4.1zM980.8 752.7l-7.8 -3.9l-6.3 6.2l7.7 4zM952.4 747.8l-7.6 -3.5l-6.4 6l7.6 3.7zM945 744.5l-7.6 -3.5l-6.3 6l7.5 3.5zM909.8 737.7l-7.5 -3.1l-6.4 5.9l7.5 3.1zM902.6 734.8l-7.5 -2.9l-6.4 5.8l7.5 3zM895.4 732.1l-7.4 -2.9l-6.4 5.8l7.4 2.9zM888.3 729.4l-7.4 -2.7l-6.4 5.7l7.4 2.8zM881.2 726.9l-7.4 -2.6l-6.4 5.7l7.4 2.6zM874.1 724.5l-7.3 -2.5l-6.4 5.6l7.3 2.6zM867.1 722.1l-7.3 -2.3l-6.4 5.6l7.3 2.4zM852.3 710.6l-7.2 -2l-6.4 5.5l7.2 2.1zM845.4 708.8l-7.2 -1.9l-6.4 5.4l7.2 2zM837.8 700.4l-7.1 -1.7l-6.4 5.3l7.1 1.7zM830.9 698.9l-7 -1.6l-6.4 5.3l7.1 1.6zM823.5 691.3l-7 -1.3l-6.3 5.2l7 1.3zM816.1 684.3l-6.9 -1.1l-6.3 5.1l6.9 1.2zM815.5 678.7l-6.9 -1l-6.3 5.1l7 .9zM814.9 673.2l-6.9 -.8l-6.2 5l6.9 .8zM807.7 667.5l-6.8 -.6l-6.2 4.9l6.8 .6zM807.1 662.6l-6.8 -.5l-6.1 4.9l6.7 .4zM806.6 657.8l-6.8 -.3l-6.2 4.8l6.8 .3zM806 653.3l-6.7 -.2l-6.2 4.7l6.8 .2zM810.7 640.5l-6.7 .1l-6 4.6l6.7 -.1zM810.1 636.5l-6.6 .3l-6 4.5l6.6 -.2zM809.5 632.8l-6.6 .4l-6 4.4l6.6 -.3z"/><path fill=#5080bd stroke=#5080bd d="M1067.3 772.1l-7.9 -4.8l-6.3 6.5l7.9 4.9zM1045.9 769.3l-7.9 -4.7l-6.4 6.5l8 4.7zM1024.5 766.7l-7.8 -4.4l-6.4 6.4l7.9 4.5zM1003.3 764.5l-7.9 -4.3l-6.3 6.4l7.8 4.2zM982.1 762.5l-7.8 -4l-6.4 6.2l7.8 4.1zM974.6 758.7l-7.7 -4l-6.4 6.3l7.7 4zM953.6 757.2l-7.7 -3.7l-6.4 6.1l7.7 3.8zM946.2 753.7l-7.6 -3.7l-6.4 6.2l7.6 3.6zM918.1 749.5l-7.6 -3.4l-6.4 6l7.5 3.4zM910.8 746.3l-7.5 -3.2l-6.4 6l7.5 3.2zM903.6 743.3l-7.5 -3.1l-6.4 5.9l7.4 3.2zM896.4 740.4l-7.5 -3l-6.4 5.9l7.4 3zM889.2 737.6l-7.4 -2.9l-6.4 5.8l7.4 3zM882.1 734.9l-7.4 -2.8l-6.4 5.8l7.4 2.8zM875 732.3l-7.4 -2.6l-6.4 5.7l7.4 2.7zM867.9 729.9l-7.3 -2.6l-6.4 5.7l7.3 2.6zM860.9 727.5l-7.3 -2.4l-6.4 5.6l7.2 2.5zM853.9 725.3l-7.3 -2.4l-6.4 5.6l7.2 2.4zM846.9 723.1l-7.2 -2.2l-6.4 5.6l7.2 2.2zM832.3 712.2l-7.1 -1.9l-6.4 5.4l7.1 1.9zM825.5 710.5l-7.1 -1.7l-6.4 5.3l7.1 1.8zM818 702.5l-7 -1.5l-6.4 5.2l7.1 1.6zM810.7 695l-7 -1.2l-6.3 5.2l6.9 1.3zM810.1 689.1l-7 -1.1l-6.3 5.1l6.9 1.2zM803.4 688.2l-6.9 -1l-6.3 5l6.9 1.1zM802.8 682.6l-6.8 -.9l-6.3 5.1l6.8 .9zM802.3 677.2l-6.9 -.7l-6.2 5l6.8 .7zM801.7 672.1l-6.8 -.6l-6.2 4.9l6.8 .6zM799.5 653.3l-6.7 -.1l-6.1 4.7l6.7 .1zM799 649.1l-6.7 0l-6.1 4.6l6.7 0zM798.4 645l-6.6 .2l-6.1 4.6l6.7 -.2zM803.2 633.3l-6.6 .5l-6 4.4l6.6 -.4z"/><path fill=#5282be stroke=#5282be d="M1061.3 778.4l-8 -4.8l-6.3 6.5l7.9 4.9zM997.1 770.6l-7.8 -4.3l-6.4 6.3l7.8 4.4zM975.9 768.6l-7.7 -4.1l-6.5 6.3l7.8 4.1zM947.4 763.1l-7.7 -3.8l-6.4 6.2l7.6 3.9zM911.8 755.2l-7.5 -3.4l-6.5 6.1l7.6 3.4zM904.6 752l-7.5 -3.2l-6.5 5.9l7.5 3.4zM840.7 728.4l-7.2 -2.2l-6.5 5.5l7.2 2.4zM833.7 726.3l-7.1 -2.1l-6.5 5.5l7.2 2.2zM819.3 715.6l-7.1 -1.8l-6.4 5.4l7.1 1.9zM805.1 706.1l-7 -1.4l-6.4 5.2l7 1.5zM797.3 693l-6.9 -1.1l-6.3 5.1l6.9 1.1zM789.6 681.3l-6.8 -.7l-6.2 5l6.8 .7zM789.1 676.2l-6.7 -.5l-6.3 4.8l6.8 .6zM788.6 671.3l-6.7 -.4l-6.2 4.8l6.7 .5zM788.1 666.6l-6.7 -.3l-6.2 4.8l6.7 .3zM787.7 662.1l-6.7 -.2l-6.2 4.7l6.7 .2zM792.1 645.4l-6.6 .2l-6.1 4.6l6.6 -.3zM796.9 634l-6.6 .5l-6 4.4l6.6 -.5z"/><path fill=#5483bf stroke=#5483bf d="M1055.1 784.8l-7.9 -4.9l-6.4 6.6l8 4.9zM1033.6 781.8l-7.9 -4.7l-6.3 6.5l7.9 4.8zM1012.2 779.1l-7.8 -4.5l-6.4 6.4l7.8 4.6zM990.9 776.7l-7.8 -4.3l-6.4 6.3l7.8 4.4zM962.2 770.7l-7.7 -4.1l-6.4 6.3l7.7 4.1zM941.2 769.1l-7.7 -3.9l-6.5 6.2l7.7 3.9zM933.8 765.4l-7.6 -3.7l-6.5 6.2l7.6 3.8zM905.6 761l-7.5 -3.4l-6.5 6l7.5 3.5zM898.3 757.8l-7.5 -3.4l-6.4 6.1l7.4 3.3zM891.1 754.6l-7.5 -3.2l-6.4 6l7.4 3.3zM841.4 736l-7.2 -2.4l-6.5 5.6l7.2 2.5zM834.4 733.7l-7.2 -2.3l-6.4 5.6l7.2 2.4zM827.5 731.6l-7.2 -2.2l-6.4 5.6l7.1 2.2zM813.1 720.7l-7.1 -1.8l-6.4 5.4l7.1 1.9zM806.3 719.1l-7.1 -1.7l-6.4 5.3l7 1.8zM798.9 711.1l-6.9 -1.5l-6.5 5.3l7 1.5zM791.7 703.7l-6.9 -1.2l-6.4 5.1l6.9 1.3zM791.2 697.8l-6.9 -1.1l-6.4 5.1l6.9 1.1zM784.1 691.3l-6.9 -.8l-6.3 5l6.8 .9zM783.6 686l-6.8 -.8l-6.3 5l6.8 .8zM783.1 680.8l-6.8 -.6l-6.2 4.9l6.7 .6zM782.6 675.8l-6.7 -.4l-6.3 4.8l6.8 .5zM782.2 671.1l-6.8 -.4l-6.2 4.8l6.7 .4zM781.7 666.5l-6.7 -.2l-6.2 4.7l6.7 .2zM781.2 662.1l-6.6 -.1l-6.2 4.7l6.7 .1zM780.8 657.9l-6.7 0l-6.1 4.7l6.6 -.1zM785.7 645.8l-6.5 .4l-6.1 4.5l6.6 -.4zM790.6 634.7l-6.5 .6l-6 4.4l6.5 -.6z"/><path fill=#5685c0 stroke=#5685c0 d="M1049 791.1l-8 -4.9l-6.3 6.6l7.9 5zM1027.5 788.1l-7.9 -4.8l-6.4 6.6l7.9 4.8zM1006.1 785.3l-7.9 -4.6l-6.4 6.5l7.8 4.6zM984.7 782.9l-7.8 -4.4l-6.4 6.4l7.8 4.4zM963.5 780.7l-7.8 -4.2l-6.4 6.3l7.7 4.3zM956 776.7l-7.7 -4.1l-6.5 6.3l7.7 4.2zM934.9 775l-7.6 -3.8l-6.5 6.2l7.6 3.9zM927.5 771.4l-7.6 -3.8l-6.5 6.2l7.6 3.8zM899.3 766.8l-7.5 -3.5l-6.5 6.1l7.5 3.5zM892.1 763.5l-7.5 -3.3l-6.5 6l7.5 3.4zM821.3 736.9l-7.2 -2.2l-6.5 5.6l7.2 2.3zM814.3 734.9l-7.1 -2.2l-6.5 5.6l7.1 2.2zM800.1 724.2l-7.1 -1.8l-6.4 5.4l7 1.8zM792.7 716.1l-6.9 -1.5l-6.5 5.3l7 1.5zM786 714.7l-6.9 -1.4l-6.4 5.3l6.9 1.5zM785.5 708.6l-6.9 -1.3l-6.4 5.2l6.9 1.3zM778.4 701.7l-6.8 -1.1l-6.4 5.1l6.8 1.1zM778 696.1l-6.9 -.9l-6.3 5l6.8 .9zM770.1 680.1l-6.7 -.4l-6.3 4.8l6.7 .4zM774.8 662.2l-6.6 0l-6.1 4.7l6.6 0zM774.4 658.1l-6.6 .2l-6.1 4.6l6.6 -.2zM779.4 646.3l-6.5 .5l-6.1 4.4l6.6 -.4zM784.3 635.5l-6.5 .7l-6 4.4l6.5 -.7z"/><path fill=#5987c1 stroke=#5987c1 d="M1042.9 797.5l-8 -5l-6.4 6.7l8 5.1zM1007.5 796.1l-7.9 -4.8l-6.5 6.6l7.9 4.8zM986 793.4l-7.8 -4.6l-6.5 6.5l7.9 4.6zM957.2 786.8l-7.7 -4.2l-6.5 6.3l7.7 4.3zM936 784.9l-7.6 -4.1l-6.6 6.3l7.7 4.2zM907.6 779.6l-7.6 -3.7l-6.5 6.1l7.6 3.9zM900.3 776.1l-7.5 -3.7l-6.6 6.2l7.6 3.7zM865 768.7l-7.4 -3.2l-6.5 6l7.4 3.3zM857.9 765.7l-7.4 -3.1l-6.6 5.9l7.4 3.2zM850.8 762.8l-7.4 -3l-6.6 5.9l7.4 3zM843.7 760l-7.4 -2.9l-6.5 5.8l7.3 3zM836.6 757.3l-7.3 -2.8l-6.5 5.8l7.3 2.8zM829.6 754.7l-7.3 -2.7l-6.5 5.8l7.2 2.7zM822.6 752.2l-7.3 -2.5l-6.5 5.7l7.2 2.6zM815.6 749.9l-7.2 -2.5l-6.5 5.7l7.2 2.5zM808.7 747.6l-7.2 -2.3l-6.5 5.6l7.1 2.4zM794.4 736.3l-7.1 -2l-6.5 5.5l7 2zM787.5 734.5l-7 -1.9l-6.5 5.5l7 1.9zM780.3 726.2l-7 -1.6l-6.5 5.3l7 1.7zM773.1 718.4l-6.9 -1.3l-6.4 5.2l6.9 1.4zM766.1 711.3l-6.9 -1.1l-6.4 5.1l6.8 1.2zM765.7 705.6l-6.9 -1l-6.4 5.1l6.9 1zM762.5 666.7l-6.6 .1l-6.1 4.6l6.5 0zM762.1 662.7l-6.5 .2l-6.2 4.6l6.6 -.2zM767.7 654.7l-6.6 .3l-6.1 4.5l6.6 -.3zM767.3 651.1l-6.5 .5l-6.1 4.4l6.5 -.5zM772.7 643.6l-6.5 .6l-6 4.4l6.5 -.6z"/><path fill=#5b89c2 stroke=#5b89c2 d="M1036.7 804l-8 -5.1l-6.4 6.7l8 5.1zM1001.2 802.4l-7.9 -4.8l-6.4 6.6l7.9 4.9zM979.8 799.6l-7.8 -4.6l-6.5 6.6l7.8 4.6zM950.9 793l-7.7 -4.3l-6.5 6.4l7.7 4.3zM929.7 791l-7.6 -4.1l-6.6 6.3l7.7 4.1zM901.3 785.6l-7.6 -3.8l-6.5 6.2l7.5 3.8zM894 782l-7.6 -3.7l-6.5 6.1l7.5 3.8zM865.9 777.6l-7.5 -3.3l-6.5 6l7.4 3.5zM858.7 774.5l-7.4 -3.3l-6.6 6l7.4 3.3zM851.6 771.4l-7.4 -3.2l-6.6 6l7.4 3.2zM844.4 768.4l-7.3 -3l-6.6 5.9l7.3 3.1zM816.2 757.7l-7.2 -2.6l-6.6 5.7l7.3 2.7zM809.3 755.3l-7.2 -2.5l-6.6 5.7l7.2 2.5zM802.3 753l-7.1 -2.4l-6.6 5.7l7.2 2.4zM795.4 750.8l-7.1 -2.3l-6.6 5.6l7.2 2.4zM781.3 739.7l-7.1 -1.9l-6.5 5.4l7 2zM774 731.2l-6.9 -1.6l-6.6 5.4l7 1.6zM767.3 729.8l-6.9 -1.6l-6.5 5.3l6.9 1.6zM760.2 722.2l-6.8 -1.3l-6.5 5.2l6.9 1.4zM759.9 716.2l-6.9 -1.2l-6.4 5.2l6.8 1.2zM752.9 709.5l-6.8 -.9l-6.4 5.1l6.8 .9zM752.6 704.1l-6.8 -.8l-6.4 5l6.8 .8zM752.2 698.8l-6.7 -.6l-6.4 4.9l6.8 .7zM751.9 693.7l-6.7 -.5l-6.4 4.9l6.7 .6zM751.5 688.9l-6.6 -.4l-6.3 4.8l6.6 .4zM751.2 684.2l-6.6 -.3l-6.3 4.8l6.6 .3zM750.9 679.7l-6.6 -.1l-6.3 4.7l6.6 .1zM750.5 675.4l-6.5 0l-6.3 4.7l6.6 0zM756.2 667l-6.6 .1l-6.1 4.6l6.5 -.1zM755.8 663.1l-6.5 .3l-6.1 4.5l6.5 -.3zM761 651.7l-6.4 .6l-6.1 4.4l6.5 -.5zM766.5 644.4l-6.4 .7l-6.1 4.4l6.5 -.7zM771.9 637.3l-6.4 .9l-6 4.3l6.4 -.9z"/><path fill=#5d8ac3 stroke=#5d8ac3 d="M1030.5 810.4l-8 -5.1l-6.4 6.7l7.9 5.2zM1008.9 807.1l-7.9 -4.9l-6.5 6.7l7.9 4.9zM944.6 799.1l-7.7 -4.3l-6.5 6.4l7.7 4.4zM887.6 787.9l-7.5 -3.7l-6.6 6.2l7.6 3.7zM852.3 780.2l-7.4 -3.3l-6.6 6l7.4 3.4zM845.2 777.1l-7.4 -3.2l-6.6 6l7.4 3.2zM802.9 760.7l-7.2 -2.5l-6.6 5.7l7.2 2.6zM796 758.4l-7.2 -2.4l-6.6 5.7l7.2 2.4zM774.9 744.9l-7 -2l-6.6 5.5l7.1 2zM761 734.8l-6.9 -1.6l-6.5 5.4l6.9 1.6zM754 727.1l-6.9 -1.3l-6.5 5.2l6.9 1.4zM746.7 714.3l-6.8 -.9l-6.4 5.1l6.8 .9zM746.4 708.8l-6.8 -.8l-6.4 5l6.8 .9zM744.8 684.1l-6.6 -.1l-6.3 4.7l6.6 .2zM744.5 679.7l-6.5 0l-6.3 4.7l6.6 .1zM755.2 655.8l-6.5 .6l-6.1 4.4l6.5 -.5z"/><path fill=#5f8cc4 stroke=#5f8cc4 d="M1024.2 816.9l-7.9 -5.2l-6.5 6.8l8 5.2zM1002.6 813.6l-7.9 -5l-6.5 6.6l7.9 5.1zM981.1 810.5l-7.9 -4.8l-6.5 6.6l7.9 4.8zM959.7 807.8l-7.8 -4.6l-6.6 6.5l7.8 4.6zM938.3 805.3l-7.7 -4.4l-6.6 6.5l7.8 4.4zM917.1 803.2l-7.7 -4.2l-6.6 6.4l7.7 4.2zM888.6 797.5l-7.6 -3.9l-6.6 6.3l7.6 4zM860.4 792.7l-7.5 -3.6l-6.7 6.2l7.5 3.6zM853.1 789.3l-7.4 -3.5l-6.6 6.1l7.4 3.6zM846 786l-7.5 -3.4l-6.6 6.1l7.4 3.4zM838.8 782.8l-7.4 -3.2l-6.6 6l7.4 3.3zM789.6 763.8l-7.1 -2.5l-6.7 5.8l7.2 2.5zM782.7 761.5l-7.1 -2.3l-6.6 5.6l7.1 2.4zM775.9 759.4l-7.1 -2.3l-6.6 5.6l7 2.3zM761.8 748.3l-7 -1.9l-6.6 5.5l7 1.9zM755.1 746.6l-7 -1.8l-6.6 5.4l7 1.9zM754.7 739.9l-6.9 -1.6l-6.6 5.3l7 1.7zM748 738.4l-6.8 -1.5l-6.6 5.3l6.9 1.6zM747.7 732.1l-6.9 -1.4l-6.5 5.3l6.9 1.4zM741.1 730.9l-6.8 -1.3l-6.6 5.3l6.9 1.3zM740.8 724.9l-6.8 -1.1l-6.5 5.1l6.8 1.2zM733.7 712.9l-6.7 -.8l-6.4 5l6.7 .8zM733.4 707.6l-6.6 -.6l-6.5 4.9l6.7 .7zM733.2 702.5l-6.7 -.4l-6.4 4.9l6.7 .5zM732.9 697.7l-6.6 -.4l-6.4 4.9l6.7 .4zM732.7 693l-6.6 -.2l-6.4 4.8l6.6 .2zM738.2 679.9l-6.5 .1l-6.3 4.6l6.5 0zM737.9 675.8l-6.5 .2l-6.2 4.6l6.5 -.1zM743.3 664.1l-6.4 .5l-6.2 4.5l6.5 -.5zM749 656.5l-6.5 .7l-6.1 4.4l6.4 -.6z"/><path fill=#618ec5 stroke=#618ec5 d="M1018 823.4l-8 -5.2l-6.5 6.8l8 5.3zM996.4 820l-8 -5l-6.5 6.7l7.9 5zM932 811.5l-7.8 -4.4l-6.6 6.5l7.8 4.5zM910.7 809.3l-7.7 -4.2l-6.6 6.4l7.7 4.3zM882.2 803.6l-7.6 -4l-6.6 6.3l7.6 4zM854 798.6l-7.5 -3.6l-6.7 6.1l7.5 3.7zM846.7 795.2l-7.4 -3.6l-6.7 6.2l7.5 3.5zM769.5 764.7l-7.1 -2.3l-6.7 5.7l7.1 2.3zM762.6 762.6l-7 -2.2l-6.7 5.6l7.1 2.3zM748.7 751.8l-6.9 -1.9l-6.6 5.5l6.9 1.9zM741.7 743.5l-6.9 -1.6l-6.6 5.4l6.9 1.6zM734.8 735.9l-6.8 -1.4l-6.6 5.3l6.8 1.3zM728 728.8l-6.8 -1.1l-6.5 5.2l6.7 1.1zM727.7 723.1l-6.7 -.9l-6.5 5l6.7 1zM727.5 717.6l-6.7 -.8l-6.5 5l6.7 .8zM726.3 693l-6.5 -.2l-6.4 4.8l6.6 .1zM726.1 688.6l-6.5 0l-6.3 4.7l6.5 0zM731.7 676.2l-6.5 .3l-6.2 4.6l6.4 -.3zM737.1 664.8l-6.4 .5l-6.1 4.5l6.4 -.6zM742.8 657.4l-6.4 .7l-6.1 4.4l6.4 -.7z"/><path fill=#6490c6 stroke=#6490c6 d="M1011.7 830l-8 -5.3l-6.5 6.8l8 5.3zM997.7 831.4l-7.9 -5.2l-6.6 6.8l8 5.3zM976.1 828.1l-7.9 -5.1l-6.6 6.7l7.9 5.1zM954.6 825l-7.9 -4.8l-6.6 6.6l7.9 4.9zM933.1 822.2l-7.8 -4.6l-6.6 6.5l7.8 4.7zM911.8 819.7l-7.8 -4.4l-6.6 6.5l7.7 4.5zM883.1 813.5l-7.6 -4.1l-6.6 6.4l7.6 4.2zM862 811.9l-7.5 -4l-6.7 6.4l7.5 3.9zM854.8 808.2l-7.6 -3.9l-6.6 6.3l7.5 3.9zM819.5 800.2l-7.4 -3.4l-6.7 6.1l7.4 3.5zM812.4 797l-7.4 -3.2l-6.7 6l7.4 3.3zM805.3 794l-7.3 -3.2l-6.7 6l7.3 3.2zM798.2 791l-7.2 -3.1l-6.7 6l7.2 3.1zM791.2 788.1l-7.2 -2.9l-6.7 5.9l7.2 3zM784.2 785.4l-7.2 -2.8l-6.7 5.8l7.2 2.9zM777.3 782.8l-7.2 -2.8l-6.7 5.9l7.2 2.7zM770.4 780.2l-7.2 -2.6l-6.7 5.8l7.2 2.7zM763.5 777.8l-7.1 -2.5l-6.7 5.8l7.1 2.5zM756.6 775.5l-7.1 -2.4l-6.7 5.7l7.1 2.5zM742.7 764l-7 -2l-6.7 5.5l7 2.1zM735.9 762.2l-6.9 -2l-6.7 5.6l7 1.9zM729 753.7l-6.9 -1.7l-6.6 5.4l6.8 1.7zM722.1 745.8l-6.8 -1.4l-6.6 5.3l6.8 1.5zM721.9 739.6l-6.8 -1.2l-6.6 5.2l6.8 1.3zM715.2 732.7l-6.8 -1l-6.5 5.1l6.7 1.1zM715 727.1l-6.7 -.9l-6.5 5.1l6.7 .9zM714.8 721.7l-6.7 -.8l-6.5 5l6.7 .8zM714.3 706.5l-6.6 -.3l-6.4 4.8l6.5 .4zM714.1 701.9l-6.6 -.2l-6.3 4.8l6.5 .2zM713.9 697.4l-6.5 -.1l-6.4 4.8l6.6 .1zM713.7 693.1l-6.4 .1l-6.4 4.7l6.5 -.1zM719.6 684.7l-6.4 .3l-6.3 4.6l6.5 -.2zM719.4 680.9l-6.4 .3l-6.2 4.6l6.4 -.3zM725.2 673l-6.4 .5l-6.2 4.5l6.4 -.5zM730.7 662.3l-6.3 .8l-6.1 4.3l6.3 -.7zM736.4 655.3l-6.4 .9l-6 4.3l6.3 -.9zM741.9 648.5l-6.3 1.1l-6 4.2l6.3 -1z"/><path fill=#6692c7 stroke=#6692c7 d="M1005.4 836.6l-8 -5.4l-6.5 6.8l8 5.4zM969.7 834.5l-7.8 -5l-6.6 6.7l7.9 5.1zM948.2 831.4l-7.8 -4.9l-6.7 6.7l7.9 4.9zM926.7 828.5l-7.8 -4.6l-6.6 6.5l7.8 4.8zM905.3 826l-7.7 -4.5l-6.6 6.5l7.7 4.6zM876.7 819.7l-7.6 -4.2l-6.7 6.4l7.6 4.2zM855.6 817.9l-7.6 -3.9l-6.7 6.3l7.6 4zM848.3 814.2l-7.5 -3.9l-6.7 6.3l7.5 3.9zM820.2 809.4l-7.4 -3.5l-6.8 6.2l7.4 3.6zM813 806.1l-7.4 -3.5l-6.7 6.2l7.4 3.5zM805.9 802.8l-7.3 -3.3l-6.8 6.1l7.4 3.4zM757 783.3l-7.1 -2.5l-6.7 5.7l7.1 2.6zM750.1 781l-7 -2.5l-6.8 5.8l7.1 2.4zM743.3 778.7l-7 -2.3l-6.7 5.7l7 2.3zM729.5 767.4l-6.9 -2l-6.7 5.6l6.9 2zM722.6 758.8l-6.9 -1.7l-6.7 5.4l6.9 1.8zM715.9 757.3l-6.8 -1.6l-6.7 5.4l6.9 1.6zM715.7 750.8l-6.8 -1.4l-6.6 5.3l6.8 1.5zM709 743.5l-6.7 -1.2l-6.6 5.2l6.7 1.2zM702.1 725.8l-6.6 -.7l-6.5 5l6.6 .7zM702 720.6l-6.6 -.5l-6.5 4.9l6.6 .6zM701.9 715.7l-6.6 -.5l-6.5 4.9l6.6 .5zM701.7 710.9l-6.5 -.3l-6.4 4.8l6.5 .3zM707.6 697.5l-6.4 0l-6.4 4.7l6.5 0zM707.5 693.4l-6.4 .1l-6.4 4.6l6.5 -.1zM713.3 681.4l-6.4 .4l-6.3 4.5l6.4 -.4zM719.1 673.7l-6.4 .6l-6.2 4.4l6.4 -.5zM741.7 645.9l-6.3 1.2l-6 4.2l6.3 -1.2z"/><path fill=#6893c8 stroke=#6893c8 d="M999.1 843.2l-8 -5.4l-6.5 6.8l7.9 5.5zM977.4 839.5l-7.9 -5.2l-6.6 6.8l7.9 5.2zM941.8 837.8l-7.8 -4.9l-6.7 6.7l7.8 4.9zM920.3 834.9l-7.8 -4.7l-6.6 6.6l7.7 4.7zM870.2 825.8l-7.6 -4.2l-6.7 6.5l7.6 4.2zM841.8 820.2l-7.5 -3.9l-6.7 6.3l7.5 4zM806.5 812l-7.4 -3.5l-6.7 6.1l7.4 3.6zM799.4 808.7l-7.3 -3.4l-6.8 6.1l7.3 3.4zM750.5 788.8l-7.1 -2.6l-6.8 5.8l7.2 2.7zM743.6 786.4l-7 -2.5l-6.8 5.8l7.1 2.5zM736.8 784.1l-7 -2.3l-6.8 5.7l7.1 2.4zM723 772.7l-6.9 -2l-6.7 5.5l6.9 2zM709.5 762.4l-6.8 -1.6l-6.7 5.4l6.8 1.7zM702.6 748.4l-6.7 -1.2l-6.6 5.2l6.7 1.3zM695.9 735.9l-6.6 -.9l-6.6 5.1l6.7 .9zM695.8 730.5l-6.6 -.7l-6.5 5l6.6 .7zM695.7 725.3l-6.6 -.6l-6.5 4.9l6.6 .7zM695.6 720.2l-6.5 -.4l-6.5 4.9l6.5 .5zM695.5 715.4l-6.5 -.3l-6.4 4.8l6.5 .4zM695.5 710.8l-6.5 -.2l-6.5 4.8l6.5 .2zM701.4 697.7l-6.4 .1l-6.4 4.7l6.4 -.1zM707.2 685.6l-6.4 .4l-6.2 4.5l6.4 -.3zM712.9 674.5l-6.3 .6l-6.2 4.5l6.4 -.7zM718.7 667.2l-6.3 .9l-6.1 4.3l6.3 -.8zM724.4 660.3l-6.3 1l-6.1 4.3l6.3 -1zM730.1 653.6l-6.3 1.2l-6 4.2l6.2 -1.1z"/><path fill=#6a95c9 stroke=#6a95c9 d="M992.8 849.8l-8 -5.4l-6.6 6.8l8 5.5zM971 846l-7.9 -5.2l-6.6 6.8l7.9 5.3zM935.4 844.3l-7.9 -5l-6.6 6.7l7.8 5zM913.8 841.3l-7.7 -4.8l-6.7 6.6l7.8 4.9zM892.4 838.6l-7.7 -4.6l-6.7 6.6l7.7 4.6zM863.7 832l-7.6 -4.2l-6.7 6.4l7.6 4.3zM842.6 830.2l-7.6 -4.1l-6.7 6.4l7.5 4.1zM835.3 826.3l-7.5 -4l-6.8 6.4l7.5 4zM807.1 821.3l-7.4 -3.6l-6.8 6.2l7.4 3.7zM800 817.9l-7.4 -3.6l-6.8 6.2l7.4 3.6zM792.9 814.5l-7.4 -3.4l-6.8 6.1l7.4 3.5zM730.3 789.6l-7 -2.4l-6.8 5.7l7 2.5zM723.5 787.4l-7 -2.3l-6.7 5.6l7 2.4zM709.9 776.1l-6.9 -2l-6.8 5.6l6.9 2zM703.1 767.5l-6.9 -1.6l-6.7 5.4l6.9 1.7zM696.5 766l-6.8 -1.5l-6.7 5.4l6.8 1.6zM696.4 759.6l-6.8 -1.4l-6.7 5.3l6.8 1.5zM689.8 752.3l-6.8 -1.2l-6.6 5.2l6.7 1.2zM689.7 746.4l-6.7 -1.1l-6.6 5.2l6.7 1.1zM689.2 710.8l-6.5 -.1l-6.4 4.7l6.5 .1zM689.1 706.4l-6.4 .1l-6.4 4.7l6.4 0zM695.1 694.1l-6.4 .3l-6.3 4.6l6.4 -.3zM701.1 686.2l-6.4 .5l-6.2 4.5l6.3 -.5zM706.8 675.3l-6.3 .8l-6.1 4.3l6.3 -.7zM712.6 668.2l-6.2 .9l-6.2 4.4l6.3 -.9zM718.4 661.4l-6.3 1.1l-6.1 4.2l6.3 -1zM735.4 644.9l-6.2 1.4l-6 4.1l6.2 -1.3z"/><path fill=#6d97ca stroke=#6d97ca d="M986.4 856.4l-8 -5.4l-6.6 6.9l8 5.5zM950.6 854.1l-7.9 -5.2l-6.7 6.8l7.9 5.3zM864.6 842.5l-7.7 -4.5l-6.7 6.6l7.6 4.5zM843.3 840.3l-7.5 -4.2l-6.8 6.5l7.5 4.3zM815 834.7l-7.5 -4l-6.8 6.4l7.4 3.9zM807.7 830.9l-7.4 -3.8l-6.8 6.3l7.4 3.9zM772.7 823l-7.4 -3.4l-6.8 6.1l7.3 3.5zM765.6 819.8l-7.3 -3.3l-6.8 6.1l7.3 3.3zM758.6 816.7l-7.2 -3.2l-6.9 6.1l7.3 3.2zM751.6 813.7l-7.2 -3l-6.8 6l7.2 3.1zM744.7 810.9l-7.2 -3l-6.8 6l7.1 3zM737.8 808.1l-7.2 -2.8l-6.8 5.9l7.1 2.9zM730.9 805.5l-7.1 -2.7l-6.9 5.8l7.1 2.8zM724 803l-7 -2.7l-6.9 5.9l7.1 2.6zM703.5 788.6l-6.9 -2.2l-6.8 5.7l6.9 2.1zM690.1 777.9l-6.8 -1.8l-6.8 5.5l6.8 1.8zM683.5 769.7l-6.8 -1.5l-6.7 5.4l6.7 1.5zM676.9 756.2l-6.7 -1.2l-6.7 5.2l6.7 1.2zM676.8 719.7l-6.5 -.2l-6.5 4.8l6.5 .2zM676.8 715.2l-6.5 0l-6.4 4.8l6.4 0zM682.9 702.6l-6.4 .3l-6.3 4.6l6.3 -.2zM688.9 691l-6.3 .5l-6.3 4.5l6.3 -.5zM694.9 683.4l-6.3 .8l-6.2 4.4l6.2 -.7zM700.8 676.2l-6.3 .9l-6.2 4.3l6.3 -.8zM706.6 669.3l-6.2 1l-6.2 4.3l6.3 -1zM712.4 662.7l-6.3 1.1l-6.1 4.2l6.3 -1.1zM729.4 646.5l-6.2 1.5l-5.9 4l6.2 -1.4z"/><path fill=#6f99cb stroke=#6f99cb d="M980 863.1l-8 -5.5l-6.6 6.9l8 5.6zM944.1 860.7l-7.9 -5.2l-6.7 6.8l7.9 5.3zM922.5 857.3l-7.9 -5.1l-6.7 6.8l7.8 5.1zM858 848.8l-7.6 -4.5l-6.8 6.5l7.6 4.6zM836.8 846.6l-7.6 -4.3l-6.8 6.5l7.5 4.3zM808.4 840.8l-7.5 -4l-6.8 6.3l7.4 4.1zM801.2 837l-7.5 -3.9l-6.8 6.3l7.4 3.9zM773.1 832.3l-7.3 -3.6l-6.9 6.2l7.4 3.6zM766 828.9l-7.3 -3.5l-6.8 6.2l7.3 3.5zM759 825.6l-7.3 -3.3l-6.8 6.1l7.2 3.4zM752 822.5l-7.2 -3.2l-6.9 6.1l7.2 3.2zM724.3 811.1l-7.1 -2.8l-6.9 5.9l7.1 2.8zM717.4 808.5l-7 -2.6l-6.9 5.8l7.1 2.7zM710.6 806.1l-7 -2.6l-6.9 5.8l7.1 2.6zM703.8 803.7l-7 -2.4l-6.8 5.7l7 2.5zM690.3 791.9l-6.9 -2l-6.8 5.6l6.9 2.1zM677 781.4l-6.8 -1.7l-6.8 5.5l6.8 1.7zM670.4 773.4l-6.7 -1.4l-6.7 5.3l6.7 1.5zM670.4 767.2l-6.7 -1.3l-6.7 5.2l6.7 1.4zM664 760.1l-6.6 -1.1l-6.7 5.2l6.6 1.1zM664.1 754.4l-6.6 -1l-6.7 5.2l6.6 .9zM664.1 748.8l-6.6 -.7l-6.6 5l6.6 .8zM664.1 743.5l-6.5 -.6l-6.6 5l6.5 .7zM664.2 738.4l-6.5 -.5l-6.6 4.9l6.5 .6zM664.2 733.4l-6.5 -.3l-6.5 4.9l6.5 .4zM664.3 728.7l-6.5 -.2l-6.5 4.8l6.4 .3zM670.6 715.4l-6.4 0l-6.5 4.7l6.4 0zM670.6 711.3l-6.4 .1l-6.4 4.7l6.4 -.2zM676.8 703l-6.4 .4l-6.3 4.6l6.3 -.3zM682.8 691.7l-6.2 .6l-6.3 4.5l6.2 -.6zM688.8 684.3l-6.2 .8l-6.3 4.4l6.3 -.8zM694.7 677.2l-6.2 1l-6.2 4.3l6.3 -.9zM700.6 670.5l-6.2 1.1l-6.2 4.2l6.3 -1.1zM717.9 654l-6.2 1.4l-6 4.1l6.2 -1.4z"/><path fill=#729bcc stroke=#729bcc d="M973.6 869.9l-8 -5.6l-6.7 6.9l8 5.7zM937.6 867.3l-7.8 -5.3l-6.8 6.9l7.9 5.4zM880.3 862.3l-7.7 -4.8l-6.8 6.7l7.7 4.9zM830.2 852.8l-7.6 -4.3l-6.8 6.5l7.5 4.4zM801.8 846.9l-7.5 -4l-6.9 6.4l7.5 4zM773.6 841.8l-7.4 -3.8l-6.9 6.3l7.4 3.8zM766.5 838.2l-7.3 -3.6l-6.9 6.2l7.3 3.7zM690.5 806.9l-7 -2.4l-6.8 5.8l6.9 2.4zM677.1 795.4l-6.9 -2l-6.8 5.6l6.8 2zM663.9 785.1l-6.8 -1.7l-6.8 5.5l6.8 1.7zM657.5 771l-6.7 -1.2l-6.7 5.2l6.6 1.3zM658.1 724.2l-6.3 0l-6.5 4.7l6.3 .1zM664.5 711.6l-6.3 .3l-6.5 4.6l6.4 -.2zM676.8 692.5l-6.3 .7l-6.2 4.4l6.2 -.7zM682.8 685.3l-6.2 .8l-6.3 4.4l6.3 -.9zM688.7 678.3l-6.2 1.1l-6.1 4.2l6.2 -1zM706.3 661.6l-6.2 1.3l-6.1 4.1l6.2 -1.3z"/><path fill=#749dcd stroke=#749dcd d="M967.1 876.6l-7.9 -5.6l-6.7 7l7.9 5.7zM909.4 870.4l-7.8 -5.2l-6.8 6.8l7.9 5.3zM887.8 867.1l-7.7 -5l-6.8 6.8l7.7 5zM844.9 861.5l-7.7 -4.6l-6.8 6.6l7.6 4.6zM823.6 859.1l-7.6 -4.4l-6.9 6.5l7.6 4.5zM795.1 853.1l-7.5 -4.1l-6.8 6.4l7.4 4.1zM759.8 844.2l-7.3 -3.6l-6.9 6.2l7.3 3.7zM752.8 840.8l-7.3 -3.6l-7 6.2l7.3 3.6zM690.6 814.7l-7 -2.5l-6.9 5.8l7 2.6zM683.8 812.4l-6.9 -2.4l-6.9 5.7l6.9 2.5zM670.5 800.7l-6.9 -2.1l-6.9 5.7l6.9 2zM657.3 790.2l-6.7 -1.6l-6.9 5.4l6.8 1.7zM651 776l-6.7 -1.3l-6.7 5.3l6.6 1.3zM644.8 763.2l-6.5 -.9l-6.7 5.2l6.5 .9zM644.9 757.7l-6.5 -.7l-6.7 5l6.6 .8zM645.1 752.4l-6.5 -.6l-6.7 5l6.5 .7zM645.2 747.3l-6.5 -.5l-6.6 5l6.5 .5zM651.9 728.6l-6.4 0l-6.5 4.8l6.4 0zM652 724.4l-6.4 0l-6.5 4.7l6.4 0zM664.6 704.2l-6.3 .5l-6.3 4.5l6.2 -.5zM670.7 696.6l-6.2 .7l-6.3 4.4l6.2 -.7zM682.8 682.3l-6.2 1l-6.2 4.3l6.2 -1zM688.7 675.6l-6.2 1.1l-6.1 4.3l6.1 -1.1zM694.6 669.2l-6.2 1.3l-6.1 4.1l6.1 -1.2zM706.2 659.3l-6.2 1.5l-6 4.1l6.1 -1.5z"/><path fill=#779fce stroke=#779fce d="M960.7 883.4l-8 -5.7l-6.7 7l7.9 5.8zM924.6 880.7l-7.8 -5.5l-6.8 7l7.9 5.5zM902.9 877l-7.8 -5.2l-6.8 6.8l7.8 5.3zM838.3 867.8l-7.7 -4.6l-6.8 6.6l7.6 4.7zM816.9 865.4l-7.5 -4.4l-6.9 6.5l7.5 4.5zM788.4 859.2l-7.4 -4.1l-6.9 6.5l7.4 4.1zM760.2 853.9l-7.3 -3.9l-7 6.4l7.4 3.9zM753.1 850.2l-7.3 -3.7l-6.9 6.3l7.3 3.8zM704.5 836.7l-7.1 -3.1l-7 6l7.1 3.1zM697.6 833.8l-7 -3l-7 6l7.1 3zM670.5 815.6l-6.9 -2.3l-7 5.7l7 2.4zM663.8 813.5l-6.9 -2.3l-6.9 5.7l6.9 2.3zM657.2 804.1l-6.8 -2l-6.9 5.6l6.8 2.1zM650.7 802.3l-6.8 -1.8l-6.9 5.5l6.8 1.9zM644.2 793.9l-6.7 -1.6l-6.8 5.4l6.7 1.7zM644.3 787.3l-6.6 -1.4l-6.9 5.3l6.7 1.6zM638 779.9l-6.6 -1.3l-6.8 5.3l6.6 1.3zM638.2 773.9l-6.6 -1.1l-6.7 5.2l6.5 1.1zM639.1 742.2l-6.4 -.3l-6.6 4.9l6.4 .3zM639.3 737.6l-6.4 -.1l-6.5 4.8l6.3 .1zM645.9 724.6l-6.3 .2l-6.5 4.6l6.3 -.1zM652.3 712.6l-6.2 .4l-6.4 4.6l6.2 -.4zM658.6 704.8l-6.3 .7l-6.3 4.4l6.2 -.6zM664.7 697.4l-6.2 .8l-6.3 4.4l6.2 -.8zM670.8 690.3l-6.2 .9l-6.2 4.3l6.1 -.9zM676.8 683.4l-6.1 1.1l-6.2 4.3l6.1 -1.1zM682.8 676.9l-6.2 1.2l-6.1 4.2l6.1 -1.2zM694.5 666.8l-6.1 1.4l-6.1 4.2l6.1 -1.4zM700.3 660.9l-6.2 1.6l-6 4l6.1 -1.5zM711.7 651.6l-6.1 1.8l-6 3.9l6.1 -1.7z"/><path fill=#7aa1cf stroke=#7aa1cf d="M954.2 890.2l-8 -5.8l-6.7 7.1l7.9 5.8zM918.1 887.4l-7.9 -5.5l-6.8 7l7.9 5.5zM896.3 883.6l-7.8 -5.3l-6.8 6.9l7.8 5.4zM810.3 871.8l-7.6 -4.6l-6.9 6.6l7.5 4.6zM789 869.6l-7.5 -4.4l-7 6.6l7.5 4.3zM760.7 863.8l-7.4 -4l-7 6.4l7.4 4zM753.5 860l-7.3 -3.9l-7 6.3l7.4 4zM718.6 851.9l-7.2 -3.5l-7 6.2l7.2 3.5zM711.6 848.6l-7.2 -3.3l-7 6.1l7.2 3.4zM704.7 845.5l-7.2 -3.3l-7 6.2l7.2 3.2zM697.8 842.4l-7.1 -3.1l-7 6.1l7.1 3.2zM690.9 839.5l-7.1 -3l-7 6l7.1 3.1zM684.1 836.7l-7.1 -2.9l-7 6l7.1 2.9zM677.3 834l-7 -2.8l-7 6l7 2.8zM670.5 831.4l-7 -2.6l-6.9 5.9l6.9 2.7zM650.5 816.8l-6.8 -2.2l-7 5.7l6.8 2.2zM644 807.6l-6.8 -1.9l-6.9 5.6l6.8 1.9zM631.3 791.1l-6.6 -1.4l-6.9 5.4l6.7 1.4zM625.3 777.9l-6.5 -1.1l-6.8 5.2l6.5 1.1zM625.5 772.2l-6.5 -.9l-6.7 5.1l6.5 .9zM625.7 766.7l-6.4 -.8l-6.8 5.1l6.5 .8zM626 761.4l-6.5 -.6l-6.7 5l6.5 .6zM626.2 756.3l-6.4 -.5l-6.7 4.9l6.4 .5zM626.4 751.3l-6.4 -.3l-6.6 4.9l6.3 .4zM633.3 733.4l-6.3 .1l-6.5 4.7l6.3 -.1zM646.3 713.2l-6.2 .5l-6.4 4.5l6.2 -.5zM652.5 705.6l-6.1 .7l-6.4 4.5l6.2 -.7zM658.7 698.3l-6.1 .9l-6.3 4.4l6.1 -.9zM664.8 691.4l-6.1 1l-6.3 4.3l6.2 -1zM670.9 684.7l-6.1 1.1l-6.2 4.3l6.1 -1.2zM688.6 668.4l-6.1 1.5l-6.1 4.1l6.1 -1.5zM700.2 658.9l-6.1 1.7l-6 4l6.1 -1.6z"/><path fill=#7da4d0 stroke=#7da4d0 d="M947.7 897l-8 -5.8l-6.8 7.1l8 5.9zM911.5 894.1l-7.9 -5.5l-6.8 7l7.9 5.6zM853.9 888.4l-7.7 -5l-6.9 6.8l7.7 5.1zM832.3 885.3l-7.6 -4.8l-6.9 6.7l7.6 5zM810.9 882.6l-7.6 -4.7l-7 6.7l7.6 4.7zM761.1 873.9l-7.4 -4.2l-7 6.5l7.4 4.2zM725.9 864.8l-7.3 -3.7l-7 6.3l7.2 3.8zM650.3 832.1l-6.9 -2.4l-7 5.8l6.9 2.5zM624.3 809.5l-6.7 -1.8l-6.9 5.5l6.7 1.8zM618.3 794.9l-6.6 -1.3l-6.9 5.3l6.6 1.4zM612.7 776.3l-6.4 -.9l-6.8 5.2l6.5 .8zM613 770.8l-6.4 -.7l-6.8 5.1l6.4 .7zM613.3 765.6l-6.4 -.5l-6.8 5l6.4 .5zM633.9 721.6l-6.2 .5l-6.4 4.5l6.2 -.4zM658.9 692.5l-6.1 1.1l-6.2 4.3l6.1 -1.1z"/><path fill=#80a6d1 stroke=#80a6d1 d="M941.1 903.9l-8 -5.9l-6.8 7.2l8 5.9zM904.9 900.9l-7.9 -5.6l-6.8 7l7.9 5.7zM868.9 898.5l-7.8 -5.3l-6.9 6.9l7.8 5.4zM847.2 895l-7.7 -5.1l-6.9 6.9l7.7 5.1zM825.7 891.9l-7.7 -5l-7 6.8l7.7 5zM804.2 889l-7.6 -4.7l-7 6.7l7.6 4.8zM782.8 886.5l-7.5 -4.5l-7 6.6l7.5 4.6zM754.3 880.1l-7.4 -4.2l-7 6.5l7.4 4.3zM719.1 870.9l-7.3 -3.8l-7.1 6.3l7.3 3.9zM636.9 835.4l-6.8 -2.5l-7.1 5.8l6.9 2.5zM623.9 823.6l-6.8 -2.1l-6.9 5.7l6.7 2.1zM611.4 806.4l-6.6 -1.5l-6.9 5.4l6.6 1.6zM605.3 798.8l-6.5 -1.3l-6.9 5.3l6.5 1.3zM605.6 792.7l-6.5 -1.2l-6.9 5.3l6.5 1.2zM607.4 760.3l-6.3 -.3l-6.7 4.9l6.3 .4zM607.7 755.6l-6.3 -.2l-6.7 4.9l6.3 .2zM614.7 742.4l-6.3 .1l-6.6 4.7l6.3 -.1zM627.9 722.2l-6.1 .6l-6.5 4.5l6.2 -.5zM634.3 714.7l-6.1 .7l-6.4 4.4l6.1 -.6zM640.6 707.4l-6.1 .9l-6.3 4.4l6.1 -.9zM646.9 700.5l-6.1 1l-6.3 4.3l6.1 -1zM665.1 683.6l-6.1 1.3l-6.2 4.2l6.1 -1.4zM682.7 668.1l-6 1.6l-6 4l6 -1.6zM694.3 659l-6 1.9l-6 3.9l6 -1.8z"/><path fill=#83a8d2 stroke=#83a8d2 d="M934.5 910.8l-7.9 -5.9l-6.9 7.1l8 6zM898.3 907.7l-7.9 -5.6l-6.8 7l7.8 5.7zM840.5 901.7l-7.7 -5.2l-6.9 6.9l7.7 5.2zM797.4 895.5l-7.6 -4.8l-7 6.8l7.6 4.8zM776 892.9l-7.5 -4.6l-7 6.7l7.5 4.6zM747.5 886.4l-7.4 -4.3l-7 6.6l7.4 4.3zM719.3 880.7l-7.3 -3.9l-7.1 6.4l7.3 4zM663.8 862.7l-7.1 -3.2l-7.1 6.2l7.1 3.2zM656.9 859.7l-7 -3l-7.1 6l7 3.2zM623.5 838.6l-6.8 -2.3l-7.1 5.7l6.9 2.4zM610.6 827.1l-6.7 -2l-7 5.6l6.7 2zM604.4 818.3l-6.6 -1.7l-7 5.5l6.6 1.8zM598.3 810.2l-6.5 -1.5l-7 5.4l6.6 1.5zM593 790.8l-6.4 -.9l-6.9 5.2l6.5 1zM593.4 785.2l-6.4 -.8l-6.9 5.1l6.5 .9zM593.8 779.8l-6.4 -.7l-6.8 5.1l6.3 .7zM594.1 774.6l-6.3 -.5l-6.8 5l6.3 .5zM601.6 755.6l-6.3 -.1l-6.6 4.8l6.2 .2zM608.6 742.7l-6.2 .2l-6.6 4.6l6.2 -.1zM622 723l-6.2 .6l-6.4 4.5l6.1 -.6zM628.4 715.6l-6.1 .8l-6.4 4.4l6.1 -.8zM653.2 691.2l-6.1 1.3l-6.2 4.2l6 -1.2zM671.1 675.4l-6 1.7l-6.1 4l6 -1.6zM682.7 666.2l-6 1.8l-6 4l6 -1.8z"/><path fill=#86aad4 stroke=#86aad4 d="M928 917.7l-8 -5.9l-6.9 7.1l8 6.1zM855.5 911.9l-7.7 -5.4l-7 7l7.8 5.5zM747.9 897l-7.4 -4.5l-7.1 6.6l7.4 4.5zM719.6 890.9l-7.4 -4.2l-7.1 6.5l7.4 4.2zM684.5 881.9l-7.2 -3.7l-7.1 6.4l7.2 3.7zM677.6 878.4l-7.2 -3.6l-7.1 6.3l7.1 3.7zM629.8 857.1l-6.9 -2.8l-7.1 6l6.9 2.8zM623.1 854.5l-6.8 -2.6l-7.2 5.9l6.9 2.7zM603.6 839.8l-6.8 -2.2l-7 5.8l6.7 2.2zM585.3 814l-6.6 -1.4l-6.9 5.4l6.5 1.4zM588.8 764.7l-6.3 -.2l-6.7 4.8l6.2 .3zM595.9 751.4l-6.2 .2l-6.6 4.7l6.2 -.1zM603 739.2l-6.2 .4l-6.5 4.6l6.1 -.4zM609.5 731.3l-6.1 .6l-6.5 4.5l6.1 -.5zM616.1 723.8l-6.1 .7l-6.5 4.5l6.1 -.7zM622.5 716.5l-6.1 .9l-6.4 4.4l6.1 -.9zM628.8 709.6l-6 1l-6.3 4.3l6 -1zM647.3 692.7l-6 1.4l-6.2 4.1l6 -1.3zM659.3 682.9l-6 1.6l-6.1 4l6 -1.5z"/><path fill=#89acd5 stroke=#89acd5 d="M921.3 924.7l-7.9 -6l-6.9 7.2l8 6.1zM848.8 918.7l-7.8 -5.5l-6.9 7l7.7 5.6zM741.1 903.4l-7.5 -4.5l-7.1 6.6l7.4 4.6zM712.7 897.1l-7.3 -4.2l-7.2 6.6l7.4 4.2zM677.6 888l-7.2 -3.7l-7.1 6.3l7.2 3.8zM609.6 857.7l-6.8 -2.6l-7.2 5.9l6.9 2.6zM590.2 843.2l-6.7 -2.1l-7.1 5.7l6.7 2.2zM584.1 834.1l-6.6 -1.8l-7.1 5.6l6.7 1.9zM578.1 825.7l-6.5 -1.6l-7.1 5.5l6.6 1.6zM572.7 811.6l-6.5 -1.2l-7 5.3l6.5 1.3zM573.1 805.6l-6.4 -1.1l-7 5.3l6.5 1.1zM574.9 783.6l-6.3 -.5l-6.8 5l6.3 .6zM575.4 778.6l-6.3 -.4l-6.8 5l6.3 .4zM603.6 732.1l-6.1 .6l-6.5 4.5l6.1 -.6zM610.2 724.7l-6.1 .8l-6.4 4.4l6 -.8zM635.3 700.4l-6 1.3l-6.2 4.2l6 -1.3z"/><path fill=#8caed6 stroke=#8caed6 d="M914.7 931.7l-8 -6.1l-6.9 7.3l8 6.1zM677.7 897.9l-7.2 -4l-7.2 6.5l7.2 4zM570.9 837.7l-6.6 -1.8l-7.1 5.6l6.6 1.9zM569.8 773.7l-6.2 -.1l-6.8 4.8l6.2 .2zM577.2 760.5l-6.2 .2l-6.7 4.7l6.2 -.1z"/><path fill=#8fb1d7 stroke=#8fb1d7 d="M908 938.7l-8 -6.1l-6.9 7.3l8 6.1zM893.6 939.8l-7.9 -6l-7 7.2l8 6.1zM857.2 936.5l-7.8 -5.8l-7 7.1l7.8 5.9zM821 933.7l-7.8 -5.5l-7 7.1l7.7 5.6zM799.2 930l-7.7 -5.3l-7.1 7l7.7 5.4zM777.5 926.6l-7.6 -5.1l-7.1 6.9l7.6 5.2zM756 923.5l-7.6 -4.9l-7.1 6.8l7.5 5zM734.5 920.7l-7.5 -4.7l-7.1 6.8l7.4 4.7zM713.2 918.3l-7.4 -4.6l-7.2 6.7l7.4 4.6zM684.8 912l-7.3 -4.3l-7.2 6.6l7.3 4.3zM677.8 908l-7.3 -4.1l-7.2 6.5l7.3 4.1zM649.9 902.8l-7.2 -3.8l-7.2 6.4l7.1 3.8zM642.9 899.2l-7.1 -3.7l-7.2 6.4l7.1 3.7zM636.1 895.7l-7.1 -3.5l-7.3 6.3l7.1 3.6zM629.2 892.4l-7 -3.5l-7.3 6.3l7.1 3.5zM602.2 880.1l-6.9 -3l-7.3 6.1l6.9 3zM595.5 877.3l-6.9 -2.8l-7.2 6l6.9 2.9zM588.9 874.7l-6.9 -2.8l-7.2 6l6.8 2.8zM582.3 872.1l-6.8 -2.6l-7.3 5.9l6.8 2.7zM569.6 859.6l-6.7 -2.2l-7.2 5.7l6.7 2.3zM563.6 850.2l-6.6 -2l-7.2 5.7l6.6 2zM557.7 841.4l-6.6 -1.8l-7.1 5.6l6.6 1.8zM551.9 833.2l-6.5 -1.5l-7.1 5.5l6.5 1.5zM552.4 826.8l-6.4 -1.3l-7.1 5.3l6.5 1.4zM547.3 813.7l-6.3 -.9l-7 5.2l6.3 1zM547.9 808.1l-6.3 -.8l-7 5.1l6.3 .9zM556.7 782.9l-6.2 -.3l-6.8 4.9l6.2 .3zM564.3 769.4l-6.2 .1l-6.7 4.7l6.1 0zM571.7 756.9l-6.1 .4l-6.7 4.6l6.1 -.3zM578.5 748.9l-6.1 .5l-6.6 4.6l6.1 -.5zM585.2 741.2l-6 .7l-6.5 4.5l6 -.7zM591.9 733.8l-6 .9l-6.5 4.4l6 -.8zM598.5 726.7l-6 1l-6.4 4.4l5.9 -1zM617.5 709.5l-6 1.4l-6.3 4.2l6 -1.3zM629.8 699.6l-5.9 1.5l-6.3 4.1l5.9 -1.5z"/><path fill=#91b3d8 stroke=#91b3d8 d="M901.3 945.8l-8 -6.2l-6.9 7.3l8 6.2zM792.3 936.8l-7.6 -5.4l-7.2 7l7.7 5.4zM770.7 933.3l-7.7 -5.2l-7.1 7l7.6 5.2zM749.1 930.1l-7.6 -5l-7.2 6.9l7.6 5zM727.6 927.3l-7.5 -4.8l-7.2 6.8l7.5 4.8zM670.8 914.2l-7.3 -4.1l-7.2 6.5l7.3 4.2zM635.9 905.3l-7.1 -3.7l-7.2 6.4l7.1 3.7zM629.1 901.8l-7.1 -3.6l-7.3 6.3l7.1 3.7zM581.9 880.4l-6.8 -2.8l-7.3 6l6.8 2.9zM562.7 865.1l-6.7 -2.3l-7.2 5.8l6.6 2.4zM545.1 838.4l-6.5 -1.6l-7.1 5.5l6.4 1.6zM540.6 818.7l-6.4 -1l-7 5.2l6.4 1zM541.2 812.9l-6.3 -.8l-7 5.2l6.3 .9zM541.8 807.4l-6.3 -.7l-7 5.1l6.3 .8zM550.7 782.8l-6.1 -.1l-6.9 4.8l6.2 .2zM558.3 769.6l-6.1 .2l-6.7 4.7l6.1 -.1zM598.9 723.9l-6 1.1l-6.4 4.3l5.9 -1.1zM617.8 707.2l-5.9 1.4l-6.3 4.2l5.9 -1.4z"/><path fill=#94b5d9 stroke=#94b5d9 d="M894.6 952.9l-8 -6.3l-7 7.4l8 6.3zM858 949.2l-7.8 -6l-7.1 7.2l7.9 6zM821.7 946.1l-7.8 -5.7l-7.1 7.1l7.8 5.7zM785.5 943.6l-7.7 -5.5l-7.2 7.1l7.7 5.5zM763.7 940l-7.6 -5.2l-7.1 6.9l7.6 5.3zM742.1 936.7l-7.5 -5l-7.2 6.9l7.5 5.1zM720.6 933.8l-7.5 -4.8l-7.2 6.8l7.5 4.9zM699.2 931.2l-7.4 -4.6l-7.2 6.7l7.4 4.7zM670.9 924.7l-7.3 -4.4l-7.3 6.7l7.3 4.3zM635.8 915.1l-7.1 -3.9l-7.3 6.5l7.1 3.9zM628.9 911.4l-7.1 -3.7l-7.3 6.4l7.1 3.8zM568.3 883.5l-6.8 -2.7l-7.3 6l6.8 2.7zM561.7 881l-6.7 -2.7l-7.3 6l6.7 2.7zM549.2 868.5l-6.6 -2.2l-7.3 5.7l6.7 2.3zM537.6 850.3l-6.5 -1.7l-7.2 5.6l6.5 1.7zM532 842.2l-6.5 -1.5l-7.1 5.5l6.4 1.5zM532.6 835.8l-6.4 -1.3l-7.1 5.4l6.4 1.3zM537 796.7l-6.2 -.3l-6.9 5l6.2 .3zM544.8 782.8l-6.2 0l-6.8 4.8l6.1 .1zM552.4 769.9l-6 .3l-6.8 4.7l6.1 -.2zM579.9 738.9l-6 .9l-6.5 4.4l5.9 -.9zM586.5 731.9l-5.9 1l-6.5 4.3l5.9 -1zM605.7 714.9l-5.9 1.3l-6.4 4.2l5.9 -1.3z"/><path fill=#97b7da stroke=#97b7da d="M887.8 960l-7.9 -6.3l-7 7.4l7.9 6.3zM851.2 956.2l-7.8 -6.1l-7.1 7.3l7.9 6.1zM814.8 953l-7.8 -5.8l-7.1 7.2l7.8 5.8zM778.6 950.4l-7.7 -5.5l-7.2 7.1l7.7 5.5zM756.8 946.7l-7.6 -5.2l-7.2 7l7.6 5.3zM713.6 940.4l-7.4 -4.9l-7.3 6.9l7.5 4.9zM692.2 937.7l-7.4 -4.7l-7.3 6.8l7.4 4.7zM663.8 931l-7.3 -4.3l-7.3 6.6l7.3 4.4zM635.7 925.2l-7.2 -4.1l-7.3 6.6l7.2 4.1zM628.8 921.3l-7.2 -3.9l-7.3 6.5l7.1 4zM580.8 906.6l-7 -3.2l-7.3 6.2l6.9 3.3zM548.2 884.2l-6.7 -2.6l-7.3 5.9l6.7 2.6zM541.7 881.8l-6.7 -2.4l-7.3 5.9l6.7 2.4zM535.8 871.9l-6.6 -2.2l-7.2 5.8l6.6 2.2zM530.1 862.7l-6.6 -1.9l-7.2 5.6l6.5 2zM524.4 854l-6.5 -1.6l-7.2 5.5l6.5 1.7zM519.5 839.7l-6.3 -1.2l-7.2 5.3l6.4 1.3zM520.2 833.6l-6.3 -1.1l-7.1 5.3l6.3 1.1zM520.9 827.7l-6.3 -1l-7.1 5.3l6.3 1zM521.6 822l-6.3 -.8l-7 5.1l6.3 .9zM522.3 816.5l-6.2 -.7l-7.1 5.1l6.3 .8zM523 811.2l-6.2 -.6l-7 5.1l6.2 .6zM523.7 806.1l-6.2 -.4l-7 5l6.2 .4zM531.6 791.9l-6.1 -.1l-6.8 4.9l6.1 .1zM539.5 778.7l-6.1 .2l-6.8 4.8l6.1 -.2zM546.6 770.4l-6.1 .3l-6.7 4.7l6 -.3zM567.3 747.1l-5.9 .8l-6.6 4.4l5.9 -.8zM574.1 739.9l-6 1l-6.5 4.4l6 -1zM593.5 722.6l-5.9 1.3l-6.4 4.2l5.9 -1.3z"/><path fill=#9bb9db stroke=#9bb9db d="M881.1 967.1l-8 -6.3l-7 7.4l7.9 6.4zM635.6 935.5l-7.2 -4.2l-7.4 6.6l7.2 4.3zM594 922.7l-7.1 -3.7l-7.3 6.4l7 3.7zM547.1 900.8l-6.8 -2.9l-7.3 6.1l6.8 2.9zM528.2 885.1l-6.6 -2.3l-7.4 5.8l6.7 2.4zM507.3 837.6l-6.3 -1l-7.1 5.3l6.2 1.1zM508 831.8l-6.2 -.9l-7.1 5.2l6.2 1zM508.8 826.2l-6.3 -.8l-7 5.2l6.2 .8zM518.4 801.1l-6.1 -.2l-6.9 4.9l6.1 .2zM526.4 787.6l-6 .1l-6.9 4.8l6.1 -.1zM568.3 741.1l-5.9 1l-6.5 4.4l5.9 -1.1z"/><path fill=#9ebcdc stroke=#9ebcdc d="M874.3 974.3l-8 -6.4l-7.1 7.4l8 6.5zM823.1 971.5l-7.9 -6.1l-7.1 7.3l7.8 6.1zM786.6 968.2l-7.8 -5.8l-7.2 7.2l7.8 5.9zM750.2 965.6l-7.6 -5.5l-7.3 7.1l7.7 5.6zM728.5 961.9l-7.6 -5.3l-7.3 7.1l7.6 5.3zM706.8 958.6l-7.5 -5.1l-7.3 6.9l7.5 5.2zM685.3 955.5l-7.4 -4.9l-7.4 6.9l7.5 5zM663.9 952.8l-7.4 -4.7l-7.4 6.8l7.4 4.8zM635.5 946.1l-7.2 -4.4l-7.4 6.7l7.2 4.4zM600.5 936.3l-7.1 -4l-7.4 6.5l7.1 4zM527 901.2l-6.7 -2.6l-7.4 6l6.7 2.7zM502.8 877l-6.5 -1.9l-7.3 5.7l6.4 2zM498.1 861.6l-6.4 -1.5l-7.3 5.5l6.4 1.5zM505.1 810.3l-6.1 -.2l-7 4.9l6.1 .3zM513.2 796.6l-6 0l-6.9 4.9l6.1 0zM555.8 749.1l-5.9 1l-6.5 4.4l5.8 -1z"/><path fill=#a1bedd stroke=#a1bedd d="M867.4 981.5l-7.9 -6.4l-7.1 7.4l8 6.6zM816.2 978.5l-7.9 -6.1l-7.2 7.4l7.9 6.1zM779.6 975.2l-7.7 -5.8l-7.3 7.2l7.8 5.9zM743.2 972.5l-7.6 -5.6l-7.3 7.2l7.6 5.6zM721.4 968.7l-7.5 -5.3l-7.3 7l7.5 5.5zM699.8 965.3l-7.5 -5.2l-7.4 7l7.5 5.3zM678.2 962.2l-7.4 -5l-7.4 6.9l7.4 5.1zM656.7 959.4l-7.3 -4.8l-7.4 6.9l7.3 4.8zM628.4 952.5l-7.3 -4.4l-7.4 6.7l7.2 4.5zM600.3 946.5l-7.2 -4.2l-7.4 6.6l7.1 4.2zM513.3 904.4l-6.6 -2.6l-7.4 6l6.6 2.7zM501.3 891.9l-6.6 -2.2l-7.4 5.8l6.6 2.3zM490.3 873.6l-6.4 -1.7l-7.4 5.6l6.4 1.8zM485.8 859l-6.3 -1.3l-7.3 5.4l6.3 1.3zM486.6 852.7l-6.3 -1.1l-7.2 5.3l6.3 1.3zM489.1 835.3l-6.1 -.8l-7.2 5.2l6.2 .8zM490 829.9l-6.2 -.6l-7.1 5.1l6.2 .6zM490.8 824.7l-6.1 -.5l-7.1 5.1l6.1 .5zM499.2 810.2l-6.1 -.1l-6.9 4.9l6 .2zM507.4 796.8l-6 .1l-6.9 4.8l6 -.1zM514.7 788.3l-5.9 .3l-6.9 4.7l6 -.3zM543.2 757.3l-5.9 .9l-6.6 4.4l5.9 -.9z"/><path fill=#a5c0de stroke=#a5c0de d="M860.6 988.8l-8 -6.5l-7.1 7.5l8 6.5zM678.3 973.8l-7.5 -5.1l-7.4 7l7.5 5.2zM628.2 963.4l-7.3 -4.6l-7.4 6.8l7.3 4.7zM600 957l-7.2 -4.4l-7.4 6.7l7.1 4.4zM565.3 947.5l-7 -3.9l-7.5 6.5l7 3.9zM558.5 943.8l-7 -3.8l-7.5 6.5l7 3.8zM512 921.3l-6.8 -2.9l-7.4 6.1l6.7 3zM505.5 918.6l-6.7 -2.9l-7.5 6.1l6.7 2.9zM493.4 905.3l-6.6 -2.4l-7.5 5.9l6.6 2.5zM481.5 893.4l-6.4 -2.1l-7.4 5.7l6.4 2.2zM476.1 884.3l-6.4 -1.8l-7.3 5.6l6.4 1.9zM472.7 862.9l-6.3 -1.2l-7.2 5.4l6.2 1.3zM473.6 856.8l-6.2 -1.1l-7.3 5.3l6.2 1.2zM474.5 850.8l-6.2 -.9l-7.2 5.2l6.2 1.1zM475.4 845.1l-6.2 -.8l-7.1 5.2l6.1 .9zM476.3 839.6l-6.1 -.7l-7.2 5.1l6.2 .8zM485.8 819.5l-6.1 -.3l-7 5l6 .3zM494.2 805.8l-6 0l-7 4.9l6 -.1zM537.5 758.3l-5.8 1.1l-6.6 4.3l5.8 -.9z"/><path fill=#a8c2df stroke=#a8c2df d="M853.7 996.1l-8 -6.6l-7.1 7.5l8 6.7zM671.1 980.6l-7.4 -5.2l-7.5 7l7.5 5.3zM564.9 957.6l-7.1 -4.1l-7.5 6.6l7 4.1zM491.8 921.7l-6.7 -2.8l-7.5 6.1l6.7 2.8zM463.8 881.1l-6.3 -1.6l-7.4 5.6l6.3 1.7zM524.8 766.5l-5.8 .9l-6.7 4.5l5.8 -1z"/><path fill=#abc4df stroke=#abc4df d="M846.8 1003.4l-8 -6.6l-7.1 7.5l7.9 6.7zM795.3 1000l-7.9 -6.3l-7.2 7.5l7.8 6.3zM722 993.3l-7.6 -5.7l-7.4 7.2l7.6 5.8zM664 987.4l-7.5 -5.3l-7.5 7.1l7.5 5.3zM642.4 984.2l-7.4 -5.1l-7.5 7l7.4 5.1zM592.5 974.2l-7.2 -4.5l-7.5 6.7l7.2 4.6zM557.6 963.9l-7.1 -4.1l-7.5 6.7l7 4.1zM478.1 924.9l-6.6 -2.7l-7.5 6l6.6 2.8zM466.3 912.1l-6.5 -2.4l-7.5 5.9l6.5 2.4zM461 902.4l-6.4 -2.1l-7.5 5.8l6.4 2.1zM455.7 893.4l-6.3 -1.8l-7.4 5.6l6.3 1.9zM451.6 878.4l-6.2 -1.4l-7.4 5.5l6.2 1.4zM452.6 872l-6.2 -1.2l-7.3 5.4l6.2 1.3zM453.6 865.9l-6.2 -1.1l-7.3 5.4l6.2 1.1zM454.6 860l-6.1 -1l-7.3 5.3l6.1 1zM455.6 854.2l-6.1 -.8l-7.2 5.3l6.1 .8zM456.6 848.7l-6.1 -.7l-7.2 5.2l6.1 .7zM466.4 828.7l-6 -.3l-7.1 5l6 .3zM475 815l-5.9 .1l-7 4.8l5.9 -.1zM482.6 806.3l-5.9 .2l-6.9 4.8l5.9 -.2zM490.1 797.9l-5.9 .4l-6.9 4.7l5.9 -.4zM497.5 789.9l-5.9 .6l-6.8 4.6l5.9 -.6zM504.8 782.2l-5.8 .7l-6.8 4.5l5.8 -.7zM512 774.7l-5.8 .9l-6.7 4.5l5.8 -.9z"/><path fill=#afc7e0 stroke=#afc7e0 d="M839.9 1010.7l-8 -6.7l-7.2 7.6l8 6.8zM825.2 1011.6l-7.9 -6.6l-7.3 7.5l8 6.7zM773.6 1008.3l-7.8 -6.2l-7.3 7.4l7.8 6.3zM736.9 1004.7l-7.7 -5.9l-7.4 7.3l7.7 6zM700.3 1001.8l-7.6 -5.7l-7.4 7.2l7.6 5.8zM592.2 985.3l-7.2 -4.8l-7.6 6.9l7.2 4.8zM564 978.6l-7.1 -4.4l-7.6 6.7l7.1 4.5zM529.3 968.8l-6.9 -3.9l-7.6 6.5l6.9 4.1zM522.6 965.1l-6.9 -3.9l-7.6 6.6l6.9 3.9zM515.9 961.4l-6.9 -3.7l-7.6 6.5l6.9 3.8zM482.9 945l-6.7 -3.2l-7.6 6.3l6.7 3.2zM476.4 942l-6.6 -3l-7.6 6.2l6.6 3.1zM470 939.2l-6.7 -2.9l-7.5 6.1l6.6 3zM458.1 925.7l-6.5 -2.6l-7.5 6l6.5 2.6zM446.6 913.4l-6.4 -2.1l-7.6 5.8l6.4 2.2zM441.4 904.2l-6.3 -1.9l-7.5 5.7l6.3 1.9zM437.4 888.8l-6.2 -1.4l-7.4 5.5l6.2 1.5zM438.5 882.3l-6.2 -1.3l-7.4 5.5l6.2 1.4zM439.6 876.1l-6.2 -1.2l-7.4 5.4l6.2 1.2zM440.6 870l-6.1 -1l-7.3 5.3l6.1 1.1zM441.7 864.1l-6.1 -.9l-7.3 5.3l6.1 1zM442.7 858.5l-6 -.8l-7.3 5.2l6.1 .8zM443.8 853l-6 -.6l-7.3 5.2l6.1 .6zM452.8 838l-6 -.3l-7.1 5l5.9 .4zM461.6 824.1l-5.9 0l-7.1 4.8l5.9 .1z"/><path fill=#b2c9e1 stroke=#b2c9e1 d="M832.9 1018.1l-8 -6.7l-7.2 7.6l8 6.8zM818.2 1019l-7.9 -6.7l-7.3 7.6l7.9 6.7zM766.5 1015.5l-7.8 -6.3l-7.3 7.5l7.8 6.4zM729.7 1011.9l-7.7 -6.1l-7.4 7.4l7.7 6.1zM693.2 1008.8l-7.7 -5.8l-7.4 7.3l7.6 5.8zM635 1002.8l-7.4 -5.3l-7.5 7.1l7.4 5.3zM584.9 991.9l-7.2 -4.8l-7.6 6.9l7.2 4.9zM556.7 985.1l-7.1 -4.5l-7.7 6.8l7.1 4.5zM528.8 979.1l-7 -4.1l-7.7 6.6l7 4.2zM522 975.2l-7 -4l-7.6 6.6l6.9 4zM462.7 945.1l-6.7 -3l-7.6 6.2l6.6 3zM456.2 942.3l-6.5 -2.8l-7.7 6.1l6.6 2.9zM444.5 929l-6.4 -2.5l-7.6 6l6.5 2.5zM433.1 917l-6.3 -2.1l-7.6 5.8l6.4 2.1zM429.2 900.9l-6.3 -1.7l-7.5 5.6l6.3 1.7zM438 852.6l-6 -.5l-7.3 5.1l6 .5zM439 847.5l-5.9 -.4l-7.2 5l5.9 .5zM448 833.2l-5.9 -.1l-7.1 4.9l5.9 .2zM455.8 824.2l-5.8 .1l-7.1 4.8l5.9 0z"/><path fill=#b5cbe2 stroke=#b5cbe2 d="M825.9 1025.5l-8 -6.8l-7.2 7.7l8 6.9zM774.1 1021.8l-7.8 -6.5l-7.4 7.5l7.9 6.6zM759.4 1022.8l-7.8 -6.4l-7.3 7.5l7.8 6.5zM722.6 1019l-7.7 -6.1l-7.4 7.4l7.7 6.2zM685.9 1015.9l-7.6 -5.9l-7.5 7.3l7.6 5.9zM627.7 1009.7l-7.4 -5.4l-7.6 7.2l7.5 5.4zM606.1 1006.3l-7.3 -5.1l-7.7 7l7.4 5.2zM577.5 998.6l-7.2 -4.9l-7.6 7l7.2 4.9zM556.2 996.1l-7.1 -4.7l-7.7 6.9l7.2 4.7zM521.4 985.5l-7 -4.2l-7.7 6.7l7 4.3zM514.6 981.5l-7 -4l-7.6 6.6l6.9 4.1zM442.5 945.5l-6.5 -2.8l-7.7 6.1l6.6 2.8zM431 932.4l-6.5 -2.4l-7.6 5.9l6.5 2.5zM425.9 922.5l-6.4 -2.1l-7.6 5.8l6.4 2.2zM420.8 913.3l-6.3 -1.9l-7.5 5.7l6.3 1.9zM417.1 898l-6.2 -1.5l-7.5 5.6l6.2 1.5zM418.3 891.5l-6.2 -1.3l-7.4 5.5l6.1 1.3zM419.4 885.2l-6.1 -1.1l-7.4 5.4l6.1 1.2zM420.6 879.2l-6.1 -1l-7.4 5.3l6.1 1.1zM421.7 873.3l-6 -.8l-7.3 5.2l6 .9zM422.9 867.7l-6 -.7l-7.3 5.2l6 .7zM424.1 862.3l-6 -.6l-7.3 5.1l6 .6zM433.3 847.3l-6 -.3l-7.2 5l6 .3zM442.3 833.3l-5.9 0l-7.1 4.9l5.9 0zM450.1 824.5l-5.8 .1l-7.1 4.8l5.9 -.1zM457.9 815.9l-5.9 .4l-6.9 4.7l5.8 -.3zM473.1 799.9l-5.8 .6l-6.9 4.6l5.8 -.6z"/><path fill=#b9cde3 stroke=#b9cde3 d="M818.9 1033l-8 -6.9l-7.3 7.7l8 6.9zM752.3 1030.1l-7.8 -6.4l-7.4 7.5l7.8 6.5zM642.2 1020.3l-7.5 -5.6l-7.6 7.2l7.5 5.7zM577.2 1010.1l-7.3 -5l-7.6 7l7.2 5zM422.5 946.2l-6.4 -2.6l-7.7 6l6.4 2.6zM405.1 895.5l-6.1 -1.2l-7.4 5.4l6.1 1.3zM407.6 883.3l-6 -.9l-7.4 5.3l6 1zM419.4 856.7l-5.9 -.4l-7.2 5.1l5.9 .4zM428.7 842.5l-5.9 -.1l-7.2 4.9l5.9 .1z"/><path fill=#bcd0e4 stroke=#bcd0e4 d="M811.8 1040.5l-7.9 -7l-7.3 7.8l7.9 6.9zM797.1 1041.2l-8 -6.8l-7.3 7.7l7.9 6.9zM745.1 1037.4l-7.8 -6.5l-7.4 7.6l7.8 6.6zM693.5 1034.7l-7.7 -6.2l-7.5 7.5l7.7 6.2zM656.8 1031.5l-7.6 -5.9l-7.6 7.3l7.6 6zM548.3 1014l-7.1 -4.9l-7.8 7l7.2 4.9zM397.7 937.2l-6.3 -2.2l-7.6 5.9l6.3 2.2zM394.2 920.7l-6.2 -1.7l-7.6 5.7l6.2 1.8zM392.1 899.6l-6.1 -1.2l-7.5 5.4l6.1 1.2zM393.4 893.5l-6.1 -1.1l-7.4 5.4l6 1.1zM405.5 866.3l-5.9 -.5l-7.3 5.1l5.9 .5zM414.9 851.7l-5.8 -.1l-7.2 4.9l5.8 .2z"/><path fill=#bfd2e5 stroke=#bfd2e5 d="M804.8 1048l-8 -7l-7.3 7.8l7.9 7zM738 1044.8l-7.9 -6.6l-7.4 7.7l7.8 6.6zM686.2 1041.9l-7.7 -6.2l-7.5 7.5l7.7 6.2zM649.4 1038.6l-7.5 -5.9l-7.6 7.4l7.5 5.9zM380.9 924.5l-6.2 -1.6l-7.6 5.6l6.1 1.7zM382.2 917.7l-6.1 -1.5l-7.6 5.6l6.1 1.5zM388.8 886.8l-5.9 -.8l-7.4 5.3l5.9 .8zM390.1 881.3l-5.9 -.7l-7.4 5.2l6 .7zM399.8 866l-5.9 -.4l-7.3 5.1l5.9 .4zM409.2 851.8l-5.8 -.1l-7.2 4.9l5.8 .1z"/><path fill=#c3d4e6 stroke=#c3d4e6 d="M797.7 1055.5l-8 -7l-7.4 7.8l8 7.1zM782.8 1056.3l-7.9 -7l-7.4 7.8l7.9 7zM715.9 1053.2l-7.7 -6.5l-7.6 7.6l7.8 6.6zM605.5 1043l-7.5 -5.7l-7.7 7.3l7.5 5.8zM583.6 1039.1l-7.3 -5.5l-7.8 7.3l7.4 5.5zM367.6 928.4l-6.1 -1.6l-7.7 5.6l6.1 1.7zM369 921.6l-6.1 -1.4l-7.6 5.5l6.1 1.5zM374.5 896.8l-5.9 -.9l-7.5 5.3l6 1zM375.9 891.1l-5.9 -.7l-7.4 5.2l5.9 .8zM395.4 861l-5.8 -.1l-7.3 5l5.8 .1z"/><path fill=#c6d6e7 stroke=#c6d6e7 d="M790.5 1063.1l-7.9 -7.1l-7.4 7.8l7.9 7.2zM723.5 1059.6l-7.8 -6.6l-7.5 7.6l7.8 6.8zM671.6 1056.5l-7.7 -6.3l-7.6 7.5l7.7 6.4zM598 1050.1l-7.4 -5.8l-7.8 7.4l7.5 5.8zM371.6 885.2l-5.8 -.5l-7.4 5.1l5.8 .6zM381.4 870.4l-5.7 -.2l-7.4 5l5.8 .2z"/><path fill=#c9d9e8 stroke=#c9d9e8 d="M783.4 1070.7l-8 -7.1l-7.4 7.8l7.9 7.3zM355.9 900.4l-5.9 -.7l-7.5 5.2l5.9 .8zM375.8 870.3l-5.7 -.1l-7.3 5l5.7 .1z"/><path fill=#cddbe9 stroke=#cddbe9 d="M776.2 1078.4l-8 -7.2l-7.4 7.9l7.9 7.2zM694 1075.5l-7.7 -6.7l-7.7 7.7l7.8 6.8zM642 1072.3l-7.6 -6.3l-7.7 7.6l7.6 6.4zM338.3 922.2l-5.9 -1.1l-7.6 5.4l5.9 1.2zM339.9 916.2l-5.9 -1l-7.6 5.4l5.9 1zM341.4 910.4l-5.8 -.8l-7.6 5.3l5.9 .8zM351.7 894.5l-5.8 -.5l-7.4 5.2l5.7 .5zM361.8 879.7l-5.7 -.2l-7.4 5l5.7 .3z"/><path fill=#d1deea stroke=#d1deea d="M769 1086.1l-8 -7.3l-7.5 7.9l8 7.4zM754 1086.7l-7.9 -7.2l-7.5 7.9l7.9 7.3zM739.1 1087.4l-7.9 -7.2l-7.6 7.9l7.9 7.2zM671.8 1084l-7.8 -6.7l-7.6 7.7l7.7 6.8zM326.9 920.4l-5.8 -.9l-7.6 5.4l5.8 .9zM338.9 899l-5.7 -.4l-7.5 5.1l5.7 .5zM357.7 875.1l-5.6 .1l-7.4 4.9l5.7 0z"/><path fill=#d4e0eb stroke=#d4e0eb d="M761.7 1093.8l-7.9 -7.3l-7.6 7.9l8 7.4zM679.3 1090.6l-7.8 -6.9l-7.7 7.8l7.8 6.9zM321.2 919.7l-5.8 -.8l-7.6 5.3l5.8 .8zM322.9 914.1l-5.8 -.6l-7.5 5.2l5.7 .7zM333.4 898.7l-5.7 -.3l-7.5 5.1l5.7 .4z"/><path fill=#d8e3ec stroke=#d8e3ec d="M754.5 1101.6l-8 -7.4l-7.6 8l8 7.4zM739.4 1102.1l-7.9 -7.3l-7.6 8l8 7.4zM724.4 1102.8l-7.9 -7.3l-7.6 8l7.9 7.3zM656.9 1099l-7.7 -6.8l-7.8 7.8l7.7 6.9zM319 908.4l-5.7 -.4l-7.6 5.1l5.7 .4zM329.4 893.8l-5.6 -.1l-7.4 4.9l5.6 .2z"/><path fill=#dbe5ed stroke=#dbe5ed d="M747.2 1109.4l-8 -7.5l-7.6 8l8 7.6zM732.1 1109.9l-7.9 -7.4l-7.6 8l7.9 7.5zM664.4 1105.8l-7.8 -7l-7.7 7.9l7.8 7zM304.5 918.1l-5.7 -.5l-7.6 5.2l5.7 .5zM313.4 908.1l-5.6 -.3l-7.5 5.1l5.6 .3z"/><path fill=#dfe8ee stroke=#dfe8ee d="M739.8 1117.2l-8 -7.5l-7.6 8l8 7.6z"/><path fill=#e2eaf0 stroke=#e2eaf0 d="M732.5 1125.1l-8 -7.6l-7.6 8.1l7.9 7.6zM717.3 1125.6l-7.9 -7.5l-7.7 8l8 7.6z"/><path fill=#e6edf1 stroke=#e6edf1 d="M725.1 1133l-8 -7.7l-7.7 8.2l8 7.7zM709.9 1133.4l-7.9 -7.5l-7.7 8.1l7.9 7.6zM694.8 1134l-7.9 -7.5l-7.7 8.1l7.9 7.5z"/><path fill=#e9eff2 stroke=#e9eff2 d="M717.6 1140.9l-7.9 -7.7l-7.7 8.2l7.9 7.7zM702.5 1141.4l-8 -7.7l-7.7 8.2l7.9 7.7z"/><path fill=#edf2f3 stroke=#edf2f3 d="M710.2 1148.9l-8 -7.8l-7.7 8.2l8 7.9z"/><path fill=#3e6db3 stroke=#3e6db3 d="M1119.3 706.3l-8 -4.2l-6 6.3l7.9 4.2zM1069.5 699.1l-7.8 -3.7l-6.1 6l7.8 3.8zM1033.6 691.4l-7.7 -3.3l-6.1 5.9l7.7 3.3z"/><path fill=#406fb4 stroke=#406fb4 d="M1113.4 712.3l-7.9 -4.2l-6.1 6.2l7.9 4.3zM1092.2 710.3l-7.9 -4.1l-6.1 6.2l7.9 4.1zM1063.6 704.9l-7.8 -3.8l-6.2 6.1l7.8 3.8zM1035.1 700.3l-7.7 -3.5l-6.1 6l7.7 3.5zM992.3 690.6l-7.6 -2.9l-6.2 5.7l7.6 3zM985 687.9l-7.6 -2.9l-6.1 5.8l7.5 2.8zM977.7 685.2l-7.5 -2.7l-6.2 5.7l7.5 2.8zM970.5 682.7l-7.5 -2.6l-6.2 5.6l7.5 2.7zM963.3 680.3l-7.5 -2.5l-6.2 5.6l7.5 2.5zM956.1 678l-7.4 -2.4l-6.2 5.6l7.4 2.4zM949 675.8l-7.4 -2.3l-6.2 5.5l7.4 2.3zM919.6 661.4l-7.2 -1.8l-6.2 5.3l7.3 1.8zM911.6 653.5l-7.2 -1.5l-6.1 5.2l7.2 1.5zM895.9 639.5l-7 -1l-6.1 5l7.1 1.1z"/><path fill=#4171b5 stroke=#4171b5 d="M1107.5 718.3l-7.9 -4.2l-6.1 6.2l7.9 4.4zM979 693.3l-7.5 -2.8l-6.2 5.7l7.5 2.9zM943 681l-7.4 -2.3l-6.2 5.6l7.4 2.3z"/><path fill=#4373b6 stroke=#4373b6 d="M1101.6 724.4l-7.9 -4.3l-6.2 6.3l8 4.4zM1080.4 722.2l-7.9 -4.1l-6.2 6.2l7.9 4.2zM987.6 704.6l-7.6 -3.1l-6.2 5.8l7.6 3.2zM922.8 682.1l-7.3 -2.2l-6.2 5.5l7.3 2.2zM915.7 680.1l-7.3 -2l-6.2 5.4l7.3 2.1zM900.8 669.8l-7.3 -1.7l-6.1 5.3l7.2 1.7zM886 660.7l-7.1 -1.3l-6.2 5.1l7.1 1.4zM878.3 653.7l-7.1 -1.1l-6.1 5.1l7.1 1.1zM869.8 642l-7 -.7l-6 4.9l6.9 .7zM869 636.9l-7 -.6l-6 4.9l6.9 .6z"/><path fill=#4574b6 stroke=#4574b6 d="M1095.7 730.5l-8 -4.4l-6.1 6.3l7.9 4.5zM1045.7 722.5l-7.8 -3.9l-6.2 6.1l7.8 4zM1017.2 717.5l-7.7 -3.6l-6.2 6.1l7.7 3.6zM981.6 710.2l-7.6 -3.2l-6.2 5.9l7.6 3.3zM974.3 707.2l-7.6 -3l-6.2 5.8l7.5 3.1zM916.8 687.3l-7.3 -2.2l-6.3 5.5l7.4 2.2zM909.7 685.3l-7.3 -2.1l-6.2 5.4l7.3 2.2zM880.1 665.6l-7.2 -1.4l-6.1 5.2l7.1 1.4zM872.4 658.5l-7.1 -1.1l-6.1 5l7 1.2zM863.9 646.6l-6.9 -.7l-6.1 4.9l6.9 .8z"/><path fill=#4676b7 stroke=#4676b7 d="M1089.7 736.6l-7.9 -4.5l-6.2 6.4l8 4.5zM1039.7 728.4l-7.8 -3.9l-6.2 6.1l7.8 4zM1011.2 723.3l-7.7 -3.6l-6.3 6.1l7.8 3.6zM975.6 715.9l-7.6 -3.3l-6.3 6l7.6 3.2zM968.3 712.8l-7.6 -3.1l-6.3 5.9l7.6 3.2zM910.8 692.5l-7.4 -2.2l-6.2 5.5l7.3 2.3zM903.7 690.5l-7.3 -2.2l-6.2 5.5l7.3 2.2zM896.7 688.5l-7.3 -2l-6.2 5.4l7.2 2.1zM881.8 678.3l-7.1 -1.7l-6.3 5.3l7.2 1.7zM874.1 670.5l-7.1 -1.4l-6.2 5.2l7.1 1.4zM866.4 663.3l-7 -1.2l-6.2 5.1l7 1.2zM858.8 656.7l-7 -1l-6.1 5l7 1zM849.8 640.6l-6.8 -.4l-6.1 4.8l6.9 .5zM849.1 635.9l-6.9 -.3l-6 4.8l6.8 .3zM848.3 631.4l-6.8 -.1l-6 4.6l6.8 .2z"/><path fill=#4878b8 stroke=#4878b8 d="M1083.8 742.7l-8 -4.5l-6.2 6.4l8 4.6zM1062.5 740.3l-7.9 -4.3l-6.3 6.4l7.9 4.3zM1012.6 732.8l-7.7 -3.8l-6.3 6.1l7.8 3.8zM976.9 724.7l-7.7 -3.4l-6.3 6l7.7 3.5zM883.7 691.8l-7.3 -1.9l-6.3 5.4l7.3 2zM868.9 681.8l-7.1 -1.6l-6.3 5.3l7.2 1.6zM861.2 674.1l-7 -1.3l-6.2 5.2l7 1.4zM853.7 667.1l-7.1 -1.1l-6.1 5l7 1.2zM845.4 655.3l-6.9 -.8l-6.1 4.9l6.9 .8z"/><path fill=#4a7ab9 stroke=#4a7ab9 d="M1077.8 748.9l-8 -4.6l-6.2 6.4l7.9 4.6zM1056.4 746.4l-7.9 -4.3l-6.2 6.3l7.9 4.4zM1006.6 738.7l-7.8 -3.9l-6.3 6.2l7.8 3.9zM921 718.2l-7.4 -2.8l-6.4 5.8l7.5 2.8zM913.9 715.6l-7.5 -2.7l-6.3 5.7l7.4 2.7zM906.7 713.1l-7.4 -2.6l-6.3 5.7l7.4 2.6zM899.6 710.7l-7.3 -2.5l-6.4 5.6l7.4 2.6zM870.6 695.2l-7.2 -1.9l-6.3 5.4l7.2 1.9zM856 685.3l-7.1 -1.5l-6.2 5.3l7 1.5zM840.9 670.9l-6.9 -1.1l-6.3 5.1l7 1.1zM832.2 654.2l-6.9 -.5l-6.1 4.8l6.8 .6zM831.5 649.3l-6.9 -.4l-6.1 4.8l6.9 .5zM830.8 644.6l-6.8 -.2l-6.1 4.7l6.8 .3zM830.1 640.1l-6.8 -.1l-6 4.7l6.8 .2zM829.5 635.8l-6.8 0l-6 4.6l6.7 .1z"/><path fill=#4c7bba stroke=#4c7bba d="M1071.8 755.1l-8 -4.6l-6.3 6.4l8 4.7zM1050.4 752.5l-7.9 -4.4l-6.3 6.4l7.9 4.5zM972.1 739.6l-7.7 -3.6l-6.4 6.1l7.7 3.7zM929.3 729.4l-7.5 -3.1l-6.3 5.9l7.5 3.1zM886.4 713.7l-7.3 -2.4l-6.4 5.6l7.4 2.5zM879.4 711.5l-7.3 -2.3l-6.4 5.6l7.3 2.3zM843.1 688.9l-7 -1.5l-6.3 5.3l7 1.5zM835.6 681.6l-7 -1.3l-6.2 5.2l7 1.2zM827.5 669.2l-6.9 -.8l-6.2 5l6.9 .9zM822.3 632l-6.6 .2l-6 4.5l6.6 -.2z"/><path fill=#4d7dbb stroke=#4d7dbb d="M1065.7 761.3l-7.9 -4.7l-6.3 6.5l7.9 4.7zM1044.3 758.7l-7.9 -4.5l-6.3 6.4l7.9 4.5zM1023.1 756.4l-7.9 -4.3l-6.3 6.4l7.8 4.3zM1015.5 752.3l-7.8 -4.1l-6.3 6.3l7.8 4.2zM994.4 750.5l-7.8 -3.9l-6.3 6.2l7.7 4zM965.9 745.5l-7.6 -3.7l-6.4 6.1l7.7 3.7zM958.5 742l-7.6 -3.5l-6.4 6l7.7 3.6zM930.4 738l-7.5 -3.2l-6.4 5.9l7.5 3.3zM923.2 735l-7.5 -3.1l-6.4 5.9l7.5 3.1zM915.9 732.1l-7.4 -3l-6.4 5.8l7.5 3.1zM908.8 729.2l-7.5 -2.9l-6.4 5.9l7.5 2.9zM901.6 726.5l-7.4 -2.8l-6.4 5.8l7.4 2.9zM894.4 723.9l-7.3 -2.6l-6.4 5.7l7.4 2.7zM887.3 721.5l-7.3 -2.6l-6.4 5.7l7.4 2.6zM880.3 719.1l-7.3 -2.5l-6.4 5.7l7.3 2.5zM873.2 716.8l-7.3 -2.3l-6.3 5.6l7.2 2.4zM866.2 714.6l-7.2 -2.2l-6.4 5.6l7.2 2.3zM851.5 703.7l-7.1 -1.9l-6.4 5.4l7.2 1.9zM844.6 702l-7.1 -1.8l-6.3 5.4l7.1 1.8zM837 693.9l-7 -1.5l-6.3 5.2l7 1.6zM829.6 686.4l-7 -1.3l-6.3 5.2l7 1.3zM822.2 679.5l-7 -1l-6.2 5.1l6.9 1zM821.5 673.9l-6.9 -.8l-6.2 5l6.9 .9zM814.3 668l-6.9 -.7l-6.2 4.9l6.9 .7zM813.7 662.9l-6.8 -.5l-6.2 4.8l6.8 .6zM813.1 658l-6.8 -.3l-6.2 4.8l6.8 .4zM812.5 653.4l-6.8 -.3l-6.1 4.8l6.7 .3zM811.9 648.9l-6.8 -.1l-6.1 4.7l6.8 .1zM815.9 632.3l-6.6 .3l-6 4.5l6.6 -.2z"/><path fill=#4f7fbc stroke=#4f7fbc d="M1059.6 767.5l-7.9 -4.7l-6.3 6.5l7.9 4.8zM1038.3 764.8l-7.9 -4.5l-6.4 6.5l7.9 4.5zM1016.9 762.5l-7.8 -4.3l-6.3 6.3l7.8 4.4zM988.2 756.5l-7.7 -4l-6.4 6.3l7.8 4zM967.2 755l-7.7 -3.9l-6.4 6.2l7.7 3.9zM959.8 751.3l-7.7 -3.7l-6.4 6.2l7.7 3.7zM931.5 746.9l-7.5 -3.4l-6.4 6.1l7.5 3.4zM924.3 743.7l-7.6 -3.3l-6.4 6l7.5 3.4zM917 740.6l-7.5 -3.1l-6.4 5.9l7.5 3.2zM860.1 719.9l-7.3 -2.2l-6.4 5.5l7.3 2.4zM853.1 717.8l-7.2 -2.1l-6.4 5.5l7.2 2.2zM846.1 715.9l-7.2 -2.1l-6.4 5.5l7.2 2.1zM831.6 705.4l-7.1 -1.7l-6.3 5.4l7.1 1.7zM824.1 697.5l-7 -1.5l-6.3 5.3l7 1.5zM816.8 690.2l-7 -1.2l-6.3 5.1l6.9 1.3zM808.9 677.9l-6.9 -.8l-6.3 5l6.9 .8zM804.9 644.8l-6.7 0l-6.1 4.6l6.7 0zM804.3 640.8l-6.6 .2l-6.1 4.5l6.6 -.2z"/><path fill=#5181bd stroke=#5181bd d="M1053.6 773.8l-8 -4.8l-6.3 6.6l7.9 4.8zM1032.1 771l-7.9 -4.5l-6.3 6.4l7.9 4.6zM1010.8 768.6l-7.8 -4.3l-6.4 6.3l7.8 4.4zM989.6 766.5l-7.8 -4.2l-6.4 6.3l7.8 4.3zM961 760.9l-7.7 -3.9l-6.4 6.2l7.7 3.9zM925.3 752.7l-7.5 -3.4l-6.5 6l7.6 3.5zM833 719.2l-7.1 -2l-6.4 5.4l7.1 2.1zM818.7 708.9l-7.1 -1.6l-6.4 5.3l7.1 1.7zM811.3 701.2l-7 -1.4l-6.4 5.2l7 1.4zM804 694l-7 -1.2l-6.3 5.1l6.9 1.2zM795.7 676.7l-6.8 -.7l-6.3 5l6.8 .6zM795.2 671.6l-6.8 -.5l-6.2 4.9l6.7 .5zM794.6 666.8l-6.7 -.4l-6.2 4.8l6.7 .4zM794.1 662.1l-6.7 -.2l-6.2 4.7l6.7 .3zM793.6 657.7l-6.7 -.1l-6.1 4.6l6.6 .2zM797.9 641.1l-6.6 .4l-6 4.5l6.6 -.3z"/><path fill=#5382be stroke=#5382be d="M1047.4 780.1l-7.9 -4.8l-6.3 6.5l7.9 4.9zM1026 777.3l-7.9 -4.6l-6.4 6.4l7.9 4.7zM1004.7 774.8l-7.9 -4.4l-6.4 6.4l7.9 4.4zM954.8 766.8l-7.7 -3.9l-6.4 6.3l7.6 3.9zM919.1 758.5l-7.5 -3.5l-6.5 6.1l7.6 3.5zM826.8 724.4l-7.1 -2.1l-6.5 5.5l7.2 2.1zM812.5 714l-7.1 -1.7l-6.4 5.4l7.1 1.7zM797.8 698.8l-6.9 -1.2l-6.3 5.2l6.9 1.2zM790.7 692.1l-6.9 -1l-6.3 5.1l6.8 1zM790.2 686.6l-6.9 -.8l-6.3 5l6.8 .8zM787.2 657.7l-6.7 0l-6.1 4.7l6.6 0zM786.7 653.6l-6.6 .1l-6.2 4.6l6.7 -.1zM791.6 641.6l-6.6 .4l-6 4.5l6.5 -.4z"/><path fill=#5584bf stroke=#5584bf d="M1041.3 786.4l-7.9 -4.8l-6.4 6.5l7.9 4.9zM1019.8 783.5l-7.8 -4.6l-6.4 6.5l7.9 4.7zM998.5 780.9l-7.9 -4.4l-6.4 6.4l7.9 4.5zM977.2 778.7l-7.8 -4.3l-6.4 6.4l7.7 4.3zM948.6 772.8l-7.7 -3.9l-6.5 6.2l7.7 4zM920.2 767.8l-7.6 -3.7l-6.5 6.2l7.6 3.7zM912.9 764.3l-7.6 -3.5l-6.5 6.1l7.6 3.6zM877.7 757.3l-7.5 -3.1l-6.5 5.9l7.4 3.2zM870.5 754.4l-7.4 -3l-6.5 5.9l7.4 3zM863.4 751.6l-7.4 -3l-6.5 5.9l7.4 2.9zM856.3 748.8l-7.4 -2.8l-6.5 5.9l7.4 2.8zM849.2 746.2l-7.3 -2.6l-6.5 5.7l7.3 2.7zM842.2 743.7l-7.3 -2.5l-6.5 5.7l7.3 2.6zM835.2 741.4l-7.3 -2.5l-6.5 5.7l7.3 2.5zM813.7 727.7l-7.1 -2l-6.5 5.5l7.2 2zM806.9 725.9l-7.1 -1.9l-6.5 5.5l7.1 1.9zM799.5 717.5l-7 -1.6l-6.4 5.4l7 1.6zM792.2 709.8l-6.9 -1.4l-6.4 5.2l6.9 1.5zM785 702.6l-6.8 -1.1l-6.4 5.1l6.9 1.2zM784.5 696.9l-6.8 -1l-6.4 5.1l6.9 1zM777.5 690.6l-6.8 -.7l-6.3 5l6.8 .8zM777 685.4l-6.7 -.6l-6.3 4.9l6.7 .7zM776.6 680.4l-6.7 -.5l-6.3 4.9l6.7 .5zM776.1 675.6l-6.7 -.4l-6.2 4.8l6.7 .4zM775.7 670.9l-6.7 -.2l-6.2 4.7l6.7 .3zM775.3 666.5l-6.7 -.1l-6.2 4.7l6.7 .1zM780.3 653.8l-6.6 .2l-6.1 4.6l6.6 -.2zM779.9 650l-6.6 .3l-6.1 4.5l6.6 -.3zM785.3 642.2l-6.6 .5l-6 4.4l6.5 -.4zM784.8 638.7l-6.5 .7l-6 4.3l6.5 -.5z"/><path fill=#5786c0 stroke=#5786c0 d="M1035.2 792.7l-8 -4.8l-6.4 6.6l8 4.9zM1013.7 789.8l-7.9 -4.7l-6.4 6.5l7.8 4.8zM992.3 787.1l-7.9 -4.5l-6.4 6.5l7.8 4.6zM971 784.8l-7.8 -4.3l-6.5 6.4l7.8 4.4zM942.3 778.9l-7.7 -4.1l-6.5 6.3l7.7 4.1zM913.9 773.7l-7.6 -3.7l-6.5 6.1l7.6 3.8zM878.6 766.1l-7.5 -3.3l-6.5 6l7.4 3.4zM871.4 763l-7.5 -3.2l-6.5 6l7.4 3.2zM864.2 760l-7.4 -3l-6.5 5.9l7.4 3.1zM857.1 757.1l-7.4 -2.9l-6.5 5.9l7.3 3zM850 754.4l-7.3 -2.8l-6.6 5.8l7.4 2.9zM842.9 751.7l-7.3 -2.7l-6.5 5.8l7.3 2.8zM835.9 749.2l-7.3 -2.6l-6.5 5.7l7.3 2.7zM828.9 746.8l-7.3 -2.5l-6.5 5.7l7.3 2.5zM821.9 744.5l-7.2 -2.4l-6.5 5.6l7.2 2.5zM800.6 731.1l-7 -2l-6.5 5.5l7 2zM786.5 721.1l-6.9 -1.5l-6.5 5.3l7 1.6zM779.3 713.5l-6.9 -1.3l-6.4 5.2l6.9 1.4zM771.8 700.8l-6.8 -.9l-6.4 5l6.8 1zM771.4 695.3l-6.8 -.8l-6.4 5l6.8 .9zM768.9 666.5l-6.6 0l-6.2 4.7l6.6 0zM768.5 662.4l-6.6 .1l-6.2 4.6l6.6 -.1zM773.6 650.5l-6.6 .4l-6.1 4.5l6.6 -.4zM778.5 639.5l-6.5 .7l-6 4.4l6.5 -.7z"/><path fill=#5988c1 stroke=#5988c1 d="M1029 799.1l-8 -4.9l-6.4 6.6l8 5zM964.7 791l-7.8 -4.4l-6.5 6.4l7.8 4.4zM872.2 771.9l-7.4 -3.4l-6.6 6l7.5 3.4zM758.3 694.2l-6.7 -.6l-6.3 4.9l6.7 .6zM758 689.2l-6.7 -.5l-6.3 4.9l6.7 .5zM757.6 684.3l-6.6 -.3l-6.3 4.8l6.6 .4z"/><path fill=#5c89c2 stroke=#5c89c2 d="M1022.8 805.5l-8 -5l-6.4 6.7l7.9 5zM958.4 797.2l-7.7 -4.5l-6.5 6.5l7.7 4.5zM908.6 789.3l-7.6 -3.9l-6.5 6.2l7.6 4zM873.1 780.9l-7.5 -3.5l-6.6 6.1l7.5 3.6zM788.6 748.7l-7.1 -2.1l-6.6 5.5l7.1 2.2zM774.5 737.9l-7 -1.8l-6.6 5.5l7 1.8z"/><path fill=#5e8bc3 stroke=#5e8bc3 d="M1016.5 812l-7.9 -5.1l-6.5 6.7l8 5.1zM995 808.8l-7.9 -4.9l-6.5 6.7l7.9 4.9zM952.1 803.4l-7.7 -4.5l-6.6 6.5l7.8 4.5zM930.9 801.1l-7.7 -4.2l-6.6 6.4l7.7 4.3zM902.3 795.3l-7.6 -4l-6.6 6.3l7.6 4zM874 790.3l-7.5 -3.7l-6.6 6.2l7.5 3.7zM866.8 786.8l-7.5 -3.5l-6.6 6.1l7.4 3.6zM824.6 776.8l-7.3 -3l-6.7 6l7.4 3zM817.5 774l-7.3 -2.9l-6.6 5.9l7.3 3zM810.5 771.3l-7.2 -2.8l-6.7 5.8l7.3 2.9zM803.5 768.7l-7.2 -2.7l-6.6 5.8l7.2 2.7zM775.4 752l-7.1 -2.1l-6.6 5.6l7.1 2.1zM761.4 741.4l-6.9 -1.7l-6.6 5.4l7 1.8zM754.4 733.4l-6.9 -1.5l-6.6 5.3l6.9 1.6zM747.4 726l-6.9 -1.3l-6.5 5.2l6.9 1.3zM740.2 713.5l-6.7 -.8l-6.5 5l6.7 .9zM739.9 708.2l-6.7 -.8l-6.4 5l6.7 .8zM739.6 703l-6.7 -.6l-6.4 4.9l6.7 .6zM739.3 698l-6.6 -.5l-6.4 4.9l6.7 .5zM739 693.2l-6.6 -.3l-6.3 4.8l6.6 .3zM738.8 688.6l-6.6 -.2l-6.3 4.7l6.5 .3zM738.5 684.1l-6.6 0l-6.3 4.7l6.6 .1zM743.9 671.6l-6.5 .2l-6.2 4.6l6.5 -.2zM749.3 660l-6.5 .5l-6.1 4.4l6.4 -.5z"/><path fill=#608dc4 stroke=#608dc4 d="M1010.3 818.4l-7.9 -5.1l-6.5 6.8l7.9 5.1zM988.7 815.2l-7.9 -4.9l-6.5 6.6l7.9 5zM967.2 812.2l-7.8 -4.7l-6.6 6.6l7.9 4.8zM945.8 809.6l-7.8 -4.5l-6.5 6.5l7.8 4.6zM924.5 807.3l-7.7 -4.3l-6.6 6.4l7.7 4.4zM903.3 805.3l-7.6 -4.2l-6.7 6.4l7.7 4.2zM895.9 801.4l-7.6 -4.1l-6.6 6.4l7.6 4zM874.9 799.8l-7.6 -3.8l-6.6 6.2l7.6 3.9zM867.6 796.2l-7.5 -3.7l-6.6 6.2l7.5 3.8zM832.4 788.6l-7.4 -3.3l-6.6 6.1l7.3 3.3zM825.3 785.5l-7.4 -3.2l-6.6 6l7.3 3.3zM818.2 782.5l-7.3 -3l-6.7 5.9l7.3 3.1zM811.1 779.7l-7.3 -3l-6.6 5.9l7.3 3zM804.1 776.9l-7.2 -2.9l-6.7 5.9l7.3 2.9zM797.1 774.2l-7.2 -2.7l-6.7 5.8l7.3 2.8zM790.2 771.7l-7.2 -2.6l-6.7 5.8l7.2 2.6zM783.2 769.3l-7.1 -2.6l-6.7 5.8l7.2 2.5zM769 757.3l-7 -2.1l-6.6 5.5l7 2.2zM762.2 755.3l-7 -2l-6.6 5.6l7 2zM748.4 745l-6.9 -1.7l-6.6 5.4l6.9 1.7zM741.4 737.1l-6.9 -1.4l-6.5 5.3l6.8 1.4zM734.5 729.8l-6.8 -1.2l-6.5 5.2l6.8 1.2zM734.2 723.9l-6.7 -1l-6.5 5.1l6.7 1.1zM734 718.3l-6.8 -.9l-6.4 5.1l6.7 .9zM732.4 688.5l-6.5 -.1l-6.4 4.8l6.6 .1zM732.2 684.2l-6.6 .1l-6.2 4.7l6.5 -.1zM731.9 680.1l-6.5 .2l-6.2 4.6l6.5 -.1zM737.7 672l-6.5 .3l-6.2 4.5l6.5 -.3zM737.4 668.3l-6.4 .4l-6.2 4.5l6.4 -.4zM743.1 660.6l-6.5 .7l-6.1 4.4l6.4 -.6zM748.6 653.3l-6.4 .8l-6 4.3l6.4 -.7zM754.2 646.3l-6.4 .9l-6 4.3l6.3 -.9zM759.6 639.5l-6.4 1.1l-5.9 4.2l6.3 -1z"/><path fill=#628fc5 stroke=#628fc5 d="M1004 824.9l-7.9 -5.1l-6.5 6.7l7.9 5.2zM918.1 813.5l-7.7 -4.4l-6.6 6.5l7.7 4.4zM896.9 811.4l-7.6 -4.2l-6.7 6.4l7.7 4.3zM868.5 805.8l-7.6 -3.8l-6.6 6.2l7.5 4zM826 794.4l-7.4 -3.3l-6.7 6l7.4 3.4zM818.8 791.3l-7.3 -3.3l-6.7 6.1l7.4 3.2zM776.8 774.7l-7.1 -2.5l-6.7 5.7l7.1 2.6zM769.9 772.4l-7.1 -2.5l-6.7 5.7l7.1 2.5zM749.1 758.7l-7 -1.9l-6.6 5.5l6.9 2zM728.2 734.7l-6.8 -1.2l-6.5 5.2l6.8 1.3zM721.2 722.3l-6.7 -.8l-6.4 5l6.6 .9zM721 717l-6.6 -.7l-6.5 4.9l6.7 .8zM720.8 711.8l-6.6 -.6l-6.5 4.9l6.7 .7zM720.6 706.8l-6.6 -.4l-6.4 4.8l6.6 .5zM720.4 702l-6.6 -.3l-6.3 4.8l6.5 .4zM720.2 697.4l-6.5 -.2l-6.4 4.8l6.6 .2zM725.7 680.5l-6.5 .2l-6.2 4.6l6.4 -.2zM731.2 668.9l-6.4 .5l-6.2 4.5l6.4 -.5zM736.9 661.4l-6.4 .7l-6.1 4.4l6.4 -.7zM753.5 640.8l-6.3 1.1l-6 4.2l6.3 -1.1z"/><path fill=#6792c7 stroke=#6792c7 d="M991.4 838l-7.9 -5.3l-6.6 6.8l7.9 5.3zM884.1 823.8l-7.7 -4.3l-6.7 6.4l7.7 4.4zM827.4 812.9l-7.5 -3.7l-6.7 6.3l7.4 3.7zM736.5 776.6l-7 -2.2l-6.7 5.6l7 2.3zM722.8 765.6l-6.9 -1.8l-6.7 5.5l6.9 1.9zM709.2 749.6l-6.8 -1.4l-6.6 5.3l6.7 1.4zM702.4 736.7l-6.7 -1l-6.6 5.2l6.7 .9zM702.2 731.1l-6.6 -.8l-6.6 5.1l6.7 .8zM701.6 706.3l-6.5 -.1l-6.4 4.7l6.5 .2zM707.4 689.4l-6.5 .3l-6.3 4.6l6.5 -.3zM718.9 670.4l-6.3 .7l-6.2 4.4l6.3 -.7zM724.6 663.2l-6.3 .9l-6.1 4.3l6.3 -.8zM730.3 656.3l-6.3 1.1l-6.1 4.2l6.3 -1zM735.9 649.8l-6.3 1.1l-6 4.2l6.3 -1.1z"/><path fill=#6994c8 stroke=#6994c8 d="M985.1 844.6l-8 -5.3l-6.6 6.8l8 5.4zM949.4 842.6l-7.9 -5l-6.6 6.7l7.8 5.1zM927.8 839.5l-7.8 -4.8l-6.7 6.6l7.8 4.9zM906.4 836.7l-7.8 -4.6l-6.7 6.6l7.8 4.7zM885 834.2l-7.7 -4.4l-6.7 6.5l7.7 4.5zM877.6 830l-7.6 -4.4l-6.8 6.5l7.7 4.4zM856.4 828l-7.6 -4.2l-6.7 6.4l7.5 4.2zM828.1 822.5l-7.5 -3.8l-6.8 6.3l7.5 3.9zM820.8 818.9l-7.4 -3.7l-6.8 6.2l7.5 3.8zM785.8 811.3l-7.3 -3.3l-6.8 6.1l7.3 3.3zM778.7 808.2l-7.2 -3.2l-6.8 6l7.3 3.3zM771.7 805.2l-7.2 -3.1l-6.8 6l7.2 3.1zM764.7 802.3l-7.2 -2.9l-6.7 5.9l7.2 3zM757.8 799.6l-7.2 -2.9l-6.8 5.9l7.2 2.9zM750.9 796.9l-7.2 -2.7l-6.7 5.8l7.1 2.8zM744 794.3l-7.1 -2.6l-6.8 5.8l7.1 2.7zM723.3 779.9l-7 -2.2l-6.7 5.7l6.9 2.2zM716.6 777.9l-7 -2l-6.7 5.6l6.9 2.1zM709.7 769.1l-6.9 -1.7l-6.7 5.4l6.9 1.8zM702.9 761l-6.8 -1.6l-6.7 5.4l6.8 1.6zM696.3 753.4l-6.8 -1.3l-6.6 5.2l6.7 1.4zM696.1 747.3l-6.7 -1.1l-6.6 5.2l6.7 1.2zM689.5 735.2l-6.6 -.7l-6.6 5l6.7 .8zM689.5 729.9l-6.6 -.6l-6.6 5l6.6 .7zM689.4 724.9l-6.6 -.5l-6.5 4.9l6.6 .5zM689.3 720l-6.5 -.4l-6.5 4.9l6.5 .4zM695.3 702.1l-6.5 0l-6.3 4.7l6.4 0zM701.2 689.8l-6.4 .4l-6.3 4.5l6.4 -.3zM707 678.6l-6.4 .6l-6.2 4.4l6.4 -.6zM712.8 671.3l-6.3 .8l-6.2 4.3l6.3 -.8zM718.6 664.2l-6.3 1l-6.2 4.3l6.3 -.9zM724.2 657.5l-6.2 1.1l-6.1 4.3l6.3 -1.1z"/><path fill=#6b96c9 stroke=#6b96c9 d="M978.7 851.2l-8 -5.4l-6.6 6.9l8 5.4zM921.4 845.9l-7.8 -4.8l-6.7 6.6l7.8 5zM899.9 843.1l-7.7 -4.7l-6.8 6.6l7.8 4.7zM878.5 840.5l-7.7 -4.5l-6.7 6.6l7.7 4.5zM849.9 834.1l-7.6 -4.2l-6.8 6.5l7.6 4.2zM821.5 828.6l-7.5 -3.9l-6.7 6.3l7.4 3.9zM786.3 820.4l-7.3 -3.5l-6.8 6.2l7.3 3.5zM779.2 817.1l-7.3 -3.3l-6.8 6.1l7.3 3.4zM772.2 814l-7.3 -3.3l-6.8 6.1l7.3 3.3zM765.2 810.9l-7.3 -3.1l-6.8 6l7.3 3.2zM758.2 808l-7.2 -3l-6.8 6l7.2 3zM751.2 805.2l-7.1 -2.9l-6.8 5.9l7.1 3zM744.3 802.5l-7.1 -2.8l-6.8 5.9l7.1 2.8zM737.4 799.9l-7.1 -2.7l-6.8 5.9l7.1 2.7zM730.6 797.4l-7.1 -2.5l-6.8 5.8l7.1 2.6zM723.8 795l-7.1 -2.4l-6.8 5.7l7.1 2.5zM710.1 783.2l-7 -2l-6.7 5.6l6.9 2.1zM696.6 772.7l-6.8 -1.7l-6.8 5.4l6.9 1.8zM689.9 764.6l-6.7 -1.4l-6.8 5.3l6.8 1.5zM689.8 758.4l-6.7 -1.4l-6.7 5.3l6.8 1.4zM683.3 751.3l-6.7 -1.1l-6.6 5.2l6.6 1.1zM683.2 745.5l-6.6 -.9l-6.6 5.1l6.6 1zM683.2 740l-6.6 -.8l-6.6 5l6.6 .9zM683.1 724.5l-6.6 -.4l-6.5 4.9l6.6 .5zM683 719.8l-6.5 -.3l-6.4 4.8l6.4 .3zM683 715.2l-6.5 -.1l-6.4 4.8l6.4 .1zM689.1 702.3l-6.4 .2l-6.4 4.6l6.4 -.1zM689 698.3l-6.4 .3l-6.3 4.6l6.4 -.2zM695 690.4l-6.3 .4l-6.3 4.5l6.3 -.4zM706.7 672.2l-6.2 .9l-6.2 4.3l6.3 -.8zM729.6 648.7l-6.2 1.4l-6 4.1l6.2 -1.3z"/><path fill=#6d98ca stroke=#6d98ca d="M972.3 857.8l-8 -5.4l-6.6 6.9l8 5.5zM914.9 852.4l-7.8 -4.9l-6.7 6.7l7.8 5zM893.4 849.5l-7.7 -4.8l-6.8 6.7l7.7 4.8zM779.7 826.3l-7.3 -3.5l-6.8 6.2l7.3 3.6zM717.2 800.5l-7 -2.5l-6.8 5.8l7 2.6zM696.8 786.6l-6.9 -2l-6.7 5.6l6.8 2.1zM676.9 762.2l-6.7 -1.3l-6.7 5.3l6.7 1.3zM670.5 744.1l-6.6 -.8l-6.6 5.1l6.6 .8zM670.5 738.8l-6.6 -.6l-6.5 5l6.5 .6zM670.5 733.7l-6.5 -.4l-6.6 4.9l6.5 .5zM676.8 711l-6.4 .1l-6.4 4.7l6.3 -.1zM682.9 698.8l-6.4 .4l-6.3 4.5l6.3 -.3zM718 656.3l-6.2 1.3l-6 4.2l6.2 -1.3z"/><path fill=#7099cb stroke=#7099cb d="M965.9 864.5l-8 -5.5l-6.6 6.9l7.9 5.6zM886.9 855.9l-7.8 -4.8l-6.7 6.7l7.7 4.8zM683.6 790.1l-6.8 -2l-6.8 5.6l6.8 2zM706.4 664l-6.2 1.2l-6.1 4.2l6.2 -1.2zM723.5 648.1l-6.2 1.6l-5.9 4l6.1 -1.5z"/><path fill=#739ccc stroke=#739ccc d="M959.4 871.2l-7.9 -5.5l-6.7 6.9l7.9 5.6zM923.5 868.8l-7.8 -5.2l-6.8 6.8l7.9 5.3zM837.5 857.1l-7.6 -4.5l-6.8 6.6l7.6 4.5zM780.7 845.4l-7.4 -3.8l-6.9 6.3l7.4 3.9zM731.7 831.1l-7.2 -3.2l-6.9 6l7.2 3.3zM724.8 828.1l-7.2 -3.1l-6.9 6l7.2 3.1zM717.9 825.2l-7.1 -3l-7 6l7.2 3zM711 822.4l-7.1 -2.9l-6.9 6l7.1 2.9zM657.4 777.2l-6.6 -1.4l-6.8 5.3l6.7 1.5zM651.2 764.1l-6.6 -1l-6.7 5.1l6.6 1.1zM651.3 758.4l-6.6 -.8l-6.7 5.1l6.6 .9zM651.6 742.7l-6.5 -.5l-6.6 4.9l6.5 .5zM651.7 737.8l-6.5 -.3l-6.5 4.9l6.4 .3zM658.2 720l-6.3 .1l-6.5 4.7l6.3 -.1zM664.5 707.8l-6.3 .4l-6.3 4.6l6.2 -.4zM694.6 671.7l-6.2 1.2l-6.1 4.2l6.2 -1.1z"/><path fill=#759ecd stroke=#759ecd d="M953 877.9l-8 -5.6l-6.7 7l7.9 5.6zM895.3 872l-7.7 -5.1l-6.8 6.8l7.7 5.1zM873.8 868.8l-7.8 -4.9l-6.8 6.7l7.7 5zM852.3 866l-7.7 -4.8l-6.8 6.7l7.6 4.8zM830.9 863.4l-7.6 -4.5l-6.9 6.6l7.6 4.6zM774.1 851.5l-7.4 -3.9l-6.9 6.3l7.3 4zM732 840l-7.2 -3.3l-6.9 6.1l7.2 3.4zM725.1 836.9l-7.2 -3.3l-7 6.1l7.2 3.3zM718.1 833.8l-7.1 -3.1l-7 6.1l7.2 3.1zM711.2 830.9l-7.1 -3l-6.9 6l7.1 3.1zM704.3 828.1l-7 -2.9l-7 5.9l7.1 3zM697.5 825.4l-7.1 -2.8l-6.9 5.9l7.1 2.8zM670.5 808l-6.9 -2.2l-6.9 5.7l6.9 2.3zM657.3 797.1l-6.8 -1.9l-6.9 5.6l6.8 1.8zM650.8 788.7l-6.7 -1.5l-6.8 5.4l6.7 1.6zM644.6 774.9l-6.6 -1.2l-6.8 5.3l6.6 1.2zM645.6 733.1l-6.4 -.1l-6.5 4.8l6.3 .1zM652.1 720.2l-6.3 .3l-6.5 4.6l6.3 -.2zM664.7 700.7l-6.3 .6l-6.3 4.5l6.2 -.6zM670.8 693.3l-6.2 .8l-6.3 4.4l6.2 -.7zM676.8 686.3l-6.2 .9l-6.2 4.4l6.2 -1zM682.8 679.5l-6.2 1.1l-6.2 4.3l6.2 -1.1zM700.3 663.1l-6.1 1.4l-6.1 4.1l6.2 -1.4z"/><path fill=#78a0ce stroke=#78a0ce d="M946.5 884.7l-8 -5.7l-6.7 7l7.9 5.7zM888.8 878.6l-7.8 -5.2l-6.8 6.8l7.8 5.3zM867.2 875.3l-7.8 -4.9l-6.8 6.7l7.7 5zM845.7 872.4l-7.7 -4.8l-6.9 6.7l7.7 4.8zM824.3 869.8l-7.6 -4.6l-6.9 6.6l7.6 4.6zM767.4 857.6l-7.4 -3.9l-7 6.3l7.4 4zM732.3 849.3l-7.2 -3.6l-7 6.3l7.3 3.6zM725.3 845.9l-7.2 -3.4l-7 6.2l7.3 3.5zM684 828.4l-7 -2.8l-7 5.9l7 2.8zM677.2 825.8l-6.9 -2.6l-7 5.9l7 2.6zM657.2 811.4l-6.9 -2.1l-6.9 5.6l6.9 2.2zM637.9 786l-6.6 -1.3l-6.9 5.3l6.7 1.4zM631.9 773l-6.6 -1l-6.8 5.2l6.6 1zM632 767.3l-6.5 -.8l-6.7 5.1l6.5 .9zM632.2 761.9l-6.5 -.7l-6.7 5l6.5 .8zM632.4 756.6l-6.5 -.5l-6.6 5l6.4 .6zM632.6 751.6l-6.4 -.4l-6.7 4.9l6.4 .5zM639.5 733.2l-6.4 0l-6.5 4.7l6.3 .1zM646 720.6l-6.3 .3l-6.4 4.6l6.2 -.2zM658.6 701.5l-6.2 .7l-6.3 4.5l6.2 -.7zM664.8 694.3l-6.2 .9l-6.3 4.3l6.2 -.8zM688.6 670.6l-6.1 1.4l-6.1 4.1l6.1 -1.3z"/><path fill=#7ba2d0 stroke=#7ba2d0 d="M940 891.5l-8 -5.7l-6.8 7l8 5.7zM903.9 888.8l-7.8 -5.4l-6.9 6.9l7.9 5.5zM796.3 873.8l-7.6 -4.5l-6.9 6.6l7.5 4.5zM739.7 862.4l-7.3 -3.9l-7 6.4l7.3 3.9zM657.1 826.6l-6.9 -2.4l-7 5.8l6.9 2.4zM631 804.2l-6.7 -1.7l-6.9 5.5l6.7 1.8zM624.9 789.9l-6.6 -1.3l-6.8 5.3l6.6 1.3zM626.8 742.1l-6.3 -.1l-6.6 4.8l6.3 .1zM633.5 729.3l-6.2 .2l-6.5 4.6l6.2 -.2zM646.4 709.7l-6.2 .7l-6.3 4.5l6.1 -.7zM652.7 702.4l-6.2 .8l-6.3 4.4l6.1 -.8zM658.8 695.3l-6.1 1l-6.3 4.3l6.1 -.9zM694.4 662.6l-6.1 1.6l-6 4.1l6.1 -1.6z"/><path fill=#7ea4d1 stroke=#7ea4d1 d="M933.4 898.3l-7.9 -5.8l-6.8 7.1l7.9 5.8zM897.3 895.5l-7.8 -5.4l-6.9 6.9l7.9 5.6zM789.5 880.1l-7.5 -4.5l-7 6.6l7.6 4.6zM768.3 878l-7.5 -4.3l-7 6.5l7.5 4.4zM732.9 868.5l-7.3 -3.9l-7 6.4l7.3 3.9zM643.7 829.8l-6.9 -2.3l-7 5.7l6.9 2.5zM630.6 818.2l-6.7 -2l-7 5.7l6.8 2zM618.1 801.3l-6.7 -1.5l-6.9 5.4l6.7 1.6zM612.2 787.7l-6.5 -1.1l-6.9 5.2l6.6 1.2zM613.6 760.6l-6.4 -.4l-6.7 4.9l6.4 .5zM613.8 755.7l-6.3 -.2l-6.7 4.8l6.4 .4zM640.5 710.6l-6.2 .7l-6.4 4.5l6.2 -.8zM665 686l-6.1 1.2l-6.2 4.2l6.1 -1.2zM682.7 670l-6 1.6l-6.1 4.1l6.1 -1.6z"/><path fill=#81a6d2 stroke=#81a6d2 d="M926.8 905.1l-7.9 -5.8l-6.8 7.1l7.9 5.9zM890.7 902.3l-7.9 -5.5l-6.8 7l7.8 5.5zM761.5 884.3l-7.4 -4.4l-7.1 6.6l7.5 4.4zM684.3 863.1l-7.1 -3.3l-7.1 6.1l7.2 3.5zM677.4 860l-7.1 -3.3l-7 6.1l7.1 3.3zM670.6 856.9l-7.1 -3.2l-7.1 6.1l7.1 3.2zM663.8 853.9l-7.1 -3l-7 6.1l7 3zM657 851.1l-7 -2.9l-7.1 6l7 3zM650.2 848.4l-7 -2.8l-7 5.9l6.9 2.9zM617.4 821.7l-6.7 -1.9l-7 5.6l6.7 2zM611.2 813.1l-6.7 -1.7l-7 5.5l6.7 1.7zM605 805.1l-6.6 -1.5l-6.9 5.4l6.6 1.5zM608 751.1l-6.3 0l-6.6 4.8l6.3 0zM614.9 738.3l-6.2 .2l-6.5 4.7l6.2 -.2zM653 693.8l-6 1.2l-6.3 4.2l6.1 -1.2zM671 677.5l-6 1.5l-6.1 4.1l6 -1.5z"/><path fill=#84a9d3 stroke=#84a9d3 d="M920.2 912l-7.9 -5.8l-6.8 7.1l7.9 5.9zM884.1 909.1l-7.9 -5.6l-6.9 7l7.8 5.6zM848 906.7l-7.7 -5.3l-7 7l7.8 5.3zM826.4 903.3l-7.7 -5.1l-7 6.9l7.7 5.1zM804.8 900.2l-7.6 -4.9l-7 6.8l7.6 4.9zM783.3 897.4l-7.5 -4.7l-7.1 6.7l7.6 4.8zM762 894.9l-7.5 -4.5l-7.1 6.6l7.5 4.6zM733.6 888.6l-7.4 -4.2l-7.1 6.5l7.4 4.3zM698.4 879.4l-7.3 -3.7l-7.1 6.3l7.3 3.8zM691.4 875.9l-7.2 -3.7l-7.1 6.3l7.2 3.7zM630 848.9l-6.9 -2.6l-7.1 5.9l6.9 2.6zM623.3 846.5l-6.8 -2.6l-7.1 5.9l6.8 2.6zM610.4 834.4l-6.8 -2.2l-7 5.7l6.7 2.2zM592 808.9l-6.6 -1.4l-6.9 5.4l6.5 1.4zM594.8 764.8l-6.3 -.3l-6.7 4.9l6.3 .3zM595.2 760.1l-6.3 -.1l-6.7 4.8l6.3 .2zM602.3 747l-6.2 .2l-6.6 4.7l6.2 -.1zM615.8 727.1l-6.2 .7l-6.4 4.5l6.1 -.6zM622.2 719.7l-6.1 .7l-6.4 4.5l6.1 -.8zM647.2 695.1l-6.1 1.3l-6.2 4.2l6 -1.3zM665.2 679.2l-6 1.5l-6.1 4.1l6 -1.6zM676.9 669.9l-5.9 1.7l-6.1 4l6 -1.7z"/><path fill=#87abd4 stroke=#87abd4 d="M913.6 918.9l-7.9 -5.9l-6.9 7.2l8 5.9zM877.4 915.9l-7.9 -5.7l-6.9 7.1l7.9 5.7zM841.3 913.4l-7.8 -5.3l-6.9 7l7.7 5.4zM819.6 909.9l-7.7 -5.1l-7 6.9l7.7 5.2zM776.5 903.9l-7.5 -4.8l-7.1 6.8l7.6 4.8zM755.1 901.3l-7.4 -4.5l-7.1 6.6l7.5 4.6zM726.7 894.9l-7.4 -4.3l-7.1 6.6l7.4 4.3zM698.6 889.3l-7.3 -4l-7.2 6.5l7.3 4zM691.5 885.6l-7.2 -3.9l-7.1 6.4l7.2 3.9zM609.9 849.7l-6.8 -2.5l-7.2 5.9l6.9 2.5zM603.3 847.4l-6.8 -2.3l-7.1 5.8l6.8 2.4zM597.1 837.8l-6.7 -2.1l-7.1 5.7l6.7 2.1zM590.9 828.8l-6.6 -1.8l-7.1 5.6l6.7 1.9zM584.9 820.5l-6.6 -1.6l-7 5.5l6.6 1.6zM579 812.7l-6.5 -1.3l-7 5.4l6.5 1.3zM579.4 806.6l-6.5 -1.2l-6.9 5.3l6.4 1.2zM579.8 800.7l-6.5 -1.1l-6.9 5.3l6.5 1zM581 784l-6.3 -.6l-6.8 5.1l6.3 .6zM581.5 778.9l-6.4 -.5l-6.8 5l6.3 .5zM581.9 774l-6.3 -.4l-6.8 5l6.3 .3zM589.2 760.2l-6.3 -.1l-6.7 4.8l6.3 .1zM589.5 755.8l-6.2 .1l-6.6 4.8l6.2 -.1zM596.3 747.4l-6.2 .2l-6.6 4.7l6.2 -.2zM609.9 727.9l-6.1 .7l-6.5 4.5l6.1 -.7zM616.3 720.6l-6 .9l-6.5 4.3l6.1 -.8zM635.1 702.9l-6 1.2l-6.3 4.2l6 -1.1zM641.3 696.5l-6 1.4l-6.2 4.1l6 -1.3zM653.4 686.6l-6 1.6l-6.2 4.1l6 -1.5zM665.3 677.2l-6 1.7l-6.1 4l6 -1.7z"/><path fill=#8aadd5 stroke=#8aadd5 d="M907 925.8l-8 -5.9l-6.9 7.2l8 6zM834.6 920.2l-7.8 -5.4l-7 7l7.7 5.4zM748.3 907.8l-7.5 -4.7l-7.1 6.7l7.5 4.7zM727 905.4l-7.4 -4.4l-7.2 6.6l7.5 4.5zM698.7 899.4l-7.3 -4.1l-7.2 6.5l7.3 4.2zM691.7 895.5l-7.3 -4l-7.2 6.5l7.3 4zM656.8 887.1l-7.1 -3.6l-7.2 6.3l7.2 3.6zM650 883.7l-7.1 -3.5l-7.2 6.3l7.1 3.5zM643.1 880.4l-7 -3.3l-7.2 6.2l7 3.4zM636.3 877.3l-7 -3.2l-7.2 6.1l7 3.3zM629.5 874.3l-7 -3.1l-7.2 6.1l7 3.1zM622.8 871.4l-7 -3l-7.2 6l7 3.1zM616 868.6l-6.9 -2.9l-7.1 6l6.9 2.9zM596.4 852.9l-6.7 -2.3l-7.2 5.8l6.8 2.4zM589.9 850.7l-6.7 -2.2l-7.2 5.7l6.7 2.4zM583.8 841.3l-6.7 -2l-7.1 5.6l6.7 2.1zM577.7 832.5l-6.6 -1.8l-7 5.6l6.6 1.8zM571.8 824.2l-6.5 -1.5l-7.1 5.5l6.6 1.5zM566.9 804.7l-6.4 -1l-6.9 5.3l6.4 1zM567.4 799l-6.4 -.8l-6.9 5.2l6.4 .8zM567.9 793.6l-6.4 -.7l-6.9 5.1l6.4 .7zM568.3 788.3l-6.3 -.5l-6.8 5l6.3 .6zM576.3 769.2l-6.3 -.1l-6.7 4.8l6.2 .2zM583.6 756.1l-6.2 .2l-6.7 4.7l6.2 -.2zM623 710.8l-6 1.1l-6.4 4.3l6.1 -1.1zM629.3 704.2l-6 1.3l-6.3 4.2l6 -1.2zM641.5 694.2l-6 1.5l-6.2 4.1l6 -1.4z"/><path fill=#8cafd6 stroke=#8cafd6 d="M900.3 932.8l-7.9 -6l-7 7.2l8 6.1zM864 929.6l-7.9 -5.8l-7 7.2l7.9 5.8zM827.8 926.9l-7.8 -5.4l-7 7l7.7 5.5zM806 923.3l-7.7 -5.3l-7 7l7.7 5.3zM784.4 920l-7.6 -5.1l-7.1 6.9l7.6 5.1zM762.8 916.9l-7.5 -4.8l-7.1 6.8l7.5 4.9zM741.4 914.2l-7.5 -4.6l-7.1 6.7l7.5 4.7zM712.9 907.6l-7.3 -4.4l-7.2 6.6l7.4 4.4zM684.7 901.7l-7.2 -4l-7.2 6.5l7.2 4zM643 889.7l-7.1 -3.5l-7.2 6.3l7.1 3.5zM636.2 886.4l-7.1 -3.4l-7.2 6.2l7.1 3.5zM629.4 883.2l-7.1 -3.3l-7.2 6.2l7 3.3zM622.6 880.1l-7 -3.1l-7.2 6.1l7 3.2zM615.8 877.2l-6.9 -3.1l-7.2 6.1l6.9 3.1zM609.1 874.3l-6.9 -2.9l-7.2 6.1l6.9 2.9zM589.5 858.5l-6.7 -2.4l-7.2 5.8l6.8 2.5zM583 856.3l-6.7 -2.4l-7.2 5.8l6.7 2.4zM576.9 846.7l-6.7 -2.1l-7.1 5.7l6.7 2.1zM565 829.4l-6.5 -1.5l-7.1 5.4l6.5 1.6zM559.7 815.6l-6.4 -1.2l-7 5.3l6.4 1.2zM560.2 809.6l-6.4 -1l-6.9 5.3l6.3 1zM560.7 803.9l-6.3 -.9l-7 5.2l6.4 .9zM561.2 798.4l-6.3 -.7l-6.9 5.1l6.3 .7zM561.7 793.1l-6.3 -.6l-6.8 5l6.2 .7zM562.2 787.9l-6.2 -.4l-6.9 5l6.3 .5zM570.2 769.2l-6.1 0l-6.8 4.8l6.2 .1zM584.4 748.3l-6.1 .4l-6.6 4.6l6.1 -.4zM591.1 740.4l-6.1 .6l-6.5 4.6l6.1 -.6zM597.8 732.9l-6.1 .8l-6.5 4.4l6 -.7zM604.3 725.6l-6 1l-6.5 4.3l6.1 -.8zM623.3 708.1l-6 1.3l-6.3 4.2l5.9 -1.2zM629.5 701.8l-5.9 1.4l-6.3 4.2l6 -1.4zM641.7 692.1l-5.9 1.5l-6.2 4.1l5.9 -1.5z"/><path fill=#92b3d8 stroke=#92b3d8 d="M886.9 946.9l-7.9 -6.2l-7 7.3l7.9 6.2zM850.4 943.4l-7.8 -5.8l-7 7.2l7.8 5.8zM814.1 940.6l-7.7 -5.6l-7.1 7.1l7.8 5.6zM706.2 924.7l-7.4 -4.6l-7.2 6.7l7.4 4.7zM677.9 918.3l-7.3 -4.3l-7.3 6.6l7.3 4.3zM649.8 912.7l-7.2 -4l-7.3 6.5l7.2 4zM642.9 908.9l-7.2 -3.8l-7.3 6.4l7.2 3.9zM575.3 877.8l-6.8 -2.7l-7.3 6l6.8 2.7zM568.7 875.3l-6.7 -2.6l-7.3 6l6.8 2.6zM556.2 863l-6.7 -2.2l-7.2 5.8l6.7 2.2zM550.3 853.7l-6.6 -1.9l-7.2 5.6l6.6 2zM544.5 845.1l-6.5 -1.7l-7.2 5.5l6.6 1.7zM539.4 830.7l-6.4 -1.3l-7.1 5.4l6.4 1.3zM540 824.6l-6.4 -1.2l-7 5.3l6.3 1.2zM542.4 802.1l-6.3 -.6l-6.9 5.1l6.2 .6zM543 797l-6.2 -.4l-6.9 5l6.2 .4zM543.6 792.1l-6.2 -.3l-6.9 4.9l6.2 .4zM551.3 778.3l-6.1 0l-6.8 4.8l6.1 .1zM565.8 757.4l-6.1 .5l-6.6 4.6l6 -.4zM572.6 749.6l-6 .6l-6.6 4.5l6 -.6zM579.4 742l-6 .8l-6.5 4.5l6 -.8zM586.1 734.8l-6 .9l-6.5 4.4l6 -.9zM605.3 717.3l-5.9 1.3l-6.4 4.2l6 -1.2z"/><path fill=#95b6d9 stroke=#95b6d9 d="M880.1 953.9l-7.9 -6.2l-7 7.4l7.9 6.2zM771.1 945.1l-7.6 -5.3l-7.2 7l7.7 5.4zM749.5 941.7l-7.6 -5.2l-7.2 7l7.6 5.2zM727.9 938.6l-7.5 -5l-7.3 6.9l7.5 5zM706.4 935.7l-7.4 -4.7l-7.3 6.8l7.5 4.8zM677.9 928.9l-7.3 -4.5l-7.3 6.7l7.4 4.5zM649.8 922.8l-7.3 -4.1l-7.3 6.6l7.3 4.1zM608.2 910.5l-7.1 -3.6l-7.3 6.3l7 3.7zM601.3 907.1l-7 -3.5l-7.3 6.3l7 3.5zM594.6 903.8l-7 -3.3l-7.3 6.2l7 3.4zM587.8 900.7l-6.9 -3.2l-7.3 6.2l6.9 3.2zM581.1 897.7l-6.9 -3.2l-7.3 6.2l6.9 3.2zM574.5 894.7l-6.9 -3l-7.3 6.1l6.9 3.1zM548.7 876.2l-6.7 -2.4l-7.2 5.9l6.6 2.4zM526.4 834.6l-6.4 -1.2l-7.1 5.4l6.4 1.2zM529 811.7l-6.2 -.7l-7 5.1l6.2 .7zM529.7 806.4l-6.2 -.5l-7 5.1l6.2 .5zM538.2 787.4l-6.1 -.1l-6.8 4.8l6.1 .1zM553 766l-6 .4l-6.8 4.7l6.1 -.4zM573.6 743l-6 .8l-6.5 4.5l5.9 -.9z"/><path fill=#98b8da stroke=#98b8da d="M873.4 961l-8 -6.2l-7 7.3l7.9 6.3zM764.2 951.9l-7.6 -5.4l-7.2 7.1l7.6 5.4zM742.5 948.4l-7.6 -5.2l-7.2 7l7.6 5.2zM720.9 945.2l-7.5 -5l-7.3 6.9l7.5 5zM699.4 942.3l-7.4 -4.8l-7.3 6.8l7.4 4.9zM642.7 929.2l-7.2 -4.2l-7.4 6.6l7.3 4.2zM607.9 920.1l-7.1 -3.7l-7.3 6.4l7.1 3.8zM601.1 916.6l-7.1 -3.7l-7.3 6.4l7 3.7zM560.8 897.7l-6.8 -2.9l-7.4 6.1l6.9 3zM554.2 895l-6.8 -2.8l-7.3 6l6.8 2.9zM535.2 879.6l-6.6 -2.4l-7.3 5.9l6.6 2.3zM518.2 852.6l-6.5 -1.6l-7.2 5.5l6.5 1.6zM524.4 801.2l-6.2 -.3l-6.9 5l6.1 .3zM532.3 787.5l-6.1 0l-6.8 4.8l6 0zM540.1 774.7l-6 .3l-6.8 4.7l6 -.3zM547.1 766.6l-6 .4l-6.7 4.7l6 -.5zM554.1 758.7l-6 .7l-6.6 4.5l6 -.6zM561 751.2l-5.9 .8l-6.6 4.5l5.9 -.8zM587.4 726.5l-5.9 1.3l-6.4 4.2l5.8 -1.2z"/><path fill=#9bbadb stroke=#9bbadb d="M866.6 968.1l-8 -6.2l-7 7.3l7.9 6.4zM829.9 964.4l-7.8 -6l-7.1 7.3l7.8 6zM793.5 961.3l-7.7 -5.8l-7.2 7.2l7.7 5.8zM757.2 958.7l-7.6 -5.4l-7.2 7.1l7.6 5.5zM735.5 955.1l-7.6 -5.2l-7.2 7l7.5 5.3zM713.9 951.9l-7.5 -5.1l-7.3 6.9l7.5 5.2zM692.4 948.9l-7.5 -4.9l-7.3 6.9l7.4 4.9zM642.6 939.6l-7.2 -4.3l-7.4 6.7l7.3 4.4zM607.7 930l-7.1 -3.9l-7.4 6.5l7.1 4zM600.8 926.3l-7.1 -3.8l-7.3 6.4l7 3.9zM540.6 898.1l-6.8 -2.8l-7.3 6.1l6.7 2.8zM521.8 882.9l-6.6 -2.2l-7.3 5.8l6.6 2.3zM516.1 873.5l-6.5 -2l-7.3 5.7l6.5 2zM510.5 864.6l-6.4 -1.7l-7.3 5.6l6.4 1.7zM505.8 849.9l-6.4 -1.3l-7.2 5.4l6.4 1.4zM506.5 843.7l-6.3 -1.2l-7.2 5.3l6.4 1.3zM509.5 820.8l-6.2 -.7l-7 5.1l6.2 .7zM510.3 815.5l-6.2 -.4l-7 5l6.2 .5zM541.3 767.2l-5.9 .6l-6.7 4.5l5.9 -.5zM575 734.3l-5.8 1.3l-6.5 4.2l5.9 -1.2z"/><path fill=#9fbcdc stroke=#9fbcdc d="M859.7 975.3l-7.9 -6.3l-7.1 7.4l7.9 6.4zM808.6 972.7l-7.8 -6l-7.2 7.3l7.8 6zM772.1 969.6l-7.7 -5.7l-7.2 7.2l7.7 5.7zM642.6 950.4l-7.3 -4.5l-7.4 6.7l7.3 4.6zM607.4 940.2l-7.1 -4.1l-7.4 6.5l7.1 4.2zM559.4 924.6l-6.9 -3.4l-7.4 6.3l6.9 3.5zM552.7 921.4l-6.9 -3.3l-7.4 6.3l6.9 3.3zM546.1 918.3l-6.9 -3.2l-7.4 6.2l6.8 3.3zM520.5 898.7l-6.7 -2.5l-7.4 5.9l6.7 2.6zM514 896.4l-6.6 -2.5l-7.4 5.9l6.6 2.5zM508.4 886.4l-6.6 -2.2l-7.4 5.8l6.6 2.2zM497.3 868.3l-6.4 -1.7l-7.3 5.6l6.4 1.7zM492.7 853.9l-6.3 -1.3l-7.2 5.4l6.3 1.3zM493.5 847.7l-6.3 -1.1l-7.1 5.3l6.2 1.2zM494.3 841.7l-6.2 -1l-7.2 5.3l6.3 1zM495.1 836l-6.2 -.9l-7.1 5.2l6.2 .9zM495.9 830.4l-6.1 -.7l-7.1 5.2l6.2 .7zM496.8 825.1l-6.2 -.6l-7.1 5.1l6.2 .6zM505.9 805.6l-6.1 -.1l-6.9 4.9l6 .2zM521.3 783.9l-6 .3l-6.8 4.7l6 -.3zM528.5 775.7l-6 .5l-6.7 4.7l5.9 -.5zM535.6 767.9l-6 .7l-6.7 4.5l6 -.6zM542.6 760.4l-5.9 .8l-6.7 4.5l5.9 -.8zM562.6 742.3l-5.8 1.1l-6.5 4.3l5.8 -1.1z"/><path fill=#a2bedd stroke=#a2bedd d="M852.9 982.5l-8 -6.4l-7.1 7.4l8 6.5zM801.6 979.7l-7.8 -6l-7.2 7.3l7.8 6.1zM765.1 976.6l-7.7 -5.8l-7.2 7.2l7.7 5.8zM635.4 956.9l-7.3 -4.6l-7.4 6.8l7.3 4.6zM607.2 950.5l-7.2 -4.2l-7.4 6.6l7.2 4.3zM565.7 937.6l-7 -3.7l-7.5 6.4l7 3.8zM558.9 934.1l-6.9 -3.6l-7.5 6.4l7 3.6zM552.2 930.7l-6.9 -3.5l-7.5 6.4l7 3.5zM545.5 927.4l-6.8 -3.3l-7.5 6.3l6.9 3.4zM538.9 924.3l-6.8 -3.3l-7.5 6.3l6.8 3.3zM532.3 921.2l-6.8 -3.1l-7.5 6.2l6.8 3.2zM525.7 918.3l-6.8 -3l-7.4 6.1l6.7 3.1zM506.9 902l-6.6 -2.5l-7.4 5.9l6.6 2.6zM494.9 889.8l-6.5 -2.1l-7.4 5.8l6.5 2.2zM489.4 880.6l-6.4 -1.8l-7.3 5.6l6.4 2zM484.9 865.4l-6.3 -1.4l-7.3 5.4l6.3 1.6zM491.6 819.7l-6 -.4l-7.1 5l6.1 .4zM500 805.7l-6 -.1l-7 4.9l6 0zM515.5 784.4l-6 .4l-6.8 4.6l6 -.3zM522.7 776.4l-5.9 .6l-6.8 4.6l5.9 -.6zM550.1 750.3l-5.8 1.1l-6.6 4.3l5.8 -1.1z"/><path fill=#a5c1de stroke=#a5c1de d="M846 989.7l-7.9 -6.4l-7.2 7.4l8 6.6zM794.7 986.8l-7.8 -6.1l-7.3 7.4l7.8 6.1zM758.1 983.6l-7.7 -5.9l-7.3 7.3l7.7 5.9zM700 977.2l-7.6 -5.3l-7.4 7l7.6 5.4zM656.7 970.7l-7.4 -4.9l-7.4 6.9l7.4 5zM487 903l-6.5 -2.3l-7.5 5.9l6.6 2.4zM471.8 869.3l-6.3 -1.4l-7.3 5.5l6.3 1.4zM477.2 834.2l-6.1 -.5l-7.1 5.1l6.1 .6zM509.7 785l-5.9 .5l-6.8 4.6l5.9 -.5z"/><path fill=#a9c3df stroke=#a9c3df d="M839.1 997l-7.9 -6.5l-7.2 7.5l7.9 6.5zM824.5 997.9l-7.9 -6.4l-7.2 7.5l7.9 6.5zM787.7 994l-7.8 -6.2l-7.3 7.4l7.8 6.2zM736.5 991.9l-7.6 -5.8l-7.4 7.3l7.7 5.9zM714.6 987.8l-7.6 -5.6l-7.4 7.2l7.6 5.7zM628.1 974.6l-7.3 -4.8l-7.5 6.9l7.3 4.8zM606.8 972.1l-7.3 -4.6l-7.5 6.8l7.2 4.6zM571.7 961.6l-7.1 -4.2l-7.5 6.6l7.1 4.3zM530.5 949.1l-6.9 -3.7l-7.5 6.4l6.9 3.7zM523.8 945.6l-6.8 -3.5l-7.6 6.4l6.9 3.5zM517.2 942.3l-6.8 -3.4l-7.6 6.3l6.9 3.5zM510.6 939.1l-6.8 -3.3l-7.5 6.3l6.8 3.3zM504 936l-6.7 -3.1l-7.6 6.2l6.8 3.2zM485.4 919.1l-6.6 -2.6l-7.5 6l6.6 2.7zM479 916.6l-6.6 -2.5l-7.5 6l6.6 2.6zM473.5 906.5l-6.5 -2.3l-7.5 5.8l6.5 2.4zM462.9 888l-6.4 -1.7l-7.4 5.6l6.4 1.8zM458.7 873.2l-6.3 -1.3l-7.3 5.4l6.2 1.4zM459.6 866.9l-6.2 -1.2l-7.3 5.4l6.2 1.3zM460.6 860.9l-6.2 -1.1l-7.2 5.3l6.1 1.1zM461.6 855l-6.2 -.9l-7.2 5.2l6.1 1zM462.5 849.3l-6.1 -.7l-7.2 5.2l6.1 .8zM463.5 843.9l-6.1 -.7l-7.2 5.2l6.1 .6zM473.2 824l-6 -.2l-7.1 5l6 .2zM481.7 810.5l-5.9 .1l-7 4.8l5.9 -.1zM489.2 801.9l-5.9 .3l-6.9 4.7l5.9 -.3zM496.7 793.6l-5.9 .4l-6.9 4.7l5.9 -.4zM504 785.6l-5.9 .6l-6.8 4.6l5.9 -.6zM511.3 778l-5.9 .7l-6.7 4.5l5.8 -.7z"/><path fill=#acc5e0 stroke=#acc5e0 d="M832.2 1004.3l-8 -6.6l-7.2 7.5l8 6.7zM780.7 1001.1l-7.9 -6.2l-7.2 7.4l7.8 6.3zM707.5 994.8l-7.6 -5.7l-7.4 7.2l7.6 5.8zM599.5 978.7l-7.2 -4.7l-7.6 6.8l7.3 4.7zM571.3 972.1l-7.1 -4.3l-7.6 6.7l7.2 4.4zM529.9 958.8l-6.9 -3.8l-7.6 6.5l6.9 3.9zM523.2 955.2l-6.9 -3.6l-7.6 6.4l6.9 3.7zM516.6 951.8l-6.9 -3.6l-7.6 6.4l6.9 3.6zM509.9 948.4l-6.8 -3.4l-7.6 6.3l6.8 3.5zM503.3 945.1l-6.8 -3.3l-7.5 6.3l6.7 3.4zM496.8 942l-6.8 -3.2l-7.6 6.3l6.8 3.2zM490.2 939l-6.7 -3.1l-7.6 6.2l6.7 3.2zM483.7 936.1l-6.6 -3l-7.6 6.2l6.7 3zM465.4 920l-6.5 -2.5l-7.6 5.9l6.6 2.6zM460 909.9l-6.4 -2.2l-7.5 5.8l6.4 2.3zM454.8 900.5l-6.4 -1.9l-7.5 5.7l6.4 2zM449.6 891.8l-6.3 -1.7l-7.4 5.6l6.3 1.7zM458.6 838.3l-6 -.4l-7.2 5l6.1 .4zM467.3 824l-5.9 -.1l-7.1 4.9l6 .1zM475.9 810.7l-5.9 .3l-6.9 4.7l5.9 -.2zM483.5 802.3l-5.9 .4l-6.9 4.7l5.9 -.4zM490.9 794.2l-5.8 .5l-6.9 4.6l5.9 -.5zM498.3 786.4l-5.8 .7l-6.8 4.5l5.8 -.7z"/><path fill=#b6cce2 stroke=#b6cce2 d="M811.2 1026.4l-8 -6.8l-7.2 7.6l7.9 6.8zM796.5 1027.2l-8 -6.6l-7.3 7.6l7.9 6.7zM744.8 1023.9l-7.8 -6.3l-7.4 7.5l7.7 6.3zM708 1020.3l-7.7 -6l-7.5 7.3l7.7 6.1zM671.3 1017.3l-7.5 -5.8l-7.5 7.3l7.5 5.8zM584.6 1003.3l-7.3 -4.9l-7.6 6.9l7.2 5zM563.2 1000.6l-7.2 -4.8l-7.7 7l7.2 4.8zM535 993.9l-7.1 -4.5l-7.6 6.8l7 4.5zM493.7 980.2l-6.8 -3.9l-7.7 6.6l6.8 3.9zM487.1 976.5l-6.9 -3.7l-7.7 6.5l6.9 3.8zM480.5 973l-6.8 -3.7l-7.7 6.5l6.8 3.7zM473.9 969.5l-6.8 -3.5l-7.7 6.4l6.8 3.6zM467.3 966.2l-6.7 -3.4l-7.7 6.4l6.7 3.4zM460.8 963l-6.7 -3.3l-7.7 6.3l6.7 3.4zM454.3 959.9l-6.6 -3.2l-7.7 6.3l6.6 3.2zM447.9 956.9l-6.6 -3l-7.7 6.2l6.6 3.1zM429.9 940.4l-6.5 -2.5l-7.6 6l6.4 2.6zM424.7 930.2l-6.4 -2.3l-7.6 5.9l6.4 2.3zM414.7 911.6l-6.2 -1.8l-7.5 5.7l6.2 1.8zM425.2 857l-5.9 -.4l-7.3 5l6 .5zM434.4 842.5l-5.9 -.2l-7.2 5l5.9 .2zM443.4 829l-5.9 .1l-7 4.8l5.8 -.1zM451.2 820.4l-5.8 .3l-7.1 4.7l5.9 -.3zM458.9 812.1l-5.8 .5l-7 4.6l5.8 -.4zM466.5 804.1l-5.8 .7l-6.9 4.6l5.8 -.6z"/><path fill=#b9cee3 stroke=#b9cee3 d="M804.1 1033.8l-7.9 -6.8l-7.3 7.6l7.9 6.9zM737.6 1031.2l-7.8 -6.4l-7.4 7.5l7.8 6.4zM700.7 1027.5l-7.6 -6.1l-7.5 7.4l7.6 6.1zM664.1 1024.4l-7.6 -5.8l-7.5 7.3l7.5 5.8zM555.8 1007.3l-7.2 -4.8l-7.7 6.9l7.2 4.9zM527.6 1000.4l-7.1 -4.5l-7.7 6.8l7.1 4.6zM416.3 943.7l-6.5 -2.4l-7.6 6l6.4 2.5zM411.2 933.6l-6.3 -2.2l-7.7 5.9l6.4 2.3zM406.3 924.2l-6.3 -2l-7.6 5.8l6.3 2zM402.7 908.5l-6.2 -1.5l-7.5 5.6l6.1 1.6zM403.9 901.9l-6.1 -1.4l-7.5 5.5l6.1 1.5zM408.8 877.6l-6 -.8l-7.3 5.2l6 .9zM410 872l-5.9 -.7l-7.4 5.2l6 .7zM420.6 851.8l-5.9 -.2l-7.2 5l5.9 .2zM445.5 820.8l-5.7 .4l-7.1 4.7l5.8 -.3z"/><path fill=#c0d2e5 stroke=#c0d2e5 d="M790 1048.7l-8 -6.9l-7.4 7.7l8 7zM723.2 1045.8l-7.8 -6.5l-7.5 7.6l7.8 6.6zM612.9 1035.9l-7.5 -5.6l-7.6 7.3l7.4 5.7zM591.1 1032.1l-7.4 -5.4l-7.7 7.2l7.4 5.5zM569.4 1028.7l-7.3 -5.2l-7.7 7.1l7.3 5.3zM379.5 931.6l-6.2 -1.9l-7.6 5.8l6.2 1.8zM391.5 875.9l-5.9 -.5l-7.4 5.1l5.9 .6zM401.1 861.1l-5.9 -.2l-7.2 5l5.8 .2zM418.5 838.6l-5.7 .2l-7.1 4.8l5.7 -.2zM426.5 830.1l-5.7 .5l-7.1 4.7l5.7 -.4z"/><path fill=#c6d7e7 stroke=#c6d7e7 d="M775.7 1063.8l-8 -7l-7.4 7.8l7.9 7.1zM708.7 1060.6l-7.8 -6.6l-7.6 7.7l7.8 6.6zM357.2 919.1l-6 -1.2l-7.6 5.5l6 1.3zM358.7 912.9l-6 -1.1l-7.5 5.4l5.9 1.2z"/><path fill=#cad9e8 stroke=#cad9e8 d="M768.5 1071.4l-8 -7.1l-7.4 7.9l7.9 7.1zM701.4 1068l-7.8 -6.6l-7.6 7.7l7.8 6.7zM649.4 1065l-7.6 -6.3l-7.7 7.5l7.6 6.4zM612.5 1061.5l-7.5 -6l-7.7 7.5l7.5 6zM357.4 894.9l-5.9 -.6l-7.4 5.2l5.8 .7zM367.4 879.8l-5.8 -.2l-7.4 5l5.8 .3zM385.5 856.9l-5.6 .2l-7.3 4.8l5.7 -.2z"/><path fill=#cddce9 stroke=#cddce9 d="M761.3 1079l-8 -7.1l-7.5 7.9l8 7.2zM353.2 889.4l-5.7 -.4l-7.5 5.1l5.8 .4z"/><path fill=#d4e1eb stroke=#d4e1eb d="M746.7 1094.4l-7.9 -7.3l-7.5 8l7.9 7.3z"/><path fill=#dfe8ef stroke=#dfe8ef d="M724.7 1117.7l-7.9 -7.4l-7.6 8l7.9 7.5zM709.7 1118.3l-7.9 -7.4l-7.7 8l7.9 7.5zM300.7 912.7l-5.6 -.2l-7.5 5l5.6 .3z"/><path fill=#3d6db2 stroke=#3d6db2 d="M1111.6 702.3l-7.9 -4l-6.1 6.1l8 4.2zM1018.8 685.3l-7.6 -3.1l-6.1 5.8l7.6 3.1zM953.7 663.3l-7.4 -2.1l-6.1 5.5l7.4 2.1zM931.4 651.4l-7.2 -1.6l-6.1 5.2l7.2 1.7z"/><path fill=#4474b6 stroke=#4474b6 d="M1088 726.3l-7.9 -4.3l-6.2 6.3l8 4.3zM1066.8 724.2l-7.8 -4l-6.2 6.2l7.8 4.1zM1038.2 718.8l-7.8 -3.8l-6.2 6.1l7.8 3.9zM1009.8 714.1l-7.7 -3.5l-6.2 6l7.7 3.6zM967 704.4l-7.5 -3l-6.3 5.8l7.6 3zM959.7 701.6l-7.5 -2.9l-6.2 5.8l7.5 2.9zM952.5 698.9l-7.5 -2.7l-6.2 5.7l7.5 2.8zM945.3 696.4l-7.5 -2.6l-6.2 5.6l7.5 2.7zM938.1 694l-7.4 -2.6l-6.2 5.7l7.4 2.5zM931 691.6l-7.4 -2.4l-6.2 5.6l7.3 2.5zM923.9 689.4l-7.4 -2.3l-6.2 5.5l7.3 2.4zM901.7 676.5l-7.2 -1.8l-6.2 5.3l7.2 1.9zM894.8 674.8l-7.2 -1.7l-6.2 5.3l7.2 1.8zM886.9 666.9l-7.1 -1.5l-6.2 5.2l7.1 1.6zM879.2 659.6l-7.1 -1.3l-6.2 5.1l7.1 1.3zM871.5 652.8l-7 -1l-6.1 5l7 1.1zM863.1 641.5l-6.9 -.7l-6.1 4.9l6.9 .7zM862.3 636.5l-6.9 -.5l-6 4.8l6.9 .5zM861.5 631.7l-6.9 -.3l-6 4.7l6.9 .4z"/><path fill=#4b7aba stroke=#4b7aba d="M1064.1 750.7l-7.9 -4.5l-6.3 6.4l7.9 4.5zM950 729.8l-7.6 -3.3l-6.3 6l7.6 3.3zM878.5 704.1l-7.3 -2.1l-6.3 5.5l7.2 2.2zM856.8 691.8l-7.1 -1.7l-6.3 5.4l7.1 1.7zM834.2 670l-6.9 -.9l-6.2 5l6.9 1z"/><path fill=#5281be stroke=#5281be d="M1039.8 775.5l-7.9 -4.7l-6.4 6.5l7.9 4.8zM1018.4 772.9l-7.9 -4.5l-6.3 6.4l7.8 4.6zM968.4 764.7l-7.7 -4l-6.4 6.2l7.7 4.1zM940 759.5l-7.6 -3.6l-6.5 6.1l7.7 3.7zM897.4 749l-7.5 -3.2l-6.5 5.9l7.5 3.2zM890.2 746l-7.5 -3l-6.4 5.9l7.4 3zM854.7 732.9l-7.3 -2.5l-6.5 5.7l7.3 2.5zM847.7 730.6l-7.3 -2.4l-6.4 5.7l7.2 2.4zM811.9 707.5l-7 -1.6l-6.4 5.3l7 1.6zM804.5 699.9l-6.9 -1.3l-6.4 5.2l7 1.4zM796.8 687.3l-6.9 -.9l-6.3 5.1l6.8 .9zM792.6 649.3l-6.7 .1l-6.1 4.6l6.7 -.1z"/><path fill=#5887c1 stroke=#5887c1 d="M1021.3 794.4l-7.9 -4.8l-6.4 6.6l7.9 4.8zM999.9 791.6l-7.9 -4.7l-6.5 6.5l7.9 4.7zM978.5 789l-7.8 -4.4l-6.5 6.4l7.8 4.5zM928.6 781l-7.6 -3.9l-6.5 6.3l7.6 4zM893 772.6l-7.5 -3.5l-6.5 6.1l7.5 3.6zM801.2 738.2l-7.1 -2.1l-6.5 5.5l7.1 2.1zM787 727.7l-7 -1.7l-6.5 5.4l7 1.7zM779.8 719.7l-6.9 -1.4l-6.5 5.3l7 1.5zM772.7 712.4l-6.9 -1.3l-6.4 5.2l6.9 1.3zM765.3 700l-6.8 -.8l-6.4 5l6.8 .9zM764.9 694.7l-6.8 -.7l-6.4 5l6.8 .7zM763.3 675.3l-6.7 -.2l-6.2 4.8l6.6 .2zM762.9 670.9l-6.6 0l-6.2 4.6l6.6 .1zM778.1 636.4l-6.5 .8l-5.9 4.3l6.4 -.8z"/><path fill=#5a88c2 stroke=#5a88c2 d="M1015.1 800.8l-7.9 -4.9l-6.5 6.6l8 4.9zM993.6 797.8l-7.8 -4.6l-6.5 6.5l7.9 4.7zM972.2 795.2l-7.8 -4.4l-6.5 6.4l7.8 4.6zM922.3 787.1l-7.6 -4l-6.5 6.3l7.6 4zM886.7 778.5l-7.5 -3.6l-6.6 6.1l7.5 3.7zM837.3 765.6l-7.3 -3l-6.6 5.9l7.4 3zM830.3 762.8l-7.3 -2.8l-6.6 5.8l7.3 2.9zM794.9 743.4l-7.1 -2.1l-6.5 5.6l7.1 2.1zM788.1 741.5l-7.1 -2l-6.5 5.5l7 2.1zM759.5 710.4l-6.8 -1l-6.5 5.1l6.8 1zM756.5 671l-6.5 .1l-6.2 4.6l6.5 0zM766.9 647.6l-6.5 .7l-6 4.4l6.4 -.6z"/><path fill=#638fc6 stroke=#638fc6 d="M990.1 826.5l-8 -5.1l-6.5 6.7l7.9 5.1zM968.5 823.3l-7.9 -4.9l-6.5 6.6l7.8 5zM925.6 817.8l-7.7 -4.5l-6.6 6.5l7.7 4.6zM875.8 809.6l-7.6 -4l-6.7 6.4l7.6 4zM840.3 801.1l-7.4 -3.6l-6.7 6.1l7.4 3.7zM756.2 768l-7 -2.3l-6.7 5.7l7.1 2.2zM721.7 733.7l-6.8 -1.2l-6.5 5.2l6.7 1.2zM719.8 688.8l-6.5 .1l-6.3 4.6l6.5 0zM725.5 676.7l-6.5 .3l-6.2 4.6l6.4 -.4zM736.6 658.2l-6.3 .9l-6.1 4.3l6.3 -.8zM742.2 651.3l-6.3 1l-6.1 4.2l6.4 -.9zM747.7 644.6l-6.3 1.2l-6 4.2l6.3 -1.1z"/><path fill=#6591c7 stroke=#6591c7 d="M983.7 833l-7.9 -5.2l-6.6 6.8l8 5.2zM897.9 821.7l-7.7 -4.3l-6.6 6.4l7.6 4.4zM869.3 815.7l-7.5 -4l-6.7 6.3l7.6 4.1zM841.1 810.5l-7.5 -3.7l-6.7 6.2l7.4 3.8zM791.8 796.7l-7.3 -3.1l-6.7 6l7.2 3.1zM784.8 793.8l-7.3 -3l-6.7 6l7.2 3zM777.8 791l-7.2 -2.9l-6.8 5.9l7.2 3zM770.8 788.3l-7.2 -2.7l-6.7 5.8l7.2 2.8zM743 771.2l-7 -2.1l-6.7 5.6l7 2.2zM715.5 744.6l-6.7 -1.3l-6.6 5.3l6.7 1.3zM708.7 731.9l-6.7 -.9l-6.5 5.1l6.6 .9zM707.9 706.4l-6.5 -.3l-6.4 4.8l6.5 .3zM707.8 701.8l-6.5 -.1l-6.4 4.8l6.5 .1zM719.3 677.2l-6.4 .5l-6.3 4.5l6.4 -.5z"/><path fill=#6c97ca stroke=#6c97ca d="M964.6 852.6l-7.9 -5.3l-6.6 6.9l7.9 5.3zM928.9 850.7l-7.8 -5l-6.7 6.8l7.8 5zM907.4 847.7l-7.8 -4.8l-6.7 6.6l7.8 4.9zM885.9 844.9l-7.7 -4.6l-6.7 6.6l7.7 4.7zM836 836.3l-7.5 -4.1l-6.8 6.4l7.5 4.2zM800.6 827.3l-7.4 -3.7l-6.9 6.2l7.5 3.8zM710.2 790.6l-6.9 -2.2l-6.8 5.7l6.9 2.2zM696.7 779.6l-6.8 -1.9l-6.8 5.5l6.9 1.9zM690 771.2l-6.8 -1.7l-6.7 5.4l6.8 1.7zM683.4 763.4l-6.7 -1.4l-6.7 5.3l6.7 1.4zM676.9 750.4l-6.7 -1l-6.6 5.1l6.6 1zM676.8 744.7l-6.6 -.8l-6.6 5.1l6.6 .9zM676.8 739.3l-6.6 -.7l-6.5 5.1l6.5 .7zM676.8 734.1l-6.5 -.5l-6.6 4.9l6.5 .6zM676.8 729.1l-6.5 -.4l-6.6 4.9l6.6 .5zM676.8 724.3l-6.5 -.3l-6.5 4.9l6.5 .3zM682.9 706.6l-6.4 .2l-6.4 4.6l6.4 -.1zM689 694.6l-6.4 .4l-6.3 4.5l6.3 -.4zM723.8 652.5l-6.2 1.3l-6 4.2l6.2 -1.3z"/><path fill=#6e98cb stroke=#6e98cb d="M958.2 859.2l-7.9 -5.3l-6.7 6.9l7.9 5.4zM829.5 842.5l-7.6 -4.2l-6.8 6.4l7.5 4.3zM794 833.3l-7.4 -3.7l-6.9 6.2l7.4 3.8zM703.7 796l-7 -2.3l-6.8 5.7l7 2.4zM697 793.9l-7 -2.1l-6.8 5.6l6.9 2.2zM670.4 761.1l-6.6 -1.2l-6.7 5.2l6.6 1.3zM670.4 755.2l-6.6 -1l-6.6 5.2l6.6 1zM670.6 719.7l-6.5 -.1l-6.4 4.8l6.4 .1zM676.8 706.9l-6.4 .3l-6.4 4.6l6.4 -.2zM682.9 695.1l-6.4 .6l-6.3 4.5l6.3 -.5zM688.9 687.6l-6.3 .6l-6.3 4.5l6.3 -.7zM706.5 666.6l-6.2 1.1l-6.1 4.2l6.2 -1.1zM712.2 660.1l-6.2 1.3l-6 4.2l6.2 -1.3z"/><path fill=#719acc stroke=#719acc d="M951.8 865.9l-8 -5.4l-6.6 6.9l7.9 5.4zM894.4 860.6l-7.8 -4.9l-6.8 6.7l7.8 5zM872.9 857.7l-7.7 -4.7l-6.8 6.6l7.7 4.8zM822.9 848.7l-7.6 -4.2l-6.8 6.4l7.5 4.3zM794.5 843.1l-7.4 -4l-6.9 6.4l7.5 4zM752.4 831.5l-7.3 -3.4l-6.9 6.2l7.3 3.4zM745.4 828.3l-7.3 -3.2l-6.9 6.1l7.3 3.3zM738.4 825.3l-7.2 -3.2l-6.9 6.1l7.2 3.2zM731.4 822.3l-7.1 -3l-6.9 6l7.2 3.1zM724.5 819.5l-7.1 -3l-6.9 6l7.1 3zM717.7 816.7l-7.1 -2.8l-6.9 5.9l7.1 2.9zM710.8 814.1l-7 -2.7l-6.9 5.9l7 2.7zM683.7 797.3l-6.9 -2.1l-6.8 5.6l6.9 2.2zM664 772.2l-6.7 -1.4l-6.8 5.3l6.7 1.4zM657.7 753.6l-6.6 -.8l-6.6 5.1l6.5 .8zM657.8 748.2l-6.6 -.7l-6.6 5.1l6.5 .7zM657.8 743l-6.5 -.5l-6.6 5l6.5 .5zM657.9 738l-6.5 -.4l-6.5 4.9l6.4 .5zM676.8 695.8l-6.3 .6l-6.3 4.5l6.3 -.6zM682.8 688.4l-6.2 .7l-6.3 4.4l6.3 -.7zM688.8 681.2l-6.2 .9l-6.3 4.4l6.3 -.9zM694.7 674.4l-6.2 1.1l-6.2 4.2l6.2 -1zM717.7 651.8l-6.1 1.6l-6 4l6.1 -1.5z"/><path fill=#749ccd stroke=#749ccd d="M945.3 872.6l-7.9 -5.5l-6.7 6.9l7.9 5.5zM866.3 864.1l-7.7 -4.8l-6.8 6.7l7.7 4.9zM658.3 715.9l-6.3 .3l-6.5 4.6l6.4 -.2zM676.8 689.3l-6.2 .8l-6.3 4.4l6.2 -.8z"/><path fill=#769fce stroke=#769fce d="M938.8 879.3l-7.9 -5.5l-6.8 6.9l8 5.6zM881.3 873.6l-7.8 -5l-6.8 6.8l7.7 5.1zM859.7 870.6l-7.7 -4.9l-6.8 6.8l7.7 4.8zM650.7 795.4l-6.7 -1.7l-6.9 5.5l6.8 1.8zM638.3 768.1l-6.5 -.9l-6.7 5.1l6.5 1zM639 747l-6.5 -.4l-6.6 4.9l6.4 .4z"/><path fill=#79a1cf stroke=#79a1cf d="M932.3 886l-7.9 -5.6l-6.8 7l7.9 5.6zM874.7 880.2l-7.8 -5.1l-6.8 6.8l7.7 5.2zM853.1 877.1l-7.7 -4.9l-6.9 6.7l7.7 5zM831.6 874.3l-7.6 -4.7l-6.9 6.6l7.6 4.8zM781.8 865.5l-7.5 -4.2l-7 6.4l7.5 4.3zM746.4 856.3l-7.3 -3.8l-7 6.3l7.4 3.8zM657.1 818.9l-6.8 -2.3l-7 5.7l6.9 2.4zM637.6 799.1l-6.7 -1.7l-6.9 5.5l6.7 1.7zM631.5 784.9l-6.6 -1.3l-6.8 5.3l6.6 1.3zM633.2 737.6l-6.4 0l-6.5 4.8l6.3 0zM639.8 724.9l-6.3 .3l-6.5 4.6l6.3 -.2zM682.8 674.4l-6.2 1.4l-6.1 4.1l6.1 -1.3z"/><path fill=#7ca3d0 stroke=#7ca3d0 d="M925.7 892.8l-7.9 -5.6l-6.8 7l7.9 5.6zM889.7 890.3l-7.8 -5.3l-6.8 6.9l7.8 5.4zM868 886.8l-7.7 -5.2l-6.9 6.9l7.8 5.2zM846.4 883.6l-7.6 -5l-7 6.8l7.7 5zM824.9 880.7l-7.6 -4.8l-6.9 6.7l7.6 4.8zM803.6 878.1l-7.6 -4.5l-7 6.6l7.6 4.6zM775 871.7l-7.4 -4.2l-7 6.5l7.5 4.3zM746.8 866.1l-7.4 -4l-7 6.4l7.4 4zM704.9 854.5l-7.2 -3.4l-7 6.2l7.1 3.5zM697.9 851.3l-7.1 -3.2l-7 6.1l7.1 3.3zM691 848.3l-7.1 -3.2l-7 6.1l7.1 3.2zM684.2 845.3l-7.1 -3.1l-7 6.1l7 3.1zM677.3 842.4l-7 -2.9l-7 6l7 3zM670.5 839.7l-7 -2.8l-7 5.9l7 2.9zM643.8 822.2l-6.8 -2.2l-7 5.7l6.8 2.3zM624.7 796.2l-6.6 -1.5l-6.9 5.4l6.6 1.5zM618.5 788.7l-6.5 -1.2l-6.9 5.3l6.6 1.3zM618.8 782.8l-6.6 -1.1l-6.8 5.2l6.6 1.1zM619 777l-6.5 -.9l-6.8 5.1l6.5 1zM619.7 760.9l-6.4 -.5l-6.7 5l6.4 .5zM620 756l-6.4 -.4l-6.7 4.9l6.4 .4zM620.2 751.2l-6.3 -.3l-6.7 4.9l6.4 .3zM627 737.8l-6.2 0l-6.6 4.8l6.3 -.1zM633.7 725.3l-6.2 .4l-6.5 4.6l6.2 -.3zM664.9 688.6l-6.1 1.1l-6.2 4.3l6.1 -1.1zM670.9 682.1l-6.1 1.3l-6.1 4.2l6 -1.3zM700.1 657.1l-6.1 1.8l-5.9 3.9l6 -1.7z"/><path fill=#7fa5d1 stroke=#7fa5d1 d="M919.2 899.6l-7.9 -5.7l-6.9 7l7.9 5.8zM883.1 897l-7.8 -5.4l-6.9 6.9l7.8 5.5zM861.4 893.4l-7.8 -5.2l-6.9 6.9l7.8 5.2zM796.8 884.5l-7.5 -4.6l-7 6.7l7.6 4.6zM775.5 882.2l-7.5 -4.4l-7 6.5l7.5 4.5zM747.2 876.1l-7.4 -4.1l-7.1 6.5l7.4 4.1zM740 872.2l-7.3 -3.9l-7.1 6.4l7.4 4zM712 867.3l-7.2 -3.7l-7.1 6.3l7.3 3.7zM705 863.8l-7.2 -3.5l-7 6.2l7.2 3.6zM698.1 860.5l-7.2 -3.5l-7 6.2l7.1 3.5zM691.2 857.2l-7.2 -3.3l-7 6.2l7.1 3.3zM663.8 845.4l-7 -2.9l-7.1 6l7 2.9zM657 842.7l-7 -2.7l-7 5.9l7 2.8zM650.3 840.2l-7 -2.7l-7 5.9l6.9 2.7zM643.6 837.7l-6.9 -2.5l-7 5.8l6.8 2.6zM630.5 825.6l-6.8 -2.2l-7 5.7l6.8 2.2zM624.1 816.4l-6.7 -1.9l-7 5.6l6.7 1.9zM617.8 807.9l-6.6 -1.6l-7 5.4l6.7 1.7zM611.7 800l-6.6 -1.4l-6.9 5.4l6.6 1.4zM605.9 786.8l-6.5 -1l-6.8 5.2l6.5 1zM606.2 781.1l-6.5 -.9l-6.8 5.2l6.5 .9zM606.5 775.6l-6.4 -.7l-6.8 5.1l6.4 .7zM606.8 770.3l-6.4 -.6l-6.8 5.1l6.4 .6zM607.1 765.2l-6.4 -.4l-6.7 4.9l6.4 .5zM614.1 751.1l-6.3 -.1l-6.7 4.8l6.4 .2zM614.4 746.6l-6.3 0l-6.6 4.8l6.3 .1zM621.2 734l-6.2 .2l-6.5 4.7l6.2 -.3zM627.7 725.9l-6.2 .4l-6.5 4.6l6.2 -.4zM652.9 696.5l-6.1 1l-6.3 4.3l6.1 -1zM659 689.9l-6.1 1.2l-6.2 4.2l6.1 -1.2zM676.9 673.8l-6 1.5l-6.1 4.1l6 -1.5zM688.5 664.4l-6 1.7l-6 4l6 -1.7zM700 655.4l-6 1.9l-6 3.9l6.1 -1.8z"/><path fill=#82a7d2 stroke=#82a7d2 d="M912.6 906.4l-7.9 -5.7l-6.9 7l7.9 5.8zM876.5 903.7l-7.9 -5.4l-6.9 6.9l7.9 5.5zM768.8 888.5l-7.5 -4.4l-7.1 6.6l7.5 4.5zM740.4 882.4l-7.4 -4.2l-7.1 6.5l7.4 4.2zM712.3 877l-7.3 -3.9l-7.1 6.4l7.3 3.9zM705.2 873.3l-7.2 -3.7l-7.1 6.4l7.3 3.7zM636.8 843.3l-6.9 -2.6l-7.1 5.9l6.9 2.6zM630.1 840.9l-6.8 -2.5l-7.1 5.9l6.9 2.5zM617.2 829l-6.8 -2.1l-7 5.7l6.7 2.1zM610.9 820l-6.7 -1.9l-7 5.6l6.7 1.9zM604.7 811.6l-6.6 -1.6l-6.9 5.5l6.6 1.6zM598.7 803.8l-6.6 -1.3l-6.9 5.3l6.5 1.4zM599 797.7l-6.5 -1.2l-6.9 5.3l6.5 1.2zM601 764.9l-6.4 -.3l-6.7 4.9l6.3 .4zM601.3 760.2l-6.3 -.2l-6.7 4.8l6.3 .3zM608.3 746.8l-6.2 .1l-6.6 4.7l6.2 0zM615.2 734.4l-6.2 .4l-6.5 4.6l6.2 -.4zM621.7 726.5l-6.1 .5l-6.5 4.5l6.1 -.5zM640.8 704.4l-6.1 1l-6.3 4.4l6.1 -1zM647 697.7l-6.1 1.1l-6.2 4.3l6 -1.1zM665.1 681.3l-6 1.5l-6.2 4.1l6.1 -1.5zM676.9 671.7l-6 1.7l-6.1 4l6 -1.6zM688.5 662.6l-6 1.8l-6 4l6 -1.8z"/><path fill=#85a9d3 stroke=#85a9d3 d="M906 913.2l-8 -5.7l-6.8 7.1l7.9 5.8zM869.8 910.5l-7.8 -5.5l-7 7l7.9 5.5zM705.4 883.1l-7.3 -3.9l-7.1 6.4l7.3 4zM616.7 844.1l-6.8 -2.4l-7.1 5.8l6.8 2.5zM603.9 832.4l-6.8 -2l-7 5.7l6.7 2zM597.7 823.6l-6.6 -1.8l-7.1 5.5l6.7 1.9zM591.6 815.3l-6.5 -1.5l-7 5.4l6.5 1.6zM586.4 795.7l-6.4 -1l-6.9 5.3l6.4 1zM586.8 790.1l-6.4 -.9l-6.9 5.2l6.4 .8zM587.2 784.6l-6.4 -.7l-6.8 5.1l6.4 .7zM587.6 779.3l-6.4 -.6l-6.8 5.1l6.4 .6zM595.6 755.7l-6.3 0l-6.6 4.8l6.2 0zM609.2 734.9l-6.1 .5l-6.5 4.6l6.1 -.5zM628.6 712.5l-6.1 .9l-6.3 4.4l6 -.9zM634.9 705.6l-6 1.1l-6.4 4.3l6.1 -1.1zM653.3 688.9l-6 1.4l-6.2 4.1l6 -1.4z"/><path fill=#88abd4 stroke=#88abd4 d="M899.3 920.1l-7.9 -5.8l-6.9 7.1l7.9 5.9zM863.1 917.3l-7.8 -5.6l-7 7l7.8 5.6zM733.9 899.1l-7.4 -4.4l-7.2 6.6l7.5 4.4zM650 874.5l-7 -3.3l-7.2 6.2l7.1 3.3zM643.2 871.4l-7 -3.2l-7.2 6.2l7 3.2zM636.4 868.4l-7 -3l-7.1 6.1l7 3.1zM590.6 835.9l-6.7 -1.9l-7.1 5.6l6.7 2zM584.5 827.2l-6.6 -1.7l-7 5.5l6.6 1.8zM582.3 769.2l-6.3 -.2l-6.7 4.9l6.2 .2zM603.3 735.5l-6.1 .6l-6.5 4.5l6.1 -.5z"/><path fill=#8aaed5 stroke=#8aaed5 d="M892.6 927l-7.9 -5.8l-6.9 7.1l7.9 6zM856.4 924.1l-7.8 -5.6l-7 7l7.8 5.7zM777 915.1l-7.6 -4.9l-7 6.8l7.5 5zM609.4 865.9l-6.9 -2.8l-7.2 6l6.9 2.8zM566.4 810.6l-6.4 -1.1l-7 5.2l6.5 1.2zM597.4 736.2l-6.1 .7l-6.5 4.5l6.1 -.6zM604 728.8l-6.1 .8l-6.5 4.4l6.1 -.8z"/><path fill=#8db0d6 stroke=#8db0d6 d="M885.9 934l-7.9 -5.9l-6.9 7.2l7.9 5.9zM849.6 930.9l-7.8 -5.6l-7 7.1l7.8 5.7zM791.8 924.9l-7.7 -5.2l-7.1 7l7.7 5.2zM770.2 921.7l-7.6 -5l-7.1 6.9l7.6 5zM748.7 918.8l-7.5 -4.8l-7.2 6.8l7.5 4.8zM663.8 900.3l-7.2 -3.9l-7.2 6.5l7.2 3.9zM589.2 866.5l-6.8 -2.6l-7.2 5.9l6.8 2.6zM576.5 854.1l-6.7 -2.2l-7.2 5.8l6.7 2.2zM558.7 828.1l-6.5 -1.5l-7 5.4l6.4 1.5zM563.3 778.3l-6.2 -.2l-6.8 4.9l6.2 .2zM570.7 764.9l-6.1 .1l-6.7 4.8l6.1 -.1zM584.8 744.7l-6 .5l-6.6 4.6l6 -.6zM591.5 737l-6 .8l-6.6 4.4l6.1 -.7zM617.2 712l-6 1.3l-6.3 4.2l5.9 -1.2zM635.7 695.8l-5.9 1.6l-6.2 4l5.9 -1.5z"/><path fill=#90b2d7 stroke=#90b2d7 d="M879.2 941l-7.9 -6l-7 7.2l7.9 6zM842.9 937.8l-7.9 -5.7l-7 7.1l7.8 5.8zM784.9 931.6l-7.6 -5.2l-7.1 6.9l7.6 5.3zM763.3 928.3l-7.6 -5l-7.1 6.9l7.5 5.1zM741.8 925.4l-7.5 -4.9l-7.2 6.8l7.5 4.9zM720.4 922.7l-7.5 -4.7l-7.2 6.8l7.5 4.7zM691.9 916.1l-7.3 -4.3l-7.2 6.6l7.3 4.4zM656.8 906.5l-7.2 -3.9l-7.2 6.4l7.2 4zM575.7 869.7l-6.8 -2.5l-7.2 5.8l6.8 2.6zM563.1 857.5l-6.6 -2.1l-7.2 5.7l6.6 2.2zM551.4 839.8l-6.6 -1.6l-7.1 5.5l6.5 1.7zM546.2 825.6l-6.4 -1.2l-7.1 5.3l6.4 1.3zM546.8 819.6l-6.4 -1.1l-7 5.3l6.3 1.1zM549 797.4l-6.2 -.6l-6.9 5.1l6.2 .5zM549.6 792.3l-6.2 -.4l-6.9 5l6.2 .4zM564.8 765.2l-6.1 .2l-6.7 4.7l6.1 -.1zM605 719.9l-6 1.2l-6.4 4.2l6 -1.1zM623.8 703.4l-5.9 1.5l-6.3 4.1l5.9 -1.5z"/><path fill=#93b4d9 stroke=#93b4d9 d="M872.5 948l-7.9 -6.1l-7.1 7.3l8 6.1zM799.8 942l-7.7 -5.4l-7.1 7l7.7 5.6zM692.1 926.8l-7.4 -4.5l-7.3 6.7l7.4 4.5zM663.8 920.5l-7.3 -4.2l-7.2 6.6l7.2 4.3zM622 907.9l-7 -3.7l-7.3 6.4l7 3.7zM615.2 904.4l-7 -3.5l-7.3 6.3l7 3.6zM588.2 891.8l-6.9 -3.1l-7.3 6.1l6.9 3.2zM581.5 888.9l-6.8 -2.9l-7.3 6l6.8 3zM574.9 886.1l-6.8 -2.8l-7.3 6l6.8 2.9zM555.7 870.7l-6.7 -2.4l-7.2 5.8l6.6 2.4zM533.2 829.6l-6.4 -1.2l-7 5.3l6.3 1.3zM533.8 823.6l-6.3 -1l-7.1 5.2l6.4 1.1zM534.5 817.8l-6.4 -.9l-7 5.2l6.3 1zM535.1 812.3l-6.3 -.8l-7 5.2l6.3 .7zM535.7 806.9l-6.2 -.6l-7 5.1l6.2 .6zM566.3 753.8l-6 .6l-6.6 4.5l6 -.5zM573.1 746.2l-6 .7l-6.5 4.5l5.9 -.7zM599.2 721.2l-5.9 1.2l-6.4 4.3l5.9 -1.2z"/><path fill=#96b6da stroke=#96b6da d="M865.7 955l-7.9 -6.1l-7.1 7.3l8 6.2zM792.9 948.9l-7.7 -5.6l-7.1 7.1l7.7 5.6zM685.1 933.2l-7.4 -4.5l-7.3 6.7l7.4 4.6zM656.8 926.9l-7.3 -4.3l-7.3 6.6l7.3 4.3zM621.9 917.6l-7.1 -3.8l-7.4 6.4l7.1 3.9zM615 914l-7.1 -3.7l-7.3 6.4l7.1 3.7zM561.3 889.2l-6.8 -2.7l-7.3 6l6.7 2.8zM542.3 874l-6.7 -2.3l-7.3 5.8l6.7 2.4zM530.7 855.6l-6.5 -1.7l-7.2 5.5l6.5 1.9zM525.1 847.4l-6.5 -1.5l-7.1 5.4l6.4 1.6zM530.3 801.4l-6.2 -.4l-6.9 5l6.2 .4zM531 796.6l-6.2 -.3l-6.9 4.9l6.2 .3zM538.8 783l-6 0l-6.9 4.8l6.1 0zM586.9 729.1l-5.9 1.2l-6.4 4.2l5.9 -1.1z"/><path fill=#99b8db stroke=#99b8db d="M858.9 962.1l-7.9 -6.2l-7.1 7.4l7.9 6.2zM621.7 927.6l-7.2 -4l-7.3 6.5l7.1 4zM541.1 889.8l-6.7 -2.6l-7.3 6l6.7 2.6zM528.8 877.4l-6.6 -2.2l-7.3 5.8l6.6 2.3zM517.5 859.3l-6.5 -1.7l-7.2 5.6l6.4 1.7zM512.7 844.8l-6.4 -1.3l-7.2 5.4l6.4 1.3zM516.3 816l-6.2 -.6l-7 5.1l6.1 .6zM532.9 783.2l-6 .1l-6.8 4.8l6 -.1zM574.6 737l-5.9 1.2l-6.5 4.3l5.9 -1.1z"/><path fill=#9cbbdb stroke=#9cbbdb d="M852.1 969.2l-7.9 -6.2l-7.1 7.3l7.9 6.3zM721.2 956.8l-7.6 -5.2l-7.3 7l7.6 5.3zM699.6 953.7l-7.5 -5l-7.3 6.9l7.5 5zM649.7 943.9l-7.3 -4.5l-7.4 6.7l7.3 4.6zM515.4 880.9l-6.5 -2.2l-7.4 5.8l6.6 2.2zM511.8 805.7l-6.1 -.2l-7 4.9l6.1 .3zM562.1 745.1l-5.9 1l-6.5 4.4l5.8 -1z"/><path fill=#a0bddc stroke=#a0bddc d="M845.2 976.3l-7.9 -6.2l-7.1 7.4l7.9 6.3zM830.7 977.4l-7.9 -6.2l-7.1 7.4l7.8 6.2zM794.1 973.9l-7.8 -5.9l-7.2 7.3l7.8 5.9zM757.7 971l-7.7 -5.6l-7.3 7.1l7.7 5.7zM735.8 967.1l-7.6 -5.4l-7.3 7.1l7.7 5.5zM671 957.4l-7.4 -4.8l-7.4 6.9l7.4 4.9zM649.6 954.8l-7.3 -4.6l-7.4 6.8l7.3 4.7zM621.4 948.3l-7.3 -4.4l-7.4 6.7l7.2 4.4zM586.5 938.7l-7.1 -3.9l-7.4 6.5l7.1 4zM579.7 935l-7 -3.8l-7.5 6.5l7 3.8zM532.9 912.4l-6.8 -2.9l-7.4 6.1l6.7 3zM526.3 909.6l-6.7 -2.8l-7.4 6.1l6.7 2.9zM507.6 894.1l-6.6 -2.4l-7.3 5.9l6.5 2.4zM502 884.4l-6.5 -2.1l-7.4 5.7l6.6 2.2zM496.5 875.3l-6.4 -1.9l-7.4 5.7l6.5 1.9zM491.1 866.8l-6.4 -1.6l-7.3 5.6l6.4 1.6zM491.9 860.2l-6.4 -1.4l-7.2 5.5l6.3 1.4zM497.6 819.9l-6.1 -.4l-7.1 5l6.1 .5zM498.4 815l-6.1 -.3l-7 5l6.1 .3zM506.6 801.1l-6 0l-6.9 4.9l6 0zM556.4 746.3l-5.9 1.1l-6.5 4.3l5.8 -1.1z"/><path fill=#a3bfdd stroke=#a3bfdd d="M838.3 983.5l-7.9 -6.3l-7.1 7.4l7.9 6.4zM787.1 981l-7.8 -6l-7.2 7.3l7.8 6zM750.6 978l-7.6 -5.7l-7.3 7.2l7.7 5.7zM728.8 974l-7.6 -5.5l-7.3 7.1l7.6 5.6zM642.5 961.4l-7.3 -4.7l-7.5 6.8l7.4 4.8zM614.2 954.7l-7.2 -4.4l-7.5 6.7l7.2 4.5zM586.2 948.9l-7.1 -4.1l-7.5 6.6l7.1 4.1zM579.3 945l-7 -4l-7.5 6.6l7 4zM512.7 912.8l-6.7 -2.8l-7.5 6l6.7 2.9zM506.2 910.2l-6.7 -2.7l-7.4 6l6.6 2.7zM494.1 897.5l-6.5 -2.3l-7.4 5.8l6.5 2.4zM488.6 887.9l-6.4 -2l-7.4 5.7l6.5 2.1zM483.2 879l-6.4 -1.8l-7.3 5.6l6.4 1.8zM478.8 864.1l-6.3 -1.3l-7.3 5.4l6.3 1.4zM479.7 857.8l-6.3 -1.2l-7.3 5.4l6.3 1.3zM480.5 851.7l-6.2 -1l-7.2 5.3l6.2 1.1zM481.4 845.9l-6.2 -1l-7.2 5.3l6.2 1zM482.3 840.2l-6.2 -.8l-7.1 5.2l6.1 .8zM483.1 834.7l-6.1 -.6l-7.1 5.1l6.1 .7zM484 829.4l-6.1 -.5l-7.1 5.1l6.1 .6zM492.5 814.8l-6.1 -.2l-7 5l6.1 .2zM500.8 801.3l-6 .1l-6.9 4.8l6 -.1zM536.9 761.4l-5.9 .9l-6.6 4.4l5.8 -.9zM543.8 754.3l-5.8 1.1l-6.6 4.3l5.8 -1z"/><path fill=#a6c1de stroke=#a6c1de d="M831.4 990.7l-7.9 -6.4l-7.2 7.5l7.9 6.4zM780.1 988l-7.8 -6l-7.2 7.3l7.8 6.1zM743.6 984.9l-7.7 -5.7l-7.3 7.2l7.7 5.8zM721.7 980.9l-7.6 -5.5l-7.3 7.1l7.6 5.6zM635.3 968l-7.3 -4.8l-7.5 6.9l7.4 4.8zM607 961.2l-7.2 -4.5l-7.5 6.8l7.2 4.5zM579 955.2l-7.1 -4.1l-7.5 6.6l7.1 4.2zM572.1 951.3l-7.1 -4l-7.5 6.5l7.1 4.1zM499 915.9l-6.6 -2.7l-7.5 6l6.6 2.8zM492.6 913.4l-6.6 -2.6l-7.5 6l6.6 2.6zM480.7 900.9l-6.5 -2.2l-7.5 5.8l6.5 2.3zM475.3 891.5l-6.5 -2l-7.4 5.7l6.5 2zM470.9 875.9l-6.4 -1.6l-7.3 5.6l6.3 1.6zM478.1 829.1l-6.1 -.4l-7 5l6 .5zM486.6 814.8l-6 -.1l-7 4.9l6 .1zM495 801.5l-6 .2l-6.9 4.8l6 -.2zM502.4 793.1l-5.9 .3l-6.9 4.7l5.9 -.3zM517 777.1l-5.9 .7l-6.8 4.5l5.9 -.6zM524.1 769.6l-5.8 .9l-6.7 4.4l5.8 -.8zM531.2 762.4l-5.8 1l-6.7 4.4l5.8 -1z"/><path fill=#adc5e0 stroke=#adc5e0 d="M817.5 1005.2l-7.9 -6.5l-7.2 7.5l7.9 6.6zM766.1 1002.3l-7.8 -6.2l-7.3 7.4l7.7 6.2zM729.4 999l-7.6 -5.9l-7.4 7.3l7.7 5.9zM671.2 992.6l-7.5 -5.4l-7.5 7.1l7.5 5.4zM649.5 989.1l-7.4 -5.2l-7.5 7.1l7.4 5.2zM536.7 962.5l-7 -3.9l-7.6 6.6l7 3.9zM446.6 871l-6.2 -1.2l-7.3 5.4l6.2 1.2zM447.6 865l-6.1 -1l-7.3 5.3l6.1 1zM448.7 859.2l-6.1 -.9l-7.3 5.3l6.1 .9zM505.6 778.9l-5.8 .8l-6.7 4.5l5.7 -.8z"/><path fill=#b0c8e1 stroke=#b0c8e1 d="M810.5 1012.5l-7.9 -6.5l-7.2 7.5l7.9 6.6zM759 1009.5l-7.8 -6.2l-7.3 7.4l7.7 6.2zM685.8 1003.3l-7.6 -5.7l-7.4 7.2l7.5 5.7zM599.2 989.9l-7.2 -4.9l-7.6 7l7.3 4.9zM570.9 982.9l-7.1 -4.5l-7.6 6.8l7.1 4.6zM542.9 976.7l-7 -4.2l-7.6 6.7l7 4.3zM457.2 933.9l-6.6 -2.7l-7.6 6l6.6 2.8zM445.6 921.1l-6.5 -2.3l-7.5 5.9l6.4 2.3zM440.4 911.5l-6.4 -2.1l-7.5 5.8l6.3 2.1zM436.3 895.5l-6.2 -1.6l-7.5 5.6l6.3 1.7zM444.9 847.8l-6 -.5l-7.2 5.1l6 .5zM445.9 842.7l-6 -.3l-7.1 5l6 .4zM462.6 819.7l-5.9 .1l-7 4.8l5.8 -.1zM492.7 787.2l-5.8 .8l-6.8 4.5l5.8 -.8z"/><path fill=#b3cae2 stroke=#b3cae2 d="M803.5 1019.8l-7.9 -6.6l-7.3 7.6l7.9 6.7zM678.6 1010.3l-7.6 -5.7l-7.5 7.2l7.6 5.8zM494.5 970.3l-6.9 -3.7l-7.6 6.5l6.8 3.7zM487.9 966.8l-6.8 -3.6l-7.7 6.4l6.8 3.7zM481.3 963.4l-6.8 -3.5l-7.7 6.4l6.8 3.5zM474.7 960.1l-6.7 -3.3l-7.7 6.3l6.8 3.4zM468.2 957l-6.7 -3.3l-7.6 6.3l6.6 3.3zM443.5 937.1l-6.5 -2.6l-7.6 6l6.5 2.7zM423.1 899.4l-6.2 -1.6l-7.5 5.6l6.2 1.6zM449.1 828.7l-5.9 .1l-7.1 4.8l5.9 0z"/><path fill=#bacee3 stroke=#bacee3 d="M789.4 1034.6l-7.9 -6.7l-7.4 7.6l7.9 6.8zM686.1 1028.7l-7.7 -6l-7.5 7.4l7.7 6.1zM627.6 1021.9l-7.4 -5.5l-7.6 7.2l7.4 5.6zM605.9 1018.3l-7.4 -5.4l-7.6 7.2l7.3 5.4zM584.3 1015l-7.3 -5.2l-7.7 7.1l7.3 5.2zM534.5 1004.8l-7.1 -4.6l-7.8 6.9l7.2 4.6zM410 941.4l-6.3 -2.3l-7.7 5.9l6.4 2.4zM405.1 931.6l-6.3 -2.1l-7.7 5.8l6.3 2.2zM401.4 915.4l-6.2 -1.7l-7.5 5.6l6.2 1.7zM411.3 866.6l-6 -.5l-7.3 5.1l6 .6zM429.8 838l-5.8 .1l-7.1 4.8l5.8 0zM437.7 829.3l-5.8 .2l-7.1 4.8l5.8 -.2zM453.3 812.7l-5.8 .6l-6.9 4.6l5.7 -.5z"/><path fill=#bdd0e4 stroke=#bdd0e4 d="M782.3 1042.1l-7.9 -6.8l-7.4 7.6l7.9 6.9zM730.4 1038.5l-7.8 -6.4l-7.4 7.5l7.7 6.5zM678.8 1035.9l-7.6 -6l-7.6 7.4l7.7 6.1zM620.3 1028.9l-7.5 -5.6l-7.6 7.2l7.4 5.7zM598.5 1025.2l-7.4 -5.4l-7.6 7.2l7.3 5.4zM576.9 1021.8l-7.3 -5.2l-7.7 7.1l7.3 5.3zM555.3 1018.8l-7.2 -5l-7.7 7l7.2 5zM392.9 927.9l-6.2 -1.9l-7.7 5.7l6.3 1.9zM389.5 912.4l-6.2 -1.5l-7.5 5.6l6.1 1.5zM390.8 905.9l-6.1 -1.4l-7.6 5.5l6.1 1.4zM394.6 887.5l-6 -.9l-7.4 5.3l6 1zM395.9 881.9l-5.9 -.8l-7.4 5.2l5.9 .8zM406.7 861.2l-5.8 -.3l-7.3 5.1l5.9 .3zM424.1 838.2l-5.7 .2l-7.2 4.8l5.8 -.1zM432.1 829.6l-5.8 .4l-7 4.7l5.7 -.3zM439.9 821.4l-5.7 .5l-7 4.6l5.7 -.4z"/><path fill=#c0d3e5 stroke=#c0d3e5 d="M775.1 1049.5l-7.9 -6.8l-7.4 7.7l7.9 6.9zM671.5 1043.1l-7.6 -6.1l-7.6 7.5l7.6 6.2zM634.8 1040l-7.6 -5.8l-7.6 7.3l7.5 5.9zM377.6 909.9l-6 -1.3l-7.6 5.5l6.1 1.3zM379 903.7l-6 -1.2l-7.5 5.4l6 1.2zM380.3 897.6l-5.9 -1l-7.5 5.4l6 1zM410.5 847.3l-5.8 .1l-7.2 4.8l5.8 0z"/><path fill=#c4d5e6 stroke=#c4d5e6 d="M768 1057l-7.9 -6.9l-7.4 7.8l7.9 6.9zM753.2 1057.8l-7.9 -6.8l-7.5 7.7l7.9 6.9zM701.1 1054.2l-7.7 -6.4l-7.5 7.6l7.7 6.5zM649.4 1051.6l-7.6 -6.1l-7.6 7.5l7.6 6.2zM627.4 1047.1l-7.5 -5.9l-7.7 7.4l7.5 6zM590.8 1044.5l-7.4 -5.6l-7.7 7.3l7.4 5.7zM363.1 920.3l-6.1 -1.3l-7.6 5.5l6.1 1.4zM364.5 914l-6 -1.3l-7.6 5.5l6 1.3zM365.9 907.8l-5.9 -1.1l-7.6 5.4l6 1.1zM377.3 885.6l-5.9 -.6l-7.4 5.2l5.9 .7zM378.7 880.3l-5.9 -.4l-7.3 5.1l5.8 .5zM388.4 865.7l-5.8 -.2l-7.2 5l5.7 .2zM396.7 856.5l-5.8 0l-7.2 4.9l5.8 0z"/><path fill=#c7d7e7 stroke=#c7d7e7 d="M760.8 1064.6l-7.9 -7l-7.5 7.8l7.9 7zM693.8 1061.6l-7.7 -6.5l-7.6 7.6l7.8 6.6zM656.8 1057.7l-7.6 -6.3l-7.7 7.5l7.7 6.3zM620 1054.3l-7.6 -5.9l-7.7 7.4l7.6 6zM355.8 925.6l-6.1 -1.4l-7.6 5.5l6 1.5zM360.1 906.9l-5.9 -1l-7.5 5.4l5.9 1zM361.6 901.1l-5.9 -.9l-7.5 5.3l5.9 .9zM363.1 895.5l-5.9 -.7l-7.5 5.2l5.9 .7zM373 880l-5.8 -.3l-7.4 5.1l5.8 .4zM382.8 865.7l-5.7 -.1l-7.3 5l5.7 .1zM391.1 856.6l-5.7 .1l-7.2 4.9l5.7 -.1zM399.3 847.9l-5.7 .3l-7.2 4.7l5.7 -.2z"/><path fill=#cadae8 stroke=#cadae8 d="M753.6 1072.1l-7.9 -7l-7.5 7.8l7.9 7.1zM686.5 1069l-7.7 -6.5l-7.6 7.6l7.7 6.7zM344.1 923.2l-5.9 -1.2l-7.7 5.5l6 1.2zM377.2 865.8l-5.7 0l-7.3 4.9l5.7 0z"/><path fill=#cedce9 stroke=#cedce9 d="M746.3 1079.7l-7.9 -7l-7.5 7.8l7.9 7.1zM679.1 1076.5l-7.7 -6.7l-7.6 7.7l7.7 6.7zM627.2 1073.5l-7.6 -6.3l-7.8 7.6l7.6 6.3zM343 904.8l-5.8 -.7l-7.5 5.2l5.8 .7zM344.5 899.4l-5.7 -.6l-7.5 5.2l5.7 .6zM363.2 875l-5.6 0l-7.4 4.9l5.7 .1zM371.7 866l-5.7 .1l-7.3 4.9l5.7 -.1z"/><path fill=#d5e1eb stroke=#d5e1eb d="M731.8 1095.1l-7.9 -7.2l-7.6 7.9l7.9 7.2zM664.3 1091.5l-7.7 -6.8l-7.7 7.8l7.7 6.8zM324.5 908.7l-5.7 -.5l-7.5 5.2l5.7 .5zM335 893.8l-5.7 -.2l-7.5 5l5.7 .3zM343.6 884.4l-5.6 0l-7.4 4.9l5.6 .1z"/><path fill=#dce6ee stroke=#dce6ee d="M717.1 1110.5l-7.9 -7.3l-7.7 8l7.9 7.4zM702 1111.2l-7.9 -7.3l-7.6 8l7.8 7.3zM306.2 912.9l-5.6 -.3l-7.6 5.1l5.6 .4zM315.1 903.2l-5.6 -.2l-7.5 5.1l5.6 .2z"/><path fill=#e3ebf0 stroke=#e3ebf0 d="M702.2 1126.1l-7.9 -7.4l-7.7 8l7.9 7.5zM687.1 1126.7l-7.8 -7.3l-7.8 8l7.9 7.4z"/><path fill=#3d6cb2 stroke=#3d6cb2 d="M1104 698.5l-7.9 -4l-6.1 6.1l7.9 4zM1082.9 696.9l-7.8 -3.8l-6.1 6.1l7.8 3.8zM1075.4 693.3l-7.9 -3.7l-6 6.1l7.8 3.7zM1054.5 692.2l-7.8 -3.5l-6.1 6l7.7 3.5zM1047 688.9l-7.7 -3.4l-6.2 6l7.8 3.4zM1039.5 685.7l-7.7 -3.2l-6.1 5.9l7.7 3.3zM1011.5 682.4l-7.6 -3l-6.2 5.8l7.6 3zM1004.2 679.6l-7.6 -2.8l-6.2 5.7l7.6 2.9zM996.9 677l-7.6 -2.8l-6.1 5.7l7.5 2.8zM989.6 674.4l-7.5 -2.6l-6.2 5.7l7.6 2.6zM982.4 672l-7.5 -2.5l-6.2 5.6l7.5 2.5zM975.1 669.7l-7.4 -2.4l-6.1 5.5l7.4 2.5zM968 667.5l-7.5 -2.3l-6.1 5.5l7.4 2.3zM960.8 665.3l-7.4 -2.2l-6.1 5.5l7.4 2.3zM945.4 654.6l-7.3 -1.9l-6.1 5.4l7.4 1.8zM938.4 652.9l-7.3 -1.7l-6.1 5.3l7.3 1.8zM930.3 645l-7.2 -1.5l-6.1 5.2l7.3 1.5zM923.4 643.7l-7.2 -1.4l-6.1 5.2l7.2 1.4zM915.4 636.7l-7.1 -1.2l-6 5.1l7.1 1.1z"/><path fill=#3e6eb3 stroke=#3e6eb3 d="M1098.1 704.4l-7.9 -4l-6.1 6.1l7.9 4.1zM1041.1 694.6l-7.8 -3.4l-6.1 5.9l7.7 3.5zM990.9 682.4l-7.5 -2.8l-6.2 5.7l7.6 2.9zM983.7 679.8l-7.6 -2.6l-6.1 5.6l7.5 2.7zM976.4 677.3l-7.5 -2.5l-6.1 5.6l7.5 2.6zM969.2 675l-7.4 -2.5l-6.2 5.6l7.5 2.5zM932.5 657.9l-7.3 -1.7l-6.1 5.3l7.3 1.8zM917.5 648.6l-7.2 -1.4l-6.1 5.1l7.2 1.5zM909.6 641.4l-7.1 -1.2l-6.1 5.1l7.1 1.2z"/><path fill=#4271b5 stroke=#4271b5 d="M1086.3 716.2l-7.9 -4.1l-6.1 6.3l7.9 4.1zM1065.2 714.5l-7.8 -4l-6.2 6.2l7.8 4zM1036.7 709.4l-7.8 -3.6l-6.2 6l7.8 3.7zM1029.2 706l-7.7 -3.5l-6.2 6l7.7 3.5zM1001 702l-7.7 -3.2l-6.2 5.9l7.7 3.3zM993.6 699l-7.6 -3.1l-6.2 5.9l7.6 3.1zM986.3 696.1l-7.6 -3l-6.2 5.8l7.6 3.1zM935.9 678.9l-7.4 -2.2l-6.2 5.5l7.4 2.2zM928.8 676.9l-7.3 -2.1l-6.2 5.4l7.3 2.2zM921.7 674.9l-7.3 -2l-6.2 5.5l7.3 2zM906.7 664.8l-7.2 -1.6l-6.2 5.2l7.2 1.7zM898.8 657.1l-7.1 -1.4l-6.2 5.2l7.2 1.4zM891 649.9l-7.1 -1.1l-6.1 5.1l7.1 1.2zM883.3 643.4l-7.1 -.9l-6 5l7 .9zM874.8 632.4l-6.9 -.6l-6.1 4.8l7 .6z"/><path fill=#4574b7 stroke=#4574b7 d="M1074.4 728.2l-7.9 -4.2l-6.1 6.3l7.9 4.3zM887.8 673.3l-7.1 -1.6l-6.2 5.2l7.1 1.7z"/><path fill=#4776b8 stroke=#4776b8 d="M1068.5 734.3l-7.9 -4.3l-6.2 6.3l7.9 4.3zM1047.3 732.3l-7.9 -4.1l-6.2 6.2l7.8 4.1zM1018.7 726.9l-7.8 -3.8l-6.2 6.1l7.7 3.9zM982.9 719l-7.6 -3.3l-6.3 5.9l7.7 3.4zM889.7 686.7l-7.2 -1.9l-6.3 5.4l7.2 1.9zM874.9 676.8l-7.1 -1.6l-6.2 5.3l7.1 1.6zM867.2 669.3l-7 -1.4l-6.2 5.2l7 1.4zM859.6 662.3l-7 -1.1l-6.2 5.1l7.1 1.1zM851.3 650.6l-6.9 -.7l-6.1 4.9l6.9 .8z"/><path fill=#628ec5 stroke=#628ec5 d="M982.4 821.6l-7.9 -5l-6.5 6.7l7.9 5zM960.9 818.6l-7.8 -4.8l-6.6 6.6l7.8 4.8zM939.5 815.9l-7.8 -4.6l-6.6 6.6l7.8 4.6zM889.5 807.4l-7.6 -4l-6.6 6.3l7.6 4.1zM861.2 802.2l-7.5 -3.8l-6.7 6.2l7.5 3.8zM811.8 788.2l-7.4 -3.1l-6.6 6l7.3 3.2zM804.7 785.3l-7.3 -3l-6.7 5.9l7.3 3.1zM797.7 782.5l-7.3 -2.9l-6.6 5.9l7.2 2.9zM790.7 779.8l-7.2 -2.8l-6.7 5.9l7.2 2.8zM783.7 777.2l-7.2 -2.7l-6.6 5.9l7.2 2.7zM755.8 760.6l-7 -2.1l-6.6 5.6l7 2.1zM742 750.1l-6.9 -1.7l-6.6 5.4l6.9 1.8zM735.1 742.1l-6.9 -1.5l-6.6 5.4l6.9 1.5zM725.9 684.4l-6.5 .2l-6.3 4.6l6.5 -.1zM731.4 672.5l-6.4 .4l-6.2 4.5l6.4 -.4zM742.5 654.2l-6.4 .9l-6 4.3l6.3 -.8zM748 647.4l-6.3 1l-6 4.2l6.3 -1z"/><path fill=#6894c8 stroke=#6894c8 d="M963.4 841l-7.9 -5.1l-6.6 6.8l7.9 5.1zM898.9 832.3l-7.7 -4.6l-6.7 6.6l7.7 4.6zM849.1 824l-7.6 -4l-6.7 6.4l7.5 4zM813.7 815.4l-7.4 -3.6l-6.8 6.2l7.4 3.6zM730 782l-7 -2.3l-6.7 5.7l7 2.3zM716.4 770.8l-7 -1.8l-6.7 5.5l6.9 1.9zM702.8 754.6l-6.8 -1.4l-6.6 5.3l6.7 1.4zM696 741.5l-6.6 -1l-6.6 5.2l6.6 1zM695.4 706.3l-6.5 0l-6.4 4.7l6.5 .1zM701.3 693.7l-6.4 .2l-6.3 4.6l6.4 -.2zM707.1 682l-6.4 .5l-6.2 4.5l6.4 -.5zM735.6 647.3l-6.2 1.3l-6 4.1l6.2 -1.3z"/><path fill=#6b95c9 stroke=#6b95c9 d="M957 847.6l-7.9 -5.2l-6.6 6.8l7.8 5.2zM871.1 836.2l-7.6 -4.4l-6.8 6.5l7.7 4.5zM814.3 824.9l-7.4 -3.8l-6.8 6.3l7.4 3.8zM716.8 785.2l-7 -2.1l-6.8 5.6l7 2.2zM703.2 774.3l-6.9 -1.8l-6.7 5.5l6.9 1.9zM683.1 734.6l-6.5 -.6l-6.6 5l6.6 .7zM683.1 729.5l-6.5 -.5l-6.6 4.9l6.6 .6zM701 682.7l-6.3 .6l-6.3 4.4l6.3 -.5zM724 654.9l-6.2 1.3l-6 4.1l6.2 -1.2z"/><path fill=#759dcd stroke=#759dcd d="M931.2 874l-7.9 -5.4l-6.8 6.9l7.9 5.4zM802.3 857.1l-7.4 -4.3l-6.9 6.5l7.5 4.3zM766.9 847.8l-7.3 -3.8l-6.9 6.3l7.3 3.9zM677.1 810.2l-6.9 -2.3l-6.9 5.7l6.9 2.3zM663.8 798.8l-6.8 -1.9l-6.8 5.6l6.8 1.9zM650.9 782.3l-6.7 -1.5l-6.8 5.4l6.7 1.5zM644.7 769l-6.6 -1.1l-6.7 5.2l6.6 1.1zM645.3 742.4l-6.4 -.4l-6.6 4.9l6.4 .4zM645.5 737.7l-6.4 -.3l-6.6 4.9l6.4 .2zM658.4 712l-6.3 .4l-6.4 4.6l6.3 -.3zM711.8 653.5l-6.1 1.6l-6 4l6.1 -1.5z"/><path fill=#86aad3 stroke=#86aad3 d="M891.7 914.5l-7.9 -5.7l-6.9 7.1l7.9 5.8zM670.7 875l-7.2 -3.4l-7.1 6.2l7.1 3.5zM597.4 830.6l-6.7 -1.9l-7 5.6l6.6 1.9zM591.3 822l-6.6 -1.7l-7 5.5l6.6 1.7zM585.7 807.7l-6.5 -1.3l-7 5.4l6.5 1.3z"/><path fill=#88acd5 stroke=#88acd5 d="M885 921.4l-7.9 -5.8l-6.9 7.2l7.9 5.8zM589.9 751.7l-6.1 .3l-6.7 4.6l6.2 -.2zM647.5 690.4l-6 1.5l-6.2 4.1l6 -1.4z"/><path fill=#8baed6 stroke=#8baed6 d="M878.3 928.3l-7.9 -5.8l-6.9 7.1l7.8 5.9zM842.1 925.5l-7.8 -5.5l-7 7l7.8 5.6zM734.2 909.8l-7.5 -4.6l-7.1 6.7l7.4 4.6zM705.8 903.4l-7.3 -4.2l-7.2 6.5l7.3 4.3zM670.7 894.1l-7.2 -3.8l-7.2 6.4l7.2 3.9zM596.1 860.8l-6.8 -2.5l-7.2 5.9l6.8 2.6zM565.5 822.9l-6.5 -1.4l-7 5.4l6.4 1.5zM569.3 778.4l-6.3 -.3l-6.8 4.9l6.3 .3zM616.9 714.7l-6 1.1l-6.4 4.3l6 -1.1zM635.5 698l-5.9 1.4l-6.3 4.2l6 -1.4z"/><path fill=#8eb0d7 stroke=#8eb0d7 d="M871.6 935.2l-7.9 -5.8l-7 7.1l7.9 5.9zM835.3 932.3l-7.8 -5.6l-7 7.1l7.8 5.6zM727.3 916.2l-7.5 -4.6l-7.1 6.7l7.4 4.7zM670.8 904.1l-7.3 -4l-7.2 6.5l7.2 4zM582.6 864.1l-6.7 -2.5l-7.2 5.9l6.7 2.5zM570 852.1l-6.6 -2.1l-7.2 5.7l6.7 2.2zM558.2 834.6l-6.5 -1.6l-7.1 5.5l6.5 1.6zM553 820.6l-6.5 -1.2l-7 5.3l6.4 1.2zM553.5 814.6l-6.4 -1.1l-7 5.3l6.4 1.1zM554 808.8l-6.3 -.9l-7 5.2l6.4 .9zM555.1 797.8l-6.3 -.6l-6.9 5.1l6.3 .6zM555.6 792.6l-6.2 -.4l-6.9 5l6.3 .5zM563.8 773.7l-6.2 0l-6.8 4.8l6.2 .1zM571.2 760.8l-6.1 .3l-6.7 4.7l6.1 -.3zM578.1 752.6l-6.1 .4l-6.7 4.6l6.1 -.4zM604.6 722.7l-5.9 1l-6.5 4.4l6 -1zM623.5 705.7l-5.9 1.3l-6.3 4.2l5.9 -1.3z"/><path fill=#91b2d8 stroke=#91b2d8 d="M864.8 942.2l-7.9 -5.9l-7 7.2l7.9 5.9zM828.5 939.2l-7.8 -5.7l-7.1 7.1l7.8 5.7zM699.1 920.3l-7.4 -4.4l-7.2 6.6l7.3 4.6zM622.2 898.4l-7 -3.5l-7.3 6.3l7 3.5zM615.4 895.1l-7 -3.4l-7.3 6.3l7 3.4zM608.6 891.9l-6.9 -3.2l-7.3 6.2l7 3.3zM601.9 888.9l-6.9 -3.2l-7.3 6.2l6.9 3.2zM595.2 885.9l-6.9 -3l-7.3 6.1l6.9 3.1zM588.5 883.1l-6.8 -2.9l-7.3 6.1l6.9 2.9zM569.2 867.3l-6.8 -2.4l-7.2 5.9l6.7 2.4zM556.7 855.6l-6.6 -2.1l-7.2 5.7l6.6 2.1zM550.8 846.7l-6.5 -1.8l-7.2 5.6l6.6 1.8zM550.2 787.5l-6.2 -.3l-6.9 4.9l6.2 .3zM565.3 761.2l-6.1 .4l-6.7 4.6l6.1 -.3zM572.2 753.1l-6.1 .5l-6.6 4.6l6 -.4zM585.7 737.9l-6 .8l-6.6 4.5l6 -.8zM592.3 730.7l-6 1l-6.5 4.4l6 -1zM611.4 713.4l-5.9 1.3l-6.4 4.2l6 -1.2z"/><path fill=#9ab9db stroke=#9ab9db d="M844.4 963.2l-7.9 -6.1l-7.1 7.3l7.9 6.2zM807.9 959.9l-7.8 -5.8l-7.1 7.2l7.8 5.9zM771.6 957.2l-7.7 -5.5l-7.2 7.1l7.7 5.6zM749.8 953.5l-7.6 -5.3l-7.2 7l7.6 5.4zM685.2 944.3l-7.4 -4.8l-7.3 6.8l7.4 4.8zM663.8 941.8l-7.3 -4.6l-7.3 6.8l7.3 4.6zM628.6 931.5l-7.1 -4.1l-7.4 6.5l7.2 4.2zM587.2 919.2l-7 -3.5l-7.4 6.3l7 3.6zM580.4 915.9l-7 -3.5l-7.3 6.3l6.9 3.5zM573.7 912.6l-6.9 -3.3l-7.4 6.2l6.9 3.4zM567 909.5l-6.9 -3.2l-7.4 6.2l6.9 3.2zM560.3 906.5l-6.8 -3.1l-7.4 6.1l6.9 3.2zM553.7 903.6l-6.8 -3l-7.4 6.1l6.8 3zM534.6 887.4l-6.6 -2.5l-7.4 6l6.7 2.5zM522.4 875.4l-6.5 -2.1l-7.3 5.7l6.5 2.2zM516.8 866.3l-6.5 -1.9l-7.3 5.7l6.5 1.9zM511.2 857.8l-6.4 -1.6l-7.2 5.5l6.4 1.7zM511.9 851.2l-6.3 -1.5l-7.2 5.5l6.4 1.5zM517.7 805.8l-6.1 -.3l-7 5l6.1 .4zM525.7 792l-6.1 -.1l-6.8 4.9l6 0zM533.6 779.1l-6 .3l-6.8 4.7l6 -.3zM540.7 770.9l-6 .4l-6.7 4.6l6 -.4zM547.7 763l-5.9 .6l-6.7 4.5l6 -.6zM554.7 755.4l-6 .7l-6.6 4.5l6 -.7zM561.5 748.1l-5.9 .9l-6.5 4.4l5.9 -.9zM581.2 730.4l-5.9 1.3l-6.4 4.2l5.9 -1.2z"/><path fill=#9dbbdc stroke=#9dbbdc d="M837.6 970.3l-7.9 -6.1l-7.1 7.3l7.8 6.2zM801 966.9l-7.8 -5.9l-7.1 7.3l7.7 5.9zM764.7 964.1l-7.7 -5.6l-7.3 7.2l7.7 5.6zM678.1 950.8l-7.4 -4.8l-7.3 6.9l7.4 4.8zM656.8 948.3l-7.4 -4.6l-7.3 6.8l7.3 4.6zM628.5 941.9l-7.2 -4.3l-7.4 6.6l7.2 4.4zM586.8 928.9l-7 -3.8l-7.4 6.4l7 3.8zM580 925.3l-6.9 -3.6l-7.5 6.4l7 3.6zM573.3 921.9l-7 -3.5l-7.4 6.3l7 3.6zM553.2 912.4l-6.8 -3.2l-7.4 6.2l6.8 3.2zM546.6 909.4l-6.8 -3l-7.4 6.1l6.8 3.1zM540 906.6l-6.8 -2.9l-7.4 6.1l6.8 2.9zM521.1 890.7l-6.6 -2.4l-7.4 5.9l6.7 2.5zM509.1 878.9l-6.6 -2l-7.3 5.7l6.5 2.1zM503.5 869.9l-6.4 -1.8l-7.3 5.7l6.4 1.8zM498.8 855.1l-6.3 -1.4l-7.2 5.4l6.3 1.5zM499.6 848.8l-6.3 -1.3l-7.2 5.4l6.3 1.3zM500.4 842.7l-6.3 -1.1l-7.1 5.3l6.2 1.1zM502 831.1l-6.3 -.8l-7 5.2l6.2 .8zM502.7 825.6l-6.1 -.7l-7.1 5.1l6.2 .8zM503.5 820.3l-6.1 -.5l-7.1 5l6.2 .6zM512.5 801l-6.1 0l-6.9 4.8l6.1 .2zM527.8 779.5l-6 .4l-6.8 4.7l6 -.4zM534.9 771.5l-5.9 .5l-6.8 4.6l6 -.5zM542 763.7l-6 .7l-6.6 4.5l5.9 -.6zM548.9 756.3l-5.9 .8l-6.6 4.5l5.9 -.9zM568.8 738.3l-5.8 1.2l-6.5 4.3l5.8 -1.2z"/><path fill=#a4bfdd stroke=#a4bfdd d="M823.8 984.6l-7.9 -6.3l-7.2 7.4l7.9 6.3zM692.7 972.1l-7.5 -5.3l-7.4 7.1l7.5 5.2zM621.2 959l-7.3 -4.5l-7.4 6.8l7.2 4.5zM477.9 870.6l-6.3 -1.5l-7.3 5.5l6.3 1.6zM493.3 810.2l-6 -.1l-7 4.9l6 .1z"/><path fill=#a7c2de stroke=#a7c2de d="M816.8 991.7l-7.8 -6.3l-7.2 7.5l7.8 6.3zM765.6 989.3l-7.8 -6l-7.2 7.3l7.7 6zM707.3 982.5l-7.6 -5.5l-7.4 7.1l7.6 5.5zM642.4 972.6l-7.3 -4.8l-7.5 6.9l7.4 4.9zM585.9 959.2l-7.2 -4.2l-7.5 6.6l7.2 4.3zM551.2 950l-6.9 -3.8l-7.6 6.5l7 3.9zM544.5 946.4l-6.9 -3.7l-7.6 6.4l7 3.8zM537.8 942.9l-6.9 -3.6l-7.5 6.4l6.9 3.7zM517.9 933.1l-6.8 -3.2l-7.6 6.2l6.8 3.3zM511.3 930.1l-6.8 -3.1l-7.5 6.2l6.8 3.1zM504.8 927.2l-6.8 -3l-7.5 6.1l6.7 3.1zM486.2 911l-6.6 -2.5l-7.5 5.9l6.6 2.6zM474.4 898.9l-6.5 -2.2l-7.4 5.8l6.5 2.2zM469 889.7l-6.3 -1.9l-7.4 5.7l6.3 1.9zM464.7 874.5l-6.2 -1.5l-7.4 5.5l6.3 1.5zM465.7 868.1l-6.3 -1.3l-7.3 5.4l6.3 1.3zM469.4 844.4l-6.1 -.7l-7.2 5.2l6.2 .8zM470.4 839l-6.1 -.6l-7.2 5.2l6.1 .6zM479.9 819.4l-6 -.2l-7 5l6 .2zM495.8 797.5l-5.9 .3l-6.9 4.7l5.9 -.3zM503.2 789.3l-5.9 .4l-6.8 4.7l5.9 -.5zM510.5 781.4l-5.9 .6l-6.8 4.6l5.9 -.6zM517.7 773.8l-5.8 .8l-6.8 4.5l5.9 -.8z"/><path fill=#aac4df stroke=#aac4df d="M809.9 999l-7.9 -6.4l-7.2 7.4l7.8 6.5zM758.5 996.4l-7.7 -6l-7.3 7.3l7.7 6.1zM700.1 989.4l-7.5 -5.6l-7.4 7.2l7.5 5.6zM635.2 979.3l-7.3 -4.9l-7.5 6.9l7.3 5zM613.8 976.6l-7.3 -4.7l-7.5 6.8l7.3 4.8zM585.5 969.9l-7.1 -4.5l-7.6 6.8l7.2 4.5zM550.8 960l-7.1 -3.9l-7.5 6.5l7 4.1zM544 956.3l-7 -3.9l-7.6 6.5l7 3.9zM491 930.2l-6.7 -2.9l-7.5 6.1l6.7 3zM484.6 927.5l-6.7 -2.8l-7.5 6.1l6.6 2.8zM472.6 914.3l-6.5 -2.4l-7.5 5.9l6.5 2.5zM456.7 886.4l-6.3 -1.6l-7.4 5.6l6.3 1.7zM465.4 833.5l-6 -.3l-7.1 5l6 .4zM474.1 819.4l-6 0l-7 4.8l6 .1z"/><path fill=#adc6e0 stroke=#adc6e0 d="M802.9 1006.2l-7.9 -6.4l-7.3 7.5l7.9 6.4zM693 996.3l-7.6 -5.6l-7.4 7.2l7.6 5.6zM628 986l-7.4 -5l-7.5 7l7.4 5zM606.5 983.2l-7.2 -4.8l-7.6 6.9l7.3 4.9zM578.3 976.4l-7.2 -4.5l-7.6 6.8l7.2 4.5zM543.5 966.4l-7.1 -4.1l-7.5 6.6l7 4.1zM477.3 933.3l-6.7 -2.8l-7.5 6.1l6.6 2.9zM470.9 930.7l-6.6 -2.8l-7.6 6.1l6.6 2.8zM459.1 917.7l-6.5 -2.4l-7.5 5.9l6.5 2.4zM453.8 907.9l-6.4 -2.1l-7.5 5.8l6.4 2.1zM448.6 898.8l-6.4 -1.9l-7.4 5.7l6.3 1.9zM444.5 883.6l-6.2 -1.4l-7.4 5.5l6.2 1.5zM445.6 877.2l-6.2 -1.3l-7.4 5.4l6.2 1.4zM449.7 853.6l-6.1 -.7l-7.2 5.2l6.1 .7zM450.7 848.2l-6 -.6l-7.2 5.2l6 .6zM459.6 833.3l-6 -.2l-7.1 5l6 .3zM468.3 819.5l-5.9 0l-7 4.9l5.9 0z"/><path fill=#b1c8e1 stroke=#b1c8e1 d="M795.9 1013.5l-7.9 -6.5l-7.3 7.5l7.9 6.6zM744.4 1010.6l-7.8 -6.1l-7.3 7.4l7.7 6.2zM707.7 1007.4l-7.6 -5.8l-7.4 7.3l7.6 5.9zM649.5 1001.1l-7.5 -5.4l-7.5 7.1l7.5 5.5zM627.9 997.7l-7.4 -5.2l-7.6 7.1l7.4 5.2zM577.9 987.3l-7.2 -4.6l-7.6 6.8l7.2 4.7zM549.8 980.9l-7.1 -4.4l-7.6 6.7l7.1 4.4zM508.5 967.7l-6.8 -3.8l-7.7 6.5l6.9 3.8zM501.9 964.1l-6.9 -3.7l-7.6 6.5l6.8 3.7zM495.3 960.6l-6.9 -3.5l-7.6 6.4l6.8 3.6zM488.7 957.3l-6.8 -3.4l-7.7 6.3l6.8 3.5zM482.1 954.1l-6.7 -3.3l-7.7 6.3l6.8 3.3zM475.6 951l-6.7 -3.2l-7.7 6.2l6.7 3.3zM450.8 931.4l-6.5 -2.6l-7.6 6l6.6 2.6zM435.3 902.5l-6.3 -1.8l-7.5 5.6l6.3 1.9zM431.4 887.5l-6.2 -1.3l-7.4 5.4l6.2 1.5zM432.5 881.2l-6.2 -1.2l-7.4 5.4l6.2 1.3zM433.6 875.1l-6.1 -1.1l-7.4 5.3l6.1 1.2zM434.7 869.1l-6.1 -.9l-7.3 5.3l6.1 1zM435.8 863.4l-6.1 -.8l-7.3 5.2l6.1 .9zM436.9 857.9l-6.1 -.7l-7.2 5.2l6 .7zM454.8 828.6l-5.9 0l-7.1 4.9l5.9 0zM471.2 807.2l-5.9 .4l-6.9 4.7l5.8 -.4zM478.7 799.1l-5.8 .6l-6.9 4.6l5.8 -.5z"/><path fill=#b4cae2 stroke=#b4cae2 d="M788.8 1020.8l-7.9 -6.5l-7.3 7.5l7.9 6.6zM737.2 1017.8l-7.7 -6.2l-7.4 7.5l7.7 6.2zM700.5 1014.5l-7.6 -5.9l-7.5 7.3l7.7 6zM642.2 1008l-7.4 -5.4l-7.6 7.1l7.5 5.5zM620.6 1004.5l-7.4 -5.2l-7.6 7.1l7.4 5.3zM599 1001.4l-7.3 -5l-7.6 7l7.3 5.1zM570.6 994l-7.2 -4.7l-7.7 6.8l7.2 4.8zM542.4 987.3l-7.1 -4.3l-7.6 6.7l7.1 4.5zM507.9 977.7l-7 -4l-7.6 6.6l6.9 4zM501.2 973.9l-6.9 -3.8l-7.7 6.5l6.9 3.9zM461.7 953.9l-6.6 -3.1l-7.7 6.2l6.7 3.2zM455.3 951l-6.6 -3l-7.7 6.2l6.6 3zM437.2 934.7l-6.4 -2.5l-7.7 6l6.5 2.5zM432 924.5l-6.4 -2.2l-7.5 5.9l6.4 2.3zM427 915.1l-6.4 -2l-7.5 5.7l6.3 2.1zM422 906.2l-6.3 -1.7l-7.5 5.6l6.3 1.8zM431 857.4l-6 -.6l-7.2 5.2l6 .6zM432.1 852.2l-5.9 -.4l-7.2 5.1l5.9 .4zM441.2 837.8l-5.9 -.1l-7.1 4.9l5.9 .2z"/><path fill=#b7cce3 stroke=#b7cce3 d="M781.7 1028.1l-7.8 -6.6l-7.4 7.6l7.9 6.7zM730.1 1025l-7.8 -6.2l-7.4 7.5l7.7 6.3zM693.3 1021.6l-7.6 -6l-7.5 7.4l7.6 6zM634.9 1014.9l-7.4 -5.5l-7.6 7.2l7.5 5.6zM591.6 1008.2l-7.3 -5.1l-7.6 7l7.3 5.2zM541.9 998.2l-7.1 -4.5l-7.7 6.8l7.1 4.6zM507.2 987.9l-7 -4.1l-7.7 6.7l7 4.1zM423.6 938l-6.4 -2.4l-7.6 6l6.4 2.5zM413.6 918.7l-6.3 -1.9l-7.6 5.7l6.3 2zM409.9 903.2l-6.2 -1.5l-7.5 5.6l6.2 1.5zM435.5 837.9l-5.9 0l-7.1 4.8l5.9 .1z"/><path fill=#bacfe3 stroke=#bacfe3 d="M774.6 1035.5l-7.8 -6.6l-7.4 7.6l7.9 6.7zM722.9 1032.3l-7.8 -6.3l-7.4 7.5l7.7 6.3zM649.5 1025.8l-7.6 -5.7l-7.5 7.3l7.5 5.8zM562.8 1012l-7.3 -4.9l-7.7 7l7.3 5zM400.2 922.4l-6.2 -1.8l-7.6 5.7l6.2 1.9zM399.2 894.4l-6 -1.1l-7.5 5.4l6.1 1.2zM400.5 888.4l-6 -1l-7.5 5.3l6.1 1.1zM412.5 861.5l-5.9 -.4l-7.3 5l5.9 .5zM421.8 847.1l-5.9 -.1l-7.1 4.9l5.8 .2z"/><path fill=#bed1e4 stroke=#bed1e4 d="M767.5 1042.9l-7.9 -6.7l-7.4 7.7l7.9 6.7zM752.7 1043.8l-7.8 -6.6l-7.4 7.6l7.8 6.7zM700.9 1040.7l-7.7 -6.3l-7.5 7.5l7.7 6.4zM664.1 1037.2l-7.6 -6l-7.6 7.4l7.6 6.1zM605.7 1030.5l-7.4 -5.5l-7.7 7.2l7.4 5.6zM583.9 1026.9l-7.3 -5.3l-7.7 7.2l7.4 5.3zM562.4 1023.7l-7.3 -5.1l-7.7 7l7.2 5.2zM386.9 926.1l-6.2 -1.7l-7.7 5.7l6.2 1.8zM398.5 871.1l-5.9 -.5l-7.3 5.1l5.9 .5zM408 856.4l-5.8 -.2l-7.3 5l5.9 .2z"/><path fill=#c1d3e5 stroke=#c1d3e5 d="M760.3 1050.4l-7.8 -6.8l-7.5 7.7l7.9 6.8zM708.4 1046.9l-7.7 -6.4l-7.5 7.5l7.7 6.5zM656.8 1044.4l-7.6 -6l-7.6 7.4l7.6 6.1zM598.2 1037.5l-7.4 -5.6l-7.7 7.3l7.5 5.6zM576.5 1033.9l-7.3 -5.4l-7.8 7.2l7.4 5.4zM373.5 929.9l-6.1 -1.7l-7.7 5.7l6.2 1.7zM374.9 923l-6.1 -1.5l-7.6 5.6l6.1 1.6zM376.3 916.4l-6.1 -1.5l-7.6 5.6l6.1 1.4zM381.7 891.8l-5.9 -.8l-7.5 5.2l5.9 .9zM383.1 886.2l-6 -.7l-7.4 5.2l5.9 .7zM392.8 870.7l-5.9 -.3l-7.3 5l5.8 .5zM394.1 865.8l-5.8 -.3l-7.3 5.1l5.8 .2zM402.3 856.4l-5.8 -.1l-7.2 4.9l5.8 .1z"/><path fill=#c8d8e7 stroke=#c8d8e7 d="M745.9 1065.4l-7.8 -6.9l-7.5 7.7l7.8 7zM731.1 1066.2l-7.9 -6.8l-7.5 7.7l7.9 6.9zM679 1062.7l-7.7 -6.5l-7.6 7.6l7.7 6.5zM642 1058.9l-7.6 -6.2l-7.6 7.5l7.6 6.3zM605.2 1055.7l-7.4 -5.8l-7.8 7.4l7.5 5.9zM349.9 924.4l-6 -1.3l-7.6 5.5l6 1.3zM351.4 918.1l-5.9 -1.2l-7.6 5.4l5.9 1.2zM364.5 890l-5.8 -.5l-7.5 5.2l5.9 .6zM374.4 875.1l-5.7 -.2l-7.4 5l5.8 .3zM392.4 852.4l-5.7 .2l-7.2 4.8l5.7 -.2z"/><path fill=#cbdae8 stroke=#cbdae8 d="M738.7 1072.9l-7.9 -6.9l-7.5 7.8l7.9 6.9zM671.7 1070.1l-7.7 -6.5l-7.7 7.6l7.7 6.6zM634.6 1066.2l-7.6 -6.2l-7.7 7.5l7.6 6.3zM345.6 917.1l-5.9 -1.1l-7.6 5.4l5.9 1.1zM347.2 911.1l-5.9 -.9l-7.6 5.3l5.9 1zM348.7 905.4l-5.9 -.8l-7.5 5.3l5.8 .8zM358.8 889.7l-5.8 -.5l-7.4 5.1l5.8 .5zM368.8 875l-5.7 -.1l-7.4 5l5.8 .1z"/><path fill=#cfdce9 stroke=#cfdce9 d="M731.4 1080.5l-7.9 -7l-7.5 7.8l7.9 7.1zM664.3 1077.5l-7.7 -6.6l-7.7 7.7l7.7 6.6zM354.7 884.4l-5.7 -.2l-7.4 5l5.7 .3z"/><path fill=#d2dfea stroke=#d2dfea d="M724.1 1088.1l-7.9 -7.1l-7.5 7.9l7.8 7.1zM656.9 1085l-7.7 -6.7l-7.7 7.8l7.7 6.6zM328.5 914.7l-5.8 -.7l-7.6 5.2l5.8 .8zM349.2 884.4l-5.7 -.1l-7.4 4.9l5.7 .2z"/><path fill=#d5e1ec stroke=#d5e1ec d="M716.8 1095.8l-7.9 -7.2l-7.6 7.9l7.9 7.2zM649.4 1092.5l-7.7 -6.7l-7.7 7.7l7.7 6.8z"/><path fill=#d9e4ed stroke=#d9e4ed d="M709.4 1103.4l-7.9 -7.1l-7.6 7.9l7.9 7.2zM694.4 1104.2l-7.8 -7.1l-7.7 7.9l7.8 7.1zM320.6 903.3l-5.6 -.3l-7.5 5.1l5.6 .3z"/><path fill=#e0e8ef stroke=#e0e8ef d="M694.6 1118.9l-7.9 -7.3l-7.7 8l7.9 7.4z"/><path fill=#3c6bb1 stroke=#3c6bb1 d="M1096.4 694.7l-7.9 -3.8l-6.1 6.1l7.9 3.8zM1088.8 691.1l-7.9 -3.8l-6 6.1l7.8 3.8zM1067.8 689.8l-7.8 -3.5l-6 6l7.7 3.6zM1060.3 686.5l-7.7 -3.4l-6.1 5.9l7.8 3.5zM1032.1 682.7l-7.6 -3.2l-6.2 5.9l7.7 3.2zM1024.7 679.7l-7.6 -3l-6.1 5.8l7.6 3.1zM1017.4 676.9l-7.6 -2.9l-6.1 5.7l7.6 3zM1010.1 674.2l-7.6 -2.8l-6.1 5.7l7.6 2.8zM1002.8 671.6l-7.6 -2.7l-6.1 5.6l7.6 2.8zM995.5 669.1l-7.5 -2.6l-6.1 5.6l7.5 2.6zM988.3 666.7l-7.5 -2.5l-6.1 5.6l7.4 2.5zM981 664.4l-7.4 -2.4l-6.1 5.6l7.4 2.4zM973.9 662.2l-7.5 -2.2l-6.1 5.5l7.5 2.3zM966.7 660.2l-7.4 -2.2l-6.1 5.5l7.4 2.1zM959.6 658.2l-7.4 -2.1l-6.1 5.5l7.4 2zM944.3 647.9l-7.3 -1.7l-6.1 5.3l7.3 1.7zM937.3 646.4l-7.3 -1.6l-6 5.3l7.2 1.6zM929.2 638.9l-7.2 -1.4l-6 5.2l7.2 1.3z"/><path fill=#3e6db2 stroke=#3e6db2 d="M1090.5 700.6l-7.9 -3.9l-6.1 6.1l7.9 3.9zM1062 695.6l-7.8 -3.6l-6.1 6l7.7 3.6zM1026.2 688.3l-7.7 -3.2l-6.1 5.8l7.7 3.3zM946.6 661.4l-7.3 -1.9l-6.2 5.3l7.4 2.1zM939.6 659.6l-7.4 -1.8l-6.1 5.3l7.3 1.9zM924.4 649.9l-7.2 -1.5l-6.1 5.2l7.3 1.6zM916.5 642.5l-7.2 -1.3l-6.1 5.2l7.2 1.3zM908.6 635.7l-7.1 -1l-6.1 5l7.1 1z"/><path fill=#3f6fb3 stroke=#3f6fb3 d="M1084.6 706.4l-7.9 -3.9l-6.1 6.1l7.9 4zM1056 701.3l-7.7 -3.6l-6.2 6l7.8 3.7zM1020.3 693.9l-7.7 -3.3l-6.1 5.9l7.6 3.3zM933.6 664.7l-7.3 -1.9l-6.1 5.4l7.3 1.9zM918.6 654.9l-7.3 -1.6l-6.1 5.2l7.2 1.6zM895 634.1l-7.1 -.9l-6 5l7 .8z"/><path fill=#4372b5 stroke=#4372b5 d="M1072.8 718.3l-7.9 -4.1l-6.2 6.2l7.9 4.1zM1051.7 716.6l-7.8 -3.9l-6.2 6.2l7.8 3.9zM1015.8 708.4l-7.7 -3.4l-6.2 5.9l7.7 3.5zM973 698.8l-7.5 -2.9l-6.3 5.8l7.6 3zM965.8 696.1l-7.6 -2.8l-6.2 5.7l7.5 2.9zM958.5 693.5l-7.5 -2.7l-6.2 5.7l7.5 2.7zM951.3 691l-7.4 -2.6l-6.3 5.7l7.5 2.6zM944.1 688.6l-7.4 -2.5l-6.2 5.6l7.4 2.6zM937 686.3l-7.4 -2.4l-6.2 5.6l7.4 2.4zM929.9 684.1l-7.4 -2.2l-6.2 5.5l7.4 2.3zM907.7 671.4l-7.2 -1.8l-6.2 5.4l7.2 1.8zM892.9 662l-7.2 -1.5l-6.1 5.2l7.1 1.5zM885.1 654.7l-7.1 -1.2l-6.1 5.1l7.1 1.3zM877.4 648.1l-7 -1l-6.1 5l7 1zM876.5 642.7l-7 -.9l-6 5l7 .8z"/><path fill=#4877b8 stroke=#4877b8 d="M1054.9 736.2l-7.9 -4.1l-6.2 6.2l7.8 4.3zM1033.7 734.4l-7.8 -4l-6.3 6.2l7.8 4zM1005.2 729.2l-7.8 -3.7l-6.2 6.1l7.7 3.7zM969.5 721.5l-7.6 -3.2l-6.3 5.9l7.6 3.3zM962.2 718.5l-7.6 -3.2l-6.3 5.9l7.6 3.2zM897.7 695.7l-7.3 -2.2l-6.3 5.5l7.3 2.2zM890.6 693.7l-7.2 -2.1l-6.3 5.5l7.3 2.1zM875.8 683.3l-7.1 -1.7l-6.3 5.3l7.2 1.8zM844.7 650.1l-6.9 -.6l-6.1 4.9l6.9 .6zM844 645.1l-6.9 -.4l-6.1 4.8l6.9 .5zM843.2 640.4l-6.8 -.3l-6.1 4.7l6.9 .4zM842.5 635.8l-6.8 -.2l-6 4.7l6.8 .2zM841.8 631.4l-6.8 -.1l-6 4.7l6.8 .1z"/><path fill=#5c8ac3 stroke=#5c8ac3 d="M987.4 804.2l-7.9 -4.8l-6.5 6.6l7.9 4.8zM966 801.5l-7.8 -4.6l-6.6 6.5l7.8 4.6zM916 793.1l-7.6 -4l-6.6 6.3l7.7 4.1zM838.1 774.1l-7.4 -3.1l-6.6 6l7.4 3.1zM831 771.2l-7.3 -3l-6.7 5.9l7.4 3.1zM823.9 768.4l-7.3 -2.9l-6.6 5.9l7.3 2.9zM816.9 765.7l-7.3 -2.7l-6.6 5.8l7.3 2.8zM809.9 763.2l-7.2 -2.7l-6.6 5.8l7.2 2.7zM767.7 736.3l-6.9 -1.7l-6.6 5.4l7 1.8zM753.6 721.1l-6.8 -1.2l-6.5 5.2l6.8 1.2zM746.1 703.5l-6.7 -.7l-6.4 5l6.7 .7zM745.8 698.3l-6.7 -.5l-6.4 4.9l6.7 .6zM745.4 693.4l-6.6 -.4l-6.4 4.9l6.7 .4zM745.1 688.7l-6.6 -.3l-6.3 4.8l6.6 .3zM749.9 667.3l-6.5 .3l-6.2 4.5l6.5 -.2zM760.7 648.4l-6.5 .7l-6 4.4l6.4 -.7z"/><path fill=#618dc5 stroke=#618dc5 d="M974.8 816.9l-7.9 -4.9l-6.5 6.7l7.9 4.8zM953.3 814l-7.8 -4.6l-6.5 6.6l7.8 4.7zM839.6 791.8l-7.5 -3.4l-6.6 6.1l7.4 3.5zM727.2 712.3l-6.6 -.7l-6.5 5l6.7 .7zM726.6 697.5l-6.6 -.3l-6.4 4.8l6.6 .3zM748.3 650.3l-6.3 .8l-6.1 4.3l6.4 -.8zM753.8 643.4l-6.3 1.1l-6 4.2l6.3 -1z"/><path fill=#6591c6 stroke=#6591c6 d="M962.1 829.7l-7.8 -4.9l-6.6 6.6l7.8 5zM940.6 826.7l-7.8 -4.7l-6.6 6.6l7.8 4.8zM919.2 824.1l-7.7 -4.6l-6.7 6.6l7.8 4.6zM833.8 807l-7.4 -3.7l-6.7 6.2l7.4 3.7zM749.8 773.3l-7.1 -2.2l-6.7 5.6l7.1 2.3zM729.2 760.4l-6.9 -1.8l-6.6 5.5l6.9 1.8zM722.3 752.2l-6.8 -1.5l-6.6 5.3l6.8 1.6zM715.4 738.6l-6.8 -1.2l-6.6 5.2l6.8 1.2zM708.5 726.4l-6.6 -.8l-6.5 5l6.6 .9zM708.4 721.1l-6.7 -.7l-6.4 5l6.6 .7zM708.2 716l-6.6 -.5l-6.4 4.9l6.6 .5zM708.1 711.1l-6.6 -.4l-6.4 4.9l6.5 .4zM713.6 689l-6.5 .2l-6.3 4.6l6.5 -.1zM725 669.6l-6.3 .6l-6.2 4.4l6.4 -.6zM747.4 642.1l-6.3 1.2l-5.9 4.2l6.3 -1.2z"/><path fill=#6793c7 stroke=#6793c7 d="M955.8 836.1l-7.9 -4.9l-6.6 6.7l7.8 5zM934.2 833.1l-7.8 -4.8l-6.6 6.6l7.8 4.9zM912.8 830.4l-7.7 -4.6l-6.7 6.5l7.7 4.7zM862.9 821.8l-7.6 -4.1l-6.7 6.4l7.6 4.2zM778.2 799.5l-7.2 -3l-6.8 5.9l7.3 3.1zM771.3 796.7l-7.2 -3l-6.8 6l7.2 2.9zM764.3 793.9l-7.2 -2.8l-6.7 5.9l7.2 2.9zM729.8 774.6l-7 -2.1l-6.7 5.6l6.9 2.1zM702.5 742.4l-6.7 -1.1l-6.6 5.2l6.7 1.2zM701.5 701.9l-6.5 0l-6.3 4.7l6.4 .1zM713.1 677.8l-6.4 .6l-6.2 4.5l6.4 -.6zM741.4 643.5l-6.3 1.3l-5.9 4.1l6.2 -1.3z"/><path fill=#6c96c9 stroke=#6c96c9 d="M942.9 849.1l-7.8 -5.1l-6.7 6.8l7.9 5.2zM703.4 781.3l-6.9 -1.9l-6.8 5.5l6.9 2zM683 710.8l-6.5 0l-6.4 4.8l6.4 0zM700.9 679.4l-6.3 .7l-6.2 4.4l6.3 -.7zM712.5 665.4l-6.3 1l-6.1 4.3l6.3 -1.1z"/><path fill=#6e98ca stroke=#6e98ca d="M936.5 855.7l-7.9 -5.2l-6.6 6.8l7.8 5.2zM872 846.8l-7.7 -4.5l-6.8 6.5l7.7 4.7zM850.7 844.5l-7.6 -4.4l-6.8 6.5l7.6 4.5zM822.2 838.5l-7.5 -4.1l-6.8 6.4l7.5 4.2zM786.8 829.8l-7.3 -3.7l-6.9 6.3l7.4 3.6zM710.4 798.2l-7 -2.4l-6.8 5.8l7 2.4zM690.2 784.8l-6.9 -1.9l-6.8 5.5l6.9 2zM683.5 776.3l-6.8 -1.7l-6.7 5.5l6.7 1.7zM676.9 768.4l-6.7 -1.4l-6.7 5.3l6.7 1.5zM670.5 749.5l-6.6 -.8l-6.7 5.1l6.6 .9zM670.5 728.9l-6.5 -.4l-6.5 4.9l6.5 .4zM670.5 724.2l-6.4 -.2l-6.5 4.8l6.4 .2zM694.8 680.3l-6.2 .8l-6.3 4.3l6.3 -.7zM700.7 673.3l-6.3 .9l-6.1 4.3l6.2 -.9zM723.7 650.2l-6.2 1.5l-6 4.1l6.2 -1.5z"/><path fill=#709acb stroke=#709acb d="M930 862.2l-7.8 -5.2l-6.7 6.9l7.8 5.2zM908.4 858.9l-7.8 -5l-6.7 6.8l7.8 5zM865.4 853.2l-7.6 -4.6l-6.8 6.6l7.6 4.6zM844.1 850.8l-7.6 -4.4l-6.8 6.5l7.6 4.5zM815.6 844.7l-7.5 -4.1l-6.8 6.4l7.5 4.1zM787.4 839.3l-7.4 -3.8l-6.9 6.3l7.4 3.9zM780.2 835.7l-7.3 -3.6l-6.9 6.2l7.4 3.8zM697.1 801.5l-7 -2.4l-6.8 5.7l6.9 2.4zM690.4 799.3l-6.9 -2.2l-6.9 5.7l6.9 2.2zM670.4 779.9l-6.7 -1.6l-6.8 5.4l6.8 1.7zM664 766l-6.7 -1.2l-6.7 5.3l6.7 1.2zM664.3 724.1l-6.4 -.1l-6.5 4.8l6.4 .2zM670.6 707.3l-6.3 .3l-6.4 4.6l6.3 -.3zM676.8 699.3l-6.3 .5l-6.4 4.5l6.3 -.4zM712.1 657.8l-6.2 1.4l-6 4.1l6.1 -1.4z"/><path fill=#769ece stroke=#769ece d="M917 875.5l-7.8 -5.3l-6.8 6.8l7.9 5.4zM809.6 861.2l-7.5 -4.4l-6.9 6.6l7.5 4.3zM781.2 855.3l-7.4 -4l-6.9 6.4l7.4 4.1zM746.1 846.7l-7.3 -3.6l-7 6.3l7.3 3.6zM739 843.3l-7.2 -3.5l-7 6.2l7.3 3.6zM683.9 820.3l-7 -2.6l-6.9 5.8l7 2.6zM677.2 817.9l-7 -2.5l-6.9 5.8l7 2.5zM663.8 806l-6.8 -2.1l-6.9 5.7l6.8 2.1zM644.5 781l-6.7 -1.3l-6.8 5.3l6.7 1.4zM638.5 762.5l-6.5 -.8l-6.7 5.1l6.5 .9zM638.7 757.1l-6.5 -.6l-6.7 5l6.5 .7zM638.8 752l-6.4 -.6l-6.7 5l6.5 .6zM645.7 728.8l-6.3 0l-6.5 4.7l6.3 0zM652.2 716.3l-6.3 .4l-6.4 4.5l6.3 -.2zM688.7 673l-6.2 1.3l-6.1 4.2l6.1 -1.3zM706 657.2l-6.1 1.6l-6 4l6.1 -1.5z"/><path fill=#78a0cf stroke=#78a0cf d="M910.5 882.1l-7.9 -5.3l-6.8 6.9l7.9 5.4zM803 867.5l-7.6 -4.4l-6.9 6.5l7.5 4.5zM774.6 861.5l-7.5 -4.1l-6.9 6.4l7.4 4.2zM670.5 823.4l-6.9 -2.5l-7 5.8l6.9 2.6zM644.1 800.6l-6.7 -1.7l-6.9 5.5l6.7 1.8zM632.8 746.8l-6.4 -.3l-6.6 4.8l6.3 .4zM652.4 709l-6.2 .6l-6.4 4.5l6.2 -.6zM670.8 687.4l-6.1 1l-6.2 4.3l6.1 -1zM705.9 655.3l-6 1.7l-6 4l6.1 -1.7z"/><path fill=#89add5 stroke=#89add5 d="M870.7 922.7l-7.9 -5.7l-6.9 7.1l7.8 5.8zM812.8 916.6l-7.7 -5.2l-7 6.9l7.7 5.3zM791.2 913.3l-7.6 -5l-7.1 6.9l7.6 5zM769.7 910.4l-7.6 -4.8l-7 6.8l7.5 4.8zM719.8 901.2l-7.3 -4.3l-7.2 6.6l7.4 4.4zM684.6 891.7l-7.2 -3.9l-7.2 6.4l7.3 4zM603 855.3l-6.8 -2.5l-7.1 5.8l6.8 2.6zM572.2 817.8l-6.5 -1.3l-7 5.3l6.5 1.4zM575.8 773.8l-6.2 -.2l-6.8 4.8l6.2 .3zM583.1 760.3l-6.2 0l-6.6 4.8l6.1 0zM590.3 747.8l-6.1 .3l-6.6 4.7l6.1 -.4zM597 739.8l-6.1 .5l-6.5 4.5l6.1 -.4zM616.6 717.6l-6 1l-6.4 4.3l6 -1zM653.5 684.6l-5.9 1.6l-6.2 4.1l6 -1.6z"/><path fill=#95b5d9 stroke=#95b5d9 d="M843.6 950.4l-7.8 -5.9l-7.1 7.2l7.9 5.9zM807.3 947.4l-7.8 -5.6l-7.1 7.1l7.8 5.7zM642.8 918.9l-7.2 -4l-7.3 6.5l7.2 4.1zM555.2 878.5l-6.7 -2.5l-7.3 5.9l6.7 2.6zM542.8 866.4l-6.6 -2.1l-7.2 5.8l6.6 2.1zM537 857.3l-6.5 -1.9l-7.2 5.7l6.5 1.9zM531.3 848.8l-6.4 -1.6l-7.2 5.5l6.4 1.7zM527 828.6l-6.3 -1.1l-7.1 5.3l6.4 1.1zM527.7 822.8l-6.3 -1l-7.1 5.2l6.3 1zM528.4 817.1l-6.3 -.8l-7 5.2l6.2 .8zM537.6 792l-6.2 -.2l-6.8 4.9l6.1 .2zM545.4 778.5l-6.1 .1l-6.8 4.8l6.1 -.1zM559.9 758l-6 .6l-6.6 4.5l6 -.5zM566.8 750.3l-6 .8l-6.6 4.4l6 -.6zM593.1 725.1l-5.9 1.2l-6.4 4.3l5.9 -1.2z"/><path fill=#98b7da stroke=#98b7da d="M836.8 957.4l-7.8 -6l-7.1 7.3l7.8 6zM800.4 954.3l-7.7 -5.6l-7.2 7.1l7.8 5.7zM670.9 935.3l-7.3 -4.5l-7.3 6.7l7.3 4.6zM594.3 913.1l-7 -3.5l-7.4 6.4l7 3.5zM587.5 909.8l-7 -3.4l-7.3 6.3l7 3.5zM574.1 903.6l-6.9 -3.2l-7.4 6.2l6.9 3.2zM567.4 900.6l-6.8 -3.1l-7.4 6.2l6.9 3.1zM529.4 869.9l-6.5 -2l-7.3 5.7l6.6 2.1zM523.8 860.9l-6.5 -1.8l-7.3 5.6l6.5 1.9zM518.9 846l-6.4 -1.4l-7.2 5.5l6.4 1.4zM580.8 733.1l-5.9 1.1l-6.5 4.3l5.9 -1.1z"/><path fill=#a4c0de stroke=#a4c0de d="M809.2 985.7l-7.8 -6.2l-7.2 7.4l7.8 6.2zM772.6 982.2l-7.7 -5.9l-7.3 7.3l7.7 6zM736.2 979.4l-7.7 -5.6l-7.3 7.2l7.7 5.6zM649.6 966l-7.4 -4.8l-7.4 6.8l7.4 4.9zM551.7 940.2l-6.9 -3.6l-7.5 6.4l6.9 3.7zM545 936.8l-6.9 -3.5l-7.5 6.3l6.9 3.6zM538.3 933.5l-6.8 -3.4l-7.5 6.3l6.8 3.4zM531.7 930.3l-6.8 -3.3l-7.5 6.2l6.8 3.4zM525.1 927.2l-6.8 -3.2l-7.5 6.2l6.8 3.2zM518.5 924.2l-6.8 -3.1l-7.4 6.2l6.7 3.1zM477 877.4l-6.3 -1.7l-7.4 5.6l6.4 1.7zM501.6 797.1l-6 .2l-6.8 4.8l5.9 -.2zM530.5 765.5l-5.9 .8l-6.6 4.5l5.8 -.8z"/><path fill=#a8c2de stroke=#a8c2de d="M802.3 992.8l-7.9 -6.2l-7.2 7.4l7.8 6.3zM729.1 986.4l-7.6 -5.7l-7.4 7.2l7.7 5.7zM621 970l-7.3 -4.7l-7.4 6.8l7.2 4.8zM592.8 963.4l-7.2 -4.4l-7.5 6.7l7.2 4.5zM558 953.7l-7 -3.9l-7.5 6.5l7 4zM498.3 924.4l-6.7 -2.9l-7.5 6.1l6.6 2.9zM479.8 908.7l-6.5 -2.4l-7.5 5.9l6.6 2.4zM471.3 833.8l-6.1 -.4l-7.1 5l6.1 .5zM488.4 806l-6 .1l-6.9 4.8l5.9 -.1z"/><path fill=#aec6e0 stroke=#aec6e0 d="M788.2 1007.2l-7.8 -6.3l-7.3 7.5l7.9 6.4zM751.5 1003.5l-7.8 -6.1l-7.3 7.4l7.7 6.1zM714.9 1000.4l-7.7 -5.8l-7.4 7.2l7.7 5.9zM656.7 994.2l-7.4 -5.3l-7.5 7.1l7.5 5.4zM635.1 990.9l-7.4 -5.1l-7.5 7l7.4 5.2zM585.2 980.8l-7.2 -4.6l-7.6 6.8l7.2 4.6zM550.3 970.3l-7.1 -4.1l-7.6 6.6l7.1 4.2zM464.5 928.1l-6.6 -2.6l-7.5 6l6.5 2.7zM452.8 915.5l-6.4 -2.3l-7.6 5.9l6.5 2.3zM447.6 906l-6.4 -2l-7.5 5.7l6.4 2.1zM443.5 890.2l-6.3 -1.5l-7.4 5.5l6.3 1.7zM451.7 843l-6 -.4l-7.1 5l6 .5zM460.6 828.6l-6 -.1l-7 4.9l5.9 .2zM469.3 815.2l-5.9 .2l-7 4.8l5.9 -.2zM476.9 806.7l-5.9 .3l-6.9 4.7l5.8 -.3zM484.4 798.5l-5.9 .5l-6.8 4.6l5.8 -.4zM491.8 790.6l-5.8 .7l-6.8 4.5l5.8 -.6z"/><path fill=#b1c9e1 stroke=#b1c9e1 d="M781.2 1014.5l-7.8 -6.4l-7.4 7.5l7.9 6.4zM671.3 1004.8l-7.6 -5.6l-7.4 7.2l7.5 5.6zM606.3 994.6l-7.3 -4.9l-7.6 7l7.3 5zM515.2 971.4l-6.9 -3.9l-7.6 6.5l6.9 4zM469.1 948l-6.7 -3.1l-7.6 6.2l6.7 3.1zM439.3 919l-6.4 -2.2l-7.5 5.8l6.4 2.3zM434.2 909.6l-6.3 -1.9l-7.5 5.7l6.3 2zM430.3 894.1l-6.2 -1.5l-7.5 5.5l6.2 1.6zM447 837.9l-6 -.2l-7.1 4.9l5.9 .3zM463.5 815.5l-5.8 .3l-7 4.7l5.9 -.2zM486.2 791.4l-5.8 .8l-6.8 4.5l5.7 -.7z"/><path fill=#b8cde3 stroke=#b8cde3 d="M767 1029.1l-7.8 -6.5l-7.4 7.5l7.8 6.6zM715.4 1026.2l-7.7 -6.1l-7.5 7.4l7.7 6.2zM678.7 1023l-7.6 -5.9l-7.5 7.3l7.6 6zM620.4 1016.6l-7.4 -5.4l-7.6 7.1l7.4 5.5zM598.7 1013.2l-7.3 -5.2l-7.6 7l7.3 5.3zM548.8 1002.7l-7.1 -4.7l-7.7 6.9l7.1 4.7zM520.8 996.1l-7.1 -4.3l-7.7 6.7l7 4.4zM513.9 992l-7 -4.3l-7.7 6.7l7 4.3zM428.8 948.7l-6.5 -2.7l-7.7 6.1l6.5 2.7zM417.4 935.8l-6.4 -2.3l-7.6 5.9l6.4 2.4zM412.4 926.1l-6.3 -2.1l-7.6 5.8l6.3 2.1zM407.5 917l-6.3 -1.8l-7.5 5.7l6.2 1.8zM408.7 910l-6.2 -1.7l-7.5 5.7l6.2 1.7zM406.4 889.3l-6.1 -1.1l-7.4 5.4l6 1.2zM418.3 861.8l-6 -.5l-7.3 5.1l6 .6zM427.5 847.1l-5.9 -.2l-7.2 5l5.9 .2zM436.6 833.5l-5.8 .1l-7.1 4.8l5.8 -.1zM444.5 824.8l-5.9 .3l-7 4.7l5.8 -.2zM452.2 816.5l-5.8 .4l-6.9 4.7l5.7 -.4zM459.9 808.4l-5.8 .6l-6.9 4.6l5.8 -.5z"/><path fill=#bbcfe4 stroke=#bbcfe4 d="M759.9 1036.4l-7.9 -6.5l-7.4 7.6l7.9 6.6zM708.2 1033.4l-7.7 -6.2l-7.5 7.5l7.7 6.3zM671.4 1030.1l-7.6 -6l-7.5 7.4l7.6 6zM613 1023.5l-7.4 -5.4l-7.6 7.2l7.4 5.5zM591.4 1020l-7.4 -5.2l-7.6 7.1l7.3 5.3zM569.8 1016.9l-7.3 -5.1l-7.7 7l7.3 5.2zM541.4 1009.3l-7.2 -4.7l-7.7 6.9l7.2 4.8zM403.9 939.3l-6.4 -2.3l-7.6 5.9l6.3 2.3zM399 929.7l-6.3 -2l-7.6 5.8l6.2 2zM395.4 913.8l-6.1 -1.6l-7.6 5.7l6.2 1.6zM396.7 907.2l-6.1 -1.5l-7.6 5.6l6.2 1.4zM401.7 882.5l-6 -.8l-7.3 5.3l5.9 .9zM403 876.9l-6 -.7l-7.3 5.2l5.9 .8zM413.7 856.5l-5.9 -.3l-7.2 5l5.9 .4zM430.9 833.7l-5.8 .2l-7 4.8l5.7 -.1zM438.8 825.2l-5.8 .4l-7 4.7l5.8 -.3zM446.6 817l-5.7 .6l-7 4.6l5.7 -.5z"/><path fill=#c2d3e5 stroke=#c2d3e5 d="M745.5 1051.3l-7.8 -6.7l-7.5 7.6l7.9 6.8zM693.7 1048l-7.7 -6.3l-7.6 7.5l7.7 6.4zM620.1 1041.5l-7.5 -5.8l-7.6 7.3l7.4 5.9zM384.4 880.8l-5.9 -.6l-7.4 5.2l5.9 .6zM419.7 834.5l-5.7 .4l-7.1 4.7l5.7 -.3z"/><path fill=#c5d6e6 stroke=#c5d6e6 d="M738.3 1058.7l-7.8 -6.7l-7.5 7.7l7.8 6.8zM686.4 1055.3l-7.7 -6.4l-7.6 7.6l7.7 6.5zM612.7 1048.6l-7.5 -5.8l-7.7 7.3l7.5 5.9zM368.8 896.1l-5.9 -.8l-7.5 5.3l5.9 .8zM370.2 890.5l-5.9 -.6l-7.4 5.2l5.8 .7zM380.1 875.3l-5.8 -.4l-7.4 5.1l5.8 .4zM398 852.1l-5.7 .1l-7.2 4.9l5.7 -.2zM406.1 843.4l-5.7 .3l-7.1 4.8l5.7 -.3z"/><path fill=#ccdae8 stroke=#ccdae8 d="M723.8 1073.7l-7.8 -6.8l-7.6 7.7l7.8 6.9zM350.2 899.8l-5.8 -.6l-7.5 5.2l5.8 .7zM360.3 884.6l-5.7 -.3l-7.4 5l5.7 .4z"/><path fill=#cfddea stroke=#cfddea d="M716.5 1081.3l-7.8 -6.9l-7.6 7.8l7.8 6.9zM334.2 915.4l-5.8 -.9l-7.6 5.4l5.8 .9zM346.1 894.2l-5.8 -.4l-7.4 5.1l5.7 .4zM364.7 870.5l-5.7 .1l-7.3 4.9l5.7 0z"/><path fill=#d3dfeb stroke=#d3dfeb d="M709.2 1088.9l-7.9 -7l-7.6 7.8l7.8 7.1zM642 1086l-7.7 -6.5l-7.7 7.6l7.6 6.7zM350.7 879.8l-5.7 0l-7.3 4.9l5.6 0z"/><path fill=#d6e2ec stroke=#d6e2ec d="M701.8 1096.5l-7.8 -7l-7.7 7.8l7.9 7.1zM315.6 919.1l-5.7 -.7l-7.6 5.2l5.7 .8zM326.2 903.5l-5.7 -.3l-7.5 5.1l5.7 .4zM336.5 889.1l-5.6 -.1l-7.4 5l5.6 .1z"/><path fill=#dde6ee stroke=#dde6ee d="M687 1111.9l-7.9 -7.2l-7.7 7.9l7.9 7.3z"/><path fill=#e0e9ef stroke=#e0e9ef d="M679.5 1119.6l-7.8 -7.2l-7.7 7.9l7.8 7.3z"/><path fill=#4070b4 stroke=#4070b4 d="M1071.1 708.6l-7.8 -3.9l-6.2 6.1l7.9 3.9zM1042.6 703.7l-7.7 -3.6l-6.2 6l7.8 3.6zM999.6 693.5l-7.6 -3.1l-6.2 5.8l7.6 3.1zM941.8 673.7l-7.3 -2.2l-6.2 5.5l7.4 2.2zM934.7 671.7l-7.3 -2.1l-6.2 5.5l7.4 2.1zM904.7 652.2l-7.1 -1.4l-6.1 5.2l7.1 1.4zM896.9 645.2l-7.1 -1.1l-6.1 5l7.1 1.2zM888.2 633.4l-7 -.7l-6 4.9l7 .7z"/><path fill=#4575b7 stroke=#4575b7 d="M1053.3 726.3l-7.9 -4l-6.2 6.2l7.9 4.1zM1024.7 721l-7.8 -3.7l-6.2 6.1l7.8 3.8zM996.4 716.6l-7.7 -3.5l-6.3 6l7.7 3.5zM989 713.3l-7.7 -3.3l-6.2 6l7.6 3.3zM902.7 683.4l-7.2 -2l-6.3 5.4l7.3 2zM895.7 681.6l-7.2 -1.9l-6.2 5.4l7.2 1.9zM880.9 671.8l-7.1 -1.5l-6.2 5.3l7.1 1.5zM873.2 664.4l-7.1 -1.3l-6.1 5.2l7 1.3zM865.6 657.5l-7 -1l-6.2 5l7 1.1zM864.8 652l-7 -.9l-6.2 5l7 .9zM856.5 641l-7 -.5l-6 4.8l6.9 .6zM855.7 636.2l-6.9 -.4l-6 4.7l6.8 .5zM854.9 631.5l-6.9 -.2l-6 4.7l6.9 .3z"/><path fill=#4878b9 stroke=#4878b9 d="M1041.3 738.3l-7.9 -4.2l-6.2 6.3l7.8 4.2zM984.2 728l-7.6 -3.5l-6.3 6.1l7.6 3.5zM927.1 712.7l-7.4 -2.8l-6.3 5.8l7.4 2.8zM920 710.1l-7.5 -2.6l-6.3 5.7l7.4 2.7zM876.7 690l-7.2 -1.8l-6.3 5.4l7.2 1.9zM854.4 673l-7 -1.3l-6.2 5.1l7 1.3zM846.2 660.6l-7 -.9l-6.1 5l6.9 .9z"/><path fill=#4a7aba stroke=#4a7aba d="M1035.2 744.3l-7.8 -4.2l-6.3 6.3l7.8 4.2zM1014.1 742.4l-7.8 -3.9l-6.3 6.2l7.8 4zM985.6 737.3l-7.7 -3.7l-6.3 6.1l7.6 3.7zM978.2 733.8l-7.7 -3.5l-6.3 6l7.6 3.6zM942.7 726.7l-7.5 -3.1l-6.4 5.9l7.6 3.2zM935.5 723.8l-7.6 -3.1l-6.3 5.9l7.5 3.1zM928.2 720.9l-7.5 -2.9l-6.3 5.8l7.5 3zM892.5 708.4l-7.3 -2.4l-6.3 5.6l7.3 2.4zM885.5 706.2l-7.3 -2.3l-6.3 5.6l7.3 2.3zM863.7 693.4l-7.2 -1.7l-6.3 5.3l7.2 1.9zM849.2 684l-7.1 -1.5l-6.2 5.3l7 1.4zM841.7 676.7l-7 -1.2l-6.3 5.1l7 1.3zM833.5 664.6l-6.9 -.9l-6.2 5l6.9 .9zM832.8 659.3l-6.8 -.7l-6.2 4.9l6.9 .7zM828.8 631.7l-6.7 .1l-6 4.6l6.7 -.1z"/><path fill=#4c7cba stroke=#4c7cba d="M1029.1 750.3l-7.8 -4.2l-6.3 6.3l7.8 4.3z"/><path fill=#5d8bc3 stroke=#5d8bc3 d="M973.5 805.9l-7.8 -4.6l-6.5 6.5l7.8 4.7zM923.4 797.1l-7.7 -4.2l-6.5 6.4l7.7 4.2zM895 791.5l-7.6 -3.8l-6.6 6.2l7.6 3.9zM859.5 783.5l-7.4 -3.5l-6.6 6.1l7.4 3.5zM789.1 756.2l-7.1 -2.4l-6.6 5.7l7.1 2.3zM782.2 754l-7.1 -2.2l-6.6 5.6l7.1 2.3zM768.2 743.1l-7 -1.8l-6.6 5.4l7 1.9zM747 720l-6.8 -1.1l-6.4 5.2l6.8 1.1zM744.2 675.6l-6.5 .1l-6.2 4.6l6.5 -.1zM749.6 663.5l-6.5 .4l-6.2 4.6l6.5 -.4zM754.8 652.5l-6.4 .7l-6.1 4.3l6.4 -.6zM760.3 645.3l-6.4 .8l-6 4.3l6.4 -.8zM765.7 638.4l-6.4 1l-5.9 4.2l6.4 -.9z"/><path fill=#719bcc stroke=#719bcc d="M916 863.8l-7.9 -5.1l-6.7 6.8l7.8 5.2zM851.5 855.1l-7.7 -4.5l-6.8 6.5l7.7 4.6zM759.4 834.8l-7.3 -3.5l-6.9 6.2l7.3 3.6zM704 811.6l-7 -2.6l-6.9 5.8l7 2.7zM697.2 809.2l-7 -2.5l-6.8 5.8l6.9 2.5zM670.4 786.6l-6.7 -1.7l-6.9 5.5l6.8 1.8zM663.9 778.5l-6.7 -1.5l-6.8 5.4l6.7 1.5zM657.6 765l-6.7 -1.1l-6.7 5.2l6.6 1.2zM657.6 759.2l-6.6 -1l-6.7 5.2l6.6 1zM658 733.2l-6.5 -.2l-6.5 4.8l6.4 .3zM658.1 728.6l-6.5 -.1l-6.5 4.8l6.4 .2zM664.4 715.6l-6.3 .2l-6.5 4.6l6.4 -.1zM670.7 703.6l-6.3 .4l-6.4 4.5l6.3 -.4zM700.5 667.8l-6.2 1.2l-6.1 4.2l6.2 -1.1z"/><path fill=#93b4d8 stroke=#93b4d8 d="M836 944.7l-7.8 -5.8l-7 7.2l7.8 5.8zM778 938.4l-7.6 -5.3l-7.2 7l7.7 5.3zM734.8 931.9l-7.5 -4.9l-7.2 6.9l7.5 4.9zM713.4 929.2l-7.4 -4.7l-7.3 6.8l7.5 4.7zM684.9 922.5l-7.3 -4.4l-7.2 6.6l7.3 4.5zM656.8 916.6l-7.2 -4.1l-7.3 6.5l7.2 4.1zM608.4 901.1l-7 -3.4l-7.3 6.2l7 3.5zM601.6 897.9l-7 -3.3l-7.2 6.2l6.9 3.3zM594.9 894.8l-7 -3.2l-7.2 6.2l6.9 3.2zM562.2 872.9l-6.7 -2.4l-7.3 5.8l6.7 2.5zM549.8 861l-6.6 -2.1l-7.3 5.7l6.7 2.2zM543.9 852l-6.5 -1.8l-7.2 5.6l6.6 1.8zM538.2 843.6l-6.5 -1.6l-7.1 5.5l6.5 1.6zM544.2 787.4l-6.2 -.2l-6.8 4.9l6.1 .2zM551.9 774l-6.1 .2l-6.8 4.7l6.1 -.1zM592.7 727.9l-6 1l-6.4 4.4l5.9 -1.1zM611.7 711l-5.9 1.4l-6.3 4.2l5.9 -1.4z"/><path fill=#96b6d9 stroke=#96b6d9 d="M829.2 951.6l-7.8 -5.8l-7.1 7.2l7.8 5.9zM567.9 891.9l-6.9 -2.9l-7.3 6.1l6.8 2.9zM536.4 864.5l-6.5 -2l-7.3 5.7l6.6 2zM525.7 840.9l-6.4 -1.4l-7.1 5.4l6.4 1.5zM546 774.3l-6.1 .3l-6.8 4.7l6.1 -.2zM580.3 735.9l-5.9 1l-6.5 4.4l5.9 -1zM599.6 718.7l-5.9 1.4l-6.4 4.2l5.9 -1.4z"/><path fill=#99b8da stroke=#99b8da d="M822.4 958.6l-7.9 -5.9l-7.1 7.3l7.8 5.9zM786 955.8l-7.7 -5.6l-7.2 7.1l7.7 5.6zM678 939.7l-7.3 -4.6l-7.4 6.8l7.4 4.6zM649.7 933.2l-7.2 -4.3l-7.4 6.7l7.3 4.3zM614.8 923.8l-7.1 -3.9l-7.4 6.5l7.1 3.9zM547.7 892.4l-6.8 -2.8l-7.3 6l6.7 2.8zM523.1 868.1l-6.5 -2l-7.3 5.7l6.5 2zM513.4 838.6l-6.3 -1.1l-7.2 5.3l6.4 1.2zM514.1 832.7l-6.3 -1.1l-7.1 5.3l6.3 1.1zM514.8 826.9l-6.2 -.9l-7.1 5.2l6.2 .9zM515.5 821.3l-6.2 -.7l-7 5.1l6.2 .8zM525 796.5l-6.1 -.2l-6.9 4.9l6.1 .2zM567.8 744l-5.9 .9l-6.5 4.4l5.9 -.9z"/><path fill=#9cbadb stroke=#9cbadb d="M815.5 965.6l-7.8 -5.9l-7.2 7.2l7.8 6zM779.1 962.7l-7.7 -5.7l-7.2 7.2l7.7 5.7zM671 946.2l-7.4 -4.6l-7.3 6.8l7.3 4.7zM614.6 933.8l-7.2 -4l-7.3 6.6l7.1 4zM534.1 895.5l-6.7 -2.6l-7.4 6l6.7 2.7zM527.6 893.1l-6.7 -2.6l-7.4 6l6.7 2.6zM509.8 871.6l-6.5 -1.9l-7.3 5.7l6.5 1.9zM505 856.4l-6.4 -1.5l-7.2 5.5l6.4 1.5zM511 810.5l-6.1 -.3l-7 4.9l6.1 .4zM519.1 796.5l-6 -.1l-6.9 4.9l6 .1zM527.1 783.5l-6 .2l-6.8 4.7l6 -.2zM534.3 775.2l-6 .4l-6.8 4.6l6 -.3zM548.3 759.5l-5.9 .8l-6.6 4.4l5.9 -.6zM555.3 752.2l-6 .8l-6.6 4.5l6 -.9z"/><path fill=#c2d4e6 stroke=#c2d4e6 d="M730.7 1052.2l-7.8 -6.6l-7.5 7.6l7.8 6.7zM678.9 1049.2l-7.7 -6.3l-7.5 7.5l7.6 6.3zM642.1 1045.8l-7.6 -6l-7.6 7.4l7.5 6zM370.4 915.1l-6.1 -1.3l-7.6 5.5l6.1 1.4zM371.8 908.8l-6 -1.2l-7.6 5.5l6 1.2zM373.2 902.7l-6 -1l-7.5 5.3l5.9 1.1zM385.7 875.5l-5.8 -.4l-7.4 5.1l5.9 .5z"/><path fill=#c9d8e8 stroke=#c9d8e8 d="M716.2 1067.1l-7.8 -6.7l-7.5 7.7l7.8 6.8zM664.2 1063.8l-7.6 -6.4l-7.7 7.6l7.7 6.4zM627.3 1060.2l-7.6 -6.1l-7.7 7.5l7.6 6.1zM354.4 906.1l-5.9 -.9l-7.5 5.3l5.9 .9zM365.9 884.8l-5.8 -.4l-7.4 5.1l5.8 .5z"/><path fill=#ccdbe9 stroke=#ccdbe9 d="M708.9 1074.6l-7.8 -6.8l-7.6 7.7l7.8 6.9zM656.8 1071.2l-7.6 -6.5l-7.7 7.7l7.7 6.4zM619.8 1067.5l-7.5 -6.2l-7.8 7.5l7.6 6.2zM370.2 870.4l-5.7 0l-7.3 4.9l5.7 .1zM378.6 861.4l-5.7 .2l-7.2 4.8l5.7 -.1z"/><path fill=#d0ddea stroke=#d0ddea d="M701.6 1082.1l-7.8 -6.8l-7.6 7.8l7.8 6.9zM649.4 1078.6l-7.7 -6.5l-7.7 7.6l7.7 6.6zM335.8 909.7l-5.8 -.7l-7.6 5.3l5.8 .7zM356.2 879.7l-5.7 -.1l-7.3 5l5.6 .1z"/><path fill=#d3e0eb stroke=#d3e0eb d="M694.2 1089.7l-7.8 -6.9l-7.6 7.8l7.8 7zM331.7 903.8l-5.7 -.4l-7.5 5.1l5.7 .5zM342.1 889.1l-5.7 -.2l-7.4 5l5.6 .2z"/><path fill=#d7e2ec stroke=#d7e2ec d="M686.8 1097.3l-7.8 -7l-7.7 7.9l7.8 7zM671.8 1098.1l-7.7 -6.8l-7.7 7.8l7.7 6.9zM317.3 913.6l-5.7 -.5l-7.6 5.2l5.7 .6zM327.8 898.5l-5.6 -.2l-7.5 5.1l5.6 .2z"/><path fill=#dae4ed stroke=#dae4ed d="M679.4 1104.9l-7.8 -7l-7.7 7.9l7.8 7.1zM311.7 913.2l-5.6 -.4l-7.6 5.1l5.7 .5zM322.3 898.5l-5.6 -.2l-7.5 5l5.6 .2z"/><path fill=#dde7ee stroke=#dde7ee d="M671.9 1112.6l-7.8 -7.1l-7.7 7.9l7.8 7.2z"/><path fill=#3b6ab1 stroke=#3b6ab1 d="M1081.2 687.5l-7.8 -3.6l-6.1 6l7.9 3.7zM1052.9 683.3l-7.8 -3.4l-6.1 5.9l7.8 3.4zM1045.4 680.1l-7.7 -3.2l-6.1 5.9l7.7 3.2zM1038 677.1l-7.7 -3.1l-6 5.8l7.6 3.2zM965.5 653.1l-7.4 -2l-6.1 5.4l7.4 2zM958.4 651.3l-7.4 -1.9l-6 5.3l7.3 1.9zM951.3 649.5l-7.3 -1.8l-6.1 5.4l7.3 1.8zM943.1 641.5l-7.2 -1.5l-6.1 5.2l7.3 1.5zM936.2 640.1l-7.3 -1.4l-6 5.2l7.2 1.4z"/><path fill=#4171b4 stroke=#4171b4 d="M1057.6 710.7l-7.8 -3.8l-6.1 6.1l7.8 3.9zM1021.8 702.7l-7.7 -3.4l-6.2 6l7.7 3.4zM971.7 690.7l-7.5 -2.8l-6.2 5.7l7.5 2.8zM964.5 688.1l-7.5 -2.7l-6.2 5.7l7.5 2.7zM957.3 685.6l-7.5 -2.5l-6.1 5.6l7.4 2.6zM950.1 683.3l-7.4 -2.5l-6.2 5.6l7.4 2.5zM913.7 666.4l-7.3 -1.8l-6.1 5.3l7.2 1.8zM882.4 638l-7 -.8l-6.1 5l7 .8z"/><path fill=#638fc5 stroke=#638fc5 d="M947 820.4l-7.8 -4.7l-6.6 6.6l7.8 4.7zM833.1 797.7l-7.4 -3.5l-6.7 6.1l7.4 3.5zM763.1 770.1l-7.1 -2.3l-6.7 5.6l7.1 2.4zM742.3 756.9l-6.9 -1.8l-6.6 5.5l6.9 1.9zM735.4 748.6l-6.9 -1.6l-6.6 5.3l6.8 1.7zM728.5 740.8l-6.9 -1.3l-6.5 5.2l6.8 1.4zM721.5 727.9l-6.8 -1l-6.5 5.1l6.7 1zM720 693l-6.5 0l-6.3 4.7l6.5 0z"/><path fill=#729ccc stroke=#729ccc d="M901.9 865.4l-7.8 -5l-6.8 6.8l7.8 5.1zM858.9 859.6l-7.7 -4.7l-6.8 6.6l7.6 4.7zM809 850.8l-7.5 -4.1l-6.9 6.4l7.5 4.2zM683.8 804.7l-6.9 -2.2l-6.9 5.7l6.9 2.3zM670.4 793.6l-6.8 -1.9l-6.8 5.5l6.8 1.9zM651.4 753l-6.6 -.8l-6.6 5.1l6.5 .8zM651.5 747.7l-6.5 -.6l-6.7 5l6.5 .6zM670.7 700l-6.3 .5l-6.3 4.5l6.3 -.5zM711.9 655.6l-6.1 1.5l-6 4l6.1 -1.4z"/><path fill=#7ba2cf stroke=#7ba2cf d="M882.2 885.2l-7.8 -5.2l-6.9 6.8l7.8 5.3zM817.6 876.2l-7.6 -4.7l-6.9 6.7l7.6 4.7zM767.8 867.7l-7.4 -4.2l-7 6.5l7.5 4.2zM732.6 858.7l-7.3 -3.6l-7 6.2l7.3 3.8zM725.6 855.3l-7.3 -3.6l-7 6.2l7.3 3.7zM663.8 829l-7 -2.6l-6.9 5.9l6.9 2.6zM643.9 814.8l-6.8 -2.1l-7 5.7l6.8 2.1zM631.1 797.6l-6.6 -1.6l-6.9 5.4l6.7 1.6zM625.1 783.8l-6.5 -1.2l-6.9 5.3l6.6 1.2zM626.6 746.6l-6.3 -.2l-6.7 4.9l6.4 .2zM676.9 678.3l-6.1 1.3l-6.2 4.2l6.1 -1.3zM705.8 653.5l-6 1.8l-6 3.9l6.1 -1.7z"/><path fill=#7ea4d0 stroke=#7ea4d0 d="M875.6 891.8l-7.8 -5.2l-6.9 6.9l7.8 5.3zM612.5 781.9l-6.5 -1l-6.8 5.2l6.5 1zM620.7 742.2l-6.3 0l-6.6 4.8l6.3 0zM627.5 729.6l-6.2 .4l-6.6 4.6l6.3 -.3zM694.3 660.7l-6 1.8l-6 4l6 -1.8z"/><path fill=#83a8d3 stroke=#83a8d3 d="M862.2 905.2l-7.7 -5.4l-7 7l7.8 5.4zM754.7 890.6l-7.4 -4.4l-7.1 6.6l7.5 4.5zM684.4 872.4l-7.1 -3.5l-7.1 6.2l7.1 3.6zM677.5 869.1l-7.1 -3.5l-7.1 6.3l7.1 3.4zM670.6 865.8l-7.1 -3.3l-7.1 6.2l7.1 3.4zM650.1 856.9l-7 -3l-7 6l6.9 3zM643.4 854.1l-7 -2.9l-7.1 6l7 2.9zM636.7 851.4l-7 -2.7l-7.1 5.9l7 2.8zM616.9 836.4l-6.8 -2.2l-7 5.7l6.8 2.3zM592.7 796.6l-6.5 -1l-6.9 5.2l6.5 1.1zM594.5 769.6l-6.3 -.4l-6.8 4.9l6.3 .5zM602 751.2l-6.3 .1l-6.6 4.7l6.2 0zM615.5 730.7l-6.2 .5l-6.5 4.5l6.2 -.4zM634.7 708.4l-6.1 1l-6.3 4.4l6.1 -1zM641 701.6l-6.1 1.1l-6.3 4.3l6.1 -1.1zM659.2 685.1l-6 1.4l-6.2 4.1l6 -1.4z"/><path fill=#aac3df stroke=#aac3df d="M773.1 995.1l-7.8 -6l-7.3 7.3l7.8 6.1zM678.4 985.7l-7.5 -5.3l-7.4 7l7.5 5.4zM656.7 982.3l-7.4 -5.1l-7.4 7l7.4 5.2zM578.6 965.7l-7.1 -4.3l-7.6 6.6l7.2 4.4zM537.2 952.6l-6.9 -3.7l-7.6 6.4l7 3.8zM497.5 933.1l-6.7 -3.1l-7.6 6.2l6.8 3.1zM467.2 904.4l-6.4 -2.2l-7.5 5.8l6.5 2.2zM461.9 895.1l-6.4 -1.9l-7.4 5.7l6.4 1.9zM457.7 879.7l-6.3 -1.5l-7.4 5.5l6.3 1.6zM464.5 838.6l-6.1 -.5l-7.1 5.1l6 .5zM518.4 770.6l-5.8 .9l-6.7 4.4l5.8 -.8z"/><path fill=#b3cae1 stroke=#b3cae1 d="M751.9 1016.7l-7.8 -6.3l-7.4 7.5l7.8 6.3zM715.1 1013.2l-7.6 -6l-7.5 7.3l7.7 6.1zM591.9 996.6l-7.2 -4.9l-7.6 6.9l7.2 5zM535.6 983.2l-7.1 -4.3l-7.6 6.7l7 4.3zM424.2 892.7l-6.1 -1.4l-7.5 5.5l6.2 1.5zM429.9 862.8l-6 -.7l-7.3 5.2l6 .7zM440.1 842.6l-5.9 -.3l-7.2 5l6 .3zM456.8 820l-5.8 .2l-7 4.8l5.8 -.2zM464.5 811.6l-5.8 .3l-7 4.7l5.9 -.3zM472.1 803.4l-5.8 .6l-6.9 4.6l5.8 -.5zM479.6 795.6l-5.7 .7l-6.9 4.6l5.8 -.7z"/><path fill=#d0deea stroke=#d0deea d="M686.7 1083l-7.8 -6.7l-7.6 7.7l7.7 6.8zM634.5 1079.7l-7.6 -6.4l-7.7 7.6l7.6 6.5zM337.4 904.3l-5.8 -.6l-7.5 5.2l5.7 .6zM347.6 889.2l-5.7 -.3l-7.4 5.1l5.7 .3z"/><path fill=#3b6ab0 stroke=#3b6ab0 d="M1073.7 684.1l-7.8 -3.5l-6.1 6l7.8 3.5z"/><path fill=#4f7fbd stroke=#4f7fbd d="M995.7 760.4l-7.7 -4.1l-6.4 6.3l7.8 4.2zM938.9 750.3l-7.6 -3.6l-6.4 6.1l7.5 3.6zM839.2 714l-7.1 -2l-6.4 5.5l7.1 2zM824.8 703.9l-7 -1.6l-6.4 5.3l7 1.7zM817.4 696.2l-7 -1.3l-6.3 5.2l6.9 1.4zM809.5 683.4l-6.9 -1l-6.3 5.1l6.9 1zM801.2 667.1l-6.8 -.5l-6.2 4.9l6.7 .5zM800.6 662.3l-6.7 -.3l-6.2 4.7l6.7 .4zM800.1 657.7l-6.8 -.2l-6.1 4.7l6.7 .3zM803.7 637l-6.6 .3l-6 4.5l6.6 -.3z"/><path fill=#5383be stroke=#5383be d="M983.4 772.6l-7.8 -4.3l-6.4 6.4l7.8 4.3zM926.4 761.9l-7.6 -3.6l-6.4 6.1l7.6 3.7zM876.8 748.8l-7.4 -3l-6.5 5.9l7.4 3zM869.6 746l-7.3 -2.9l-6.5 5.8l7.3 3zM862.5 743.3l-7.3 -2.7l-6.5 5.7l7.3 2.8zM855.5 740.8l-7.3 -2.7l-6.5 5.8l7.3 2.6zM819.9 722.5l-7.1 -1.9l-6.4 5.4l7.1 2zM805.7 712.5l-7 -1.6l-6.4 5.3l7 1.7zM798.4 704.8l-7 -1.3l-6.3 5.2l6.9 1.4zM791.1 638.1l-6.6 .5l-6 4.4l6.6 -.5z"/><path fill=#6e99cb stroke=#6e99cb d="M900.9 854.1l-7.8 -4.8l-6.7 6.7l7.7 4.9zM879.4 851.3l-7.7 -4.7l-6.8 6.6l7.7 4.8zM745 819.5l-7.2 -3.1l-6.8 6l7.1 3.2zM738.1 816.6l-7.2 -3l-6.9 6l7.2 3zM731.2 813.8l-7.2 -2.9l-6.8 5.9l7.1 3zM683.6 783.1l-6.9 -1.8l-6.7 5.5l6.8 1.8zM677 774.8l-6.8 -1.5l-6.8 5.4l6.8 1.5z"/><path fill=#81a7d2 stroke=#81a7d2 d="M854.7 900l-7.7 -5.2l-7 6.9l7.8 5.3zM833.1 896.7l-7.7 -5l-7 6.8l7.7 5.1zM811.5 893.7l-7.6 -4.9l-7 6.8l7.7 4.9zM790.1 890.9l-7.6 -4.6l-7 6.7l7.6 4.7zM733.2 878.4l-7.3 -4l-7.1 6.4l7.4 4.1zM698.2 869.8l-7.2 -3.6l-7.1 6.3l7.3 3.7zM691.3 866.4l-7.2 -3.5l-7.1 6.3l7.2 3.5zM643.5 845.8l-6.9 -2.7l-7.1 5.9l6.9 2.7zM623.7 831l-6.8 -2.2l-7 5.7l6.8 2.3zM599.3 791.7l-6.5 -1l-6.8 5.2l6.4 1.1zM599.6 785.9l-6.4 -.9l-6.9 5.2l6.5 1zM600 780.4l-6.5 -.8l-6.8 5.1l6.4 .8zM600.3 775.1l-6.4 -.7l-6.8 5.1l6.4 .6zM600.6 769.9l-6.3 -.5l-6.8 5l6.4 .5zM628.2 718.8l-6.2 .7l-6.4 4.5l6.1 -.7zM634.5 711.5l-6.1 .8l-6.4 4.4l6.1 -.8zM659.1 687.4l-6 1.3l-6.2 4.2l6 -1.3z"/><path fill=#bdd1e4 stroke=#bdd1e4 d="M715.7 1039.6l-7.8 -6.4l-7.5 7.5l7.8 6.5zM642.1 1032.9l-7.5 -5.8l-7.6 7.3l7.5 5.9zM391.6 935.2l-6.2 -2l-7.7 5.8l6.3 2.1zM388.2 919.2l-6.2 -1.7l-7.6 5.7l6.2 1.6zM397.2 876.4l-5.9 -.7l-7.4 5.2l6 .7zM416.1 847.1l-5.8 0l-7.2 4.9l5.8 .1z"/><path fill=#3a69b0 stroke=#3a69b0 d="M1066.2 680.8l-7.8 -3.4l-6 5.9l7.7 3.5zM1058.7 677.6l-7.7 -3.2l-6.1 5.8l7.8 3.3zM1023.3 671.4l-7.6 -2.8l-6.1 5.7l7.6 2.9zM1015.9 668.8l-7.5 -2.8l-6.1 5.7l7.6 2.8zM1008.6 666.2l-7.5 -2.6l-6.1 5.6l7.6 2.7zM1001.4 663.7l-7.6 -2.5l-6 5.6l7.5 2.6zM994.1 661.4l-7.5 -2.4l-6 5.5l7.5 2.5zM986.9 659.2l-7.4 -2.4l-6.1 5.5l7.4 2.4zM979.7 657l-7.4 -2.2l-6.1 5.5l7.5 2.2zM964.2 646.2l-7.3 -1.9l-6.1 5.4l7.4 1.9zM957.2 644.5l-7.3 -1.7l-6.1 5.3l7.3 1.7zM950.1 643l-7.2 -1.7l-6.1 5.3l7.3 1.6z"/><path fill=#5484bf stroke=#5484bf d="M969.7 774.6l-7.8 -4.1l-6.4 6.3l7.8 4.2zM820.6 729.6l-7.1 -2.1l-6.5 5.5l7.1 2.2z"/><path fill=#7aa2cf stroke=#7aa2cf d="M860.5 881.9l-7.7 -5.1l-6.9 6.8l7.8 5.1zM839 878.9l-7.6 -4.9l-6.9 6.8l7.6 4.8zM637.5 805.9l-6.8 -1.8l-6.9 5.5l6.8 1.9zM639.9 721.1l-6.2 .4l-6.5 4.5l6.3 -.3z"/><path fill=#85aad3 stroke=#85aad3 d="M833.8 908.3l-7.7 -5.2l-7 6.9l7.7 5.3zM812.2 905l-7.7 -5l-7 6.8l7.7 5.1zM790.7 902l-7.6 -4.8l-7.1 6.7l7.6 4.9zM769.2 899.3l-7.5 -4.6l-7.1 6.7l7.6 4.7zM740.7 892.7l-7.4 -4.3l-7.1 6.6l7.4 4.4zM712.5 886.9l-7.3 -4l-7.1 6.5l7.3 4zM663.8 871.8l-7.1 -3.4l-7.2 6.2l7.1 3.4zM656.9 868.6l-7.1 -3.2l-7.1 6.1l7.1 3.3zM650.1 865.6l-7 -3.2l-7.2 6.1l7.1 3.2zM643.3 862.6l-7 -3l-7.1 6.1l7 3zM636.5 859.8l-6.9 -2.9l-7.1 6l6.9 3zM610.1 841.9l-6.8 -2.3l-7 5.8l6.7 2.3zM586 801.6l-6.4 -1.1l-7 5.3l6.5 1.1zM588 774.2l-6.3 -.4l-6.8 5l6.3 .4zM588.4 769.3l-6.3 -.2l-6.8 4.9l6.3 .3zM602.6 743l-6.2 .3l-6.5 4.7l6.1 -.3zM641.2 699l-6.1 1.2l-6.2 4.2l6 -1.2zM671.1 673.5l-6 1.8l-6 4l5.9 -1.7z"/><path fill=#88acd4 stroke=#88acd4 d="M827.1 915l-7.8 -5.3l-7 7l7.8 5.3zM805.4 911.6l-7.6 -5.1l-7.1 6.9l7.7 5.1zM783.9 908.5l-7.6 -4.8l-7.1 6.8l7.6 4.9zM762.4 905.8l-7.5 -4.7l-7.1 6.7l7.5 4.8zM705.6 893.1l-7.3 -4l-7.1 6.5l7.3 4.1zM670.7 884.5l-7.2 -3.7l-7.1 6.4l7.1 3.6zM663.8 881l-7.2 -3.5l-7.1 6.3l7.1 3.6zM656.9 877.7l-7.1 -3.4l-7.2 6.2l7.1 3.5zM629.7 865.6l-7 -3l-7.1 6.1l6.9 3zM622.9 862.8l-6.9 -2.8l-7.1 6l6.9 2.9zM616.3 860.2l-6.9 -2.7l-7.2 5.9l6.9 2.8zM596.7 845.3l-6.7 -2.3l-7.1 5.8l6.7 2.3zM578.5 819.1l-6.5 -1.5l-7 5.5l6.5 1.5zM573.6 799.8l-6.4 -.9l-7 5.2l6.4 .9zM574 794.2l-6.4 -.8l-6.8 5.1l6.3 .9zM574.5 788.8l-6.4 -.6l-6.8 5l6.3 .7zM582.7 764.7l-6.2 -.1l-6.7 4.8l6.2 .1zM596.7 743.5l-6.2 .4l-6.6 4.6l6.2 -.4zM622.7 713.6l-6 1l-6.4 4.3l6.1 -1zM629.1 706.8l-6 1.2l-6.4 4.2l6.1 -1.1zM659.4 680.9l-5.9 1.7l-6.2 4l6 -1.7z"/><path fill=#8baed5 stroke=#8baed5 d="M820.3 921.7l-7.7 -5.3l-7.1 7l7.8 5.3zM798.6 918.3l-7.6 -5.2l-7.1 6.9l7.6 5.2zM755.6 912.3l-7.6 -4.8l-7.1 6.8l7.5 4.8zM663.8 890.5l-7.2 -3.6l-7.2 6.3l7.2 3.7zM602.7 863.3l-6.8 -2.6l-7.2 5.9l6.9 2.7zM583.4 848.7l-6.7 -2.2l-7.2 5.7l6.7 2.2zM577.3 839.5l-6.6 -1.9l-7.1 5.6l6.6 1.9zM571.4 830.9l-6.6 -1.7l-7.1 5.5l6.6 1.7zM566 816.6l-6.5 -1.2l-7 5.3l6.4 1.3zM568.8 783.3l-6.3 -.5l-6.8 5l6.3 .5zM576.7 764.7l-6.2 .1l-6.7 4.8l6.2 0zM584 752.1l-6.2 .3l-6.6 4.7l6.1 -.3zM590.7 744l-6.1 .5l-6.6 4.6l6.1 -.5zM610.5 721.6l-6.1 .9l-6.4 4.4l6.1 -.9zM647.6 688.3l-5.9 1.6l-6.2 4.1l5.9 -1.6z"/><path fill=#8eb0d6 stroke=#8eb0d6 d="M813.5 928.5l-7.7 -5.4l-7.1 7l7.7 5.4zM698.9 909.7l-7.4 -4.2l-7.2 6.5l7.4 4.4zM564.1 843l-6.6 -1.8l-7.1 5.6l6.5 1.9zM554.6 803.2l-6.4 -.7l-6.9 5.1l6.3 .8zM598.1 729.7l-6 .9l-6.5 4.4l6 -.8z"/><path fill=#90b2d8 stroke=#90b2d8 d="M806.7 935.2l-7.8 -5.4l-7 7l7.7 5.5zM663.8 910.3l-7.2 -4l-7.3 6.5l7.2 4zM545.6 831.9l-6.4 -1.4l-7.1 5.4l6.4 1.4zM557.8 773.8l-6.1 .1l-6.8 4.8l6.1 0zM579 745.4l-6.1 .6l-6.6 4.5l6.1 -.6z"/><path fill=#a8c3df stroke=#a8c3df d="M751.1 990.6l-7.8 -5.9l-7.3 7.3l7.7 5.9zM692.8 984l-7.5 -5.4l-7.4 7.2l7.5 5.4zM649.6 977.4l-7.4 -5l-7.5 7l7.4 5zM599.8 967.7l-7.2 -4.5l-7.6 6.7l7.2 4.6zM468.1 896.9l-6.4 -2l-7.4 5.7l6.4 2.1zM472.2 828.8l-6 -.3l-7.1 5l6 .4zM480.8 814.8l-6 0l-7 4.9l6 0z"/><path fill=#acc5df stroke=#acc5df d="M744 997.6l-7.7 -5.9l-7.4 7.3l7.7 6zM620.9 981.3l-7.3 -4.9l-7.6 6.9l7.4 4.9zM564.4 968l-7.1 -4.3l-7.5 6.7l7.1 4.3zM471.7 922.4l-6.5 -2.6l-7.5 6l6.5 2.6zM450.6 885l-6.3 -1.6l-7.4 5.6l6.3 1.6z"/><path fill=#4373b5 stroke=#4373b5 d="M1023.2 711.8l-7.7 -3.6l-6.2 6l7.7 3.6zM980.3 701.7l-7.6 -3.1l-6.2 5.9l7.6 3zM868.1 632l-6.9 -.5l-6 4.8l6.9 .5z"/><path fill=#4d7cbb stroke=#4d7cbb d="M986.9 746.8l-7.7 -3.8l-6.4 6.1l7.8 3.9zM816.5 636.2l-6.6 .2l-6.1 4.5l6.7 -.1z"/><path fill=#5886c0 stroke=#5886c0 d="M949.8 782.8l-7.8 -4.2l-6.5 6.4l7.8 4.2zM921.3 777.3l-7.7 -3.8l-6.5 6.2l7.6 3.9zM815 742.3l-7.2 -2.3l-6.5 5.6l7.2 2.3zM793.8 729.3l-7 -1.8l-6.5 5.4l7 1.9zM772.3 706.5l-6.9 -1.1l-6.4 5.1l6.8 1.1z"/><path fill=#5a88c1 stroke=#5a88c1 d="M943.5 788.9l-7.7 -4.2l-6.5 6.3l7.7 4.3zM915 783.3l-7.7 -3.9l-6.5 6.2l7.6 4zM879.5 775.1l-7.5 -3.4l-6.6 6l7.5 3.5zM801.8 745.5l-7.2 -2.3l-6.5 5.6l7.1 2.3zM780.8 732.8l-7 -1.7l-6.5 5.4l7 1.8zM773.6 724.7l-7 -1.5l-6.4 5.3l6.9 1.6zM766.5 717.3l-6.9 -1.3l-6.5 5.2l6.9 1.3zM759.1 704.8l-6.8 -.9l-6.4 5l6.8 1zM758.7 699.4l-6.7 -.8l-6.4 5l6.7 .8zM757.3 679.7l-6.7 -.2l-6.2 4.8l6.6 .2zM756.9 675.3l-6.6 -.1l-6.2 4.7l6.6 .1zM761.8 658.9l-6.6 .3l-6.1 4.5l6.5 -.3zM772.3 640.4l-6.4 .8l-6 4.3l6.4 -.8z"/><path fill=#5c8ac2 stroke=#5c8ac2 d="M937.2 795l-7.7 -4.2l-6.6 6.3l7.7 4.3zM880.4 784.4l-7.6 -3.7l-6.5 6.2l7.5 3.7zM781.7 746.7l-7 -2l-6.6 5.5l7.1 2.1zM760.6 728.4l-6.9 -1.4l-6.5 5.2l6.9 1.5zM753.3 715.2l-6.8 -1.1l-6.5 5.2l6.8 1.1zM750.2 671.2l-6.5 .2l-6.2 4.6l6.5 -.1zM755.5 659.4l-6.5 .4l-6.1 4.5l6.5 -.4zM766.1 641.3l-6.4 .9l-6 4.3l6.4 -.9z"/><path fill=#7ea5d1 stroke=#7ea5d1 d="M839.8 890.1l-7.7 -5l-6.9 6.8l7.6 5.1zM818.3 887.2l-7.7 -4.8l-6.9 6.7l7.6 4.8zM684.3 854.1l-7.2 -3.2l-7 6.1l7.1 3.3zM677.4 851.1l-7.1 -3.1l-7 6.1l7 3.1zM670.6 848.2l-7.1 -3l-7 6l7 3zM637.1 827.7l-6.9 -2.3l-7 5.7l6.9 2.3zM611.9 793.7l-6.5 -1.2l-6.9 5.3l6.6 1.3zM621 738l-6.3 .1l-6.5 4.7l6.2 -.1zM634.1 718.1l-6.2 .6l-6.4 4.5l6.2 -.6zM646.7 703.4l-6.1 .9l-6.3 4.3l6.1 -.8zM671 679.7l-6.1 1.4l-6.1 4.2l6 -1.4z"/><path fill=#b0c7e1 stroke=#b0c7e1 d="M722.3 1006l-7.7 -5.9l-7.4 7.4l7.7 5.9zM664 999.4l-7.5 -5.4l-7.5 7.2l7.5 5.4zM642.3 995.9l-7.4 -5.2l-7.5 7.1l7.4 5.3zM620.7 992.8l-7.3 -5.1l-7.6 7l7.4 5.1zM536.1 972.7l-7 -4.1l-7.6 6.7l7 4.1zM463.6 936.5l-6.6 -2.8l-7.6 6.1l6.6 2.8zM470.2 811.1l-5.8 .3l-7 4.7l5.9 -.2zM485.3 794.9l-5.8 .6l-6.9 4.6l5.8 -.6z"/><path fill=#3969b0 stroke=#3969b0 d="M1051.3 674.6l-7.7 -3.2l-6.1 5.8l7.7 3.2z"/><path fill=#406fb3 stroke=#406fb3 d="M1027.7 697l-7.7 -3.3l-6.2 5.9l7.7 3.4zM926.6 663l-7.3 -1.8l-6.1 5.3l7.3 1.9zM903.7 646.2l-7.1 -1.2l-6.1 5.1l7.1 1.2z"/><path fill=#4e7dbc stroke=#4e7dbc d="M973.3 749l-7.7 -3.7l-6.3 6.1l7.7 3.8zM937.7 741.2l-7.5 -3.4l-6.4 6l7.5 3.4zM830.3 692.5l-7.1 -1.4l-6.3 5.3l7 1.4zM822.8 685.3l-6.9 -1.2l-6.3 5.2l6.9 1.2z"/><path fill=#6390c6 stroke=#6390c6 d="M904.3 815.5l-7.7 -4.3l-6.6 6.4l7.7 4.4zM847.5 804.5l-7.5 -3.7l-6.7 6.3l7.5 3.7zM749.4 765.9l-7 -2.1l-6.7 5.6l7.1 2.2zM735.6 755.3l-6.9 -1.8l-6.6 5.4l6.9 1.8zM728.7 747.2l-6.8 -1.6l-6.6 5.4l6.8 1.5zM714.6 716.4l-6.6 -.6l-6.5 5l6.6 .6zM714.4 711.4l-6.6 -.5l-6.4 4.9l6.6 .5zM731 665.5l-6.4 .7l-6.2 4.4l6.4 -.7z"/><path fill=#6793c8 stroke=#6793c8 d="M891.5 828l-7.7 -4.5l-6.7 6.5l7.7 4.5zM834.6 816.5l-7.5 -3.8l-6.8 6.3l7.5 3.8zM792.3 805.5l-7.3 -3.3l-6.8 6.1l7.4 3.3zM785.3 802.4l-7.3 -3.1l-6.8 6l7.3 3.2zM757.4 791.3l-7.2 -2.7l-6.7 5.9l7.1 2.7zM716.1 764l-6.8 -1.8l-6.7 5.5l6.9 1.8zM709.3 755.9l-6.8 -1.5l-6.6 5.3l6.8 1.6z"/><path fill=#82a8d2 stroke=#82a8d2 d="M818.9 898.4l-7.6 -5l-7 6.9l7.6 5z"/><path fill=#c3d5e6 stroke=#c3d5e6 d="M664.2 1050.4l-7.7 -6.2l-7.6 7.5l7.7 6.2zM387.1 870.5l-5.8 -.3l-7.3 5.1l5.8 .3zM404.9 847.5l-5.8 .2l-7.1 4.8l5.7 -.1zM412.9 839l-5.7 .3l-7.1 4.8l5.7 -.4z"/><path fill=#3968b0 stroke=#3968b0 d="M1043.9 671.6l-7.7 -3.1l-6.1 5.8l7.7 3.1zM1036.5 668.7l-7.7 -2.9l-6 5.7l7.6 3zM985.6 651.8l-7.4 -2.1l-6.1 5.4l7.4 2.2zM978.5 649.9l-7.5 -2.1l-6 5.4l7.4 2.1zM971.3 648l-7.4 -2l-6 5.4l7.4 2z"/><path fill=#5e8cc3 stroke=#5e8cc3 d="M909.7 799.2l-7.7 -4.1l-6.6 6.3l7.7 4.2zM831.7 779.8l-7.4 -3.1l-6.6 5.9l7.4 3.2zM796.6 766.2l-7.2 -2.6l-6.7 5.8l7.2 2.6zM768.6 750.1l-7 -2l-6.6 5.5l7 2.1zM760 642.3l-6.4 1l-6 4.3l6.4 -1z"/><path fill=#6491c6 stroke=#6491c6 d="M890.5 817.6l-7.6 -4.3l-6.7 6.5l7.6 4.2zM826.7 803.5l-7.5 -3.5l-6.7 6.2l7.4 3.5z"/><path fill=#86abd4 stroke=#86abd4 d="M798 906.8l-7.6 -5l-7 6.8l7.6 5zM616.5 852.1l-6.9 -2.6l-7.1 5.9l6.9 2.6zM580.2 794.9l-6.4 -.9l-6.9 5.2l6.4 .9zM580.6 789.4l-6.4 -.8l-6.8 5.1l6.4 .8z"/><path fill=#9dbbdb stroke=#9dbbdb d="M742.9 960.3l-7.7 -5.4l-7.2 7.1l7.6 5.4zM621.5 937.8l-7.2 -4.2l-7.3 6.6l7.1 4.2zM566.6 918.6l-7 -3.4l-7.4 6.3l7 3.4zM559.9 915.4l-6.9 -3.2l-7.4 6.2l6.9 3.3zM504.3 863l-6.4 -1.6l-7.3 5.6l6.4 1.6zM501.2 836.8l-6.3 -1l-7.1 5.3l6.3 1zM519.8 792.1l-6 .1l-6.9 4.8l6.1 -.1z"/><path fill=#3a6ab0 stroke=#3a6ab0 d="M1030.6 674.2l-7.6 -3l-6.1 5.8l7.6 3zM972.6 655l-7.4 -2.1l-6.1 5.4l7.4 2.2z"/><path fill=#4a79b9 stroke=#4a79b9 d="M970.8 730.5l-7.6 -3.5l-6.4 6l7.7 3.5zM848.4 677.8l-7 -1.3l-6.3 5.2l7.1 1.3zM840.2 665.3l-6.9 -.9l-6.2 5l6.9 .9z"/><path fill=#6c96ca stroke=#6c96ca d="M857.2 838.3l-7.6 -4.4l-6.8 6.5l7.6 4.4zM828.8 832.4l-7.5 -4l-6.8 6.3l7.5 4.1zM793.4 823.8l-7.3 -3.6l-6.9 6.2l7.4 3.7zM717 792.8l-7 -2.4l-6.8 5.7l7 2.4zM683.3 757.2l-6.7 -1.2l-6.6 5.2l6.7 1.3zM695 686.8l-6.4 .6l-6.2 4.5l6.3 -.6zM718.2 658.8l-6.2 1.2l-6.1 4.2l6.2 -1.2z"/><path fill=#92b4d8 stroke=#92b4d8 d="M756.4 935l-7.6 -5.1l-7.2 6.9l7.6 5.2zM538.8 837l-6.4 -1.4l-7.2 5.4l6.5 1.5zM558.9 765.6l-6.1 .3l-6.7 4.6l6.1 -.2z"/><path fill=#a4c0dd stroke=#a4c0dd d="M714.4 975.6l-7.6 -5.4l-7.3 7.1l7.5 5.4zM671.1 968.9l-7.5 -5l-7.4 6.9l7.5 5.1zM593.1 952.8l-7.2 -4.2l-7.4 6.7l7.1 4.2zM499.8 907.7l-6.7 -2.6l-7.4 6l6.6 2.6zM487.8 895.4l-6.5 -2.2l-7.4 5.8l6.5 2.2zM482.4 886l-6.5 -1.9l-7.3 5.7l6.4 2zM484.9 824.4l-6.1 -.4l-7 5l6 .4zM508.9 788.7l-5.9 .4l-6.8 4.7l5.9 -.4zM516.2 780.7l-5.9 .5l-6.8 4.6l5.9 -.5zM523.4 772.9l-5.9 .7l-6.7 4.5l5.9 -.6z"/><path fill=#c6d6e6 stroke=#c6d6e6 d="M634.7 1053l-7.6 -6.1l-7.6 7.5l7.5 6.1zM389.8 861.1l-5.8 -.1l-7.2 5l5.7 0z"/><path fill=#3968af stroke=#3968af d="M1029.1 666l-7.6 -2.8l-6 5.7l7.6 2.8zM1021.8 663.4l-7.6 -2.7l-6 5.6l7.5 2.8zM1014.5 660.8l-7.6 -2.6l-6 5.7l7.5 2.6zM1007.2 658.4l-7.5 -2.5l-6.1 5.6l7.6 2.5zM1000 656.1l-7.5 -2.4l-6.1 5.6l7.5 2.4zM992.8 653.9l-7.5 -2.2l-6 5.4l7.4 2.4z"/><path fill=#5181be stroke=#5181be d="M932.7 756.1l-7.6 -3.6l-6.5 6.1l7.6 3.6zM883 743.2l-7.4 -3l-6.5 5.9l7.4 3zM875.9 740.4l-7.4 -2.8l-6.5 5.8l7.4 2.9zM868.8 737.8l-7.4 -2.7l-6.4 5.8l7.3 2.7zM861.7 735.3l-7.3 -2.6l-6.5 5.7l7.3 2.7zM826.2 717.3l-7.2 -1.9l-6.4 5.5l7.1 1.9zM796.2 681.9l-6.8 -.8l-6.3 5l6.8 .8zM793.1 653.4l-6.7 0l-6.1 4.6l6.7 .1zM797.4 637.5l-6.6 .4l-6 4.5l6.6 -.4z"/><path fill=#96b7da stroke=#96b7da d="M735.2 943.4l-7.6 -5.1l-7.2 7l7.5 5.1zM554.7 886.6l-6.7 -2.6l-7.4 6l6.8 2.7zM553.6 762.3l-6.1 .5l-6.6 4.6l6 -.5zM560.5 754.5l-6 .7l-6.6 4.5l5.9 -.6z"/><path fill=#99b9db stroke=#99b9db d="M728.2 950.1l-7.6 -5.1l-7.2 6.9l7.5 5.2zM706.6 947l-7.4 -4.9l-7.3 6.9l7.4 5zM656.8 937.5l-7.3 -4.5l-7.4 6.7l7.3 4.5zM517 810.8l-6.2 -.4l-7 5l6.2 .5z"/><path fill=#9fbddc stroke=#9fbddc d="M714.1 963.6l-7.5 -5.2l-7.3 7l7.5 5.3zM692.5 960.4l-7.5 -5.1l-7.3 7l7.5 5zM614.4 944.2l-7.2 -4.3l-7.4 6.7l7.2 4.2zM572.9 931.5l-7 -3.7l-7.4 6.4l6.9 3.7zM566.1 928l-6.9 -3.6l-7.5 6.4l7 3.6zM539.5 915.3l-6.9 -3.1l-7.4 6.2l6.8 3.1zM514 792.3l-6 .2l-6.9 4.8l6 -.2zM549.5 753.2l-5.9 1l-6.5 4.3l5.8 -.9z"/><path fill=#a2bfdd stroke=#a2bfdd d="M707.1 970.4l-7.6 -5.3l-7.3 7l7.5 5.4zM685.4 967.1l-7.5 -5.1l-7.3 6.9l7.4 5.2zM663.9 964.1l-7.4 -4.9l-7.4 6.9l7.4 4.9zM572.5 941.2l-7 -3.8l-7.5 6.5l7 3.9zM519.2 915.5l-6.8 -2.9l-7.4 6.1l6.7 2.9zM500.5 899.7l-6.6 -2.4l-7.4 5.9l6.6 2.4zM484.1 872.1l-6.4 -1.6l-7.3 5.5l6.4 1.7zM508.2 792.7l-6 .2l-6.8 4.7l5.9 -.2zM529.8 768.7l-5.9 .8l-6.7 4.5l5.9 -.7z"/><path fill=#abc5df stroke=#abc5df d="M685.7 990.9l-7.6 -5.4l-7.4 7.1l7.5 5.5zM457.6 843.4l-6 -.5l-7.2 5.1l6 .5z"/><path fill=#aec7e0 stroke=#aec7e0 d="M678.5 997.8l-7.5 -5.5l-7.5 7.2l7.5 5.6zM613.6 987.9l-7.3 -4.9l-7.5 7l7.3 4.9zM557.1 974.4l-7.1 -4.3l-7.6 6.7l7.1 4.3zM509.2 957.9l-6.8 -3.6l-7.6 6.4l6.8 3.7zM502.6 954.5l-6.8 -3.5l-7.6 6.4l6.8 3.5zM496 951.2l-6.8 -3.4l-7.6 6.4l6.8 3.4zM489.4 948l-6.7 -3.2l-7.6 6.3l6.7 3.3zM442.4 897.1l-6.3 -1.7l-7.4 5.6l6.3 1.8zM499.1 783l-5.8 .8l-6.7 4.5l5.8 -.8z"/><path fill=#b4cbe2 stroke=#b4cbe2 d="M664 1011.8l-7.5 -5.7l-7.5 7.3l7.5 5.7zM549.3 991.6l-7.1 -4.5l-7.7 6.8l7.1 4.6zM448.9 948.2l-6.6 -2.9l-7.7 6.1l6.6 3zM465.5 807.8l-5.8 .5l-6.9 4.6l5.8 -.5z"/><path fill=#b7cde3 stroke=#b7cde3 d="M656.8 1018.8l-7.6 -5.7l-7.5 7.3l7.5 5.7zM570.2 1005.3l-7.3 -4.9l-7.6 7l7.2 4.9zM435.1 951.3l-6.5 -2.8l-7.7 6.1l6.6 2.9zM417.1 867.1l-6 -.6l-7.3 5.1l6 .7z"/><path fill=#5785c0 stroke=#5785c0 d="M906.6 770.2l-7.6 -3.6l-6.5 6.1l7.6 3.7zM807.5 732.9l-7.1 -2l-6.5 5.5l7.1 2.1zM793.3 722.6l-7 -1.7l-6.5 5.4l7 1.7zM778.9 707.5l-6.9 -1.2l-6.4 5.2l6.9 1.2zM771 690l-6.8 -.6l-6.3 4.9l6.7 .7zM770.5 685l-6.7 -.6l-6.3 4.9l6.7 .6zM769.7 675.4l-6.7 -.3l-6.2 4.8l6.7 .3zM769.3 670.9l-6.7 -.2l-6.2 4.7l6.7 .2zM774 654.2l-6.6 .3l-6.1 4.5l6.6 -.2zM779 642.8l-6.5 .6l-6.1 4.4l6.5 -.5z"/><path fill=#5e8cc4 stroke=#5e8cc4 d="M881.3 793.8l-7.6 -3.7l-6.6 6.2l7.6 3.8zM740.5 719.1l-6.8 -1l-6.5 5.1l6.8 1.1zM743.6 667.7l-6.4 .4l-6.2 4.5l6.5 -.3zM754.5 649.3l-6.4 .8l-6.1 4.3l6.4 -.7z"/><path fill=#739ccd stroke=#739ccd d="M816.3 854.9l-7.6 -4.3l-6.8 6.5l7.5 4.4zM787.9 849.2l-7.4 -4l-6.9 6.4l7.4 4zM745.7 837.4l-7.2 -3.4l-7 6.1l7.3 3.5zM738.7 834.2l-7.2 -3.3l-6.9 6.1l7.2 3.3zM704.2 819.7l-7.1 -2.7l-6.9 5.9l7.1 2.8zM697.4 817.2l-7.1 -2.7l-6.9 5.9l7.1 2.7zM677.1 802.7l-6.9 -2.2l-6.9 5.7l6.9 2.2zM663.9 791.8l-6.8 -1.7l-6.8 5.5l6.7 1.8zM657.4 783.6l-6.7 -1.5l-6.8 5.4l6.7 1.6zM651.1 769.9l-6.6 -1.1l-6.8 5.2l6.6 1.2zM651.8 733.1l-6.4 -.2l-6.6 4.9l6.4 .2zM700.4 665.4l-6.1 1.3l-6.1 4.1l6.1 -1.3zM717.6 649.8l-6.2 1.7l-5.9 4l6.1 -1.6z"/><path fill=#a7c1de stroke=#a7c1de d="M685.5 978.9l-7.5 -5.3l-7.4 7l7.5 5.4zM663.9 975.6l-7.4 -5.1l-7.4 7l7.4 5.1zM614 965.5l-7.3 -4.5l-7.4 6.7l7.2 4.7zM531.1 939.5l-6.9 -3.4l-7.5 6.3l6.9 3.5zM524.5 936.3l-6.9 -3.4l-7.5 6.3l6.8 3.4zM470 882.7l-6.4 -1.7l-7.4 5.6l6.4 1.7zM466.6 861.8l-6.2 -1.1l-7.3 5.4l6.3 1.2zM467.6 855.8l-6.2 -1l-7.3 5.3l6.2 1.1zM468.5 850l-6.2 -.8l-7.2 5.2l6.2 .9zM479 824.1l-6 -.2l-7.1 4.9l6 .4zM487.5 810.3l-6 0l-7 4.9l6 0z"/><path fill=#b3c9e1 stroke=#b3c9e1 d="M656.8 1006.4l-7.5 -5.5l-7.6 7.1l7.5 5.6zM613.4 999.5l-7.3 -5.1l-7.6 7.1l7.3 5.1zM563.6 989.5l-7.2 -4.6l-7.6 6.8l7.2 4.6zM449.9 939.7l-6.6 -2.8l-7.6 6.1l6.5 2.8zM438.3 926.7l-6.5 -2.3l-7.5 5.9l6.4 2.4zM428.1 907.9l-6.3 -1.9l-7.5 5.7l6.3 1.9zM425.4 886.3l-6.2 -1.2l-7.4 5.4l6.2 1.3zM426.5 880.1l-6.1 -1.1l-7.4 5.4l6.1 1.2zM427.6 874.1l-6 -.9l-7.4 5.3l6.1 1zM428.8 868.4l-6.1 -.9l-7.3 5.3l6.1 .9z"/><path fill=#b6cbe2 stroke=#b6cbe2 d="M649.5 1013.3l-7.5 -5.5l-7.6 7.2l7.5 5.6zM528.2 989.6l-7.1 -4.3l-7.6 6.8l7 4.3zM436.2 942.9l-6.5 -2.7l-7.7 6.1l6.5 2.7zM419.7 920.5l-6.3 -2l-7.6 5.8l6.3 2.1zM415.9 904.7l-6.2 -1.6l-7.5 5.6l6.2 1.6z"/><path fill=#bccfe4 stroke=#bccfe4 d="M634.9 1027.3l-7.5 -5.6l-7.6 7.2l7.4 5.8zM404.3 871.5l-6 -.6l-7.3 5.2l5.9 .6zM423 842.6l-5.8 0l-7.2 4.9l5.8 0z"/><path fill=#bfd1e5 stroke=#bfd1e5 d="M627.5 1034.4l-7.5 -5.7l-7.6 7.3l7.5 5.7zM385.5 933.3l-6.2 -1.9l-7.6 5.8l6.2 1.9zM383.5 911.1l-6.1 -1.4l-7.5 5.6l6.1 1.4zM387.5 892.6l-6 -1l-7.4 5.4l6 .9zM417.3 842.8l-5.8 .1l-7.1 4.8l5.8 -.1z"/><path fill=#789fce stroke=#789fce d="M795.7 863.3l-7.5 -4.3l-6.9 6.5l7.5 4.3zM718.4 842.7l-7.2 -3.3l-7 6.2l7.2 3.3zM711.4 839.6l-7.1 -3.1l-7 6l7.1 3.3zM690.8 831l-7 -2.8l-7 5.9l7 2.9z"/><path fill=#7da3d0 stroke=#7da3d0 d="M782.3 875.9l-7.5 -4.4l-7 6.5l7.5 4.5zM753.9 869.9l-7.4 -4l-7 6.4l7.4 4.1zM718.8 861.3l-7.2 -3.7l-7 6.3l7.2 3.7zM711.8 857.8l-7.2 -3.5l-7 6.3l7.2 3.5zM663.8 837.1l-7 -2.7l-7 5.9l7 2.7zM657 834.5l-6.9 -2.6l-7 5.9l6.9 2.7zM637.2 820.2l-6.8 -2.1l-7 5.6l6.8 2.2zM630.8 811.1l-6.7 -1.8l-7 5.5l6.8 1.9zM624.5 802.7l-6.7 -1.6l-6.9 5.5l6.7 1.6zM620.5 746.6l-6.3 -.1l-6.7 4.8l6.4 .1zM627.3 733.6l-6.3 .2l-6.5 4.7l6.2 -.2zM640.3 713.9l-6.2 .6l-6.4 4.5l6.2 -.6zM646.6 706.5l-6.2 .8l-6.3 4.4l6.1 -.8zM652.8 699.4l-6.1 .9l-6.4 4.3l6.2 -.9zM676.9 675.9l-6.1 1.5l-6.1 4.1l6 -1.4zM688.6 666.3l-6.1 1.6l-6 4.1l6 -1.6z"/><path fill=#4978b9 stroke=#4978b9 d="M941.6 718.2l-7.5 -3l-6.4 5.8l7.5 3.1zM934.3 715.4l-7.4 -2.9l-6.4 5.8l7.5 2.9zM912.8 707.7l-7.4 -2.6l-6.3 5.7l7.4 2.6zM905.7 705.3l-7.3 -2.4l-6.4 5.6l7.4 2.5zM898.6 703.1l-7.3 -2.4l-6.3 5.6l7.3 2.4zM862.1 680.4l-7.1 -1.5l-6.3 5.2l7.1 1.6zM846.9 666.1l-7 -1l-6.2 5.1l7 1zM838.1 649.7l-6.9 -.5l-6.1 4.8l6.9 .5zM837.4 644.8l-6.9 -.3l-6.1 4.8l6.9 .4zM836.7 640.2l-6.8 -.2l-6.1 4.7l6.8 .3zM836 635.8l-6.8 -.1l-6 4.6l6.7 .2z"/><path fill=#5886c1 stroke=#5886c1 d="M885.8 769.3l-7.5 -3.4l-6.6 6l7.5 3.5zM808.1 740.2l-7.2 -2.2l-6.5 5.5l7.1 2.3zM764.5 689.6l-6.8 -.6l-6.3 4.9l6.7 .6zM764.1 684.6l-6.7 -.4l-6.3 4.8l6.7 .5zM763.7 679.8l-6.7 -.2l-6.3 4.7l6.7 .4zM768.1 658.4l-6.6 .3l-6.1 4.5l6.5 -.2zM773.1 646.9l-6.5 .6l-6 4.4l6.5 -.5z"/><path fill=#5684bf stroke=#5684bf d="M884.8 760.4l-7.4 -3.3l-6.5 6l7.4 3.3zM828.2 739.1l-7.2 -2.4l-6.5 5.7l7.2 2.4z"/><path fill=#8dafd6 stroke=#8dafd6 d="M720.1 911.8l-7.4 -4.4l-7.2 6.6l7.4 4.5zM691.8 905.7l-7.3 -4.2l-7.2 6.5l7.3 4.3zM656.8 896.6l-7.1 -3.7l-7.3 6.4l7.2 3.8zM649.9 893.1l-7.1 -3.6l-7.2 6.3l7.1 3.7zM602.4 871.6l-6.8 -2.8l-7.2 6l6.8 2.8zM595.8 869l-6.8 -2.7l-7.2 5.9l6.8 2.8zM570.5 844.8l-6.7 -1.9l-7.1 5.6l6.6 2zM564.5 836.1l-6.5 -1.7l-7.1 5.6l6.5 1.7zM559.2 821.7l-6.4 -1.3l-7.1 5.4l6.5 1.3zM562.7 783l-6.2 -.3l-6.8 4.9l6.2 .4zM577.6 756.5l-6.1 .2l-6.7 4.7l6.1 -.2zM610.8 718.7l-6 1.1l-6.4 4.3l6 -1.1z"/><path fill=#b7cce2 stroke=#b7cce2 d="M613.2 1011.4l-7.3 -5.3l-7.7 7.1l7.4 5.4zM500.4 984l-6.9 -4l-7.7 6.6l6.9 4.1zM441.5 954.1l-6.6 -3l-7.7 6.2l6.6 3zM418.6 928.1l-6.4 -2.2l-7.6 5.8l6.3 2.3zM411.1 896.7l-6.1 -1.4l-7.5 5.5l6.1 1.4zM412.3 890.4l-6.1 -1.2l-7.4 5.4l6.1 1.2zM413.5 884.2l-6.1 -1l-7.4 5.3l6.1 1.1zM414.7 878.3l-6.1 -.9l-7.3 5.3l6 1zM415.9 872.6l-6 -.8l-7.4 5.3l6 .8zM426.4 852l-6 -.4l-7.2 5.1l5.9 .3z"/><path fill=#5383bf stroke=#5383bf d="M883.9 751.6l-7.4 -3l-6.5 5.9l7.4 3.1zM848.4 738.3l-7.2 -2.5l-6.5 5.7l7.2 2.6zM786.2 649.6l-6.6 .2l-6.1 4.6l6.6 -.2z"/><path fill=#8eb1d7 stroke=#8eb1d7 d="M706 913.9l-7.4 -4.4l-7.2 6.7l7.4 4.4zM622.4 889.1l-7 -3.3l-7.3 6.2l7.1 3.4zM615.6 886l-7 -3.2l-7.2 6.2l7 3.2zM608.9 883l-7 -3.1l-7.2 6.1l6.9 3.2zM576.1 861.8l-6.7 -2.4l-7.2 5.8l6.7 2.5zM556.2 787.7l-6.2 -.4l-6.9 5l6.2 .4zM611.1 716l-6 1.2l-6.3 4.2l5.9 -1.1z"/><path fill=#84a8d3 stroke=#84a8d3 d="M726.4 884.6l-7.3 -4.1l-7.1 6.5l7.3 4.1zM604.1 825.3l-6.6 -1.9l-7.1 5.6l6.7 1.9zM598 816.8l-6.6 -1.7l-7 5.5l6.6 1.7zM592.3 802.7l-6.5 -1.3l-6.9 5.3l6.5 1.3zM608.9 738.7l-6.2 .3l-6.5 4.7l6.2 -.3z"/><path fill=#80a6d2 stroke=#80a6d2 d="M726.1 874.6l-7.3 -3.9l-7 6.4l7.3 3.9zM630.3 833.1l-6.8 -2.3l-7.1 5.8l6.9 2.3zM621.5 730.1l-6.2 .4l-6.5 4.6l6.2 -.4z"/><path fill=#6691c7 stroke=#6691c7 d="M798.8 799.7l-7.3 -3.2l-6.7 6l7.3 3.3zM763.9 785.8l-7.2 -2.7l-6.7 5.8l7.2 2.7zM736.2 769.3l-6.9 -2.1l-6.7 5.6l6.9 2.1zM708.8 737.6l-6.7 -1.1l-6.5 5.2l6.7 1.1zM713.4 685.1l-6.4 .3l-6.3 4.6l6.4 -.3zM724.8 666.3l-6.3 .8l-6.2 4.3l6.4 -.7zM730.5 659.2l-6.3 .9l-6.1 4.3l6.3 -.8zM736.1 652.4l-6.3 1.1l-6 4.2l6.3 -1z"/><path fill=#79a0cf stroke=#79a0cf d="M739.4 852.7l-7.3 -3.6l-7 6.2l7.3 3.7zM663.8 821.1l-6.9 -2.4l-7 5.8l6.9 2.4zM650.6 809.5l-6.8 -2.1l-7 5.6l6.9 2.1zM637.8 792.4l-6.7 -1.5l-6.9 5.4l6.7 1.6zM631.7 778.8l-6.6 -1.1l-6.8 5.2l6.6 1.2zM633 742.1l-6.4 -.2l-6.6 4.9l6.4 .2zM639.6 729l-6.3 .1l-6.5 4.7l6.3 -.1zM646.1 716.8l-6.2 .4l-6.4 4.6l6.2 -.4zM676.8 680.8l-6.1 1.2l-6.2 4.2l6.2 -1.2zM694.4 664.6l-6.1 1.6l-6 4l6.1 -1.5z"/><path fill=#3c6cb2 stroke=#3c6cb2 d="M952.5 656.3l-7.3 -1.9l-6.1 5.4l7.3 1.9zM922.3 637.7l-7.1 -1.2l-6.1 5.1l7.2 1.2z"/><path fill=#5b88c2 stroke=#5b88c2 d="M823.2 760.2l-7.2 -2.7l-6.6 5.8l7.3 2.7zM766.9 723.4l-6.9 -1.4l-6.5 5.3l6.9 1.4zM761.4 655.2l-6.5 .5l-6.1 4.4l6.5 -.4z"/><path fill=#4d7dbc stroke=#4d7dbc d="M859.2 712.6l-7.2 -2.1l-6.4 5.5l7.3 2.2zM811.3 644.6l-6.7 0l-6.1 4.6l6.7 .1z"/><path fill=#a1bddd stroke=#a1bddd d="M593.4 942.5l-7.1 -4l-7.5 6.6l7.1 4zM495.7 882.5l-6.5 -2l-7.3 5.7l6.5 2zM487.4 846.7l-6.2 -1l-7.2 5.3l6.3 1.1zM488.3 840.9l-6.2 -.9l-7.2 5.3l6.2 .9zM522 780.1l-6 .4l-6.7 4.6l5.9 -.4zM536.2 764.6l-5.9 .7l-6.7 4.5l5.9 -.7z"/><path fill=#5180bd stroke=#5180bd d="M839.9 721.1l-7.1 -2.1l-6.5 5.5l7.2 2.2z"/><path fill=#9ebbdc stroke=#9ebbdc d="M593.7 932.5l-7.1 -3.9l-7.4 6.5l7.1 3.9zM533.5 903.9l-6.8 -2.8l-7.4 6l6.8 2.9zM514.7 888.5l-6.6 -2.3l-7.3 5.8l6.6 2.4zM504.3 815.2l-6.1 -.4l-7 5l6.1 .5zM520.6 787.9l-6.1 .2l-6.8 4.7l6 -.1z"/><path fill=#618dc4 stroke=#618dc4 d="M776.3 766.9l-7.1 -2.4l-6.6 5.7l7.1 2.5zM755.5 753.5l-7 -1.9l-6.6 5.5l6.9 1.9zM727 707.2l-6.6 -.6l-6.4 4.9l6.6 .6zM726.8 702.2l-6.6 -.4l-6.4 4.9l6.6 .4z"/><path fill=#4f7ebc stroke=#4f7ebc d="M838.5 707.1l-7.1 -1.9l-6.4 5.4l7.1 1.9zM808.3 672.6l-6.9 -.7l-6.2 4.9l6.9 .8zM805.4 648.9l-6.7 0l-6.1 4.6l6.7 .1z"/><path fill=#6995c9 stroke=#6995c9 d="M737.1 791.9l-7 -2.5l-6.8 5.8l7.1 2.5zM689.3 715.3l-6.5 -.3l-6.5 4.9l6.5 .2zM695.2 698l-6.4 .2l-6.4 4.6l6.4 -.2z"/><path fill=#769ecd stroke=#769ecd d="M690.7 822.8l-7 -2.7l-7 5.9l7.1 2.7zM658.5 708.4l-6.3 .4l-6.4 4.6l6.3 -.5z"/><path fill=#7ca2d0 stroke=#7ca2d0 d="M650.4 824.4l-6.8 -2.4l-7 5.8l6.8 2.4zM637.3 812.9l-6.7 -1.9l-7 5.6l6.8 2zM619.3 771.4l-6.5 -.7l-6.8 5.1l6.5 .8zM619.5 766.1l-6.4 -.7l-6.8 5.1l6.5 .7zM640.1 717.4l-6.2 .5l-6.4 4.5l6.2 -.4zM682.7 672.2l-6 1.4l-6.1 4.1l6 -1.4z"/><path fill=#709acc stroke=#709acc d="M677 788.3l-6.8 -1.9l-6.8 5.6l6.8 1.9zM664.4 719.8l-6.4 0l-6.5 4.7l6.4 0z"/><path fill=#4776b7 stroke=#4776b7 d="M850.6 645.5l-6.9 -.5l-6.1 4.8l6.9 .6z"/><path fill=#a0bddd stroke=#a0bddd d="M519.8 907l-6.7 -2.8l-7.4 6.1l6.7 2.8zM529.1 772.1l-5.9 .7l-6.7 4.5l5.9 -.6z"/><path fill=#80a5d1 stroke=#80a5d1 d="M617.6 814.7l-6.7 -1.8l-6.9 5.6l6.6 1.8z"/><path fill=#90b1d7 stroke=#90b1d7 d="M557.2 848.4l-6.6 -1.9l-7.1 5.6l6.5 1.9zM548.5 802.6l-6.3 -.6l-7 5l6.3 .8zM557.3 778.3l-6.2 -.1l-6.8 4.8l6.2 .1z"/><path fill=#94b4d9 stroke=#94b4d9 d="M543.4 859.1l-6.6 -2l-7.2 5.7l6.6 2zM536.3 801.7l-6.2 -.5l-6.9 5.1l6.2 .5zM559.4 761.7l-6 .4l-6.7 4.7l6 -.4z"/><path fill=#6995c8 stroke=#6995c8 d="M689.6 740.7l-6.6 -.9l-6.6 5.1l6.6 .9zM729.8 651.1l-6.2 1.3l-6 4.1l6.2 -1.2z"/><path fill=#afc7e1 stroke=#afc7e1 d="M451.8 923.3l-6.5 -2.4l-7.5 5.9l6.5 2.5zM453.8 833.2l-6 -.1l-7.1 4.9l6 .2zM477.8 802.8l-5.9 .5l-6.9 4.6l5.9 -.4z"/><path fill=#bbcfe3 stroke=#bbcfe3 d="M398 900.7l-6.1 -1.3l-7.5 5.5l6.1 1.3z"/><path fill=#c5d5e6 stroke=#c5d5e6 d="M361.6 926.9l-6 -1.5l-7.7 5.6l6.1 1.6zM367.4 901.8l-6 -.9l-7.5 5.3l5.9 1z"/><path fill=#bed1e5 stroke=#bed1e5 d="M384.9 904.7l-6.1 -1.2l-7.5 5.4l6 1.3zM386.2 898.5l-6 -1l-7.5 5.3l6 1.2zM425.3 834.1l-5.7 .3l-7.1 4.7l5.7 -.2zM433.2 825.7l-5.7 .5l-7 4.7l5.7 -.4z"/><path fill=#c9d8e7 stroke=#c9d8e7 d="M352.9 912l-5.9 -1l-7.6 5.3l5.9 1.1zM384.2 861.2l-5.7 .1l-7.3 4.8l5.7 0z"/><path fill=#cfdde9 stroke=#cfdde9 d="M332.6 921.3l-5.9 -1l-7.6 5.4l5.9 1z"/><path fill=#d2dfeb stroke=#d2dfeb d="M330.1 909.2l-5.7 -.6l-7.6 5.2l5.8 .6zM340.5 893.9l-5.7 -.3l-7.5 5.1l5.7 .3z"/><path fill=#d9e3ed stroke=#d9e3ed d="M310 918.5l-5.7 -.5l-7.6 5.2l5.7 .6z"/><path fill=#c2d4e5 stroke=#c2d4e5 d="M403.6 851.9l-5.8 0l-7.2 4.9l5.8 0zM411.7 843l-5.7 .3l-7.2 4.8l5.8 -.2z"/><path fill=#dee7ee stroke=#dee7ee d="M299 917.8l-5.7 -.4l-7.6 5.1l5.7 .4zM307.9 907.9l-5.6 -.2l-7.5 5.1l5.6 .2z"/><path fill=#e1e9ef stroke=#e1e9ef d="M293.5 917.5l-5.6 -.3l-7.6 5.1l5.6 .4z"/></g>
<circle cx="696.1" cy="743.8" r="12.6" fill="url(#sphR)"/>
<circle cx="693.1" cy="581.1" r="11.0" fill="url(#sphR)"/>
<circle cx="931.5" cy="761.8" r="13.8" fill="url(#sphR)"/>
<circle cx="498.5" cy="751.0" r="11.6" fill="url(#sphB)"/>
<circle cx="895.5" cy="593.8" r="11.8" fill="url(#sphB)"/>
<circle cx="928.0" cy="904.8" r="13.5" fill="url(#sphB)"/>
<circle cx="702.4" cy="1152.8" r="14.3" fill="url(#sphB)"/>
<g opacity="0.8" clip-path="url(#cpos)"><use href="#rm"/></g>
<circle cx="281.0" cy="927.7" r="12.2" fill="url(#sphB)"/>
<circle cx="279.5" cy="909.5" r="12.3" fill="url(#sphR)"/>
<circle cx="472.7" cy="977.2" r="13.3" fill="url(#sphB)"/>
<circle cx="471.6" cy="955.0" r="13.4" fill="url(#sphR)"/>
<circle cx="701.5" cy="1078.0" r="14.5" fill="url(#sphR)"/>
<circle cx="489.5" cy="535.9" r="12.0" fill="url(#sphR)"/>
<circle cx="896.6" cy="529.9" r="12.0" fill="url(#sphR)"/>
<circle cx="1142.1" cy="424.6" r="13.2" fill="url(#sphR)"/>
<rect x="1264.0" y="374.5" width="35.59999999999991" height="459.9" fill="url(#cbR)" stroke="#333" stroke-width="1.6"/>
<line x1="1299.6" y1="379.4" x2="1314.1" y2="379.4" stroke="#333" stroke-width="1.6"/>
<text x="1322.9" y="390.0" font-size="30.3" style="font-family:'Liberation Sans',Arial,sans-serif">137.6</text>
<line x1="1299.6" y1="424.4" x2="1314.1" y2="424.4" stroke="#333" stroke-width="1.6"/>
<text x="1322.9" y="435.1" font-size="30.3" style="font-family:'Liberation Sans',Arial,sans-serif">129.3</text>
<line x1="1299.6" y1="469.5" x2="1314.1" y2="469.5" stroke="#333" stroke-width="1.6"/>
<text x="1322.9" y="480.1" font-size="30.3" style="font-family:'Liberation Sans',Arial,sans-serif">121.0</text>
<line x1="1299.6" y1="514.5" x2="1314.1" y2="514.5" stroke="#333" stroke-width="1.6"/>
<text x="1322.9" y="525.1" font-size="30.3" style="font-family:'Liberation Sans',Arial,sans-serif">112.8</text>
<line x1="1299.6" y1="559.6" x2="1314.1" y2="559.6" stroke="#333" stroke-width="1.6"/>
<text x="1322.9" y="570.2" font-size="30.3" style="font-family:'Liberation Sans',Arial,sans-serif">104.5</text>
<line x1="1299.6" y1="604.6" x2="1314.1" y2="604.6" stroke="#333" stroke-width="1.6"/>
<text x="1322.9" y="615.2" font-size="30.3" style="font-family:'Liberation Sans',Arial,sans-serif">96.20</text>
<line x1="1299.6" y1="649.7" x2="1314.1" y2="649.7" stroke="#333" stroke-width="1.6"/>
<text x="1322.9" y="660.3" font-size="30.3" style="font-family:'Liberation Sans',Arial,sans-serif">87.92</text>
<line x1="1299.6" y1="694.8" x2="1314.1" y2="694.8" stroke="#333" stroke-width="1.6"/>
<text x="1322.9" y="705.4" font-size="30.3" style="font-family:'Liberation Sans',Arial,sans-serif">79.64</text>
<line x1="1299.6" y1="739.8" x2="1314.1" y2="739.8" stroke="#333" stroke-width="1.6"/>
<text x="1322.9" y="750.4" font-size="30.3" style="font-family:'Liberation Sans',Arial,sans-serif">71.36</text>
<line x1="1299.6" y1="784.8" x2="1314.1" y2="784.8" stroke="#333" stroke-width="1.6"/>
<text x="1322.9" y="795.4" font-size="30.3" style="font-family:'Liberation Sans',Arial,sans-serif">63.08</text>
<line x1="1299.6" y1="829.9" x2="1314.1" y2="829.9" stroke="#333" stroke-width="1.6"/>
<text x="1322.9" y="840.5" font-size="30.3" style="font-family:'Liberation Sans',Arial,sans-serif">54.80</text>
<rect x="1443.8" y="372.8" width="34.5" height="460.2" fill="url(#cbB)" stroke="#333" stroke-width="1.6"/>
<line x1="1478.3" y1="377.0" x2="1493.3" y2="377.0" stroke="#333" stroke-width="1.6"/>
<text x="1501.0" y="387.6" font-size="30.3" style="font-family:'Liberation Sans',Arial,sans-serif">93.40</text>
<line x1="1478.3" y1="422.1" x2="1493.3" y2="422.1" stroke="#333" stroke-width="1.6"/>
<text x="1501.0" y="432.8" font-size="30.3" style="font-family:'Liberation Sans',Arial,sans-serif">88.80</text>
<line x1="1478.3" y1="467.3" x2="1493.3" y2="467.3" stroke="#333" stroke-width="1.6"/>
<text x="1501.0" y="477.9" font-size="30.3" style="font-family:'Liberation Sans',Arial,sans-serif">84.20</text>
<line x1="1478.3" y1="512.5" x2="1493.3" y2="512.5" stroke="#333" stroke-width="1.6"/>
<text x="1501.0" y="523.1" font-size="30.3" style="font-family:'Liberation Sans',Arial,sans-serif">79.60</text>
<line x1="1478.3" y1="557.6" x2="1493.3" y2="557.6" stroke="#333" stroke-width="1.6"/>
<text x="1501.0" y="568.2" font-size="30.3" style="font-family:'Liberation Sans',Arial,sans-serif">75.00</text>
<line x1="1478.3" y1="602.8" x2="1493.3" y2="602.8" stroke="#333" stroke-width="1.6"/>
<text x="1501.0" y="613.4" font-size="30.3" style="font-family:'Liberation Sans',Arial,sans-serif">70.40</text>
<line x1="1478.3" y1="647.9" x2="1493.3" y2="647.9" stroke="#333" stroke-width="1.6"/>
<text x="1501.0" y="658.5" font-size="30.3" style="font-family:'Liberation Sans',Arial,sans-serif">65.80</text>
<line x1="1478.3" y1="693.0" x2="1493.3" y2="693.0" stroke="#333" stroke-width="1.6"/>
<text x="1501.0" y="703.6" font-size="30.3" style="font-family:'Liberation Sans',Arial,sans-serif">61.20</text>
<line x1="1478.3" y1="738.2" x2="1493.3" y2="738.2" stroke="#333" stroke-width="1.6"/>
<text x="1501.0" y="748.8" font-size="30.3" style="font-family:'Liberation Sans',Arial,sans-serif">56.60</text>
<line x1="1478.3" y1="783.3" x2="1493.3" y2="783.3" stroke="#333" stroke-width="1.6"/>
<text x="1501.0" y="793.9" font-size="30.3" style="font-family:'Liberation Sans',Arial,sans-serif">52.00</text>
<line x1="1478.3" y1="828.5" x2="1493.3" y2="828.5" stroke="#333" stroke-width="1.6"/>
<text x="1501.0" y="839.1" font-size="30.3" style="font-family:'Liberation Sans',Arial,sans-serif">47.40</text>
<text x="14" y="1319.2" font-weight="bold" font-size="45" style="font-family:'Liberation Sans',Arial,sans-serif">B</text>
<rect x="100.90" y="1295.20" width="183.63" height="176.37" fill="#efdfe0"/>
<rect x="283.93" y="1295.20" width="183.63" height="176.37" fill="#efdfe0"/>
<rect x="466.97" y="1295.20" width="183.63" height="176.37" fill="#f8f4f4"/>
<rect x="100.90" y="1470.97" width="183.63" height="176.37" fill="#da9394"/>
<rect x="283.93" y="1470.97" width="183.63" height="176.37" fill="#e2aeaf"/>
<rect x="466.97" y="1470.97" width="183.63" height="176.37" fill="#d67072"/>
<rect x="100.90" y="1646.73" width="183.63" height="176.37" fill="#cb3235"/>
<rect x="283.93" y="1646.73" width="183.63" height="176.37" fill="#d67072"/>
<rect x="466.97" y="1646.73" width="183.63" height="176.37" fill="#e0a7a8"/>
<rect x="100.9" y="1295.2" width="549.1" height="527.3" fill="none" stroke="#2a2a2a" stroke-width="1.8"/>
<line x1="90.9" y1="1383.08" x2="100.9" y2="1383.08" stroke="#222" stroke-width="1.6"/>
<text x="83.4" y="1390.98" text-anchor="end" font-size="30.3" style="font-family:'Liberation Sans',Arial,sans-serif">3.6</text>
<line x1="90.9" y1="1558.85" x2="100.9" y2="1558.85" stroke="#222" stroke-width="1.6"/>
<text x="83.4" y="1566.75" text-anchor="end" font-size="30.3" style="font-family:'Liberation Sans',Arial,sans-serif">2.4</text>
<line x1="90.9" y1="1734.62" x2="100.9" y2="1734.62" stroke="#222" stroke-width="1.6"/>
<text x="83.4" y="1742.52" text-anchor="end" font-size="30.3" style="font-family:'Liberation Sans',Arial,sans-serif">1.2</text>
<line x1="192.42" y1="1822.5" x2="192.42" y2="1832.5" stroke="#222" stroke-width="1.6"/>
<text x="192.42" y="1867.5" text-anchor="middle" font-size="30.3" style="font-family:'Liberation Sans',Arial,sans-serif">0.75</text>
<line x1="375.45" y1="1822.5" x2="375.45" y2="1832.5" stroke="#222" stroke-width="1.6"/>
<text x="375.45" y="1867.5" text-anchor="middle" font-size="30.3" style="font-family:'Liberation Sans',Arial,sans-serif">1.5</text>
<line x1="558.48" y1="1822.5" x2="558.48" y2="1832.5" stroke="#222" stroke-width="1.6"/>
<text x="558.48" y="1867.5" text-anchor="middle" font-size="30.3" style="font-family:'Liberation Sans',Arial,sans-serif">2.25</text>
<text x="375.45" y="1912.0" text-anchor="middle" font-size="30.1" style="font-family:'Liberation Sans',Arial,sans-serif">Medium depth [cm]</text>
<text transform="translate(30.5,1558.8) rotate(-90)" text-anchor="middle" font-size="29.6" style="font-family:'Liberation Sans',Arial,sans-serif">Gas exchange area [cm<tspan dy="-11" font-size="19">2</tspan><tspan dy="11">]</tspan></text>
<rect x="677.7" y="1804.92" width="36.799999999999955" height="18.08" fill="#f6f0f0"/>
<rect x="677.7" y="1787.35" width="36.799999999999955" height="18.08" fill="#f4e8e9"/>
<rect x="677.7" y="1769.77" width="36.799999999999955" height="18.08" fill="#f1e2e2"/>
<rect x="677.7" y="1752.19" width="36.799999999999955" height="18.08" fill="#efdadb"/>
<rect x="677.7" y="1734.62" width="36.799999999999955" height="18.08" fill="#ecd4d4"/>
<rect x="677.7" y="1717.04" width="36.799999999999955" height="18.08" fill="#eacccd"/>
<rect x="677.7" y="1699.46" width="36.799999999999955" height="18.08" fill="#e8c6c7"/>
<rect x="677.7" y="1681.89" width="36.799999999999955" height="18.08" fill="#e6c0c0"/>
<rect x="677.7" y="1664.31" width="36.799999999999955" height="18.08" fill="#e5b9ba"/>
<rect x="677.7" y="1646.73" width="36.799999999999955" height="18.08" fill="#e3b3b4"/>
<rect x="677.7" y="1629.16" width="36.799999999999955" height="18.08" fill="#e2acae"/>
<rect x="677.7" y="1611.58" width="36.799999999999955" height="18.08" fill="#e0a6a7"/>
<rect x="677.7" y="1594.00" width="36.799999999999955" height="18.08" fill="#dea0a1"/>
<rect x="677.7" y="1576.43" width="36.799999999999955" height="18.08" fill="#dd999a"/>
<rect x="677.7" y="1558.85" width="36.799999999999955" height="18.08" fill="#dc9394"/>
<rect x="677.7" y="1541.27" width="36.799999999999955" height="18.08" fill="#da8c8e"/>
<rect x="677.7" y="1523.70" width="36.799999999999955" height="18.08" fill="#d98688"/>
<rect x="677.7" y="1506.12" width="36.799999999999955" height="18.08" fill="#d87f81"/>
<rect x="677.7" y="1488.54" width="36.799999999999955" height="18.08" fill="#d7797b"/>
<rect x="677.7" y="1470.97" width="36.799999999999955" height="18.08" fill="#d67376"/>
<rect x="677.7" y="1453.39" width="36.799999999999955" height="18.08" fill="#d56d70"/>
<rect x="677.7" y="1435.81" width="36.799999999999955" height="18.08" fill="#d4676a"/>
<rect x="677.7" y="1418.24" width="36.799999999999955" height="18.08" fill="#d36164"/>
<rect x="677.7" y="1400.66" width="36.799999999999955" height="18.08" fill="#d25b5f"/>
<rect x="677.7" y="1383.08" width="36.799999999999955" height="18.08" fill="#d25559"/>
<rect x="677.7" y="1365.51" width="36.799999999999955" height="18.08" fill="#d04f53"/>
<rect x="677.7" y="1347.93" width="36.799999999999955" height="18.08" fill="#d0484c"/>
<rect x="677.7" y="1330.35" width="36.799999999999955" height="18.08" fill="#ce4246"/>
<rect x="677.7" y="1312.78" width="36.799999999999955" height="18.08" fill="#ce3c40"/>
<rect x="677.7" y="1295.20" width="36.799999999999955" height="18.08" fill="#cc3539"/>
<rect x="677.7" y="1295.2" width="36.799999999999955" height="527.3" fill="none" stroke="#2a2a2a" stroke-width="1.6"/>
<line x1="714.5" y1="1295.20" x2="724.5" y2="1295.20" stroke="#444" stroke-width="1.6"/>
<text x="729.1" y="1305.40" font-size="29.5" style="font-family:'Liberation Sans',Arial,sans-serif">145.0</text>
<line x1="714.5" y1="1400.66" x2="724.5" y2="1400.66" stroke="#444" stroke-width="1.6"/>
<text x="729.1" y="1410.86" font-size="29.5" style="font-family:'Liberation Sans',Arial,sans-serif">126.5</text>
<line x1="714.5" y1="1506.12" x2="724.5" y2="1506.12" stroke="#444" stroke-width="1.6"/>
<text x="729.1" y="1516.32" font-size="29.5" style="font-family:'Liberation Sans',Arial,sans-serif">108.0</text>
<line x1="714.5" y1="1611.58" x2="724.5" y2="1611.58" stroke="#444" stroke-width="1.6"/>
<text x="729.1" y="1621.78" font-size="29.5" style="font-family:'Liberation Sans',Arial,sans-serif">89.50</text>
<line x1="714.5" y1="1717.04" x2="724.5" y2="1717.04" stroke="#444" stroke-width="1.6"/>
<text x="729.1" y="1727.24" font-size="29.5" style="font-family:'Liberation Sans',Arial,sans-serif">71.00</text>
<line x1="714.5" y1="1822.50" x2="724.5" y2="1822.50" stroke="#444" stroke-width="1.6"/>
<text x="729.1" y="1832.70" font-size="29.5" style="font-family:'Liberation Sans',Arial,sans-serif">52.50</text>
<rect x="940.90" y="1295.20" width="183.67" height="176.37" fill="#f3f7f6"/>
<rect x="1123.97" y="1295.20" width="183.67" height="176.37" fill="#c8d9e7"/>
<rect x="1307.03" y="1295.20" width="183.67" height="176.37" fill="#f3f7f6"/>
<rect x="940.90" y="1470.97" width="183.67" height="176.37" fill="#99b9d7"/>
<rect x="1123.97" y="1470.97" width="183.67" height="176.37" fill="#afc8df"/>
<rect x="1307.03" y="1470.97" width="183.67" height="176.37" fill="#a9c4dd"/>
<rect x="940.90" y="1646.73" width="183.67" height="176.37" fill="#5e8bc0"/>
<rect x="1123.97" y="1646.73" width="183.67" height="176.37" fill="#3f6db0"/>
<rect x="1307.03" y="1646.73" width="183.67" height="176.37" fill="#afc8df"/>
<rect x="940.9" y="1295.2" width="549.1999999999999" height="527.3" fill="none" stroke="#2a2a2a" stroke-width="1.8"/>
<line x1="930.9" y1="1383.08" x2="940.9" y2="1383.08" stroke="#222" stroke-width="1.6"/>
<text x="923.4" y="1390.98" text-anchor="end" font-size="30.3" style="font-family:'Liberation Sans',Arial,sans-serif">3.6</text>
<line x1="930.9" y1="1558.85" x2="940.9" y2="1558.85" stroke="#222" stroke-width="1.6"/>
<text x="923.4" y="1566.75" text-anchor="end" font-size="30.3" style="font-family:'Liberation Sans',Arial,sans-serif">2.4</text>
<line x1="930.9" y1="1734.62" x2="940.9" y2="1734.62" stroke="#222" stroke-width="1.6"/>
<text x="923.4" y="1742.52" text-anchor="end" font-size="30.3" style="font-family:'Liberation Sans',Arial,sans-serif">1.2</text>
<line x1="1032.43" y1="1822.5" x2="1032.43" y2="1832.5" stroke="#222" stroke-width="1.6"/>
<text x="1032.43" y="1867.5" text-anchor="middle" font-size="30.3" style="font-family:'Liberation Sans',Arial,sans-serif">0.75</text>
<line x1="1215.50" y1="1822.5" x2="1215.50" y2="1832.5" stroke="#222" stroke-width="1.6"/>
<text x="1215.50" y="1867.5" text-anchor="middle" font-size="30.3" style="font-family:'Liberation Sans',Arial,sans-serif">1.5</text>
<line x1="1398.57" y1="1822.5" x2="1398.57" y2="1832.5" stroke="#222" stroke-width="1.6"/>
<text x="1398.57" y="1867.5" text-anchor="middle" font-size="30.3" style="font-family:'Liberation Sans',Arial,sans-serif">2.25</text>
<text x="1215.50" y="1912.0" text-anchor="middle" font-size="30.1" style="font-family:'Liberation Sans',Arial,sans-serif">Medium depth [cm]</text>
<text transform="translate(870.5,1558.8) rotate(-90)" text-anchor="middle" font-size="29.6" style="font-family:'Liberation Sans',Arial,sans-serif">Gas exchange area [cm<tspan dy="-11" font-size="19">2</tspan><tspan dy="11">]</tspan></text>
<rect x="1517.8" y="1804.92" width="36.90000000000009" height="18.08" fill="#eff3f4"/>
<rect x="1517.8" y="1787.35" width="36.90000000000009" height="18.08" fill="#e7eef1"/>
<rect x="1517.8" y="1769.77" width="36.90000000000009" height="18.08" fill="#dfe8ef"/>
<rect x="1517.8" y="1752.19" width="36.90000000000009" height="18.08" fill="#d8e3ec"/>
<rect x="1517.8" y="1734.62" width="36.90000000000009" height="18.08" fill="#d0ddea"/>
<rect x="1517.8" y="1717.04" width="36.90000000000009" height="18.08" fill="#c8d8e7"/>
<rect x="1517.8" y="1699.46" width="36.90000000000009" height="18.08" fill="#c0d2e5"/>
<rect x="1517.8" y="1681.89" width="36.90000000000009" height="18.08" fill="#b9cee3"/>
<rect x="1517.8" y="1664.31" width="36.90000000000009" height="18.08" fill="#b1c8e1"/>
<rect x="1517.8" y="1646.73" width="36.90000000000009" height="18.08" fill="#aac4df"/>
<rect x="1517.8" y="1629.16" width="36.90000000000009" height="18.08" fill="#a2bedd"/>
<rect x="1517.8" y="1611.58" width="36.90000000000009" height="18.08" fill="#9bbadb"/>
<rect x="1517.8" y="1594.00" width="36.90000000000009" height="18.08" fill="#94b4d9"/>
<rect x="1517.8" y="1576.43" width="36.90000000000009" height="18.08" fill="#8db0d6"/>
<rect x="1517.8" y="1558.85" width="36.90000000000009" height="18.08" fill="#86aad4"/>
<rect x="1517.8" y="1541.27" width="36.90000000000009" height="18.08" fill="#80a6d1"/>
<rect x="1517.8" y="1523.70" width="36.90000000000009" height="18.08" fill="#79a0cf"/>
<rect x="1517.8" y="1506.12" width="36.90000000000009" height="18.08" fill="#729ccc"/>
<rect x="1517.8" y="1488.54" width="36.90000000000009" height="18.08" fill="#6c97ca"/>
<rect x="1517.8" y="1470.97" width="36.90000000000009" height="18.08" fill="#6793c8"/>
<rect x="1517.8" y="1453.39" width="36.90000000000009" height="18.08" fill="#628fc5"/>
<rect x="1517.8" y="1435.81" width="36.90000000000009" height="18.08" fill="#5d8ac3"/>
<rect x="1517.8" y="1418.24" width="36.90000000000009" height="18.08" fill="#5886c0"/>
<rect x="1517.8" y="1400.66" width="36.90000000000009" height="18.08" fill="#5382be"/>
<rect x="1517.8" y="1383.08" width="36.90000000000009" height="18.08" fill="#4e7ebc"/>
<rect x="1517.8" y="1365.51" width="36.90000000000009" height="18.08" fill="#4a7aba"/>
<rect x="1517.8" y="1347.93" width="36.90000000000009" height="18.08" fill="#4676b7"/>
<rect x="1517.8" y="1330.35" width="36.90000000000009" height="18.08" fill="#4271b5"/>
<rect x="1517.8" y="1312.78" width="36.90000000000009" height="18.08" fill="#3e6db2"/>
<rect x="1517.8" y="1295.20" width="36.90000000000009" height="18.08" fill="#3a69b0"/>
<rect x="1517.8" y="1295.2" width="36.90000000000009" height="527.3" fill="none" stroke="#2a2a2a" stroke-width="1.6"/>
<line x1="1554.7" y1="1295.20" x2="1564.7" y2="1295.20" stroke="#444" stroke-width="1.6"/>
<text x="1569.3" y="1305.40" font-size="29.5" style="font-family:'Liberation Sans',Arial,sans-serif">99.20</text>
<line x1="1554.7" y1="1400.66" x2="1564.7" y2="1400.66" stroke="#444" stroke-width="1.6"/>
<text x="1569.3" y="1410.86" font-size="29.5" style="font-family:'Liberation Sans',Arial,sans-serif">89.00</text>
<line x1="1554.7" y1="1506.12" x2="1564.7" y2="1506.12" stroke="#444" stroke-width="1.6"/>
<text x="1569.3" y="1516.32" font-size="29.5" style="font-family:'Liberation Sans',Arial,sans-serif">78.80</text>
<line x1="1554.7" y1="1611.58" x2="1564.7" y2="1611.58" stroke="#444" stroke-width="1.6"/>
<text x="1569.3" y="1621.78" font-size="29.5" style="font-family:'Liberation Sans',Arial,sans-serif">68.60</text>
<line x1="1554.7" y1="1717.04" x2="1564.7" y2="1717.04" stroke="#444" stroke-width="1.6"/>
<text x="1569.3" y="1727.24" font-size="29.5" style="font-family:'Liberation Sans',Arial,sans-serif">58.40</text>
<line x1="1554.7" y1="1822.50" x2="1564.7" y2="1822.50" stroke="#444" stroke-width="1.6"/>
<text x="1569.3" y="1832.70" font-size="29.5" style="font-family:'Liberation Sans',Arial,sans-serif">48.20</text>
<g style="font-family:'Liberation Sans',Arial,sans-serif"><text transform="matrix(1.20868 -0.31548 0.11240 1.32718 222.742 423.765)" x="-50.05" y="0.00" font-size="30">150</text></g>
<g style="font-family:'Liberation Sans',Arial,sans-serif"><text transform="matrix(1.17274 -0.35572 0.10738 1.26821 233.671 561.047)" x="-50.05" y="0.00" font-size="30">125</text></g>
<g style="font-family:'Liberation Sans',Arial,sans-serif"><text transform="matrix(1.15226 -0.39655 0.10457 1.23694 245.257 692.546)" x="-50.05" y="0.00" font-size="30">100</text></g>
<g style="font-family:'Liberation Sans',Arial,sans-serif"><text transform="matrix(1.17352 -0.45060 0.10535 1.26750 255.842 820.849)" x="-33.37" y="0.00" font-size="30">75</text></g>
<g style="font-family:'Liberation Sans',Arial,sans-serif"><text transform="matrix(1.08292 -0.45802 0.10147 1.22382 265.923 944.898)" x="-33.37" y="0.00" font-size="30">50</text></g>
<g style="font-family:'Liberation Sans',Arial,sans-serif"><text transform="matrix(0.12827 1.36585 -1.32848 0.38217 144.153 742.952)" x="-184.00" y="0.00" font-size="30">ICR</text><text transform="matrix(0.12468 1.32761 -1.30632 0.41330 143.944 738.575)" x="-124.00" y="0.00" font-size="30">[pmol</text><text transform="matrix(0.12191 1.29815 -1.28910 0.43685 143.961 737.080)" x="-42.31" y="0.00" font-size="30">O</text><text transform="matrix(0.12436 1.29388 -1.29461 0.44732 143.987 737.039)" x="-18.97" y="7.00" font-size="19">2</text><text transform="matrix(0.12011 1.27892 -1.27778 0.45203 144.059 737.015)" x="-0.07" y="0.00" font-size="30">s</text><text transform="matrix(0.11728 1.26823 -1.26631 0.45580 144.264 737.232)" x="14.93" y="-11.00" font-size="19">-1</text><text transform="matrix(0.11782 1.25458 -1.26338 0.47100 144.283 737.993)" x="40.16" y="0.00" font-size="30">10</text><text transform="matrix(0.11466 1.23985 -1.24955 0.47780 144.697 739.111)" x="73.53" y="-11.00" font-size="19">-6</text><text transform="matrix(0.11461 1.22039 -1.24298 0.49719 144.795 741.433)" x="98.76" y="0.00" font-size="30">cells</text><text transform="matrix(0.11099 1.20024 -1.22593 0.50789 145.569 744.564)" x="158.77" y="-11.00" font-size="19">-1</text><text transform="matrix(0.11241 1.19695 -1.22887 0.51483 145.282 745.233)" x="175.66" y="0.00" font-size="30">]</text></g>
<g style="font-family:'Liberation Sans',Arial,sans-serif"><text transform="matrix(1.05078 -0.45964 0.89279 0.50224 276.264 984.153)" x="-58.39" y="0.00" font-size="30">2.25</text></g>
<g style="font-family:'Liberation Sans',Arial,sans-serif"><text transform="matrix(1.06615 -0.53100 1.03729 0.58251 470.621 1088.560)" x="-58.39" y="0.00" font-size="30">1.50</text></g>
<g style="font-family:'Liberation Sans',Arial,sans-serif"><text transform="matrix(1.07544 -0.62358 1.22154 0.68688 695.334 1214.017)" x="-58.39" y="0.00" font-size="30">0.75</text></g>
<g style="font-family:'Liberation Sans',Arial,sans-serif"><text transform="matrix(0.86129 0.50414 -1.30285 0.62048 355.590 1132.293)" x="-127.55" y="0.00" font-size="30">Medium</text><text transform="matrix(0.92307 0.54030 -1.31210 0.66381 356.959 1133.606)" x="-12.52" y="0.00" font-size="30">depth</text><text transform="matrix(0.97372 0.56994 -1.31767 0.69930 353.729 1132.122)" x="70.89" y="0.00" font-size="30">[cm]</text></g>
<g style="font-family:'Liberation Sans',Arial,sans-serif"><text transform="matrix(1.20662 0.65430 -1.09742 0.65459 707.209 1211.297)" x="0.00" y="0.00" font-size="30">3.6</text></g>
<g style="font-family:'Liberation Sans',Arial,sans-serif"><text transform="matrix(1.19660 0.55455 -0.93302 0.55715 930.063 1082.292)" x="0.00" y="0.00" font-size="30">2.4</text></g>
<g style="font-family:'Liberation Sans',Arial,sans-serif"><text transform="matrix(1.17818 0.47556 -0.80142 0.47982 1125.002 971.544)" x="0.00" y="0.00" font-size="30">1.2</text></g>
<g style="font-family:'Liberation Sans',Arial,sans-serif"><text transform="matrix(0.99382 -0.61478 1.39118 0.71067 1036.016 1116.153)" x="-168.70" y="0.00" font-size="30">Gas</text><text transform="matrix(0.92339 -0.57122 1.38298 0.65904 1029.473 1119.605)" x="-105.35" y="0.00" font-size="30">exchange</text><text transform="matrix(0.85870 -0.53120 1.37224 0.61167 1030.038 1118.688)" x="33.09" y="0.00" font-size="30">area</text><text transform="matrix(0.82283 -0.50901 1.36483 0.58543 1033.333 1116.326)" x="101.47" y="0.00" font-size="30">[cm</text><text transform="matrix(0.80761 -0.49623 1.35327 0.57032 1035.306 1114.321)" x="149.80" y="-11.00" font-size="19">2</text><text transform="matrix(0.80164 -0.49590 1.35993 0.56993 1036.354 1114.263)" x="160.36" y="0.00" font-size="30">]</text></g>
</svg>
</body></html>
